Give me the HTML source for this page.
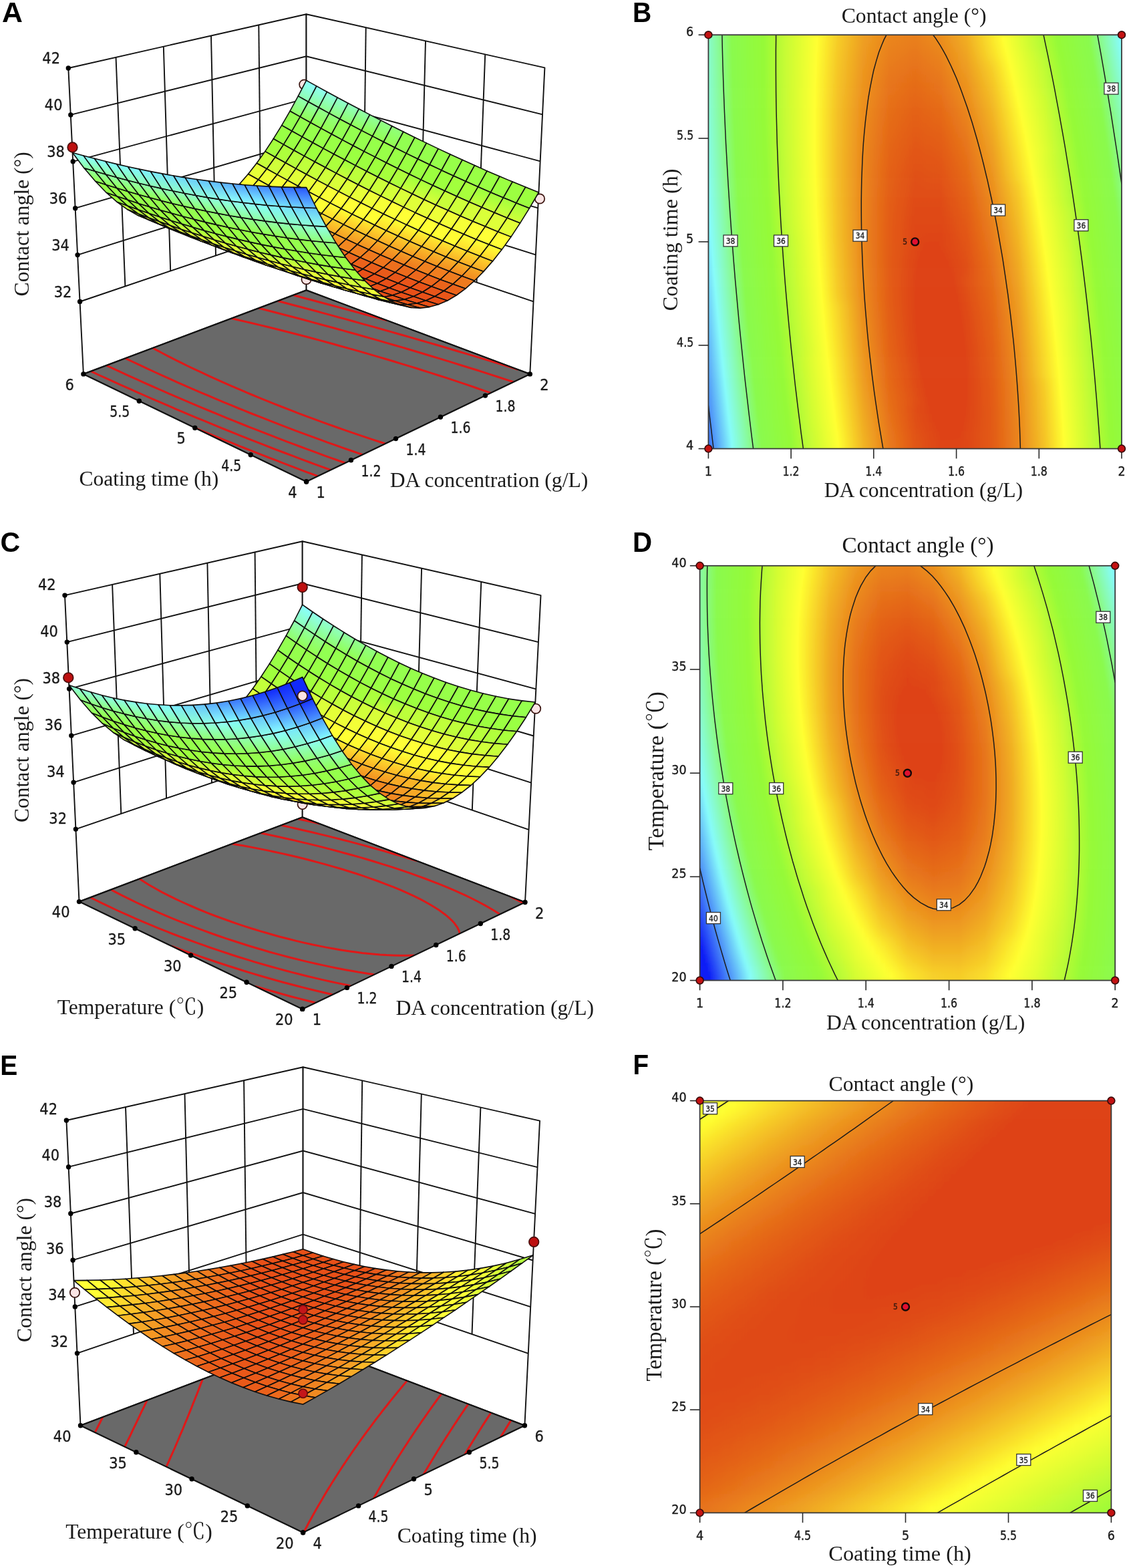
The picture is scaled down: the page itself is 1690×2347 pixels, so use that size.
<!DOCTYPE html>
<html><head><meta charset="utf-8"><title>Contact angle response surfaces</title>
<style>html,body{margin:0;padding:0;background:#fff}svg{display:block}</style></head>
<body>
<svg xmlns="http://www.w3.org/2000/svg" width="1690" height="2347" viewBox="0 0 1690 2347">
<rect width="1690" height="2347" fill="#fff"/>
<defs>
<clipPath id="clipB"><rect x="1060.4" y="52.2" width="618.6" height="619.4"/></clipPath>
<filter id="blB" filterUnits="userSpaceOnUse" x="1020" y="-8" width="699" height="739"><feGaussianBlur stdDeviation="0 7.1"/></filter>
<linearGradient id="gB0"><stop offset="0" stop-color="#88fbcb"/><stop offset="0.0562" stop-color="#8afa4e"/><stop offset="0.1336" stop-color="#96fa37"/><stop offset="0.1875" stop-color="#c7fc34"/><stop offset="0.2632" stop-color="#ffff30"/><stop offset="0.3125" stop-color="#f6cd28"/><stop offset="0.375" stop-color="#ee9f21"/><stop offset="0.4375" stop-color="#ea851d"/><stop offset="0.5" stop-color="#e97f1c"/><stop offset="0.5625" stop-color="#eb8d1e"/><stop offset="0.625" stop-color="#f1ae23"/><stop offset="0.7135" stop-color="#ffff30"/><stop offset="0.8431" stop-color="#96fa37"/><stop offset="0.9205" stop-color="#8afa4e"/><stop offset="0.9961" stop-color="#87fcfa"/><stop offset="1" stop-color="#82f3fa"/></linearGradient>
<linearGradient id="gB1"><stop offset="0" stop-color="#88fbcd"/><stop offset="0.0566" stop-color="#8afa4e"/><stop offset="0.1336" stop-color="#96fa37"/><stop offset="0.1875" stop-color="#c8fc34"/><stop offset="0.262" stop-color="#ffff30"/><stop offset="0.3125" stop-color="#f6cb28"/><stop offset="0.375" stop-color="#ee9d20"/><stop offset="0.4375" stop-color="#e9821c"/><stop offset="0.5" stop-color="#e87b1b"/><stop offset="0.5625" stop-color="#ea881d"/><stop offset="0.625" stop-color="#f0a922"/><stop offset="0.7189" stop-color="#ffff30"/><stop offset="0.8473" stop-color="#96fa37"/><stop offset="0.9244" stop-color="#8afa4e"/><stop offset="0.9997" stop-color="#87fcfa"/><stop offset="1" stop-color="#87fbfa"/></linearGradient>
<linearGradient id="gB2"><stop offset="0" stop-color="#88fbce"/><stop offset="0.057" stop-color="#8afa4e"/><stop offset="0.1337" stop-color="#96fa37"/><stop offset="0.1875" stop-color="#c8fc34"/><stop offset="0.261" stop-color="#ffff30"/><stop offset="0.3125" stop-color="#f6c927"/><stop offset="0.375" stop-color="#ed9a20"/><stop offset="0.4375" stop-color="#e97f1c"/><stop offset="0.5" stop-color="#e7771a"/><stop offset="0.5625" stop-color="#e9831c"/><stop offset="0.625" stop-color="#efa421"/><stop offset="0.7242" stop-color="#ffff30"/><stop offset="0.8125" stop-color="#bbfc35"/><stop offset="0.8515" stop-color="#96fa37"/><stop offset="0.9282" stop-color="#8afa4e"/><stop offset="1" stop-color="#87fcf2"/></linearGradient>
<linearGradient id="gB3"><stop offset="0" stop-color="#88fcd0"/><stop offset="0.0575" stop-color="#8afa4e"/><stop offset="0.1339" stop-color="#96fa37"/><stop offset="0.1875" stop-color="#c8fc34"/><stop offset="0.26" stop-color="#ffff30"/><stop offset="0.3125" stop-color="#f5c827"/><stop offset="0.375" stop-color="#ed9820"/><stop offset="0.4375" stop-color="#e87c1b"/><stop offset="0.5" stop-color="#e7741a"/><stop offset="0.5625" stop-color="#e97f1c"/><stop offset="0.625" stop-color="#ee9f21"/><stop offset="0.6875" stop-color="#f7d229"/><stop offset="0.7294" stop-color="#ffff30"/><stop offset="0.8125" stop-color="#bffc34"/><stop offset="0.8556" stop-color="#96fa37"/><stop offset="0.9319" stop-color="#8afa4e"/><stop offset="1" stop-color="#87fce9"/></linearGradient>
<linearGradient id="gB4"><stop offset="0" stop-color="#88fcd1"/><stop offset="0.0581" stop-color="#8afa4e"/><stop offset="0.1341" stop-color="#96fa37"/><stop offset="0.1875" stop-color="#c8fc34"/><stop offset="0.2592" stop-color="#ffff30"/><stop offset="0.3125" stop-color="#f5c627"/><stop offset="0.375" stop-color="#ed961f"/><stop offset="0.4375" stop-color="#e8791b"/><stop offset="0.5" stop-color="#e67019"/><stop offset="0.5625" stop-color="#e87b1b"/><stop offset="0.625" stop-color="#ed9a20"/><stop offset="0.6875" stop-color="#f6cc28"/><stop offset="0.7344" stop-color="#ffff30"/><stop offset="0.8125" stop-color="#c3fc34"/><stop offset="0.8596" stop-color="#96fa37"/><stop offset="0.9356" stop-color="#8afa4e"/><stop offset="1" stop-color="#87fce1"/></linearGradient>
<linearGradient id="gB5"><stop offset="0" stop-color="#88fcd3"/><stop offset="0.0587" stop-color="#8afa4e"/><stop offset="0.1344" stop-color="#96fa37"/><stop offset="0.1875" stop-color="#c8fc34"/><stop offset="0.2586" stop-color="#ffff30"/><stop offset="0.3125" stop-color="#f5c527"/><stop offset="0.375" stop-color="#ec941f"/><stop offset="0.4375" stop-color="#e7761a"/><stop offset="0.5" stop-color="#e56d19"/><stop offset="0.5625" stop-color="#e7771a"/><stop offset="0.625" stop-color="#ec951f"/><stop offset="0.6875" stop-color="#f5c727"/><stop offset="0.7393" stop-color="#ffff30"/><stop offset="0.8125" stop-color="#c6fc34"/><stop offset="0.8635" stop-color="#96fa37"/><stop offset="0.9392" stop-color="#8afa4e"/><stop offset="1" stop-color="#88fcd8"/></linearGradient>
<linearGradient id="gB6"><stop offset="0" stop-color="#88fcd5"/><stop offset="0.0593" stop-color="#8afa4e"/><stop offset="0.1347" stop-color="#96fa37"/><stop offset="0.1875" stop-color="#c8fc34"/><stop offset="0.258" stop-color="#ffff30"/><stop offset="0.3125" stop-color="#f5c327"/><stop offset="0.375" stop-color="#ec921f"/><stop offset="0.4375" stop-color="#e7741a"/><stop offset="0.5" stop-color="#e56918"/><stop offset="0.5625" stop-color="#e7731a"/><stop offset="0.625" stop-color="#ec901e"/><stop offset="0.6875" stop-color="#f4c126"/><stop offset="0.7441" stop-color="#ffff30"/><stop offset="0.8125" stop-color="#cafc34"/><stop offset="0.8674" stop-color="#96fa37"/><stop offset="0.9428" stop-color="#8afa4e"/><stop offset="1" stop-color="#88fcd0"/></linearGradient>
<linearGradient id="gB7"><stop offset="0" stop-color="#88fcd7"/><stop offset="0.06" stop-color="#8afa4e"/><stop offset="0.1351" stop-color="#96fa37"/><stop offset="0.1875" stop-color="#c8fc34"/><stop offset="0.2576" stop-color="#ffff30"/><stop offset="0.3125" stop-color="#f4c226"/><stop offset="0.375" stop-color="#ec901e"/><stop offset="0.4375" stop-color="#e67119"/><stop offset="0.5" stop-color="#e46618"/><stop offset="0.5625" stop-color="#e66f19"/><stop offset="0.625" stop-color="#eb8c1e"/><stop offset="0.6875" stop-color="#f3bc25"/><stop offset="0.7488" stop-color="#ffff30"/><stop offset="0.8125" stop-color="#cefd33"/><stop offset="0.8712" stop-color="#96fa37"/><stop offset="0.9463" stop-color="#8afa4e"/><stop offset="1" stop-color="#88fbc8"/></linearGradient>
<linearGradient id="gB8"><stop offset="0" stop-color="#88fcda"/><stop offset="0.0608" stop-color="#8afa4e"/><stop offset="0.1356" stop-color="#96fa37"/><stop offset="0.1875" stop-color="#c8fc34"/><stop offset="0.2573" stop-color="#ffff30"/><stop offset="0.3125" stop-color="#f4c126"/><stop offset="0.375" stop-color="#eb8e1e"/><stop offset="0.4375" stop-color="#e66f19"/><stop offset="0.5" stop-color="#e46317"/><stop offset="0.5625" stop-color="#e56b19"/><stop offset="0.625" stop-color="#ea871d"/><stop offset="0.6875" stop-color="#f2b725"/><stop offset="0.7533" stop-color="#ffff30"/><stop offset="0.8125" stop-color="#d1fd33"/><stop offset="0.875" stop-color="#96fa37"/><stop offset="0.9498" stop-color="#8afa4e"/><stop offset="1" stop-color="#88fbc0"/></linearGradient>
<linearGradient id="gB9"><stop offset="0" stop-color="#88fcdc"/><stop offset="0.0616" stop-color="#8afa4e"/><stop offset="0.1362" stop-color="#96fa37"/><stop offset="0.1875" stop-color="#c8fc34"/><stop offset="0.257" stop-color="#ffff30"/><stop offset="0.3125" stop-color="#f4c026"/><stop offset="0.375" stop-color="#eb8d1e"/><stop offset="0.4375" stop-color="#e56d19"/><stop offset="0.5" stop-color="#e36017"/><stop offset="0.5625" stop-color="#e56818"/><stop offset="0.625" stop-color="#e9831c"/><stop offset="0.6875" stop-color="#f2b224"/><stop offset="0.7578" stop-color="#ffff30"/><stop offset="0.8125" stop-color="#d5fd33"/><stop offset="0.8787" stop-color="#96fa37"/><stop offset="0.9532" stop-color="#8afa4e"/><stop offset="1" stop-color="#88fbb8"/></linearGradient>
<linearGradient id="gB10"><stop offset="0" stop-color="#87fcdf"/><stop offset="0.0625" stop-color="#8afa4e"/><stop offset="0.1368" stop-color="#96fa37"/><stop offset="0.1875" stop-color="#c7fc34"/><stop offset="0.2569" stop-color="#ffff30"/><stop offset="0.3125" stop-color="#f4c026"/><stop offset="0.375" stop-color="#eb8b1e"/><stop offset="0.4375" stop-color="#e56b18"/><stop offset="0.5" stop-color="#e35e16"/><stop offset="0.5625" stop-color="#e46517"/><stop offset="0.625" stop-color="#e97f1c"/><stop offset="0.6875" stop-color="#f1ae23"/><stop offset="0.7621" stop-color="#ffff30"/><stop offset="0.8125" stop-color="#d8fd33"/><stop offset="0.8823" stop-color="#96fa37"/><stop offset="0.9566" stop-color="#8afa4e"/><stop offset="1" stop-color="#88fbb0"/></linearGradient>
<linearGradient id="gB11"><stop offset="0" stop-color="#87fce1"/><stop offset="0.0634" stop-color="#8afa4e"/><stop offset="0.1375" stop-color="#96fa37"/><stop offset="0.1875" stop-color="#c7fc34"/><stop offset="0.2569" stop-color="#ffff30"/><stop offset="0.3125" stop-color="#f4bf26"/><stop offset="0.375" stop-color="#eb8a1d"/><stop offset="0.4375" stop-color="#e56918"/><stop offset="0.5" stop-color="#e25b16"/><stop offset="0.5625" stop-color="#e36117"/><stop offset="0.625" stop-color="#e87b1b"/><stop offset="0.6875" stop-color="#f0a922"/><stop offset="0.7663" stop-color="#ffff30"/><stop offset="0.8125" stop-color="#dbfd32"/><stop offset="0.8858" stop-color="#96fa37"/><stop offset="0.9599" stop-color="#8afa4e"/><stop offset="1" stop-color="#88fba9"/></linearGradient>
<linearGradient id="gB12"><stop offset="0" stop-color="#87fce4"/><stop offset="0.0643" stop-color="#8afa4e"/><stop offset="0.1382" stop-color="#96fa37"/><stop offset="0.1875" stop-color="#c6fc34"/><stop offset="0.257" stop-color="#ffff30"/><stop offset="0.3125" stop-color="#f4bf26"/><stop offset="0.375" stop-color="#ea891d"/><stop offset="0.4375" stop-color="#e46718"/><stop offset="0.5" stop-color="#e25916"/><stop offset="0.5625" stop-color="#e35e16"/><stop offset="0.625" stop-color="#e7771a"/><stop offset="0.6875" stop-color="#efa522"/><stop offset="0.7705" stop-color="#ffff30"/><stop offset="0.8125" stop-color="#defd32"/><stop offset="0.8893" stop-color="#96fa37"/><stop offset="0.9632" stop-color="#8afa4e"/><stop offset="1" stop-color="#89fba1"/></linearGradient>
<linearGradient id="gB13"><stop offset="0" stop-color="#87fce7"/><stop offset="0.0654" stop-color="#8afa4e"/><stop offset="0.139" stop-color="#96fa37"/><stop offset="0.1875" stop-color="#c6fc34"/><stop offset="0.2572" stop-color="#ffff30"/><stop offset="0.3125" stop-color="#f4be26"/><stop offset="0.375" stop-color="#ea881d"/><stop offset="0.4375" stop-color="#e46518"/><stop offset="0.5" stop-color="#e25615"/><stop offset="0.5625" stop-color="#e25b16"/><stop offset="0.625" stop-color="#e7741a"/><stop offset="0.6875" stop-color="#eea021"/><stop offset="0.7745" stop-color="#ffff30"/><stop offset="0.8125" stop-color="#e2fe32"/><stop offset="0.8927" stop-color="#96fa37"/><stop offset="0.9664" stop-color="#8afa4e"/><stop offset="1" stop-color="#89fb9a"/></linearGradient>
<linearGradient id="gB14"><stop offset="0" stop-color="#87fcea"/><stop offset="0.0664" stop-color="#8afa4e"/><stop offset="0.1399" stop-color="#96fa37"/><stop offset="0.1875" stop-color="#c5fc34"/><stop offset="0.2575" stop-color="#ffff30"/><stop offset="0.3125" stop-color="#f4be26"/><stop offset="0.375" stop-color="#ea871d"/><stop offset="0.4375" stop-color="#e46417"/><stop offset="0.5" stop-color="#e15415"/><stop offset="0.5625" stop-color="#e25816"/><stop offset="0.625" stop-color="#e67019"/><stop offset="0.6875" stop-color="#ee9c20"/><stop offset="0.7784" stop-color="#ffff30"/><stop offset="0.8961" stop-color="#96fa37"/><stop offset="0.9695" stop-color="#8afa4e"/><stop offset="1" stop-color="#89fb93"/></linearGradient>
<linearGradient id="gB15"><stop offset="0" stop-color="#87fced"/><stop offset="0.0676" stop-color="#8afa4e"/><stop offset="0.1408" stop-color="#96fa37"/><stop offset="0.1875" stop-color="#c4fc34"/><stop offset="0.2579" stop-color="#ffff30"/><stop offset="0.3125" stop-color="#f4be26"/><stop offset="0.375" stop-color="#ea861d"/><stop offset="0.4375" stop-color="#e46217"/><stop offset="0.5" stop-color="#e15215"/><stop offset="0.5625" stop-color="#e15615"/><stop offset="0.625" stop-color="#e56d19"/><stop offset="0.6875" stop-color="#ed9820"/><stop offset="0.7823" stop-color="#ffff30"/><stop offset="0.8994" stop-color="#96fa37"/><stop offset="0.9726" stop-color="#8afa4e"/><stop offset="1" stop-color="#89fb8c"/></linearGradient>
<linearGradient id="gB16"><stop offset="0" stop-color="#87fcf0"/><stop offset="0.0687" stop-color="#8afa4e"/><stop offset="0.1418" stop-color="#96fa37"/><stop offset="0.1875" stop-color="#c4fc34"/><stop offset="0.2584" stop-color="#ffff30"/><stop offset="0.3125" stop-color="#f4be26"/><stop offset="0.375" stop-color="#ea861d"/><stop offset="0.4375" stop-color="#e36117"/><stop offset="0.5" stop-color="#e05014"/><stop offset="0.5625" stop-color="#e15315"/><stop offset="0.625" stop-color="#e56a18"/><stop offset="0.6875" stop-color="#ec941f"/><stop offset="0.786" stop-color="#ffff30"/><stop offset="0.9026" stop-color="#96fa37"/><stop offset="0.9757" stop-color="#8afa4e"/><stop offset="1" stop-color="#89fb85"/></linearGradient>
<linearGradient id="gB17"><stop offset="0" stop-color="#87fcf4"/><stop offset="0.0699" stop-color="#8afa4e"/><stop offset="0.1428" stop-color="#96fa37"/><stop offset="0.1875" stop-color="#c3fc34"/><stop offset="0.259" stop-color="#ffff30"/><stop offset="0.3125" stop-color="#f4be26"/><stop offset="0.375" stop-color="#ea851d"/><stop offset="0.4375" stop-color="#e36017"/><stop offset="0.5" stop-color="#e04e14"/><stop offset="0.5625" stop-color="#e15014"/><stop offset="0.625" stop-color="#e46618"/><stop offset="0.6875" stop-color="#ec901e"/><stop offset="0.75" stop-color="#f6ce28"/><stop offset="0.7896" stop-color="#ffff30"/><stop offset="0.9058" stop-color="#96fa37"/><stop offset="0.9787" stop-color="#8afa4e"/><stop offset="1" stop-color="#89fb7e"/></linearGradient>
<linearGradient id="gB18"><stop offset="0" stop-color="#87fcf7"/><stop offset="0.0712" stop-color="#8afa4e"/><stop offset="0.1439" stop-color="#96fa37"/><stop offset="0.1875" stop-color="#c2fc34"/><stop offset="0.2597" stop-color="#ffff30"/><stop offset="0.3125" stop-color="#f4bf26"/><stop offset="0.375" stop-color="#ea851d"/><stop offset="0.4375" stop-color="#e35f17"/><stop offset="0.5" stop-color="#e04d14"/><stop offset="0.5625" stop-color="#e04e14"/><stop offset="0.625" stop-color="#e46317"/><stop offset="0.6875" stop-color="#eb8c1e"/><stop offset="0.75" stop-color="#f6c927"/><stop offset="0.7932" stop-color="#ffff30"/><stop offset="0.9089" stop-color="#96fa37"/><stop offset="0.9817" stop-color="#8afa4e"/><stop offset="1" stop-color="#89fa77"/></linearGradient>
<linearGradient id="gB19"><stop offset="0" stop-color="#87fbfa"/><stop offset="0.0003" stop-color="#87fcfa"/><stop offset="0.0725" stop-color="#8afa4e"/><stop offset="0.1451" stop-color="#96fa37"/><stop offset="0.1875" stop-color="#c1fc34"/><stop offset="0.2604" stop-color="#ffff30"/><stop offset="0.3125" stop-color="#f4bf26"/><stop offset="0.375" stop-color="#ea851d"/><stop offset="0.4375" stop-color="#e35e16"/><stop offset="0.5" stop-color="#e04b13"/><stop offset="0.5625" stop-color="#e04c14"/><stop offset="0.625" stop-color="#e36117"/><stop offset="0.6875" stop-color="#ea891d"/><stop offset="0.75" stop-color="#f5c527"/><stop offset="0.7967" stop-color="#ffff30"/><stop offset="0.912" stop-color="#96fa37"/><stop offset="0.9846" stop-color="#8afa4e"/><stop offset="1" stop-color="#89fa71"/></linearGradient>
<linearGradient id="gB20"><stop offset="0" stop-color="#85f8fa"/><stop offset="0.0018" stop-color="#87fcfa"/><stop offset="0.0739" stop-color="#8afa4e"/><stop offset="0.1463" stop-color="#96fa37"/><stop offset="0.1875" stop-color="#c0fc34"/><stop offset="0.2613" stop-color="#ffff30"/><stop offset="0.3125" stop-color="#f4c026"/><stop offset="0.375" stop-color="#ea851d"/><stop offset="0.4375" stop-color="#e35d16"/><stop offset="0.5" stop-color="#df4a13"/><stop offset="0.5625" stop-color="#df4a13"/><stop offset="0.625" stop-color="#e35e16"/><stop offset="0.6875" stop-color="#ea861d"/><stop offset="0.75" stop-color="#f4c126"/><stop offset="0.8001" stop-color="#ffff30"/><stop offset="0.875" stop-color="#bffc34"/><stop offset="0.915" stop-color="#96fa37"/><stop offset="0.9874" stop-color="#8afa4e"/><stop offset="1" stop-color="#8afa6a"/></linearGradient>
<linearGradient id="gB21"><stop offset="0" stop-color="#83f4fa"/><stop offset="0.0033" stop-color="#87fcfa"/><stop offset="0.0753" stop-color="#8afa4e"/><stop offset="0.1476" stop-color="#96fa37"/><stop offset="0.1875" stop-color="#bffc34"/><stop offset="0.2622" stop-color="#ffff30"/><stop offset="0.3125" stop-color="#f4c126"/><stop offset="0.375" stop-color="#ea851d"/><stop offset="0.4375" stop-color="#e35d16"/><stop offset="0.5" stop-color="#df4813"/><stop offset="0.5625" stop-color="#df4813"/><stop offset="0.625" stop-color="#e25b16"/><stop offset="0.6875" stop-color="#e9821c"/><stop offset="0.75" stop-color="#f3bd26"/><stop offset="0.8034" stop-color="#ffff30"/><stop offset="0.875" stop-color="#c2fc34"/><stop offset="0.918" stop-color="#96fa37"/><stop offset="0.9903" stop-color="#8afa4e"/><stop offset="1" stop-color="#8afa64"/></linearGradient>
<linearGradient id="gB22"><stop offset="0" stop-color="#81f1fa"/><stop offset="0.0049" stop-color="#87fcfa"/><stop offset="0.0768" stop-color="#8afa4e"/><stop offset="0.149" stop-color="#96fa37"/><stop offset="0.1875" stop-color="#bdfc34"/><stop offset="0.2632" stop-color="#ffff30"/><stop offset="0.3125" stop-color="#f4c126"/><stop offset="0.375" stop-color="#ea851d"/><stop offset="0.4375" stop-color="#e35c16"/><stop offset="0.5" stop-color="#df4713"/><stop offset="0.5625" stop-color="#df4613"/><stop offset="0.625" stop-color="#e25916"/><stop offset="0.6875" stop-color="#e97f1c"/><stop offset="0.75" stop-color="#f3b925"/><stop offset="0.8066" stop-color="#ffff30"/><stop offset="0.875" stop-color="#c5fc34"/><stop offset="0.9208" stop-color="#96fa37"/><stop offset="0.993" stop-color="#8afa4e"/><stop offset="1" stop-color="#8afa5e"/></linearGradient>
<linearGradient id="gB23"><stop offset="0" stop-color="#7fedfa"/><stop offset="0.0065" stop-color="#87fcfa"/><stop offset="0.0783" stop-color="#8afa4e"/><stop offset="0.1504" stop-color="#96fa37"/><stop offset="0.2643" stop-color="#ffff30"/><stop offset="0.3125" stop-color="#f4c226"/><stop offset="0.375" stop-color="#ea851d"/><stop offset="0.4375" stop-color="#e35c16"/><stop offset="0.5" stop-color="#df4613"/><stop offset="0.5625" stop-color="#de4412"/><stop offset="0.625" stop-color="#e25615"/><stop offset="0.6875" stop-color="#e87c1b"/><stop offset="0.75" stop-color="#f2b624"/><stop offset="0.8097" stop-color="#ffff30"/><stop offset="0.875" stop-color="#c7fc34"/><stop offset="0.9237" stop-color="#96fa37"/><stop offset="0.9957" stop-color="#8afa4e"/><stop offset="1" stop-color="#8afa58"/></linearGradient>
<linearGradient id="gB24"><stop offset="0" stop-color="#7de9fa"/><stop offset="0.0081" stop-color="#87fcfa"/><stop offset="0.0799" stop-color="#8afa4e"/><stop offset="0.1518" stop-color="#96fa37"/><stop offset="0.2655" stop-color="#ffff30"/><stop offset="0.3125" stop-color="#f5c327"/><stop offset="0.375" stop-color="#ea861d"/><stop offset="0.4375" stop-color="#e25c16"/><stop offset="0.5241" stop-color="#de4212"/><stop offset="0.5542" stop-color="#de4212"/><stop offset="0.625" stop-color="#e15415"/><stop offset="0.6875" stop-color="#e8791b"/><stop offset="0.75" stop-color="#f2b224"/><stop offset="0.8127" stop-color="#ffff30"/><stop offset="0.875" stop-color="#cafc34"/><stop offset="0.9264" stop-color="#96fa37"/><stop offset="0.9984" stop-color="#8afa4e"/><stop offset="1" stop-color="#8afa52"/></linearGradient>
<linearGradient id="gB25"><stop offset="0" stop-color="#7be5fa"/><stop offset="0.0098" stop-color="#87fcfa"/><stop offset="0.0815" stop-color="#8afa4e"/><stop offset="0.1534" stop-color="#96fa37"/><stop offset="0.2668" stop-color="#ffff30"/><stop offset="0.3125" stop-color="#f5c527"/><stop offset="0.375" stop-color="#ea861d"/><stop offset="0.4375" stop-color="#e25c16"/><stop offset="0.515" stop-color="#de4212"/><stop offset="0.5675" stop-color="#de4212"/><stop offset="0.625" stop-color="#e15215"/><stop offset="0.6875" stop-color="#e7761a"/><stop offset="0.75" stop-color="#f1af23"/><stop offset="0.8157" stop-color="#ffff30"/><stop offset="0.875" stop-color="#cdfd33"/><stop offset="0.9292" stop-color="#96fa37"/><stop offset="1" stop-color="#8afa4e"/></linearGradient>
<linearGradient id="gB26"><stop offset="0" stop-color="#78e1fa"/><stop offset="0.0115" stop-color="#87fcfa"/><stop offset="0.0831" stop-color="#8afa4e"/><stop offset="0.1549" stop-color="#96fa37"/><stop offset="0.2681" stop-color="#ffff30"/><stop offset="0.3125" stop-color="#f5c627"/><stop offset="0.375" stop-color="#ea871d"/><stop offset="0.4375" stop-color="#e25c16"/><stop offset="0.51" stop-color="#de4212"/><stop offset="0.5767" stop-color="#de4212"/><stop offset="0.625" stop-color="#e05014"/><stop offset="0.6875" stop-color="#e7741a"/><stop offset="0.75" stop-color="#f0ab23"/><stop offset="0.8186" stop-color="#ffff30"/><stop offset="0.875" stop-color="#cffd33"/><stop offset="0.9318" stop-color="#96fa37"/><stop offset="1" stop-color="#8bfa4d"/></linearGradient>
<linearGradient id="gB27"><stop offset="0" stop-color="#76ddf9"/><stop offset="0.0132" stop-color="#87fcfa"/><stop offset="0.0848" stop-color="#8afa4e"/><stop offset="0.1566" stop-color="#96fa37"/><stop offset="0.2696" stop-color="#ffff30"/><stop offset="0.3125" stop-color="#f5c827"/><stop offset="0.375" stop-color="#ea881d"/><stop offset="0.4375" stop-color="#e25c16"/><stop offset="0.5069" stop-color="#de4212"/><stop offset="0.5841" stop-color="#de4212"/><stop offset="0.625" stop-color="#e04e14"/><stop offset="0.6875" stop-color="#e6711a"/><stop offset="0.75" stop-color="#f0a822"/><stop offset="0.8214" stop-color="#ffff30"/><stop offset="0.875" stop-color="#d2fd33"/><stop offset="0.9344" stop-color="#96fa37"/><stop offset="1" stop-color="#8bfa4c"/></linearGradient>
<linearGradient id="gB28"><stop offset="0" stop-color="#74d8f9"/><stop offset="0.0151" stop-color="#87fcfa"/><stop offset="0.0866" stop-color="#8afa4e"/><stop offset="0.1582" stop-color="#96fa37"/><stop offset="0.2711" stop-color="#ffff30"/><stop offset="0.3125" stop-color="#f6c927"/><stop offset="0.375" stop-color="#ea891d"/><stop offset="0.4375" stop-color="#e35c16"/><stop offset="0.5049" stop-color="#de4212"/><stop offset="0.5903" stop-color="#de4212"/><stop offset="0.6875" stop-color="#e66f19"/><stop offset="0.75" stop-color="#efa522"/><stop offset="0.8241" stop-color="#ffff30"/><stop offset="0.875" stop-color="#d4fd33"/><stop offset="0.937" stop-color="#96fa37"/><stop offset="1" stop-color="#8cfa4b"/></linearGradient>
<linearGradient id="gB29"><stop offset="0" stop-color="#71d4f9"/><stop offset="0.0169" stop-color="#87fcfa"/><stop offset="0.0884" stop-color="#8afa4e"/><stop offset="0.16" stop-color="#96fa37"/><stop offset="0.2727" stop-color="#ffff30"/><stop offset="0.3125" stop-color="#f6cb28"/><stop offset="0.375" stop-color="#eb8a1d"/><stop offset="0.4375" stop-color="#e35d16"/><stop offset="0.5037" stop-color="#de4212"/><stop offset="0.5957" stop-color="#de4212"/><stop offset="0.6875" stop-color="#e56d19"/><stop offset="0.75" stop-color="#efa221"/><stop offset="0.8268" stop-color="#ffff30"/><stop offset="0.875" stop-color="#d6fd33"/><stop offset="0.9394" stop-color="#96fa37"/><stop offset="1" stop-color="#8cfa4a"/></linearGradient>
<linearGradient id="gB30"><stop offset="0" stop-color="#6fcff9"/><stop offset="0.0188" stop-color="#87fcfa"/><stop offset="0.0902" stop-color="#8afa4e"/><stop offset="0.1618" stop-color="#96fa37"/><stop offset="0.2743" stop-color="#ffff30"/><stop offset="0.3125" stop-color="#f6cd28"/><stop offset="0.375" stop-color="#eb8b1e"/><stop offset="0.4375" stop-color="#e35d16"/><stop offset="0.5032" stop-color="#de4212"/><stop offset="0.5625" stop-color="#de4212"/><stop offset="0.6004" stop-color="#de4212"/><stop offset="0.6875" stop-color="#e56b18"/><stop offset="0.75" stop-color="#ee9f21"/><stop offset="0.8293" stop-color="#ffff30"/><stop offset="0.875" stop-color="#d9fd33"/><stop offset="0.9419" stop-color="#96fa37"/><stop offset="1" stop-color="#8cfa49"/></linearGradient>
<linearGradient id="gB31"><stop offset="0" stop-color="#6ccaf9"/><stop offset="0.0207" stop-color="#87fcfa"/><stop offset="0.0921" stop-color="#8afa4e"/><stop offset="0.1636" stop-color="#96fa37"/><stop offset="0.2761" stop-color="#ffff30"/><stop offset="0.375" stop-color="#eb8d1e"/><stop offset="0.4375" stop-color="#e35e16"/><stop offset="0.5033" stop-color="#de4212"/><stop offset="0.5625" stop-color="#de4212"/><stop offset="0.6046" stop-color="#de4212"/><stop offset="0.6875" stop-color="#e56918"/><stop offset="0.75" stop-color="#ee9d20"/><stop offset="0.8318" stop-color="#ffff30"/><stop offset="0.875" stop-color="#dbfd32"/><stop offset="0.9443" stop-color="#96fa37"/><stop offset="1" stop-color="#8dfa49"/></linearGradient>
<linearGradient id="gB32"><stop offset="0" stop-color="#6ac6f9"/><stop offset="0.0227" stop-color="#87fcfa"/><stop offset="0.0941" stop-color="#8afa4e"/><stop offset="0.1655" stop-color="#96fa37"/><stop offset="0.2779" stop-color="#ffff30"/><stop offset="0.375" stop-color="#eb8e1e"/><stop offset="0.4375" stop-color="#e35f17"/><stop offset="0.5038" stop-color="#de4212"/><stop offset="0.5625" stop-color="#de4212"/><stop offset="0.6083" stop-color="#de4212"/><stop offset="0.6875" stop-color="#e46718"/><stop offset="0.75" stop-color="#ed9a20"/><stop offset="0.8342" stop-color="#ffff30"/><stop offset="0.875" stop-color="#ddfd32"/><stop offset="0.9466" stop-color="#96fa37"/><stop offset="1" stop-color="#8dfa48"/></linearGradient>
<linearGradient id="gB33"><stop offset="0" stop-color="#67c1f9"/><stop offset="0.0247" stop-color="#87fcfa"/><stop offset="0.0961" stop-color="#8afa4e"/><stop offset="0.1675" stop-color="#96fa37"/><stop offset="0.2798" stop-color="#ffff30"/><stop offset="0.375" stop-color="#ec901e"/><stop offset="0.4375" stop-color="#e36017"/><stop offset="0.5048" stop-color="#de4212"/><stop offset="0.5625" stop-color="#de4212"/><stop offset="0.6115" stop-color="#de4212"/><stop offset="0.6875" stop-color="#e46518"/><stop offset="0.75" stop-color="#ed9820"/><stop offset="0.8365" stop-color="#ffff30"/><stop offset="0.875" stop-color="#dffd32"/><stop offset="0.9488" stop-color="#96fa37"/><stop offset="1" stop-color="#8efa47"/></linearGradient>
<linearGradient id="gB34"><stop offset="0" stop-color="#64bcf9"/><stop offset="0.0267" stop-color="#87fcfa"/><stop offset="0.0981" stop-color="#8afa4e"/><stop offset="0.1695" stop-color="#96fa37"/><stop offset="0.2818" stop-color="#ffff30"/><stop offset="0.375" stop-color="#ec921f"/><stop offset="0.4375" stop-color="#e36117"/><stop offset="0.5063" stop-color="#de4212"/><stop offset="0.5625" stop-color="#de4212"/><stop offset="0.6143" stop-color="#de4212"/><stop offset="0.6875" stop-color="#e46417"/><stop offset="0.75" stop-color="#ed961f"/><stop offset="0.8388" stop-color="#ffff30"/><stop offset="0.9511" stop-color="#96fa37"/><stop offset="1" stop-color="#8efa46"/></linearGradient>
<linearGradient id="gB35"><stop offset="0" stop-color="#61b6f9"/><stop offset="0.0288" stop-color="#87fcfa"/><stop offset="0.1002" stop-color="#8afa4e"/><stop offset="0.1716" stop-color="#96fa37"/><stop offset="0.2839" stop-color="#ffff30"/><stop offset="0.375" stop-color="#ec931f"/><stop offset="0.4375" stop-color="#e46217"/><stop offset="0.5081" stop-color="#de4212"/><stop offset="0.5625" stop-color="#de4212"/><stop offset="0.6167" stop-color="#de4212"/><stop offset="0.6875" stop-color="#e46217"/><stop offset="0.75" stop-color="#ec941f"/><stop offset="0.8409" stop-color="#ffff30"/><stop offset="0.9532" stop-color="#96fa37"/><stop offset="1" stop-color="#8efa46"/></linearGradient>
<linearGradient id="gB36"><stop offset="0" stop-color="#5fb1f9"/><stop offset="0.0309" stop-color="#87fcfa"/><stop offset="0.1023" stop-color="#8afa4e"/><stop offset="0.1737" stop-color="#96fa37"/><stop offset="0.286" stop-color="#ffff30"/><stop offset="0.375" stop-color="#ed961f"/><stop offset="0.4375" stop-color="#e46317"/><stop offset="0.5103" stop-color="#de4212"/><stop offset="0.5625" stop-color="#de4212"/><stop offset="0.6187" stop-color="#de4212"/><stop offset="0.6875" stop-color="#e36117"/><stop offset="0.75" stop-color="#ec921f"/><stop offset="0.843" stop-color="#ffff30"/><stop offset="0.9553" stop-color="#96fa37"/><stop offset="1" stop-color="#8ffa45"/></linearGradient>
<linearGradient id="gB37"><stop offset="0" stop-color="#5cacf9"/><stop offset="0.0331" stop-color="#87fcfa"/><stop offset="0.1045" stop-color="#8afa4e"/><stop offset="0.1759" stop-color="#96fa37"/><stop offset="0.25" stop-color="#dffd32"/><stop offset="0.2882" stop-color="#ffff30"/><stop offset="0.375" stop-color="#ed9820"/><stop offset="0.4375" stop-color="#e46518"/><stop offset="0.513" stop-color="#de4212"/><stop offset="0.5625" stop-color="#de4212"/><stop offset="0.6203" stop-color="#de4212"/><stop offset="0.6875" stop-color="#e36017"/><stop offset="0.75" stop-color="#ec901e"/><stop offset="0.8451" stop-color="#ffff30"/><stop offset="0.9574" stop-color="#96fa37"/><stop offset="1" stop-color="#8ffa44"/></linearGradient>
<linearGradient id="gB38"><stop offset="0" stop-color="#59a6f8"/><stop offset="0.0353" stop-color="#87fcfa"/><stop offset="0.1067" stop-color="#8afa4e"/><stop offset="0.1782" stop-color="#96fa37"/><stop offset="0.25" stop-color="#ddfd32"/><stop offset="0.2905" stop-color="#ffff30"/><stop offset="0.375" stop-color="#ed9a20"/><stop offset="0.4375" stop-color="#e46718"/><stop offset="0.516" stop-color="#de4212"/><stop offset="0.5625" stop-color="#de4212"/><stop offset="0.6215" stop-color="#de4212"/><stop offset="0.6875" stop-color="#e35f17"/><stop offset="0.75" stop-color="#eb8e1e"/><stop offset="0.847" stop-color="#ffff30"/><stop offset="0.9593" stop-color="#96fa37"/><stop offset="1" stop-color="#8ffa44"/></linearGradient>
<linearGradient id="gB39"><stop offset="0" stop-color="#56a1f8"/><stop offset="0.0376" stop-color="#87fcfa"/><stop offset="0.109" stop-color="#8afa4e"/><stop offset="0.1805" stop-color="#96fa37"/><stop offset="0.25" stop-color="#dbfd32"/><stop offset="0.2929" stop-color="#ffff30"/><stop offset="0.375" stop-color="#ee9c20"/><stop offset="0.4375" stop-color="#e56818"/><stop offset="0.5195" stop-color="#de4212"/><stop offset="0.5625" stop-color="#de4212"/><stop offset="0.6222" stop-color="#de4212"/><stop offset="0.6875" stop-color="#e35e16"/><stop offset="0.75" stop-color="#eb8d1e"/><stop offset="0.8488" stop-color="#ffff30"/><stop offset="0.9613" stop-color="#96fa37"/><stop offset="1" stop-color="#90fa43"/></linearGradient>
<linearGradient id="gB40"><stop offset="0" stop-color="#529bf8"/><stop offset="0.0398" stop-color="#87fcfa"/><stop offset="0.1113" stop-color="#8afa4e"/><stop offset="0.1828" stop-color="#96fa37"/><stop offset="0.25" stop-color="#d9fd33"/><stop offset="0.2953" stop-color="#ffff30"/><stop offset="0.375" stop-color="#ee9f21"/><stop offset="0.4375" stop-color="#e56a18"/><stop offset="0.5235" stop-color="#de4212"/><stop offset="0.5625" stop-color="#de4212"/><stop offset="0.6225" stop-color="#de4212"/><stop offset="0.6875" stop-color="#e35d16"/><stop offset="0.75" stop-color="#eb8b1e"/><stop offset="0.8125" stop-color="#f6cd28"/><stop offset="0.8506" stop-color="#ffff30"/><stop offset="0.9631" stop-color="#96fa37"/><stop offset="1" stop-color="#90fa42"/></linearGradient>
<linearGradient id="gB41"><stop offset="0" stop-color="#4f95f8"/><stop offset="0.0422" stop-color="#87fcfa"/><stop offset="0.1137" stop-color="#8afa4e"/><stop offset="0.1852" stop-color="#96fa37"/><stop offset="0.25" stop-color="#d7fd33"/><stop offset="0.2979" stop-color="#ffff30"/><stop offset="0.375" stop-color="#efa221"/><stop offset="0.4375" stop-color="#e56c19"/><stop offset="0.528" stop-color="#de4212"/><stop offset="0.6222" stop-color="#de4212"/><stop offset="0.6875" stop-color="#e35c16"/><stop offset="0.75" stop-color="#eb8a1d"/><stop offset="0.8125" stop-color="#f6cb28"/><stop offset="0.8523" stop-color="#ffff30"/><stop offset="0.965" stop-color="#96fa37"/><stop offset="1" stop-color="#90fa42"/></linearGradient>
<linearGradient id="gB42"><stop offset="0" stop-color="#4c8ff8"/><stop offset="0.0446" stop-color="#87fcfa"/><stop offset="0.1161" stop-color="#8afa4e"/><stop offset="0.1877" stop-color="#96fa37"/><stop offset="0.25" stop-color="#d4fd33"/><stop offset="0.3005" stop-color="#ffff30"/><stop offset="0.375" stop-color="#efa522"/><stop offset="0.4375" stop-color="#e66e19"/><stop offset="0.5331" stop-color="#de4212"/><stop offset="0.6214" stop-color="#de4212"/><stop offset="0.6875" stop-color="#e35c16"/><stop offset="0.75" stop-color="#ea891d"/><stop offset="0.8125" stop-color="#f6c927"/><stop offset="0.854" stop-color="#ffff30"/><stop offset="0.9667" stop-color="#96fa37"/><stop offset="1" stop-color="#91fa41"/></linearGradient>
<linearGradient id="gB43"><stop offset="0" stop-color="#4989f8"/><stop offset="0.047" stop-color="#87fcfa"/><stop offset="0.1185" stop-color="#8afa4e"/><stop offset="0.1902" stop-color="#96fa37"/><stop offset="0.25" stop-color="#d2fd33"/><stop offset="0.3032" stop-color="#ffff30"/><stop offset="0.375" stop-color="#f0a822"/><stop offset="0.4375" stop-color="#e67119"/><stop offset="0.5" stop-color="#e04e14"/><stop offset="0.5389" stop-color="#de4212"/><stop offset="0.6197" stop-color="#de4212"/><stop offset="0.6875" stop-color="#e25b16"/><stop offset="0.75" stop-color="#ea881d"/><stop offset="0.8125" stop-color="#f5c827"/><stop offset="0.8555" stop-color="#ffff30"/><stop offset="0.9684" stop-color="#96fa37"/><stop offset="1" stop-color="#91fa41"/></linearGradient>
<linearGradient id="gB44"><stop offset="0" stop-color="#4583f8"/><stop offset="0.0494" stop-color="#87fcfa"/><stop offset="0.121" stop-color="#8afa4e"/><stop offset="0.1928" stop-color="#96fa37"/><stop offset="0.25" stop-color="#d0fd33"/><stop offset="0.3059" stop-color="#ffff30"/><stop offset="0.375" stop-color="#f0ab23"/><stop offset="0.4375" stop-color="#e7731a"/><stop offset="0.5" stop-color="#e05014"/><stop offset="0.5458" stop-color="#de4212"/><stop offset="0.6171" stop-color="#de4212"/><stop offset="0.6875" stop-color="#e25b16"/><stop offset="0.75" stop-color="#ea871d"/><stop offset="0.8125" stop-color="#f5c627"/><stop offset="0.857" stop-color="#ffff30"/><stop offset="0.9701" stop-color="#96fa37"/><stop offset="1" stop-color="#91fa40"/></linearGradient>
<linearGradient id="gB45"><stop offset="0" stop-color="#427cf8"/><stop offset="0.0519" stop-color="#87fcfa"/><stop offset="0.1236" stop-color="#8afa4e"/><stop offset="0.1954" stop-color="#96fa37"/><stop offset="0.25" stop-color="#cdfd33"/><stop offset="0.3088" stop-color="#ffff30"/><stop offset="0.375" stop-color="#f1ae23"/><stop offset="0.4375" stop-color="#e7761a"/><stop offset="0.5" stop-color="#e15114"/><stop offset="0.5541" stop-color="#de4212"/><stop offset="0.613" stop-color="#de4212"/><stop offset="0.6875" stop-color="#e25b16"/><stop offset="0.75" stop-color="#ea861d"/><stop offset="0.8125" stop-color="#f5c527"/><stop offset="0.8583" stop-color="#ffff30"/><stop offset="0.9717" stop-color="#96fa37"/><stop offset="1" stop-color="#92fa40"/></linearGradient>
<linearGradient id="gB46"><stop offset="0" stop-color="#3f76f8"/><stop offset="0.0544" stop-color="#87fcfa"/><stop offset="0.1262" stop-color="#8afa4e"/><stop offset="0.1981" stop-color="#96fa37"/><stop offset="0.25" stop-color="#cafc34"/><stop offset="0.3117" stop-color="#ffff30"/><stop offset="0.375" stop-color="#f1b124"/><stop offset="0.4375" stop-color="#e8791b"/><stop offset="0.5" stop-color="#e15415"/><stop offset="0.5652" stop-color="#de4212"/><stop offset="0.6062" stop-color="#de4212"/><stop offset="0.6875" stop-color="#e25b16"/><stop offset="0.75" stop-color="#ea851d"/><stop offset="0.8125" stop-color="#f5c327"/><stop offset="0.8596" stop-color="#ffff30"/><stop offset="0.9732" stop-color="#96fa37"/><stop offset="1" stop-color="#92fa3f"/></linearGradient>
<linearGradient id="gB47"><stop offset="0" stop-color="#3b6ff7"/><stop offset="0.057" stop-color="#87fcfa"/><stop offset="0.1288" stop-color="#8afa4e"/><stop offset="0.2009" stop-color="#96fa37"/><stop offset="0.25" stop-color="#c8fc34"/><stop offset="0.3147" stop-color="#ffff30"/><stop offset="0.375" stop-color="#f2b524"/><stop offset="0.4375" stop-color="#e87b1b"/><stop offset="0.5" stop-color="#e15615"/><stop offset="0.5625" stop-color="#de4412"/><stop offset="0.625" stop-color="#df4613"/><stop offset="0.6875" stop-color="#e25b16"/><stop offset="0.75" stop-color="#ea851d"/><stop offset="0.8125" stop-color="#f4c226"/><stop offset="0.8609" stop-color="#ffff30"/><stop offset="0.9747" stop-color="#96fa37"/><stop offset="1" stop-color="#92fa3f"/></linearGradient>
<clipPath id="clipD"><rect x="1047.6" y="846.8" width="621.6" height="620.7"/></clipPath>
<filter id="blD" filterUnits="userSpaceOnUse" x="1008" y="787" width="702" height="741"><feGaussianBlur stdDeviation="0 7.1"/></filter>
<linearGradient id="gD0"><stop offset="0" stop-color="#88fba6"/><stop offset="0.0409" stop-color="#8afa4e"/><stop offset="0.1192" stop-color="#96fa37"/><stop offset="0.1875" stop-color="#d3fd33"/><stop offset="0.2503" stop-color="#ffff30"/><stop offset="0.3125" stop-color="#f4c226"/><stop offset="0.375" stop-color="#ed9920"/><stop offset="0.4375" stop-color="#e9821c"/><stop offset="0.5" stop-color="#e97f1c"/><stop offset="0.5625" stop-color="#eb8f1e"/><stop offset="0.625" stop-color="#f2b324"/><stop offset="0.7074" stop-color="#ffff30"/><stop offset="0.75" stop-color="#e2fe32"/><stop offset="0.8384" stop-color="#96fa37"/><stop offset="0.9168" stop-color="#8afa4e"/><stop offset="0.9933" stop-color="#87fcfa"/><stop offset="1" stop-color="#7fedfa"/></linearGradient>
<linearGradient id="gD1"><stop offset="0" stop-color="#88fba6"/><stop offset="0.0404" stop-color="#8afa4e"/><stop offset="0.1181" stop-color="#96fa37"/><stop offset="0.1875" stop-color="#d4fd33"/><stop offset="0.247" stop-color="#ffff30"/><stop offset="0.3125" stop-color="#f4be26"/><stop offset="0.375" stop-color="#ec931f"/><stop offset="0.4375" stop-color="#e87c1b"/><stop offset="0.5" stop-color="#e7781b"/><stop offset="0.5625" stop-color="#ea871d"/><stop offset="0.625" stop-color="#f0aa23"/><stop offset="0.716" stop-color="#ffff30"/><stop offset="0.8449" stop-color="#96fa37"/><stop offset="0.9226" stop-color="#8afa4e"/><stop offset="0.9987" stop-color="#87fcfa"/><stop offset="1" stop-color="#85f9fa"/></linearGradient>
<linearGradient id="gD2"><stop offset="0" stop-color="#88fba6"/><stop offset="0.0401" stop-color="#8afa4e"/><stop offset="0.1172" stop-color="#96fa37"/><stop offset="0.1875" stop-color="#d6fd33"/><stop offset="0.2442" stop-color="#ffff30"/><stop offset="0.3125" stop-color="#f3ba25"/><stop offset="0.375" stop-color="#eb8e1e"/><stop offset="0.4375" stop-color="#e7761a"/><stop offset="0.5" stop-color="#e6711a"/><stop offset="0.5625" stop-color="#e9801c"/><stop offset="0.625" stop-color="#efa221"/><stop offset="0.7241" stop-color="#ffff30"/><stop offset="0.8125" stop-color="#bbfc35"/><stop offset="0.8511" stop-color="#96fa37"/><stop offset="0.9282" stop-color="#8afa4e"/><stop offset="1" stop-color="#87fcf1"/></linearGradient>
<linearGradient id="gD3"><stop offset="0" stop-color="#88fba6"/><stop offset="0.04" stop-color="#8afa4e"/><stop offset="0.1165" stop-color="#96fa37"/><stop offset="0.1875" stop-color="#d7fd33"/><stop offset="0.2418" stop-color="#ffff30"/><stop offset="0.3125" stop-color="#f2b624"/><stop offset="0.375" stop-color="#eb8a1d"/><stop offset="0.4375" stop-color="#e67119"/><stop offset="0.5" stop-color="#e56b19"/><stop offset="0.5625" stop-color="#e8791b"/><stop offset="0.625" stop-color="#ed9a20"/><stop offset="0.6875" stop-color="#f6ce28"/><stop offset="0.7318" stop-color="#ffff30"/><stop offset="0.8125" stop-color="#c0fc34"/><stop offset="0.8571" stop-color="#96fa37"/><stop offset="0.9336" stop-color="#8afa4e"/><stop offset="1" stop-color="#87fce4"/></linearGradient>
<linearGradient id="gD4"><stop offset="0" stop-color="#88fba7"/><stop offset="0.0401" stop-color="#8afa4e"/><stop offset="0.1161" stop-color="#96fa37"/><stop offset="0.1875" stop-color="#d8fd33"/><stop offset="0.2398" stop-color="#ffff30"/><stop offset="0.3125" stop-color="#f2b224"/><stop offset="0.375" stop-color="#ea851d"/><stop offset="0.4375" stop-color="#e56c19"/><stop offset="0.5" stop-color="#e46518"/><stop offset="0.5625" stop-color="#e6721a"/><stop offset="0.625" stop-color="#ec921f"/><stop offset="0.6875" stop-color="#f5c627"/><stop offset="0.7391" stop-color="#ffff30"/><stop offset="0.8125" stop-color="#c6fc34"/><stop offset="0.8628" stop-color="#96fa37"/><stop offset="0.9388" stop-color="#8afa4e"/><stop offset="1" stop-color="#88fcd9"/></linearGradient>
<linearGradient id="gD5"><stop offset="0" stop-color="#88fba8"/><stop offset="0.0404" stop-color="#8afa4e"/><stop offset="0.1159" stop-color="#96fa37"/><stop offset="0.1875" stop-color="#d8fd33"/><stop offset="0.2382" stop-color="#ffff30"/><stop offset="0.3125" stop-color="#f1af23"/><stop offset="0.375" stop-color="#e9821c"/><stop offset="0.4375" stop-color="#e46718"/><stop offset="0.5" stop-color="#e36017"/><stop offset="0.5625" stop-color="#e56c19"/><stop offset="0.625" stop-color="#eb8b1e"/><stop offset="0.6875" stop-color="#f4be26"/><stop offset="0.7461" stop-color="#ffff30"/><stop offset="0.8125" stop-color="#cbfd33"/><stop offset="0.8684" stop-color="#96fa37"/><stop offset="0.9438" stop-color="#8afa4e"/><stop offset="1" stop-color="#88fbcd"/></linearGradient>
<linearGradient id="gD6"><stop offset="0" stop-color="#88fba9"/><stop offset="0.0408" stop-color="#8afa4e"/><stop offset="0.1159" stop-color="#96fa37"/><stop offset="0.1875" stop-color="#d9fd33"/><stop offset="0.2369" stop-color="#ffff30"/><stop offset="0.3125" stop-color="#f1ad23"/><stop offset="0.375" stop-color="#e97e1c"/><stop offset="0.4375" stop-color="#e46317"/><stop offset="0.5" stop-color="#e25b16"/><stop offset="0.5625" stop-color="#e46618"/><stop offset="0.625" stop-color="#ea851d"/><stop offset="0.6875" stop-color="#f2b724"/><stop offset="0.7526" stop-color="#ffff30"/><stop offset="0.8125" stop-color="#d0fd33"/><stop offset="0.8737" stop-color="#96fa37"/><stop offset="0.9487" stop-color="#8afa4e"/><stop offset="1" stop-color="#88fbc2"/></linearGradient>
<linearGradient id="gD7"><stop offset="0" stop-color="#88fbab"/><stop offset="0.0415" stop-color="#8afa4e"/><stop offset="0.1161" stop-color="#96fa37"/><stop offset="0.1875" stop-color="#d9fd33"/><stop offset="0.236" stop-color="#ffff30"/><stop offset="0.3125" stop-color="#f0ab23"/><stop offset="0.375" stop-color="#e87b1b"/><stop offset="0.4375" stop-color="#e35f17"/><stop offset="0.5" stop-color="#e25615"/><stop offset="0.5625" stop-color="#e36117"/><stop offset="0.625" stop-color="#e97e1c"/><stop offset="0.6875" stop-color="#f1af23"/><stop offset="0.7589" stop-color="#ffff30"/><stop offset="0.8125" stop-color="#d5fd33"/><stop offset="0.8788" stop-color="#96fa37"/><stop offset="0.9534" stop-color="#8afa4e"/><stop offset="1" stop-color="#88fbb7"/></linearGradient>
<linearGradient id="gD8"><stop offset="0" stop-color="#88fbad"/><stop offset="0.0423" stop-color="#8afa4e"/><stop offset="0.1165" stop-color="#96fa37"/><stop offset="0.1875" stop-color="#d9fd33"/><stop offset="0.2354" stop-color="#ffff30"/><stop offset="0.3125" stop-color="#f0a922"/><stop offset="0.375" stop-color="#e8791b"/><stop offset="0.4375" stop-color="#e25c16"/><stop offset="0.5" stop-color="#e15215"/><stop offset="0.5625" stop-color="#e25c16"/><stop offset="0.625" stop-color="#e8791b"/><stop offset="0.6875" stop-color="#f0a922"/><stop offset="0.7648" stop-color="#ffff30"/><stop offset="0.8125" stop-color="#d9fd33"/><stop offset="0.8837" stop-color="#96fa37"/><stop offset="0.9579" stop-color="#8afa4e"/><stop offset="1" stop-color="#88fbad"/></linearGradient>
<linearGradient id="gD9"><stop offset="0" stop-color="#88fbb0"/><stop offset="0.0432" stop-color="#8afa4e"/><stop offset="0.1172" stop-color="#96fa37"/><stop offset="0.1875" stop-color="#d9fd33"/><stop offset="0.2351" stop-color="#ffff30"/><stop offset="0.3125" stop-color="#f0a822"/><stop offset="0.375" stop-color="#e7761a"/><stop offset="0.4375" stop-color="#e25916"/><stop offset="0.5" stop-color="#e04e14"/><stop offset="0.5625" stop-color="#e25715"/><stop offset="0.625" stop-color="#e7731a"/><stop offset="0.6875" stop-color="#efa221"/><stop offset="0.7703" stop-color="#ffff30"/><stop offset="0.8125" stop-color="#defd32"/><stop offset="0.8883" stop-color="#96fa37"/><stop offset="0.9623" stop-color="#8afa4e"/><stop offset="1" stop-color="#89fba3"/></linearGradient>
<linearGradient id="gD10"><stop offset="0" stop-color="#88fbb3"/><stop offset="0.0443" stop-color="#8afa4e"/><stop offset="0.118" stop-color="#96fa37"/><stop offset="0.1875" stop-color="#d9fd33"/><stop offset="0.2352" stop-color="#ffff30"/><stop offset="0.3125" stop-color="#f0a722"/><stop offset="0.375" stop-color="#e7751a"/><stop offset="0.4375" stop-color="#e25615"/><stop offset="0.5" stop-color="#e04b13"/><stop offset="0.5625" stop-color="#e15315"/><stop offset="0.625" stop-color="#e66e19"/><stop offset="0.6875" stop-color="#ee9d20"/><stop offset="0.7756" stop-color="#ffff30"/><stop offset="0.8928" stop-color="#96fa37"/><stop offset="0.9665" stop-color="#8afa4e"/><stop offset="1" stop-color="#89fb9a"/></linearGradient>
<linearGradient id="gD11"><stop offset="0" stop-color="#88fbb7"/><stop offset="0.0456" stop-color="#8afa4e"/><stop offset="0.119" stop-color="#96fa37"/><stop offset="0.1875" stop-color="#d8fd33"/><stop offset="0.2355" stop-color="#ffff30"/><stop offset="0.3125" stop-color="#efa622"/><stop offset="0.375" stop-color="#e7731a"/><stop offset="0.4375" stop-color="#e15415"/><stop offset="0.5" stop-color="#df4813"/><stop offset="0.5625" stop-color="#e04f14"/><stop offset="0.625" stop-color="#e56918"/><stop offset="0.6875" stop-color="#ed9720"/><stop offset="0.7806" stop-color="#ffff30"/><stop offset="0.8971" stop-color="#96fa37"/><stop offset="0.9705" stop-color="#8afa4e"/><stop offset="1" stop-color="#89fb90"/></linearGradient>
<linearGradient id="gD12"><stop offset="0" stop-color="#88fbba"/><stop offset="0.0471" stop-color="#8afa4e"/><stop offset="0.1203" stop-color="#96fa37"/><stop offset="0.1875" stop-color="#d7fd33"/><stop offset="0.2362" stop-color="#ffff30"/><stop offset="0.3125" stop-color="#efa622"/><stop offset="0.375" stop-color="#e6721a"/><stop offset="0.4375" stop-color="#e15215"/><stop offset="0.5" stop-color="#df4513"/><stop offset="0.5625" stop-color="#e04c14"/><stop offset="0.625" stop-color="#e46518"/><stop offset="0.6875" stop-color="#ec921f"/><stop offset="0.7853" stop-color="#ffff30"/><stop offset="0.9012" stop-color="#96fa37"/><stop offset="0.9743" stop-color="#8afa4e"/><stop offset="1" stop-color="#89fb88"/></linearGradient>
<linearGradient id="gD13"><stop offset="0" stop-color="#88fbbe"/><stop offset="0.0487" stop-color="#8afa4e"/><stop offset="0.1217" stop-color="#96fa37"/><stop offset="0.1875" stop-color="#d6fd33"/><stop offset="0.2371" stop-color="#ffff30"/><stop offset="0.3125" stop-color="#efa622"/><stop offset="0.375" stop-color="#e6721a"/><stop offset="0.4375" stop-color="#e15114"/><stop offset="0.5" stop-color="#de4312"/><stop offset="0.5625" stop-color="#df4813"/><stop offset="0.625" stop-color="#e36117"/><stop offset="0.6875" stop-color="#eb8d1e"/><stop offset="0.75" stop-color="#f6cd28"/><stop offset="0.7897" stop-color="#ffff30"/><stop offset="0.905" stop-color="#96fa37"/><stop offset="0.978" stop-color="#8afa4e"/><stop offset="1" stop-color="#89fb7f"/></linearGradient>
<linearGradient id="gD14"><stop offset="0" stop-color="#88fbc3"/><stop offset="0.0505" stop-color="#8afa4e"/><stop offset="0.1233" stop-color="#96fa37"/><stop offset="0.1875" stop-color="#d5fd33"/><stop offset="0.2383" stop-color="#ffff30"/><stop offset="0.3125" stop-color="#f0a722"/><stop offset="0.375" stop-color="#e6721a"/><stop offset="0.4375" stop-color="#e05014"/><stop offset="0.4916" stop-color="#de4212"/><stop offset="0.5405" stop-color="#de4212"/><stop offset="0.625" stop-color="#e35e16"/><stop offset="0.6875" stop-color="#ea891d"/><stop offset="0.75" stop-color="#f5c827"/><stop offset="0.7938" stop-color="#ffff30"/><stop offset="0.9087" stop-color="#96fa37"/><stop offset="0.9815" stop-color="#8afa4e"/><stop offset="1" stop-color="#89fa77"/></linearGradient>
<linearGradient id="gD15"><stop offset="0" stop-color="#88fbc8"/><stop offset="0.0525" stop-color="#8afa4e"/><stop offset="0.1251" stop-color="#96fa37"/><stop offset="0.1875" stop-color="#d4fd33"/><stop offset="0.2397" stop-color="#ffff30"/><stop offset="0.3125" stop-color="#f0a822"/><stop offset="0.375" stop-color="#e6721a"/><stop offset="0.4375" stop-color="#e04f14"/><stop offset="0.4832" stop-color="#de4212"/><stop offset="0.5542" stop-color="#de4212"/><stop offset="0.625" stop-color="#e25b16"/><stop offset="0.6875" stop-color="#ea851d"/><stop offset="0.75" stop-color="#f5c326"/><stop offset="0.7976" stop-color="#ffff30"/><stop offset="0.9122" stop-color="#96fa37"/><stop offset="0.9849" stop-color="#8afa4e"/><stop offset="1" stop-color="#89fa70"/></linearGradient>
<linearGradient id="gD16"><stop offset="0" stop-color="#88fbcd"/><stop offset="0.0546" stop-color="#8afa4e"/><stop offset="0.1271" stop-color="#96fa37"/><stop offset="0.1875" stop-color="#d2fd33"/><stop offset="0.2415" stop-color="#ffff30"/><stop offset="0.3125" stop-color="#f0a922"/><stop offset="0.375" stop-color="#e6731a"/><stop offset="0.4375" stop-color="#e04f14"/><stop offset="0.4793" stop-color="#de4212"/><stop offset="0.5634" stop-color="#de4212"/><stop offset="0.625" stop-color="#e25816"/><stop offset="0.6875" stop-color="#e9821c"/><stop offset="0.75" stop-color="#f4bf26"/><stop offset="0.8012" stop-color="#ffff30"/><stop offset="0.875" stop-color="#bffc34"/><stop offset="0.9155" stop-color="#96fa37"/><stop offset="0.9881" stop-color="#8afa4e"/><stop offset="1" stop-color="#8afa69"/></linearGradient>
<linearGradient id="gD17"><stop offset="0" stop-color="#88fcd3"/><stop offset="0.0568" stop-color="#8afa4e"/><stop offset="0.1293" stop-color="#96fa37"/><stop offset="0.1875" stop-color="#d0fd33"/><stop offset="0.2435" stop-color="#ffff30"/><stop offset="0.3125" stop-color="#f0ab23"/><stop offset="0.375" stop-color="#e7741a"/><stop offset="0.4375" stop-color="#e04f14"/><stop offset="0.4778" stop-color="#de4212"/><stop offset="0.5702" stop-color="#de4212"/><stop offset="0.625" stop-color="#e15615"/><stop offset="0.6875" stop-color="#e97f1c"/><stop offset="0.75" stop-color="#f3bb25"/><stop offset="0.8045" stop-color="#ffff30"/><stop offset="0.875" stop-color="#c2fc34"/><stop offset="0.9187" stop-color="#96fa37"/><stop offset="0.9912" stop-color="#8afa4e"/><stop offset="1" stop-color="#8afa62"/></linearGradient>
<linearGradient id="gD18"><stop offset="0" stop-color="#88fcd9"/><stop offset="0.0593" stop-color="#8afa4e"/><stop offset="0.1317" stop-color="#96fa37"/><stop offset="0.1875" stop-color="#cefd33"/><stop offset="0.2458" stop-color="#ffff30"/><stop offset="0.3125" stop-color="#f1ad23"/><stop offset="0.375" stop-color="#e7751a"/><stop offset="0.4375" stop-color="#e05014"/><stop offset="0.4782" stop-color="#de4212"/><stop offset="0.5751" stop-color="#de4212"/><stop offset="0.625" stop-color="#e15415"/><stop offset="0.6875" stop-color="#e87c1b"/><stop offset="0.75" stop-color="#f2b725"/><stop offset="0.8075" stop-color="#ffff30"/><stop offset="0.875" stop-color="#c5fc34"/><stop offset="0.9216" stop-color="#96fa37"/><stop offset="0.994" stop-color="#8afa4e"/><stop offset="1" stop-color="#8afa5b"/></linearGradient>
<linearGradient id="gD19"><stop offset="0" stop-color="#87fcdf"/><stop offset="0.0619" stop-color="#8afa4e"/><stop offset="0.1343" stop-color="#96fa37"/><stop offset="0.1875" stop-color="#cbfd33"/><stop offset="0.2483" stop-color="#ffff30"/><stop offset="0.3125" stop-color="#f1b023"/><stop offset="0.375" stop-color="#e7771a"/><stop offset="0.4375" stop-color="#e15114"/><stop offset="0.4802" stop-color="#de4212"/><stop offset="0.5784" stop-color="#de4212"/><stop offset="0.625" stop-color="#e15315"/><stop offset="0.6875" stop-color="#e87a1b"/><stop offset="0.75" stop-color="#f2b424"/><stop offset="0.8103" stop-color="#ffff30"/><stop offset="0.875" stop-color="#c8fc34"/><stop offset="0.9243" stop-color="#96fa37"/><stop offset="0.9968" stop-color="#8afa4e"/><stop offset="1" stop-color="#8afa55"/></linearGradient>
<linearGradient id="gD20"><stop offset="0" stop-color="#87fce6"/><stop offset="0.0646" stop-color="#8afa4e"/><stop offset="0.1371" stop-color="#96fa37"/><stop offset="0.1875" stop-color="#c9fc34"/><stop offset="0.2511" stop-color="#ffff30"/><stop offset="0.3125" stop-color="#f2b324"/><stop offset="0.375" stop-color="#e8791b"/><stop offset="0.4375" stop-color="#e15215"/><stop offset="0.4837" stop-color="#de4212"/><stop offset="0.5802" stop-color="#de4212"/><stop offset="0.625" stop-color="#e15214"/><stop offset="0.6875" stop-color="#e7781b"/><stop offset="0.75" stop-color="#f1b224"/><stop offset="0.8128" stop-color="#ffff30"/><stop offset="0.875" stop-color="#cafc34"/><stop offset="0.9269" stop-color="#96fa37"/><stop offset="0.9993" stop-color="#8afa4e"/><stop offset="1" stop-color="#8afa4f"/></linearGradient>
<linearGradient id="gD21"><stop offset="0" stop-color="#87fcee"/><stop offset="0.0675" stop-color="#8afa4e"/><stop offset="0.14" stop-color="#96fa37"/><stop offset="0.1875" stop-color="#c6fc34"/><stop offset="0.2542" stop-color="#ffff30"/><stop offset="0.3125" stop-color="#f2b725"/><stop offset="0.375" stop-color="#e87c1b"/><stop offset="0.4375" stop-color="#e15415"/><stop offset="0.4889" stop-color="#de4212"/><stop offset="0.5804" stop-color="#de4212"/><stop offset="0.625" stop-color="#e15114"/><stop offset="0.6875" stop-color="#e7771a"/><stop offset="0.75" stop-color="#f1af23"/><stop offset="0.8151" stop-color="#ffff30"/><stop offset="0.875" stop-color="#ccfd33"/><stop offset="0.9292" stop-color="#96fa37"/><stop offset="1" stop-color="#8afa4d"/></linearGradient>
<linearGradient id="gD22"><stop offset="0" stop-color="#87fcf5"/><stop offset="0.0706" stop-color="#8afa4e"/><stop offset="0.1432" stop-color="#96fa37"/><stop offset="0.1875" stop-color="#c3fc34"/><stop offset="0.2575" stop-color="#ffff30"/><stop offset="0.3125" stop-color="#f3bb25"/><stop offset="0.375" stop-color="#e97f1c"/><stop offset="0.4375" stop-color="#e25615"/><stop offset="0.496" stop-color="#de4212"/><stop offset="0.5786" stop-color="#de4212"/><stop offset="0.625" stop-color="#e15114"/><stop offset="0.6875" stop-color="#e7751a"/><stop offset="0.75" stop-color="#f1ae23"/><stop offset="0.817" stop-color="#ffff30"/><stop offset="0.875" stop-color="#cefd33"/><stop offset="0.9314" stop-color="#96fa37"/><stop offset="1" stop-color="#8bfa4d"/></linearGradient>
<linearGradient id="gD23"><stop offset="0" stop-color="#85f9fa"/><stop offset="0.0013" stop-color="#87fcfa"/><stop offset="0.0738" stop-color="#8afa4e"/><stop offset="0.1465" stop-color="#96fa37"/><stop offset="0.1875" stop-color="#c0fc34"/><stop offset="0.2611" stop-color="#ffff30"/><stop offset="0.3125" stop-color="#f4bf26"/><stop offset="0.375" stop-color="#e9821c"/><stop offset="0.4375" stop-color="#e25916"/><stop offset="0.5056" stop-color="#de4212"/><stop offset="0.5742" stop-color="#de4212"/><stop offset="0.625" stop-color="#e15114"/><stop offset="0.6875" stop-color="#e7751a"/><stop offset="0.75" stop-color="#f1ac23"/><stop offset="0.8187" stop-color="#ffff30"/><stop offset="0.875" stop-color="#d0fd33"/><stop offset="0.9334" stop-color="#96fa37"/><stop offset="1" stop-color="#8bfa4c"/></linearGradient>
<linearGradient id="gD24"><stop offset="0" stop-color="#81f1fa"/><stop offset="0.0045" stop-color="#87fcfa"/><stop offset="0.0772" stop-color="#8afa4e"/><stop offset="0.15" stop-color="#96fa37"/><stop offset="0.1875" stop-color="#bcfc34"/><stop offset="0.265" stop-color="#ffff30"/><stop offset="0.3125" stop-color="#f5c327"/><stop offset="0.375" stop-color="#ea861d"/><stop offset="0.4375" stop-color="#e35c16"/><stop offset="0.5203" stop-color="#de4212"/><stop offset="0.5648" stop-color="#de4212"/><stop offset="0.625" stop-color="#e15214"/><stop offset="0.6875" stop-color="#e7751a"/><stop offset="0.75" stop-color="#f0ab23"/><stop offset="0.8202" stop-color="#ffff30"/><stop offset="0.875" stop-color="#d1fd33"/><stop offset="0.9352" stop-color="#96fa37"/><stop offset="1" stop-color="#8bfa4b"/></linearGradient>
<linearGradient id="gD25"><stop offset="0" stop-color="#7de9fa"/><stop offset="0.008" stop-color="#87fcfa"/><stop offset="0.0807" stop-color="#8afa4e"/><stop offset="0.1537" stop-color="#96fa37"/><stop offset="0.2692" stop-color="#ffff30"/><stop offset="0.3125" stop-color="#f5c927"/><stop offset="0.375" stop-color="#eb8a1d"/><stop offset="0.4375" stop-color="#e35f17"/><stop offset="0.5" stop-color="#df4813"/><stop offset="0.5625" stop-color="#de4412"/><stop offset="0.625" stop-color="#e15315"/><stop offset="0.6875" stop-color="#e7751a"/><stop offset="0.75" stop-color="#f0aa23"/><stop offset="0.8213" stop-color="#ffff30"/><stop offset="0.875" stop-color="#d3fd33"/><stop offset="0.9368" stop-color="#96fa37"/><stop offset="1" stop-color="#8cfa4b"/></linearGradient>
<linearGradient id="gD26"><stop offset="0" stop-color="#78e1fa"/><stop offset="0.0115" stop-color="#87fcfa"/><stop offset="0.0845" stop-color="#8afa4e"/><stop offset="0.1577" stop-color="#96fa37"/><stop offset="0.2736" stop-color="#ffff30"/><stop offset="0.3125" stop-color="#f6ce28"/><stop offset="0.375" stop-color="#eb8f1e"/><stop offset="0.4375" stop-color="#e46317"/><stop offset="0.5" stop-color="#e04b13"/><stop offset="0.5625" stop-color="#df4613"/><stop offset="0.625" stop-color="#e15415"/><stop offset="0.6875" stop-color="#e7751a"/><stop offset="0.75" stop-color="#f0aa23"/><stop offset="0.8222" stop-color="#ffff30"/><stop offset="0.875" stop-color="#d4fd33"/><stop offset="0.9382" stop-color="#96fa37"/><stop offset="1" stop-color="#8cfa4a"/></linearGradient>
<linearGradient id="gD27"><stop offset="0" stop-color="#74d8f9"/><stop offset="0.0152" stop-color="#87fcfa"/><stop offset="0.0883" stop-color="#8afa4e"/><stop offset="0.1618" stop-color="#96fa37"/><stop offset="0.2783" stop-color="#ffff30"/><stop offset="0.375" stop-color="#ec941f"/><stop offset="0.4375" stop-color="#e56818"/><stop offset="0.5" stop-color="#e04e14"/><stop offset="0.5625" stop-color="#df4813"/><stop offset="0.625" stop-color="#e15615"/><stop offset="0.6875" stop-color="#e7761a"/><stop offset="0.75" stop-color="#f0aa23"/><stop offset="0.8228" stop-color="#ffff30"/><stop offset="0.875" stop-color="#d5fd33"/><stop offset="0.9394" stop-color="#96fa37"/><stop offset="1" stop-color="#8cfa4a"/></linearGradient>
<linearGradient id="gD28"><stop offset="0" stop-color="#6fcff9"/><stop offset="0.0191" stop-color="#87fcfa"/><stop offset="0.0924" stop-color="#8afa4e"/><stop offset="0.1661" stop-color="#96fa37"/><stop offset="0.2834" stop-color="#ffff30"/><stop offset="0.375" stop-color="#ed9a20"/><stop offset="0.4375" stop-color="#e56c19"/><stop offset="0.5" stop-color="#e15215"/><stop offset="0.5625" stop-color="#e04b13"/><stop offset="0.625" stop-color="#e25815"/><stop offset="0.6875" stop-color="#e7781b"/><stop offset="0.75" stop-color="#f0ab23"/><stop offset="0.8231" stop-color="#ffff30"/><stop offset="0.875" stop-color="#d5fd33"/><stop offset="0.9404" stop-color="#96fa37"/><stop offset="1" stop-color="#8cfa49"/></linearGradient>
<linearGradient id="gD29"><stop offset="0" stop-color="#6ac6f9"/><stop offset="0.0231" stop-color="#87fcfa"/><stop offset="0.0966" stop-color="#8afa4e"/><stop offset="0.1706" stop-color="#96fa37"/><stop offset="0.25" stop-color="#e1fe32"/><stop offset="0.2887" stop-color="#ffff30"/><stop offset="0.375" stop-color="#ee9f21"/><stop offset="0.4375" stop-color="#e6711a"/><stop offset="0.5" stop-color="#e25615"/><stop offset="0.5625" stop-color="#e04f14"/><stop offset="0.625" stop-color="#e25b16"/><stop offset="0.6875" stop-color="#e8791b"/><stop offset="0.75" stop-color="#f0ac23"/><stop offset="0.8231" stop-color="#ffff30"/><stop offset="0.875" stop-color="#d6fd33"/><stop offset="0.9412" stop-color="#96fa37"/><stop offset="1" stop-color="#8dfa49"/></linearGradient>
<linearGradient id="gD30"><stop offset="0" stop-color="#65bcf9"/><stop offset="0.0272" stop-color="#87fcfa"/><stop offset="0.101" stop-color="#8afa4e"/><stop offset="0.1753" stop-color="#96fa37"/><stop offset="0.25" stop-color="#dcfd32"/><stop offset="0.2943" stop-color="#ffff30"/><stop offset="0.375" stop-color="#efa622"/><stop offset="0.4375" stop-color="#e7771a"/><stop offset="0.5" stop-color="#e25b16"/><stop offset="0.5625" stop-color="#e15315"/><stop offset="0.625" stop-color="#e35e16"/><stop offset="0.6875" stop-color="#e87c1b"/><stop offset="0.75" stop-color="#f1ad23"/><stop offset="0.8228" stop-color="#ffff30"/><stop offset="0.875" stop-color="#d6fd33"/><stop offset="0.9418" stop-color="#96fa37"/><stop offset="1" stop-color="#8dfa49"/></linearGradient>
<linearGradient id="gD31"><stop offset="0" stop-color="#5fb2f9"/><stop offset="0.0315" stop-color="#87fcfa"/><stop offset="0.1055" stop-color="#8afa4e"/><stop offset="0.1802" stop-color="#96fa37"/><stop offset="0.25" stop-color="#d8fd33"/><stop offset="0.3002" stop-color="#ffff30"/><stop offset="0.375" stop-color="#f1ac23"/><stop offset="0.4375" stop-color="#e87d1b"/><stop offset="0.5" stop-color="#e36017"/><stop offset="0.5625" stop-color="#e25715"/><stop offset="0.625" stop-color="#e36117"/><stop offset="0.6875" stop-color="#e97e1c"/><stop offset="0.75" stop-color="#f1af23"/><stop offset="0.8222" stop-color="#ffff30"/><stop offset="0.875" stop-color="#d6fd33"/><stop offset="0.9422" stop-color="#96fa37"/><stop offset="1" stop-color="#8dfa48"/></linearGradient>
<linearGradient id="gD32"><stop offset="0" stop-color="#59a8f8"/><stop offset="0.0359" stop-color="#87fcfa"/><stop offset="0.1102" stop-color="#8afa4e"/><stop offset="0.1853" stop-color="#96fa37"/><stop offset="0.25" stop-color="#d3fd33"/><stop offset="0.3065" stop-color="#ffff30"/><stop offset="0.375" stop-color="#f2b424"/><stop offset="0.4375" stop-color="#e9831c"/><stop offset="0.5" stop-color="#e46618"/><stop offset="0.5625" stop-color="#e25b16"/><stop offset="0.625" stop-color="#e46518"/><stop offset="0.6875" stop-color="#e9811c"/><stop offset="0.75" stop-color="#f1b124"/><stop offset="0.8212" stop-color="#ffff30"/><stop offset="0.875" stop-color="#d5fd33"/><stop offset="0.9424" stop-color="#96fa37"/><stop offset="1" stop-color="#8dfa48"/></linearGradient>
<linearGradient id="gD33"><stop offset="0" stop-color="#549df8"/><stop offset="0.0405" stop-color="#87fcfa"/><stop offset="0.1151" stop-color="#8afa4e"/><stop offset="0.1906" stop-color="#96fa37"/><stop offset="0.25" stop-color="#cefd33"/><stop offset="0.3131" stop-color="#ffff30"/><stop offset="0.375" stop-color="#f3bb25"/><stop offset="0.4375" stop-color="#ea8a1d"/><stop offset="0.5" stop-color="#e56b19"/><stop offset="0.5625" stop-color="#e36117"/><stop offset="0.625" stop-color="#e56918"/><stop offset="0.6875" stop-color="#ea851d"/><stop offset="0.75" stop-color="#f2b424"/><stop offset="0.8199" stop-color="#ffff30"/><stop offset="0.875" stop-color="#d5fd33"/><stop offset="0.9424" stop-color="#96fa37"/><stop offset="1" stop-color="#8dfa48"/></linearGradient>
<linearGradient id="gD34"><stop offset="0" stop-color="#4e92f8"/><stop offset="0.0452" stop-color="#87fcfa"/><stop offset="0.1202" stop-color="#8afa4e"/><stop offset="0.1962" stop-color="#96fa37"/><stop offset="0.25" stop-color="#c9fc34"/><stop offset="0.3201" stop-color="#ffff30"/><stop offset="0.375" stop-color="#f5c326"/><stop offset="0.4375" stop-color="#ec911e"/><stop offset="0.5" stop-color="#e6721a"/><stop offset="0.5625" stop-color="#e46618"/><stop offset="0.625" stop-color="#e66e19"/><stop offset="0.6875" stop-color="#ea881d"/><stop offset="0.75" stop-color="#f2b725"/><stop offset="0.8182" stop-color="#ffff30"/><stop offset="0.875" stop-color="#d4fd33"/><stop offset="0.9421" stop-color="#96fa37"/><stop offset="1" stop-color="#8dfa48"/></linearGradient>
<linearGradient id="gD35"><stop offset="0" stop-color="#4786f8"/><stop offset="0.0501" stop-color="#87fcfa"/><stop offset="0.1254" stop-color="#8afa4e"/><stop offset="0.202" stop-color="#96fa37"/><stop offset="0.25" stop-color="#c3fc34"/><stop offset="0.3275" stop-color="#ffff30"/><stop offset="0.375" stop-color="#f6cb28"/><stop offset="0.4375" stop-color="#ed9820"/><stop offset="0.5" stop-color="#e7781b"/><stop offset="0.5625" stop-color="#e56c19"/><stop offset="0.625" stop-color="#e6731a"/><stop offset="0.6875" stop-color="#eb8d1e"/><stop offset="0.75" stop-color="#f3ba25"/><stop offset="0.8162" stop-color="#ffff30"/><stop offset="0.875" stop-color="#d3fd33"/><stop offset="0.9417" stop-color="#96fa37"/><stop offset="1" stop-color="#8dfa48"/></linearGradient>
<linearGradient id="gD36"><stop offset="0" stop-color="#417af8"/><stop offset="0.0551" stop-color="#87fcfa"/><stop offset="0.1309" stop-color="#8afa4e"/><stop offset="0.208" stop-color="#96fa37"/><stop offset="0.25" stop-color="#befc34"/><stop offset="0.3352" stop-color="#ffff30"/><stop offset="0.375" stop-color="#f7d429"/><stop offset="0.4375" stop-color="#eea021"/><stop offset="0.5" stop-color="#e97f1c"/><stop offset="0.5625" stop-color="#e6721a"/><stop offset="0.625" stop-color="#e7781b"/><stop offset="0.6875" stop-color="#ec911f"/><stop offset="0.75" stop-color="#f4be26"/><stop offset="0.8137" stop-color="#ffff30"/><stop offset="0.875" stop-color="#d2fd33"/><stop offset="0.941" stop-color="#96fa37"/><stop offset="1" stop-color="#8dfa48"/></linearGradient>
<linearGradient id="gD37"><stop offset="0" stop-color="#3a6ef7"/><stop offset="0.0603" stop-color="#87fcfa"/><stop offset="0.1365" stop-color="#8afa4e"/><stop offset="0.2142" stop-color="#96fa37"/><stop offset="0.3434" stop-color="#ffff30"/><stop offset="0.4375" stop-color="#f0a822"/><stop offset="0.5" stop-color="#ea871d"/><stop offset="0.5625" stop-color="#e8791b"/><stop offset="0.625" stop-color="#e87e1b"/><stop offset="0.6875" stop-color="#ed961f"/><stop offset="0.75" stop-color="#f4c226"/><stop offset="0.8109" stop-color="#ffff30"/><stop offset="0.875" stop-color="#d1fd33"/><stop offset="0.94" stop-color="#96fa37"/><stop offset="1" stop-color="#8dfa48"/></linearGradient>
<linearGradient id="gD38"><stop offset="0" stop-color="#3461f7"/><stop offset="0.0657" stop-color="#87fcfa"/><stop offset="0.1423" stop-color="#8afa4e"/><stop offset="0.2207" stop-color="#96fa37"/><stop offset="0.3125" stop-color="#e4fe32"/><stop offset="0.3521" stop-color="#ffff30"/><stop offset="0.4375" stop-color="#f1b124"/><stop offset="0.5" stop-color="#eb8f1e"/><stop offset="0.5625" stop-color="#e9801c"/><stop offset="0.625" stop-color="#ea841c"/><stop offset="0.6875" stop-color="#ee9c20"/><stop offset="0.75" stop-color="#f5c627"/><stop offset="0.8075" stop-color="#ffff30"/><stop offset="0.875" stop-color="#cffd33"/><stop offset="0.9389" stop-color="#96fa37"/><stop offset="1" stop-color="#8dfa49"/></linearGradient>
<linearGradient id="gD39"><stop offset="0" stop-color="#2d55f7"/><stop offset="0.0712" stop-color="#87fcfa"/><stop offset="0.1483" stop-color="#8afa4e"/><stop offset="0.1875" stop-color="#90fa42"/><stop offset="0.2275" stop-color="#96fa37"/><stop offset="0.3125" stop-color="#defd32"/><stop offset="0.3612" stop-color="#ffff30"/><stop offset="0.4375" stop-color="#f3ba25"/><stop offset="0.5" stop-color="#ed971f"/><stop offset="0.5625" stop-color="#ea871d"/><stop offset="0.625" stop-color="#eb8b1e"/><stop offset="0.6875" stop-color="#efa121"/><stop offset="0.75" stop-color="#f6cb28"/><stop offset="0.8037" stop-color="#ffff30"/><stop offset="0.875" stop-color="#cdfd33"/><stop offset="0.9374" stop-color="#96fa37"/><stop offset="1" stop-color="#8dfa49"/></linearGradient>
<linearGradient id="gD40"><stop offset="0" stop-color="#2547f7"/><stop offset="0.0768" stop-color="#87fcfa"/><stop offset="0.1545" stop-color="#8afa4e"/><stop offset="0.2345" stop-color="#96fa37"/><stop offset="0.3125" stop-color="#d8fd33"/><stop offset="0.3709" stop-color="#ffff30"/><stop offset="0.4375" stop-color="#f5c427"/><stop offset="0.5" stop-color="#eea021"/><stop offset="0.5625" stop-color="#eb8f1e"/><stop offset="0.625" stop-color="#ec921f"/><stop offset="0.6875" stop-color="#f0a822"/><stop offset="0.75" stop-color="#f7d129"/><stop offset="0.7993" stop-color="#ffff30"/><stop offset="0.875" stop-color="#cbfd33"/><stop offset="0.9357" stop-color="#96fa37"/><stop offset="1" stop-color="#8dfa49"/></linearGradient>
<linearGradient id="gD41"><stop offset="0" stop-color="#1e3af7"/><stop offset="0.0827" stop-color="#87fcfa"/><stop offset="0.1609" stop-color="#8afa4e"/><stop offset="0.2417" stop-color="#96fa37"/><stop offset="0.3125" stop-color="#d2fd33"/><stop offset="0.3812" stop-color="#ffff30"/><stop offset="0.4375" stop-color="#f6cd28"/><stop offset="0.5" stop-color="#f0a922"/><stop offset="0.5625" stop-color="#ed9720"/><stop offset="0.625" stop-color="#ed9920"/><stop offset="0.6875" stop-color="#f1ae23"/><stop offset="0.75" stop-color="#f8d72a"/><stop offset="0.7943" stop-color="#ffff30"/><stop offset="0.875" stop-color="#c9fc34"/><stop offset="0.9338" stop-color="#96fa37"/><stop offset="1" stop-color="#8cfa49"/></linearGradient>
<linearGradient id="gD42"><stop offset="0" stop-color="#162cf6"/><stop offset="0.0887" stop-color="#87fcfa"/><stop offset="0.1675" stop-color="#8afa4e"/><stop offset="0.2493" stop-color="#96fa37"/><stop offset="0.3125" stop-color="#cbfd33"/><stop offset="0.3922" stop-color="#ffff30"/><stop offset="0.4375" stop-color="#f8d82a"/><stop offset="0.5" stop-color="#f2b224"/><stop offset="0.5625" stop-color="#eea021"/><stop offset="0.625" stop-color="#efa121"/><stop offset="0.6875" stop-color="#f2b524"/><stop offset="0.75" stop-color="#f9dd2b"/><stop offset="0.7886" stop-color="#ffff30"/><stop offset="0.875" stop-color="#c6fc34"/><stop offset="0.9315" stop-color="#96fa37"/><stop offset="1" stop-color="#8cfa4a"/></linearGradient>
<linearGradient id="gD43"><stop offset="0" stop-color="#0f1df6"/><stop offset="0.0948" stop-color="#87fcfa"/><stop offset="0.1743" stop-color="#8afa4e"/><stop offset="0.2571" stop-color="#96fa37"/><stop offset="0.3125" stop-color="#c4fc34"/><stop offset="0.4039" stop-color="#ffff30"/><stop offset="0.5" stop-color="#f3bc25"/><stop offset="0.5625" stop-color="#f0a922"/><stop offset="0.625" stop-color="#f0a922"/><stop offset="0.6875" stop-color="#f3bd25"/><stop offset="0.7822" stop-color="#ffff30"/><stop offset="0.875" stop-color="#c3fc34"/><stop offset="0.929" stop-color="#96fa37"/><stop offset="1" stop-color="#8cfa4a"/></linearGradient>
<linearGradient id="gD44"><stop offset="0" stop-color="#0e1cf6"/><stop offset="0.0052" stop-color="#0e1cf6"/><stop offset="0.0625" stop-color="#59a6f8"/><stop offset="0.1012" stop-color="#87fcfa"/><stop offset="0.1814" stop-color="#8afa4e"/><stop offset="0.2653" stop-color="#96fa37"/><stop offset="0.3125" stop-color="#bdfc34"/><stop offset="0.375" stop-color="#e8fe32"/><stop offset="0.4165" stop-color="#ffff30"/><stop offset="0.5" stop-color="#f5c627"/><stop offset="0.5625" stop-color="#f2b224"/><stop offset="0.625" stop-color="#f2b224"/><stop offset="0.6875" stop-color="#f5c427"/><stop offset="0.7749" stop-color="#ffff30"/><stop offset="0.8125" stop-color="#ebfe31"/><stop offset="0.875" stop-color="#c1fc34"/><stop offset="0.9262" stop-color="#96fa37"/><stop offset="1" stop-color="#8cfa4b"/></linearGradient>
<linearGradient id="gD45"><stop offset="0" stop-color="#0e1cf6"/><stop offset="0.0111" stop-color="#0e1cf6"/><stop offset="0.0625" stop-color="#5198f8"/><stop offset="0.1077" stop-color="#87fcfa"/><stop offset="0.1887" stop-color="#8afa4e"/><stop offset="0.2738" stop-color="#96fa37"/><stop offset="0.3125" stop-color="#b6fc35"/><stop offset="0.375" stop-color="#e2fe32"/><stop offset="0.4301" stop-color="#ffff30"/><stop offset="0.5" stop-color="#f7d129"/><stop offset="0.5625" stop-color="#f3bc25"/><stop offset="0.625" stop-color="#f3bb25"/><stop offset="0.6875" stop-color="#f6cd28"/><stop offset="0.7666" stop-color="#ffff30"/><stop offset="0.8125" stop-color="#e7fe32"/><stop offset="0.875" stop-color="#bdfc34"/><stop offset="0.923" stop-color="#96fa37"/><stop offset="1" stop-color="#8bfa4c"/></linearGradient>
<linearGradient id="gD46"><stop offset="0" stop-color="#0e1cf6"/><stop offset="0.0171" stop-color="#0e1cf6"/><stop offset="0.0625" stop-color="#498af8"/><stop offset="0.1144" stop-color="#87fcfa"/><stop offset="0.1962" stop-color="#8afa4e"/><stop offset="0.2826" stop-color="#96fa37"/><stop offset="0.375" stop-color="#dbfd32"/><stop offset="0.445" stop-color="#ffff30"/><stop offset="0.5" stop-color="#f9dc2a"/><stop offset="0.5625" stop-color="#f5c727"/><stop offset="0.625" stop-color="#f5c427"/><stop offset="0.6875" stop-color="#f8d529"/><stop offset="0.7571" stop-color="#ffff30"/><stop offset="0.8125" stop-color="#e3fe32"/><stop offset="0.875" stop-color="#bafc35"/><stop offset="0.9195" stop-color="#96fa37"/><stop offset="1" stop-color="#8bfa4c"/></linearGradient>
<linearGradient id="gD47"><stop offset="0" stop-color="#0e1cf6"/><stop offset="0.0233" stop-color="#0e1cf6"/><stop offset="0.0625" stop-color="#417bf8"/><stop offset="0.1213" stop-color="#87fcfa"/><stop offset="0.204" stop-color="#8afa4e"/><stop offset="0.25" stop-color="#91fa41"/><stop offset="0.2918" stop-color="#96fa37"/><stop offset="0.375" stop-color="#d3fd33"/><stop offset="0.4615" stop-color="#ffff30"/><stop offset="0.5" stop-color="#fbe82c"/><stop offset="0.5625" stop-color="#f7d129"/><stop offset="0.625" stop-color="#f6ce28"/><stop offset="0.6875" stop-color="#f9de2b"/><stop offset="0.746" stop-color="#ffff30"/><stop offset="0.8125" stop-color="#dffd32"/><stop offset="0.875" stop-color="#b6fc35"/><stop offset="0.9156" stop-color="#96fa37"/><stop offset="1" stop-color="#8bfa4d"/></linearGradient>
<clipPath id="clipF"><rect x="1047.6" y="1647.6" width="615.8" height="616.8"/></clipPath>
<filter id="blF" filterUnits="userSpaceOnUse" x="1008" y="1588" width="696" height="737"><feGaussianBlur stdDeviation="0 6.1"/></filter>
<linearGradient id="gF0"><stop offset="0" stop-color="#edfe31"/><stop offset="0.083" stop-color="#ffff30"/><stop offset="0.1667" stop-color="#fae12b"/><stop offset="0.25" stop-color="#f5c527"/><stop offset="0.3333" stop-color="#f0ab23"/><stop offset="0.4167" stop-color="#ec931f"/><stop offset="0.5" stop-color="#e97e1c"/><stop offset="0.5833" stop-color="#e56b19"/><stop offset="0.6667" stop-color="#e25a16"/><stop offset="0.75" stop-color="#e04b13"/><stop offset="0.8099" stop-color="#de4212"/><stop offset="0.9167" stop-color="#de4212"/><stop offset="1" stop-color="#de4212"/></linearGradient>
<linearGradient id="gF1"><stop offset="0" stop-color="#f3fe31"/><stop offset="0.0556" stop-color="#ffff30"/><stop offset="0.1667" stop-color="#f8d72a"/><stop offset="0.25" stop-color="#f3bc25"/><stop offset="0.3333" stop-color="#efa421"/><stop offset="0.4167" stop-color="#eb8d1e"/><stop offset="0.5" stop-color="#e7781b"/><stop offset="0.5833" stop-color="#e46618"/><stop offset="0.6667" stop-color="#e15615"/><stop offset="0.7904" stop-color="#de4212"/><stop offset="0.9167" stop-color="#de4212"/><stop offset="1" stop-color="#de4212"/></linearGradient>
<linearGradient id="gF2"><stop offset="0" stop-color="#f9ff30"/><stop offset="0.0282" stop-color="#ffff30"/><stop offset="0.0833" stop-color="#fceb2d"/><stop offset="0.1667" stop-color="#f7cf28"/><stop offset="0.25" stop-color="#f2b424"/><stop offset="0.3333" stop-color="#ee9c20"/><stop offset="0.4167" stop-color="#ea861d"/><stop offset="0.5" stop-color="#e7731a"/><stop offset="0.5833" stop-color="#e36117"/><stop offset="0.6667" stop-color="#e15215"/><stop offset="0.771" stop-color="#de4212"/><stop offset="0.8333" stop-color="#de4212"/><stop offset="0.9167" stop-color="#de4212"/><stop offset="1" stop-color="#de4212"/></linearGradient>
<linearGradient id="gF3"><stop offset="0" stop-color="#ffff30"/><stop offset="0.0006" stop-color="#ffff30"/><stop offset="0.0833" stop-color="#fae12b"/><stop offset="0.1667" stop-color="#f5c627"/><stop offset="0.25" stop-color="#f1ac23"/><stop offset="0.3333" stop-color="#ed951f"/><stop offset="0.4167" stop-color="#e9801c"/><stop offset="0.5" stop-color="#e66d19"/><stop offset="0.5833" stop-color="#e35d16"/><stop offset="0.6667" stop-color="#e04e14"/><stop offset="0.7518" stop-color="#de4212"/><stop offset="0.8333" stop-color="#de4212"/><stop offset="0.9167" stop-color="#de4212"/><stop offset="1" stop-color="#de4212"/></linearGradient>
<linearGradient id="gF4"><stop offset="0" stop-color="#fdf52e"/><stop offset="0.0833" stop-color="#f8d82a"/><stop offset="0.1667" stop-color="#f4bd26"/><stop offset="0.25" stop-color="#efa522"/><stop offset="0.3333" stop-color="#eb8f1e"/><stop offset="0.4167" stop-color="#e87a1b"/><stop offset="0.5" stop-color="#e56818"/><stop offset="0.5833" stop-color="#e25916"/><stop offset="0.6667" stop-color="#e04b13"/><stop offset="0.7326" stop-color="#de4212"/><stop offset="0.8333" stop-color="#de4212"/><stop offset="0.9167" stop-color="#de4212"/><stop offset="1" stop-color="#de4212"/></linearGradient>
<linearGradient id="gF5"><stop offset="0" stop-color="#fceb2d"/><stop offset="0.0833" stop-color="#f7cf28"/><stop offset="0.1667" stop-color="#f2b524"/><stop offset="0.25" stop-color="#ee9e21"/><stop offset="0.3333" stop-color="#ea881d"/><stop offset="0.4167" stop-color="#e7751a"/><stop offset="0.5" stop-color="#e46417"/><stop offset="0.5833" stop-color="#e15515"/><stop offset="0.7135" stop-color="#de4212"/><stop offset="0.8333" stop-color="#de4212"/><stop offset="0.9167" stop-color="#de4212"/><stop offset="1" stop-color="#de4212"/></linearGradient>
<linearGradient id="gF6"><stop offset="0" stop-color="#fae22b"/><stop offset="0.0833" stop-color="#f5c727"/><stop offset="0.1667" stop-color="#f1ae23"/><stop offset="0.25" stop-color="#ed971f"/><stop offset="0.3333" stop-color="#e9821c"/><stop offset="0.4167" stop-color="#e67019"/><stop offset="0.5" stop-color="#e35f17"/><stop offset="0.5833" stop-color="#e15114"/><stop offset="0.6945" stop-color="#de4212"/><stop offset="0.75" stop-color="#de4212"/><stop offset="0.8333" stop-color="#de4212"/><stop offset="0.9167" stop-color="#de4212"/><stop offset="1" stop-color="#de4212"/></linearGradient>
<linearGradient id="gF7"><stop offset="0" stop-color="#f8d92a"/><stop offset="0.0833" stop-color="#f4be26"/><stop offset="0.1667" stop-color="#efa622"/><stop offset="0.25" stop-color="#ec901e"/><stop offset="0.3333" stop-color="#e87c1b"/><stop offset="0.4167" stop-color="#e56b18"/><stop offset="0.5" stop-color="#e25b16"/><stop offset="0.5833" stop-color="#e04e14"/><stop offset="0.6757" stop-color="#de4212"/><stop offset="0.75" stop-color="#de4212"/><stop offset="0.8333" stop-color="#de4212"/><stop offset="0.9167" stop-color="#de4212"/><stop offset="1" stop-color="#de4212"/></linearGradient>
<linearGradient id="gF8"><stop offset="0" stop-color="#f7d028"/><stop offset="0.0833" stop-color="#f2b624"/><stop offset="0.1667" stop-color="#ee9f21"/><stop offset="0.25" stop-color="#eb8a1d"/><stop offset="0.3333" stop-color="#e7771a"/><stop offset="0.4167" stop-color="#e46618"/><stop offset="0.5" stop-color="#e25715"/><stop offset="0.5833" stop-color="#e04b13"/><stop offset="0.657" stop-color="#de4212"/><stop offset="0.75" stop-color="#de4212"/><stop offset="0.8333" stop-color="#de4212"/><stop offset="0.9167" stop-color="#de4212"/><stop offset="1" stop-color="#de4212"/></linearGradient>
<linearGradient id="gF9"><stop offset="0" stop-color="#f5c727"/><stop offset="0.0833" stop-color="#f1ae23"/><stop offset="0.1667" stop-color="#ed9820"/><stop offset="0.25" stop-color="#e9841c"/><stop offset="0.3333" stop-color="#e6721a"/><stop offset="0.4167" stop-color="#e46217"/><stop offset="0.5" stop-color="#e15415"/><stop offset="0.5833" stop-color="#df4813"/><stop offset="0.6385" stop-color="#de4212"/><stop offset="0.75" stop-color="#de4212"/><stop offset="0.8333" stop-color="#de4212"/><stop offset="0.9167" stop-color="#de4212"/><stop offset="1" stop-color="#de4212"/></linearGradient>
<linearGradient id="gF10"><stop offset="0" stop-color="#f4bf26"/><stop offset="0.0833" stop-color="#f0a722"/><stop offset="0.1667" stop-color="#ec911f"/><stop offset="0.25" stop-color="#e87e1b"/><stop offset="0.3333" stop-color="#e56d19"/><stop offset="0.4167" stop-color="#e35e16"/><stop offset="0.5" stop-color="#e15114"/><stop offset="0.6202" stop-color="#de4212"/><stop offset="0.75" stop-color="#de4212"/><stop offset="0.8333" stop-color="#de4212"/><stop offset="0.9167" stop-color="#de4212"/><stop offset="1" stop-color="#de4212"/></linearGradient>
<linearGradient id="gF11"><stop offset="0" stop-color="#f2b725"/><stop offset="0.0833" stop-color="#eea021"/><stop offset="0.1667" stop-color="#eb8b1e"/><stop offset="0.25" stop-color="#e7781b"/><stop offset="0.3333" stop-color="#e56818"/><stop offset="0.4167" stop-color="#e25a16"/><stop offset="0.5" stop-color="#e04e14"/><stop offset="0.6021" stop-color="#de4212"/><stop offset="0.6667" stop-color="#de4212"/><stop offset="0.75" stop-color="#de4212"/><stop offset="0.8333" stop-color="#de4212"/><stop offset="0.9167" stop-color="#de4212"/><stop offset="1" stop-color="#de4212"/></linearGradient>
<linearGradient id="gF12"><stop offset="0" stop-color="#f1af23"/><stop offset="0.0833" stop-color="#ed9920"/><stop offset="0.1667" stop-color="#ea851d"/><stop offset="0.25" stop-color="#e7731a"/><stop offset="0.3333" stop-color="#e46417"/><stop offset="0.4167" stop-color="#e25615"/><stop offset="0.5" stop-color="#e04b13"/><stop offset="0.5843" stop-color="#de4212"/><stop offset="0.6667" stop-color="#de4212"/><stop offset="0.75" stop-color="#de4212"/><stop offset="0.8333" stop-color="#de4212"/><stop offset="0.9167" stop-color="#de4212"/><stop offset="1" stop-color="#de4212"/></linearGradient>
<linearGradient id="gF13"><stop offset="0" stop-color="#f0a722"/><stop offset="0.0833" stop-color="#ec921f"/><stop offset="0.1667" stop-color="#e97f1c"/><stop offset="0.25" stop-color="#e66e19"/><stop offset="0.3333" stop-color="#e35f17"/><stop offset="0.4167" stop-color="#e15315"/><stop offset="0.5" stop-color="#df4913"/><stop offset="0.5668" stop-color="#de4212"/><stop offset="0.6667" stop-color="#de4212"/><stop offset="0.75" stop-color="#de4212"/><stop offset="0.8333" stop-color="#de4212"/><stop offset="0.9167" stop-color="#de4212"/><stop offset="1" stop-color="#de4212"/></linearGradient>
<linearGradient id="gF14"><stop offset="0" stop-color="#eea021"/><stop offset="0.0833" stop-color="#eb8c1e"/><stop offset="0.1667" stop-color="#e87a1b"/><stop offset="0.25" stop-color="#e56918"/><stop offset="0.3333" stop-color="#e25c16"/><stop offset="0.4167" stop-color="#e05014"/><stop offset="0.5495" stop-color="#de4212"/><stop offset="0.6667" stop-color="#de4212"/><stop offset="0.75" stop-color="#de4212"/><stop offset="0.8333" stop-color="#de4212"/><stop offset="0.9167" stop-color="#de4212"/><stop offset="1" stop-color="#de4212"/></linearGradient>
<linearGradient id="gF15"><stop offset="0" stop-color="#ed9920"/><stop offset="0.0833" stop-color="#ea861d"/><stop offset="0.1667" stop-color="#e7741a"/><stop offset="0.25" stop-color="#e46518"/><stop offset="0.3333" stop-color="#e25816"/><stop offset="0.4167" stop-color="#e04d14"/><stop offset="0.5327" stop-color="#de4212"/><stop offset="0.5833" stop-color="#de4212"/><stop offset="0.6667" stop-color="#de4212"/><stop offset="0.75" stop-color="#de4212"/><stop offset="0.8333" stop-color="#de4212"/><stop offset="0.9167" stop-color="#de4212"/><stop offset="1" stop-color="#de4212"/></linearGradient>
<linearGradient id="gF16"><stop offset="0" stop-color="#ec931f"/><stop offset="0.0833" stop-color="#e9801c"/><stop offset="0.1667" stop-color="#e66f19"/><stop offset="0.25" stop-color="#e36117"/><stop offset="0.3333" stop-color="#e15515"/><stop offset="0.4167" stop-color="#e04b13"/><stop offset="0.5164" stop-color="#de4212"/><stop offset="0.5833" stop-color="#de4212"/><stop offset="0.6667" stop-color="#de4212"/><stop offset="0.75" stop-color="#de4212"/><stop offset="0.8333" stop-color="#de4212"/><stop offset="0.9167" stop-color="#de4212"/><stop offset="0.9875" stop-color="#de4212"/><stop offset="1" stop-color="#de4312"/></linearGradient>
<linearGradient id="gF17"><stop offset="0" stop-color="#eb8c1e"/><stop offset="0.0833" stop-color="#e87a1b"/><stop offset="0.1667" stop-color="#e56b18"/><stop offset="0.25" stop-color="#e35d16"/><stop offset="0.3333" stop-color="#e15215"/><stop offset="0.4167" stop-color="#df4913"/><stop offset="0.5006" stop-color="#de4212"/><stop offset="0.5833" stop-color="#de4212"/><stop offset="0.6667" stop-color="#de4212"/><stop offset="0.75" stop-color="#de4212"/><stop offset="0.8333" stop-color="#de4212"/><stop offset="0.9387" stop-color="#de4212"/><stop offset="1" stop-color="#df4713"/></linearGradient>
<linearGradient id="gF18"><stop offset="0" stop-color="#ea861d"/><stop offset="0.0833" stop-color="#e7751a"/><stop offset="0.1667" stop-color="#e46618"/><stop offset="0.25" stop-color="#e25a16"/><stop offset="0.3333" stop-color="#e04f14"/><stop offset="0.4167" stop-color="#df4713"/><stop offset="0.4856" stop-color="#de4212"/><stop offset="0.5833" stop-color="#de4212"/><stop offset="0.6667" stop-color="#de4212"/><stop offset="0.75" stop-color="#de4212"/><stop offset="0.8333" stop-color="#de4212"/><stop offset="0.8892" stop-color="#de4212"/><stop offset="1" stop-color="#e04b13"/></linearGradient>
<linearGradient id="gF19"><stop offset="0" stop-color="#e9811c"/><stop offset="0.0833" stop-color="#e67019"/><stop offset="0.1667" stop-color="#e46217"/><stop offset="0.25" stop-color="#e25715"/><stop offset="0.3333" stop-color="#e04d14"/><stop offset="0.4167" stop-color="#df4613"/><stop offset="0.4715" stop-color="#de4212"/><stop offset="0.5833" stop-color="#de4212"/><stop offset="0.6667" stop-color="#de4212"/><stop offset="0.75" stop-color="#de4212"/><stop offset="0.8387" stop-color="#de4212"/><stop offset="0.9167" stop-color="#df4713"/><stop offset="1" stop-color="#e04f14"/></linearGradient>
<linearGradient id="gF20"><stop offset="0" stop-color="#e87b1b"/><stop offset="0.0833" stop-color="#e56c19"/><stop offset="0.1667" stop-color="#e35f17"/><stop offset="0.25" stop-color="#e15415"/><stop offset="0.3333" stop-color="#e04b13"/><stop offset="0.4586" stop-color="#de4212"/><stop offset="0.5833" stop-color="#de4212"/><stop offset="0.6667" stop-color="#de4212"/><stop offset="0.787" stop-color="#de4212"/><stop offset="0.9167" stop-color="#e04b13"/><stop offset="1" stop-color="#e15415"/></linearGradient>
<linearGradient id="gF21"><stop offset="0" stop-color="#e7761a"/><stop offset="0.0833" stop-color="#e56718"/><stop offset="0.1667" stop-color="#e25b16"/><stop offset="0.25" stop-color="#e15114"/><stop offset="0.3333" stop-color="#df4913"/><stop offset="0.4474" stop-color="#de4212"/><stop offset="0.5" stop-color="#de4212"/><stop offset="0.5833" stop-color="#de4212"/><stop offset="0.6667" stop-color="#de4212"/><stop offset="0.7336" stop-color="#de4212"/><stop offset="0.8333" stop-color="#df4813"/><stop offset="0.9167" stop-color="#e05014"/><stop offset="1" stop-color="#e25916"/></linearGradient>
<linearGradient id="gF22"><stop offset="0" stop-color="#e67119"/><stop offset="0.0833" stop-color="#e46317"/><stop offset="0.1667" stop-color="#e25815"/><stop offset="0.25" stop-color="#e04f14"/><stop offset="0.3333" stop-color="#df4813"/><stop offset="0.4389" stop-color="#de4212"/><stop offset="0.5" stop-color="#de4212"/><stop offset="0.5833" stop-color="#de4212"/><stop offset="0.6776" stop-color="#de4212"/><stop offset="0.75" stop-color="#df4613"/><stop offset="0.8333" stop-color="#e04c14"/><stop offset="0.9167" stop-color="#e15415"/><stop offset="1" stop-color="#e35f17"/></linearGradient>
<linearGradient id="gF23"><stop offset="0" stop-color="#e56c19"/><stop offset="0.0833" stop-color="#e36017"/><stop offset="0.1667" stop-color="#e15515"/><stop offset="0.25" stop-color="#e04d14"/><stop offset="0.3333" stop-color="#df4713"/><stop offset="0.4351" stop-color="#de4212"/><stop offset="0.5" stop-color="#de4212"/><stop offset="0.6168" stop-color="#de4212"/><stop offset="0.75" stop-color="#df4913"/><stop offset="0.8333" stop-color="#e05014"/><stop offset="0.9167" stop-color="#e25916"/><stop offset="1" stop-color="#e46417"/></linearGradient>
<linearGradient id="gF24"><stop offset="0" stop-color="#e56818"/><stop offset="0.0833" stop-color="#e35c16"/><stop offset="0.1667" stop-color="#e15315"/><stop offset="0.25" stop-color="#e04b13"/><stop offset="0.3333" stop-color="#df4613"/><stop offset="0.4434" stop-color="#de4212"/><stop offset="0.544" stop-color="#de4212"/><stop offset="0.6667" stop-color="#df4613"/><stop offset="0.75" stop-color="#e04c14"/><stop offset="0.8333" stop-color="#e15415"/><stop offset="0.9167" stop-color="#e35e16"/><stop offset="1" stop-color="#e56a18"/></linearGradient>
<linearGradient id="gF25"><stop offset="0" stop-color="#e46417"/><stop offset="0.0833" stop-color="#e25916"/><stop offset="0.1667" stop-color="#e05014"/><stop offset="0.25" stop-color="#df4a13"/><stop offset="0.3333" stop-color="#df4512"/><stop offset="0.4167" stop-color="#de4312"/><stop offset="0.5" stop-color="#de4312"/><stop offset="0.5833" stop-color="#de4512"/><stop offset="0.6667" stop-color="#df4913"/><stop offset="0.75" stop-color="#e05014"/><stop offset="0.8333" stop-color="#e25816"/><stop offset="0.9167" stop-color="#e46317"/><stop offset="1" stop-color="#e67019"/></linearGradient>
<linearGradient id="gF26"><stop offset="0" stop-color="#e36017"/><stop offset="0.0833" stop-color="#e25615"/><stop offset="0.1667" stop-color="#e04e14"/><stop offset="0.25" stop-color="#df4813"/><stop offset="0.3333" stop-color="#de4512"/><stop offset="0.4167" stop-color="#de4312"/><stop offset="0.5" stop-color="#de4412"/><stop offset="0.5833" stop-color="#df4713"/><stop offset="0.6667" stop-color="#e04c14"/><stop offset="0.75" stop-color="#e15415"/><stop offset="0.8333" stop-color="#e35d16"/><stop offset="0.9167" stop-color="#e56918"/><stop offset="1" stop-color="#e7771a"/></linearGradient>
<linearGradient id="gF27"><stop offset="0" stop-color="#e35d16"/><stop offset="0.0833" stop-color="#e15415"/><stop offset="0.1667" stop-color="#e04c14"/><stop offset="0.25" stop-color="#df4713"/><stop offset="0.3333" stop-color="#de4512"/><stop offset="0.4167" stop-color="#de4412"/><stop offset="0.5" stop-color="#df4613"/><stop offset="0.5833" stop-color="#df4a13"/><stop offset="0.6667" stop-color="#e05014"/><stop offset="0.75" stop-color="#e25815"/><stop offset="0.8333" stop-color="#e46217"/><stop offset="0.9167" stop-color="#e66f19"/><stop offset="1" stop-color="#e87e1b"/></linearGradient>
<linearGradient id="gF28"><stop offset="0" stop-color="#e25a16"/><stop offset="0.0833" stop-color="#e15114"/><stop offset="0.1667" stop-color="#e04b13"/><stop offset="0.25" stop-color="#df4713"/><stop offset="0.3333" stop-color="#df4512"/><stop offset="0.4167" stop-color="#df4513"/><stop offset="0.5" stop-color="#df4813"/><stop offset="0.5833" stop-color="#e04c14"/><stop offset="0.6667" stop-color="#e15315"/><stop offset="0.75" stop-color="#e35c16"/><stop offset="0.8333" stop-color="#e56818"/><stop offset="0.9167" stop-color="#e7751a"/><stop offset="1" stop-color="#ea851d"/></linearGradient>
<linearGradient id="gF29"><stop offset="0" stop-color="#e25715"/><stop offset="0.0833" stop-color="#e04f14"/><stop offset="0.1667" stop-color="#df4a13"/><stop offset="0.25" stop-color="#df4713"/><stop offset="0.3333" stop-color="#df4613"/><stop offset="0.4167" stop-color="#df4713"/><stop offset="0.5" stop-color="#df4a13"/><stop offset="0.5833" stop-color="#e04f14"/><stop offset="0.6667" stop-color="#e25715"/><stop offset="0.75" stop-color="#e36117"/><stop offset="0.8333" stop-color="#e66d19"/><stop offset="0.9167" stop-color="#e87c1b"/><stop offset="1" stop-color="#eb8c1e"/></linearGradient>
<linearGradient id="gF30"><stop offset="0" stop-color="#e15415"/><stop offset="0.0833" stop-color="#e04e14"/><stop offset="0.1667" stop-color="#df4913"/><stop offset="0.25" stop-color="#df4713"/><stop offset="0.3333" stop-color="#df4613"/><stop offset="0.4167" stop-color="#df4813"/><stop offset="0.5" stop-color="#e04d14"/><stop offset="0.5833" stop-color="#e15315"/><stop offset="0.6667" stop-color="#e25b16"/><stop offset="0.75" stop-color="#e46618"/><stop offset="0.8333" stop-color="#e7731a"/><stop offset="0.9167" stop-color="#e9821c"/><stop offset="1" stop-color="#ec941f"/></linearGradient>
<linearGradient id="gF31"><stop offset="0" stop-color="#e15215"/><stop offset="0.0833" stop-color="#e04c14"/><stop offset="0.1667" stop-color="#df4813"/><stop offset="0.25" stop-color="#df4713"/><stop offset="0.3333" stop-color="#df4713"/><stop offset="0.4167" stop-color="#df4a13"/><stop offset="0.5" stop-color="#e04f14"/><stop offset="0.5833" stop-color="#e25715"/><stop offset="0.6667" stop-color="#e36017"/><stop offset="0.75" stop-color="#e56c19"/><stop offset="0.8333" stop-color="#e8791b"/><stop offset="0.9167" stop-color="#ea891d"/><stop offset="1" stop-color="#ee9c20"/></linearGradient>
<linearGradient id="gF32"><stop offset="0" stop-color="#e05014"/><stop offset="0.0833" stop-color="#e04b13"/><stop offset="0.1667" stop-color="#df4813"/><stop offset="0.25" stop-color="#df4713"/><stop offset="0.3333" stop-color="#df4913"/><stop offset="0.4167" stop-color="#e04d14"/><stop offset="0.5" stop-color="#e15215"/><stop offset="0.5833" stop-color="#e25b16"/><stop offset="0.6667" stop-color="#e46518"/><stop offset="0.75" stop-color="#e6711a"/><stop offset="0.8333" stop-color="#e9801c"/><stop offset="0.9167" stop-color="#ec911f"/><stop offset="1" stop-color="#efa422"/></linearGradient>
<linearGradient id="gF33"><stop offset="0" stop-color="#e04e14"/><stop offset="0.0833" stop-color="#df4a13"/><stop offset="0.1667" stop-color="#df4813"/><stop offset="0.25" stop-color="#df4813"/><stop offset="0.3333" stop-color="#e04b13"/><stop offset="0.4167" stop-color="#e04f14"/><stop offset="0.5" stop-color="#e15615"/><stop offset="0.5833" stop-color="#e35f17"/><stop offset="0.6667" stop-color="#e56a18"/><stop offset="0.75" stop-color="#e7771a"/><stop offset="0.8333" stop-color="#ea871d"/><stop offset="0.9167" stop-color="#ed9820"/><stop offset="1" stop-color="#f1ac23"/></linearGradient>
<linearGradient id="gF34"><stop offset="0" stop-color="#e04d14"/><stop offset="0.0833" stop-color="#df4a13"/><stop offset="0.1667" stop-color="#df4813"/><stop offset="0.25" stop-color="#df4913"/><stop offset="0.3333" stop-color="#e04d14"/><stop offset="0.4167" stop-color="#e15215"/><stop offset="0.5" stop-color="#e25a16"/><stop offset="0.5833" stop-color="#e46317"/><stop offset="0.6667" stop-color="#e66f19"/><stop offset="0.75" stop-color="#e87d1b"/><stop offset="0.8333" stop-color="#eb8e1e"/><stop offset="0.9167" stop-color="#eea021"/><stop offset="1" stop-color="#f2b524"/></linearGradient>
<linearGradient id="gF35"><stop offset="0" stop-color="#e04c14"/><stop offset="0.0833" stop-color="#df4913"/><stop offset="0.1667" stop-color="#df4913"/><stop offset="0.25" stop-color="#e04b13"/><stop offset="0.3333" stop-color="#e04f14"/><stop offset="0.4167" stop-color="#e15515"/><stop offset="0.5" stop-color="#e35e16"/><stop offset="0.5833" stop-color="#e56818"/><stop offset="0.6667" stop-color="#e7751a"/><stop offset="0.75" stop-color="#ea841c"/><stop offset="0.8333" stop-color="#ed951f"/><stop offset="0.9167" stop-color="#f0a922"/><stop offset="1" stop-color="#f4be26"/></linearGradient>
<linearGradient id="gF36"><stop offset="0" stop-color="#e04b13"/><stop offset="0.0833" stop-color="#df4913"/><stop offset="0.1667" stop-color="#df4a13"/><stop offset="0.25" stop-color="#e04d14"/><stop offset="0.3333" stop-color="#e15114"/><stop offset="0.4167" stop-color="#e25916"/><stop offset="0.5" stop-color="#e46217"/><stop offset="0.5833" stop-color="#e66d19"/><stop offset="0.6667" stop-color="#e87b1b"/><stop offset="0.75" stop-color="#eb8b1e"/><stop offset="0.8333" stop-color="#ee9d20"/><stop offset="0.9167" stop-color="#f1b124"/><stop offset="1" stop-color="#f5c827"/></linearGradient>
<linearGradient id="gF37"><stop offset="0" stop-color="#df4b13"/><stop offset="0.0833" stop-color="#df4a13"/><stop offset="0.1667" stop-color="#e04b13"/><stop offset="0.25" stop-color="#e04f14"/><stop offset="0.3333" stop-color="#e15415"/><stop offset="0.4167" stop-color="#e35c16"/><stop offset="0.5" stop-color="#e46618"/><stop offset="0.5833" stop-color="#e7731a"/><stop offset="0.6667" stop-color="#e9811c"/><stop offset="0.75" stop-color="#ec921f"/><stop offset="0.8333" stop-color="#efa522"/><stop offset="0.9167" stop-color="#f3ba25"/><stop offset="1" stop-color="#f7d129"/></linearGradient>
<linearGradient id="gF38"><stop offset="0" stop-color="#df4a13"/><stop offset="0.0833" stop-color="#df4a13"/><stop offset="0.1667" stop-color="#e04d14"/><stop offset="0.25" stop-color="#e15114"/><stop offset="0.3333" stop-color="#e25815"/><stop offset="0.4167" stop-color="#e36017"/><stop offset="0.5" stop-color="#e56b19"/><stop offset="0.5833" stop-color="#e8781b"/><stop offset="0.6667" stop-color="#ea881d"/><stop offset="0.75" stop-color="#ed9920"/><stop offset="0.8333" stop-color="#f1ad23"/><stop offset="0.9167" stop-color="#f5c326"/><stop offset="1" stop-color="#f9db2a"/></linearGradient>
<linearGradient id="gF39"><stop offset="0" stop-color="#df4a13"/><stop offset="0.0833" stop-color="#e04b13"/><stop offset="0.1667" stop-color="#e04e14"/><stop offset="0.25" stop-color="#e15415"/><stop offset="0.3333" stop-color="#e25b16"/><stop offset="0.4167" stop-color="#e46517"/><stop offset="0.5" stop-color="#e67019"/><stop offset="0.5833" stop-color="#e97e1c"/><stop offset="0.6667" stop-color="#eb8f1e"/><stop offset="0.75" stop-color="#efa121"/><stop offset="0.8333" stop-color="#f2b624"/><stop offset="0.9167" stop-color="#f6cd28"/><stop offset="1" stop-color="#fbe62c"/></linearGradient>
<linearGradient id="gF40"><stop offset="0" stop-color="#e04b13"/><stop offset="0.0833" stop-color="#e04c14"/><stop offset="0.1667" stop-color="#e05014"/><stop offset="0.25" stop-color="#e25615"/><stop offset="0.3333" stop-color="#e35f17"/><stop offset="0.4167" stop-color="#e56918"/><stop offset="0.5" stop-color="#e7761a"/><stop offset="0.5833" stop-color="#ea851d"/><stop offset="0.6667" stop-color="#ed961f"/><stop offset="0.75" stop-color="#f0a922"/><stop offset="0.8333" stop-color="#f4bf26"/><stop offset="0.9167" stop-color="#f8d62a"/><stop offset="1" stop-color="#fcf02e"/></linearGradient>
<linearGradient id="gF41"><stop offset="0" stop-color="#e04b13"/><stop offset="0.0833" stop-color="#e04e14"/><stop offset="0.1667" stop-color="#e15315"/><stop offset="0.25" stop-color="#e25a16"/><stop offset="0.3333" stop-color="#e46317"/><stop offset="0.4167" stop-color="#e66e19"/><stop offset="0.5" stop-color="#e87c1b"/><stop offset="0.5833" stop-color="#eb8b1e"/><stop offset="0.6667" stop-color="#ee9d20"/><stop offset="0.75" stop-color="#f1b124"/><stop offset="0.8333" stop-color="#f5c827"/><stop offset="0.9167" stop-color="#fae02b"/><stop offset="1" stop-color="#fefb2f"/></linearGradient>
<linearGradient id="gF42"><stop offset="0" stop-color="#e04c14"/><stop offset="0.0833" stop-color="#e05014"/><stop offset="0.1667" stop-color="#e15515"/><stop offset="0.25" stop-color="#e35d16"/><stop offset="0.3333" stop-color="#e46718"/><stop offset="0.4167" stop-color="#e7731a"/><stop offset="0.5" stop-color="#e9821c"/><stop offset="0.5833" stop-color="#ec921f"/><stop offset="0.6667" stop-color="#efa522"/><stop offset="0.75" stop-color="#f3ba25"/><stop offset="0.8333" stop-color="#f7d129"/><stop offset="0.9167" stop-color="#fbea2d"/><stop offset="0.9793" stop-color="#ffff30"/><stop offset="1" stop-color="#fbff30"/></linearGradient>
<linearGradient id="gF43"><stop offset="0" stop-color="#e04d14"/><stop offset="0.0833" stop-color="#e15214"/><stop offset="0.1667" stop-color="#e25816"/><stop offset="0.25" stop-color="#e36117"/><stop offset="0.3333" stop-color="#e56c19"/><stop offset="0.4167" stop-color="#e8791b"/><stop offset="0.5" stop-color="#ea881d"/><stop offset="0.5833" stop-color="#ed9920"/><stop offset="0.6667" stop-color="#f1ad23"/><stop offset="0.75" stop-color="#f4c326"/><stop offset="0.8333" stop-color="#f9db2a"/><stop offset="0.9466" stop-color="#ffff30"/><stop offset="1" stop-color="#f5ff31"/></linearGradient>
<linearGradient id="gF44"><stop offset="0" stop-color="#e04f14"/><stop offset="0.0833" stop-color="#e15415"/><stop offset="0.1667" stop-color="#e25b16"/><stop offset="0.25" stop-color="#e46518"/><stop offset="0.3333" stop-color="#e67119"/><stop offset="0.4167" stop-color="#e97e1c"/><stop offset="0.5" stop-color="#eb8e1e"/><stop offset="0.5833" stop-color="#efa121"/><stop offset="0.6667" stop-color="#f2b524"/><stop offset="0.75" stop-color="#f6cc28"/><stop offset="0.8333" stop-color="#fae52c"/><stop offset="0.914" stop-color="#ffff30"/><stop offset="1" stop-color="#eefe31"/></linearGradient>
<linearGradient id="gF45"><stop offset="0" stop-color="#e15114"/><stop offset="0.0833" stop-color="#e25715"/><stop offset="0.1667" stop-color="#e35f17"/><stop offset="0.25" stop-color="#e56918"/><stop offset="0.3333" stop-color="#e7761a"/><stop offset="0.4167" stop-color="#ea841d"/><stop offset="0.5" stop-color="#ed951f"/><stop offset="0.5833" stop-color="#f0a922"/><stop offset="0.6667" stop-color="#f4be26"/><stop offset="0.75" stop-color="#f8d529"/><stop offset="0.8816" stop-color="#ffff30"/><stop offset="1" stop-color="#e8fe32"/></linearGradient>
<linearGradient id="gF46"><stop offset="0" stop-color="#e15315"/><stop offset="0.0833" stop-color="#e25a16"/><stop offset="0.1667" stop-color="#e46317"/><stop offset="0.25" stop-color="#e66e19"/><stop offset="0.3333" stop-color="#e87b1b"/><stop offset="0.4167" stop-color="#eb8b1e"/><stop offset="0.5" stop-color="#ee9d20"/><stop offset="0.5833" stop-color="#f1b124"/><stop offset="0.6667" stop-color="#f5c727"/><stop offset="0.75" stop-color="#f9df2b"/><stop offset="0.8492" stop-color="#ffff30"/><stop offset="0.9167" stop-color="#f2fe31"/><stop offset="1" stop-color="#e1fe32"/></linearGradient>
<linearGradient id="gF47"><stop offset="0" stop-color="#e15515"/><stop offset="0.0833" stop-color="#e35d16"/><stop offset="0.1667" stop-color="#e46718"/><stop offset="0.25" stop-color="#e6731a"/><stop offset="0.3333" stop-color="#e9811c"/><stop offset="0.4167" stop-color="#ec911f"/><stop offset="0.5" stop-color="#efa422"/><stop offset="0.5833" stop-color="#f3b925"/><stop offset="0.6667" stop-color="#f7d029"/><stop offset="0.75" stop-color="#fbe92d"/><stop offset="0.817" stop-color="#ffff30"/><stop offset="0.9167" stop-color="#ecfe31"/><stop offset="1" stop-color="#dafd32"/></linearGradient>
<linearGradient id="gF48"><stop offset="0" stop-color="#e25815"/><stop offset="0.0833" stop-color="#e36017"/><stop offset="0.1667" stop-color="#e56b19"/><stop offset="0.25" stop-color="#e7781b"/><stop offset="0.3333" stop-color="#ea871d"/><stop offset="0.4167" stop-color="#ed9820"/><stop offset="0.5" stop-color="#f0ac23"/><stop offset="0.5833" stop-color="#f4c126"/><stop offset="0.6667" stop-color="#f8d92a"/><stop offset="0.7849" stop-color="#ffff30"/><stop offset="0.9167" stop-color="#e5fe32"/><stop offset="1" stop-color="#d3fd33"/></linearGradient>
<linearGradient id="gF49"><stop offset="0" stop-color="#e25b16"/><stop offset="0.0833" stop-color="#e46417"/><stop offset="0.1667" stop-color="#e67019"/><stop offset="0.25" stop-color="#e87d1b"/><stop offset="0.3333" stop-color="#eb8d1e"/><stop offset="0.4167" stop-color="#ee9f21"/><stop offset="0.5" stop-color="#f2b424"/><stop offset="0.5833" stop-color="#f6ca28"/><stop offset="0.6667" stop-color="#fae32c"/><stop offset="0.7529" stop-color="#ffff30"/><stop offset="0.8333" stop-color="#effe31"/><stop offset="0.9167" stop-color="#defd32"/><stop offset="1" stop-color="#ccfd33"/></linearGradient>
<linearGradient id="gF50"><stop offset="0" stop-color="#e35e16"/><stop offset="0.0833" stop-color="#e56818"/><stop offset="0.1667" stop-color="#e7751a"/><stop offset="0.25" stop-color="#e9831c"/><stop offset="0.3333" stop-color="#ec941f"/><stop offset="0.4167" stop-color="#f0a722"/><stop offset="0.5" stop-color="#f3bc25"/><stop offset="0.5833" stop-color="#f7d429"/><stop offset="0.6667" stop-color="#fced2d"/><stop offset="0.721" stop-color="#ffff30"/><stop offset="0.8333" stop-color="#e9fe31"/><stop offset="0.9167" stop-color="#d7fd33"/><stop offset="1" stop-color="#c4fc34"/></linearGradient>
<linearGradient id="gF51"><stop offset="0" stop-color="#e36117"/><stop offset="0.0833" stop-color="#e56c19"/><stop offset="0.1667" stop-color="#e87a1b"/><stop offset="0.25" stop-color="#ea891d"/><stop offset="0.3333" stop-color="#ee9b20"/><stop offset="0.4167" stop-color="#f1af23"/><stop offset="0.5" stop-color="#f5c527"/><stop offset="0.5833" stop-color="#f9dd2b"/><stop offset="0.6893" stop-color="#ffff30"/><stop offset="0.75" stop-color="#f3fe31"/><stop offset="0.8333" stop-color="#e2fe32"/><stop offset="0.9167" stop-color="#d0fd33"/><stop offset="1" stop-color="#bdfc34"/></linearGradient>
<linearGradient id="gF52"><stop offset="0" stop-color="#e46518"/><stop offset="0.0833" stop-color="#e67119"/><stop offset="0.1667" stop-color="#e97f1c"/><stop offset="0.25" stop-color="#ec901e"/><stop offset="0.3333" stop-color="#efa221"/><stop offset="0.4167" stop-color="#f2b725"/><stop offset="0.5" stop-color="#f6ce28"/><stop offset="0.5833" stop-color="#fbe72c"/><stop offset="0.6577" stop-color="#ffff30"/><stop offset="0.75" stop-color="#edfe31"/><stop offset="0.8333" stop-color="#dcfd32"/><stop offset="0.9167" stop-color="#c9fc34"/><stop offset="1" stop-color="#b5fb35"/></linearGradient>
<linearGradient id="gF53"><stop offset="0" stop-color="#e56918"/><stop offset="0.0833" stop-color="#e7761a"/><stop offset="0.1667" stop-color="#ea851d"/><stop offset="0.25" stop-color="#ed961f"/><stop offset="0.3333" stop-color="#f0aa22"/><stop offset="0.4167" stop-color="#f4bf26"/><stop offset="0.5" stop-color="#f8d72a"/><stop offset="0.6261" stop-color="#ffff30"/><stop offset="0.75" stop-color="#e7fe32"/><stop offset="0.8333" stop-color="#d5fd33"/><stop offset="0.9167" stop-color="#c1fc34"/><stop offset="1" stop-color="#adfb35"/></linearGradient>
<linearGradient id="gF54"><stop offset="0" stop-color="#e66e19"/><stop offset="0.0833" stop-color="#e87b1b"/><stop offset="0.1667" stop-color="#eb8b1e"/><stop offset="0.25" stop-color="#ee9d20"/><stop offset="0.3333" stop-color="#f1b124"/><stop offset="0.4167" stop-color="#f5c827"/><stop offset="0.5" stop-color="#fae02b"/><stop offset="0.5948" stop-color="#ffff30"/><stop offset="0.6667" stop-color="#f1fe31"/><stop offset="0.75" stop-color="#e0fe32"/><stop offset="0.8333" stop-color="#cdfd33"/><stop offset="0.9167" stop-color="#bafc35"/><stop offset="1" stop-color="#a5fb36"/></linearGradient>
<linearGradient id="gF55"><stop offset="0" stop-color="#e6721a"/><stop offset="0.0833" stop-color="#e9811c"/><stop offset="0.1667" stop-color="#ec921f"/><stop offset="0.25" stop-color="#efa422"/><stop offset="0.3333" stop-color="#f3b925"/><stop offset="0.4167" stop-color="#f7d129"/><stop offset="0.5" stop-color="#fbea2d"/><stop offset="0.5635" stop-color="#ffff30"/><stop offset="0.6667" stop-color="#ebfe31"/><stop offset="0.75" stop-color="#d9fd33"/><stop offset="0.8333" stop-color="#c6fc34"/><stop offset="0.9167" stop-color="#b2fb35"/><stop offset="1" stop-color="#9dfa37"/></linearGradient>
</defs>
<g clip-path="url(#clipB)">
<g filter="url(#blB)">
<rect x="1060.4" y="26.09" width="618.6" height="13.50" fill="url(#gB0)"/>
<rect x="1060.4" y="39.00" width="618.6" height="13.50" fill="url(#gB0)"/>
<rect x="1060.4" y="51.90" width="618.6" height="13.50" fill="url(#gB0)"/>
<rect x="1060.4" y="64.80" width="618.6" height="13.50" fill="url(#gB1)"/>
<rect x="1060.4" y="77.71" width="618.6" height="13.50" fill="url(#gB2)"/>
<rect x="1060.4" y="90.61" width="618.6" height="13.50" fill="url(#gB3)"/>
<rect x="1060.4" y="103.52" width="618.6" height="13.50" fill="url(#gB4)"/>
<rect x="1060.4" y="116.42" width="618.6" height="13.50" fill="url(#gB5)"/>
<rect x="1060.4" y="129.32" width="618.6" height="13.50" fill="url(#gB6)"/>
<rect x="1060.4" y="142.23" width="618.6" height="13.50" fill="url(#gB7)"/>
<rect x="1060.4" y="155.13" width="618.6" height="13.50" fill="url(#gB8)"/>
<rect x="1060.4" y="168.04" width="618.6" height="13.50" fill="url(#gB9)"/>
<rect x="1060.4" y="180.94" width="618.6" height="13.50" fill="url(#gB10)"/>
<rect x="1060.4" y="193.85" width="618.6" height="13.50" fill="url(#gB11)"/>
<rect x="1060.4" y="206.75" width="618.6" height="13.50" fill="url(#gB12)"/>
<rect x="1060.4" y="219.65" width="618.6" height="13.50" fill="url(#gB13)"/>
<rect x="1060.4" y="232.56" width="618.6" height="13.50" fill="url(#gB14)"/>
<rect x="1060.4" y="245.46" width="618.6" height="13.50" fill="url(#gB15)"/>
<rect x="1060.4" y="258.37" width="618.6" height="13.50" fill="url(#gB16)"/>
<rect x="1060.4" y="271.27" width="618.6" height="13.50" fill="url(#gB17)"/>
<rect x="1060.4" y="284.18" width="618.6" height="13.50" fill="url(#gB18)"/>
<rect x="1060.4" y="297.08" width="618.6" height="13.50" fill="url(#gB19)"/>
<rect x="1060.4" y="309.98" width="618.6" height="13.50" fill="url(#gB20)"/>
<rect x="1060.4" y="322.89" width="618.6" height="13.50" fill="url(#gB21)"/>
<rect x="1060.4" y="335.79" width="618.6" height="13.50" fill="url(#gB22)"/>
<rect x="1060.4" y="348.70" width="618.6" height="13.50" fill="url(#gB23)"/>
<rect x="1060.4" y="361.60" width="618.6" height="13.50" fill="url(#gB24)"/>
<rect x="1060.4" y="374.50" width="618.6" height="13.50" fill="url(#gB25)"/>
<rect x="1060.4" y="387.41" width="618.6" height="13.50" fill="url(#gB26)"/>
<rect x="1060.4" y="400.31" width="618.6" height="13.50" fill="url(#gB27)"/>
<rect x="1060.4" y="413.22" width="618.6" height="13.50" fill="url(#gB28)"/>
<rect x="1060.4" y="426.12" width="618.6" height="13.50" fill="url(#gB29)"/>
<rect x="1060.4" y="439.02" width="618.6" height="13.50" fill="url(#gB30)"/>
<rect x="1060.4" y="451.93" width="618.6" height="13.50" fill="url(#gB31)"/>
<rect x="1060.4" y="464.83" width="618.6" height="13.50" fill="url(#gB32)"/>
<rect x="1060.4" y="477.74" width="618.6" height="13.50" fill="url(#gB33)"/>
<rect x="1060.4" y="490.64" width="618.6" height="13.50" fill="url(#gB34)"/>
<rect x="1060.4" y="503.55" width="618.6" height="13.50" fill="url(#gB35)"/>
<rect x="1060.4" y="516.45" width="618.6" height="13.50" fill="url(#gB36)"/>
<rect x="1060.4" y="529.35" width="618.6" height="13.50" fill="url(#gB37)"/>
<rect x="1060.4" y="542.26" width="618.6" height="13.50" fill="url(#gB38)"/>
<rect x="1060.4" y="555.16" width="618.6" height="13.50" fill="url(#gB39)"/>
<rect x="1060.4" y="568.07" width="618.6" height="13.50" fill="url(#gB40)"/>
<rect x="1060.4" y="580.97" width="618.6" height="13.50" fill="url(#gB41)"/>
<rect x="1060.4" y="593.88" width="618.6" height="13.50" fill="url(#gB42)"/>
<rect x="1060.4" y="606.78" width="618.6" height="13.50" fill="url(#gB43)"/>
<rect x="1060.4" y="619.68" width="618.6" height="13.50" fill="url(#gB44)"/>
<rect x="1060.4" y="632.59" width="618.6" height="13.50" fill="url(#gB45)"/>
<rect x="1060.4" y="645.49" width="618.6" height="13.50" fill="url(#gB46)"/>
<rect x="1060.4" y="658.40" width="618.6" height="13.50" fill="url(#gB47)"/>
<rect x="1060.4" y="671.30" width="618.6" height="13.50" fill="url(#gB47)"/>
<rect x="1060.4" y="684.20" width="618.6" height="13.50" fill="url(#gB47)"/>
</g>
<path d="M1321.9 671.6 L1319.3 656.1 L1316.7 640.6 L1315.4 632.9 L1313.1 617.4 L1310.8 601.9 L1308.6 586.4 L1307.6 578.7 L1305.6 563.2 L1303.8 547.7 L1302.0 532.2 L1300.3 516.8 L1299.5 509.0 L1298.0 493.5 L1296.7 478.0 L1295.4 462.6 L1294.2 447.1 L1293.2 431.6 L1292.4 418.6 L1291.8 408.4 L1291.1 392.9 L1290.5 377.4 L1290.0 361.9 L1289.6 346.4 L1289.4 330.9 L1289.3 315.4 L1289.3 300.0 L1289.5 284.5 L1289.8 269.0 L1290.4 253.5 L1291.0 238.0 L1291.9 222.5 L1292.4 214.8 L1293.7 199.3 L1295.2 183.8 L1297.0 168.3 L1299.0 152.9 L1300.1 145.0 L1302.8 129.6 L1305.9 114.1 L1307.8 105.3 L1311.8 90.9 L1315.6 78.3 L1319.7 67.7 L1323.3 59.1 L1327.0 52.2" fill="none" stroke="#1c1c1c" stroke-width="1.5"/>
<path d="M1527.4 671.6 L1526.9 656.1 L1526.4 640.6 L1525.7 625.1 L1524.9 609.7 L1524.3 600.1 L1523.4 586.4 L1522.3 570.9 L1521.1 555.5 L1519.8 540.0 L1518.4 524.5 L1516.9 509.0 L1516.0 501.3 L1514.3 485.8 L1512.5 470.3 L1510.5 454.8 L1508.9 441.8 L1507.4 431.6 L1505.2 416.1 L1502.9 400.6 L1501.2 389.2 L1499.2 377.4 L1496.5 361.9 L1493.8 346.4 L1492.4 338.7 L1489.4 323.2 L1486.3 307.7 L1484.7 300.0 L1481.3 284.5 L1478.0 269.3 L1476.0 261.2 L1472.3 245.8 L1470.2 237.4 L1466.3 222.5 L1462.5 208.5 L1459.8 199.3 L1455.3 183.8 L1452.8 176.1 L1447.8 160.6 L1445.1 152.9 L1439.6 137.4 L1436.6 129.6 L1431.6 116.8 L1427.0 106.4 L1423.6 98.7 L1416.1 83.3 L1411.7 75.4 L1407.2 67.7 L1400.6 57.4 L1396.7 52.2" fill="none" stroke="#1c1c1c" stroke-width="1.5"/>
<path d="M1202.4 671.6 L1200.3 656.1 L1199.2 648.4 L1197.3 632.9 L1195.3 617.4 L1193.4 601.9 L1191.9 589.2 L1190.6 578.7 L1188.9 563.2 L1187.2 547.7 L1185.5 532.2 L1184.1 519.3 L1183.1 509.0 L1181.6 493.5 L1180.1 478.0 L1178.7 462.6 L1177.3 447.1 L1176.4 436.8 L1175.3 423.8 L1174.1 408.4 L1172.9 392.9 L1171.8 377.4 L1170.7 361.9 L1169.7 346.4 L1168.7 330.9 L1168.3 323.2 L1167.4 307.7 L1166.6 292.2 L1165.8 276.7 L1165.1 261.2 L1164.5 245.8 L1163.9 230.3 L1163.3 214.8 L1162.9 199.3 L1162.5 183.8 L1162.1 168.3 L1161.8 152.9 L1161.6 137.4 L1161.5 121.9 L1161.4 106.4 L1161.4 90.9 L1161.4 75.4 L1161.6 59.9 L1161.6 52.2" fill="none" stroke="#1c1c1c" stroke-width="1.5"/>
<path d="M1646.9 671.6 L1645.9 656.1 L1644.8 640.6 L1643.6 625.1 L1642.4 609.7 L1641.2 594.2 L1640.3 584.2 L1639.2 570.9 L1637.8 555.5 L1636.3 540.0 L1634.8 524.5 L1633.3 509.0 L1632.5 501.3 L1630.8 485.8 L1629.1 470.3 L1627.4 454.8 L1625.6 439.3 L1624.7 431.6 L1622.8 416.1 L1620.9 400.6 L1618.9 385.1 L1617.1 371.8 L1615.8 361.9 L1613.7 346.4 L1611.5 330.9 L1609.4 316.3 L1608.1 307.7 L1605.8 292.2 L1603.4 276.7 L1601.7 265.4 L1599.8 253.5 L1597.2 238.0 L1594.7 222.5 L1593.4 214.8 L1590.7 199.3 L1587.9 183.8 L1586.2 174.1 L1583.7 160.6 L1580.8 145.1 L1578.5 132.7 L1576.4 121.9 L1573.3 106.4 L1570.7 93.6 L1568.6 83.2 L1565.3 67.7 L1563.0 56.6 L1562.0 52.2" fill="none" stroke="#1c1c1c" stroke-width="1.5"/>
<path d="M1127.6 671.6 L1125.6 656.1 L1123.7 640.6 L1122.3 629.0 L1120.9 617.4 L1119.1 601.9 L1117.3 586.4 L1115.5 570.9 L1114.5 561.9 L1113.0 547.7 L1111.4 532.2 L1109.8 516.8 L1108.2 501.3 L1106.8 487.1 L1105.9 478.0 L1104.5 462.6 L1103.1 447.1 L1101.7 431.6 L1100.3 416.1 L1099.1 401.1 L1098.4 392.9 L1097.2 377.4 L1096.0 361.9 L1094.8 346.4 L1093.7 330.9 L1092.6 315.4 L1091.6 300.0 L1091.1 292.2 L1090.1 276.7 L1089.2 261.2 L1088.3 245.8 L1087.5 230.3 L1086.6 214.8 L1085.9 199.3 L1085.2 183.8 L1084.5 168.3 L1083.9 152.9 L1083.6 145.1 L1083.0 129.6 L1082.5 114.1 L1082.0 98.7 L1081.6 83.2 L1081.2 67.7 L1080.9 52.2 L1080.9 52.2" fill="none" stroke="#1c1c1c" stroke-width="1.5"/>
<path d="M1679.0 275.7 L1676.9 261.2 L1674.7 245.8 L1672.4 230.3 L1671.2 222.5 L1668.8 207.1 L1666.4 191.6 L1664.0 176.1 L1662.8 168.3 L1660.2 152.9 L1657.7 137.4 L1655.8 126.0 L1653.8 114.1 L1651.1 98.7 L1648.4 83.2 L1647.0 75.4 L1644.2 59.9 L1642.8 52.2" fill="none" stroke="#1c1c1c" stroke-width="1.5"/>
<path d="M1068.1 671.6 L1066.2 656.1 L1064.4 640.6 L1062.5 625.1 L1060.7 609.7 L1060.4 606.8" fill="none" stroke="#1c1c1c" stroke-width="1.5"/>
</g>
<rect x="1060.4" y="52.2" width="618.6" height="619.4" fill="none" stroke="#3a3a3a" stroke-width="1.8"/>
<line x1="1060.4" y1="671.6" x2="1060.4" y2="686.4" stroke="#2a2a2a" stroke-width="1.6"/>
<text transform="translate(1060.4 711.8)" font-family='"DejaVu Sans Condensed","DejaVu Sans","Liberation Sans",sans-serif' font-size="19.5" text-anchor="middle" fill="#1a1a1a" stroke="#1a1a1a" stroke-width="0.35">1</text>
<line x1="1184.1" y1="671.6" x2="1184.1" y2="686.4" stroke="#2a2a2a" stroke-width="1.6"/>
<text transform="translate(1184.1 711.8) scale(0.9 1)" font-family='"DejaVu Sans Condensed","DejaVu Sans","Liberation Sans",sans-serif' font-size="19.5" text-anchor="middle" fill="#1a1a1a" stroke="#1a1a1a" stroke-width="0.35">1.2</text>
<line x1="1307.8" y1="671.6" x2="1307.8" y2="686.4" stroke="#2a2a2a" stroke-width="1.6"/>
<text transform="translate(1307.8 711.8) scale(0.9 1)" font-family='"DejaVu Sans Condensed","DejaVu Sans","Liberation Sans",sans-serif' font-size="19.5" text-anchor="middle" fill="#1a1a1a" stroke="#1a1a1a" stroke-width="0.35">1.4</text>
<line x1="1431.6" y1="671.6" x2="1431.6" y2="686.4" stroke="#2a2a2a" stroke-width="1.6"/>
<text transform="translate(1431.6 711.8) scale(0.9 1)" font-family='"DejaVu Sans Condensed","DejaVu Sans","Liberation Sans",sans-serif' font-size="19.5" text-anchor="middle" fill="#1a1a1a" stroke="#1a1a1a" stroke-width="0.35">1.6</text>
<line x1="1555.3" y1="671.6" x2="1555.3" y2="686.4" stroke="#2a2a2a" stroke-width="1.6"/>
<text transform="translate(1555.3 711.8) scale(0.9 1)" font-family='"DejaVu Sans Condensed","DejaVu Sans","Liberation Sans",sans-serif' font-size="19.5" text-anchor="middle" fill="#1a1a1a" stroke="#1a1a1a" stroke-width="0.35">1.8</text>
<line x1="1679.0" y1="671.6" x2="1679.0" y2="686.4" stroke="#2a2a2a" stroke-width="1.6"/>
<text transform="translate(1679.0 711.8)" font-family='"DejaVu Sans Condensed","DejaVu Sans","Liberation Sans",sans-serif' font-size="19.5" text-anchor="middle" fill="#1a1a1a" stroke="#1a1a1a" stroke-width="0.35">2</text>
<line x1="1045.6" y1="671.6" x2="1060.4" y2="671.6" stroke="#2a2a2a" stroke-width="1.6"/>
<text transform="translate(1038.2 673.3)" font-family='"DejaVu Sans Condensed","DejaVu Sans","Liberation Sans",sans-serif' font-size="19.5" text-anchor="end" fill="#1a1a1a" stroke="#1a1a1a" stroke-width="0.35">4</text>
<line x1="1045.6" y1="516.8" x2="1060.4" y2="516.8" stroke="#2a2a2a" stroke-width="1.6"/>
<text transform="translate(1038.2 518.5) scale(0.9 1)" font-family='"DejaVu Sans Condensed","DejaVu Sans","Liberation Sans",sans-serif' font-size="19.5" text-anchor="end" fill="#1a1a1a" stroke="#1a1a1a" stroke-width="0.35">4.5</text>
<line x1="1045.6" y1="361.9" x2="1060.4" y2="361.9" stroke="#2a2a2a" stroke-width="1.6"/>
<text transform="translate(1038.2 363.6)" font-family='"DejaVu Sans Condensed","DejaVu Sans","Liberation Sans",sans-serif' font-size="19.5" text-anchor="end" fill="#1a1a1a" stroke="#1a1a1a" stroke-width="0.35">5</text>
<line x1="1045.6" y1="207.1" x2="1060.4" y2="207.1" stroke="#2a2a2a" stroke-width="1.6"/>
<text transform="translate(1038.2 208.8) scale(0.9 1)" font-family='"DejaVu Sans Condensed","DejaVu Sans","Liberation Sans",sans-serif' font-size="19.5" text-anchor="end" fill="#1a1a1a" stroke="#1a1a1a" stroke-width="0.35">5.5</text>
<line x1="1045.6" y1="52.2" x2="1060.4" y2="52.2" stroke="#2a2a2a" stroke-width="1.6"/>
<text transform="translate(1038.2 53.9)" font-family='"DejaVu Sans Condensed","DejaVu Sans","Liberation Sans",sans-serif' font-size="19.5" text-anchor="end" fill="#1a1a1a" stroke="#1a1a1a" stroke-width="0.35">6</text>
<rect x="1083.0" y="351.9" width="21" height="17" fill="#fff" stroke="#333" stroke-width="1.3"/>
<text transform="translate(1093.5 365.0) scale(0.95 1)" font-family='"DejaVu Sans Condensed","DejaVu Sans","Liberation Sans",sans-serif' font-size="12.5" text-anchor="middle" fill="#222" stroke="#222" stroke-width="0.35">38</text>
<rect x="1158.5" y="351.9" width="21" height="17" fill="#fff" stroke="#333" stroke-width="1.3"/>
<text transform="translate(1169.0 365.0) scale(0.95 1)" font-family='"DejaVu Sans Condensed","DejaVu Sans","Liberation Sans",sans-serif' font-size="12.5" text-anchor="middle" fill="#222" stroke="#222" stroke-width="0.35">36</text>
<rect x="1277.0" y="344.2" width="21" height="17" fill="#fff" stroke="#333" stroke-width="1.3"/>
<text transform="translate(1287.5 357.3) scale(0.95 1)" font-family='"DejaVu Sans Condensed","DejaVu Sans","Liberation Sans",sans-serif' font-size="12.5" text-anchor="middle" fill="#222" stroke="#222" stroke-width="0.35">34</text>
<rect x="1483.6" y="306.0" width="21" height="17" fill="#fff" stroke="#333" stroke-width="1.3"/>
<text transform="translate(1494.1 319.1) scale(0.95 1)" font-family='"DejaVu Sans Condensed","DejaVu Sans","Liberation Sans",sans-serif' font-size="12.5" text-anchor="middle" fill="#222" stroke="#222" stroke-width="0.35">34</text>
<rect x="1607.9" y="328.7" width="21" height="17" fill="#fff" stroke="#333" stroke-width="1.3"/>
<text transform="translate(1618.4 341.8) scale(0.95 1)" font-family='"DejaVu Sans Condensed","DejaVu Sans","Liberation Sans",sans-serif' font-size="12.5" text-anchor="middle" fill="#222" stroke="#222" stroke-width="0.35">36</text>
<rect x="1652.9" y="124.1" width="21" height="17" fill="#fff" stroke="#333" stroke-width="1.3"/>
<text transform="translate(1663.4 137.2) scale(0.95 1)" font-family='"DejaVu Sans Condensed","DejaVu Sans","Liberation Sans",sans-serif' font-size="12.5" text-anchor="middle" fill="#222" stroke="#222" stroke-width="0.35">38</text>
<circle cx="1060.4" cy="52.2" r="5.4" fill="#c41212" stroke="#3a0a0a" stroke-width="1.7"/>
<circle cx="1679.0" cy="52.2" r="5.4" fill="#c41212" stroke="#3a0a0a" stroke-width="1.7"/>
<circle cx="1060.4" cy="671.6" r="5.4" fill="#c41212" stroke="#3a0a0a" stroke-width="1.7"/>
<circle cx="1679.0" cy="671.6" r="5.4" fill="#c41212" stroke="#3a0a0a" stroke-width="1.7"/>
<circle cx="1369.7" cy="361.9" r="5.5" fill="#e01030" stroke="#150808" stroke-width="2.4"/>
<text transform="translate(1354.7 365.7)" font-family='"DejaVu Sans Condensed","DejaVu Sans","Liberation Sans",sans-serif' font-size="12" text-anchor="middle" fill="#3a1a10" stroke="#3a1a10" stroke-width="0.4">5</text>
<text transform="translate(1368.1 34.3)" font-family='"Liberation Serif","Noto Serif CJK SC",serif' font-size="31.7" text-anchor="middle" fill="#1a1a1a">Contact angle (°)</text>
<text transform="translate(1382.4 744.0)" font-family='"Liberation Serif","Noto Serif CJK SC",serif' font-size="31.7" text-anchor="middle" fill="#1a1a1a">DA concentration (g/L)</text>
<text transform="translate(1014.2 358.8) rotate(-90)" font-family='"Liberation Serif","Noto Serif CJK SC",serif' font-size="32.2" text-anchor="middle" fill="#1a1a1a">Coating time (h)</text>
<g clip-path="url(#clipD)">
<g filter="url(#blD)">
<rect x="1047.6" y="820.64" width="621.6" height="13.53" fill="url(#gD0)"/>
<rect x="1047.6" y="833.57" width="621.6" height="13.53" fill="url(#gD0)"/>
<rect x="1047.6" y="846.50" width="621.6" height="13.53" fill="url(#gD0)"/>
<rect x="1047.6" y="859.43" width="621.6" height="13.53" fill="url(#gD1)"/>
<rect x="1047.6" y="872.36" width="621.6" height="13.53" fill="url(#gD2)"/>
<rect x="1047.6" y="885.29" width="621.6" height="13.53" fill="url(#gD3)"/>
<rect x="1047.6" y="898.23" width="621.6" height="13.53" fill="url(#gD4)"/>
<rect x="1047.6" y="911.16" width="621.6" height="13.53" fill="url(#gD5)"/>
<rect x="1047.6" y="924.09" width="621.6" height="13.53" fill="url(#gD6)"/>
<rect x="1047.6" y="937.02" width="621.6" height="13.53" fill="url(#gD7)"/>
<rect x="1047.6" y="949.95" width="621.6" height="13.53" fill="url(#gD8)"/>
<rect x="1047.6" y="962.88" width="621.6" height="13.53" fill="url(#gD9)"/>
<rect x="1047.6" y="975.81" width="621.6" height="13.53" fill="url(#gD10)"/>
<rect x="1047.6" y="988.74" width="621.6" height="13.53" fill="url(#gD11)"/>
<rect x="1047.6" y="1001.67" width="621.6" height="13.53" fill="url(#gD12)"/>
<rect x="1047.6" y="1014.61" width="621.6" height="13.53" fill="url(#gD13)"/>
<rect x="1047.6" y="1027.54" width="621.6" height="13.53" fill="url(#gD14)"/>
<rect x="1047.6" y="1040.47" width="621.6" height="13.53" fill="url(#gD15)"/>
<rect x="1047.6" y="1053.40" width="621.6" height="13.53" fill="url(#gD16)"/>
<rect x="1047.6" y="1066.33" width="621.6" height="13.53" fill="url(#gD17)"/>
<rect x="1047.6" y="1079.26" width="621.6" height="13.53" fill="url(#gD18)"/>
<rect x="1047.6" y="1092.19" width="621.6" height="13.53" fill="url(#gD19)"/>
<rect x="1047.6" y="1105.12" width="621.6" height="13.53" fill="url(#gD20)"/>
<rect x="1047.6" y="1118.06" width="621.6" height="13.53" fill="url(#gD21)"/>
<rect x="1047.6" y="1130.99" width="621.6" height="13.53" fill="url(#gD22)"/>
<rect x="1047.6" y="1143.92" width="621.6" height="13.53" fill="url(#gD23)"/>
<rect x="1047.6" y="1156.85" width="621.6" height="13.53" fill="url(#gD24)"/>
<rect x="1047.6" y="1169.78" width="621.6" height="13.53" fill="url(#gD25)"/>
<rect x="1047.6" y="1182.71" width="621.6" height="13.53" fill="url(#gD26)"/>
<rect x="1047.6" y="1195.64" width="621.6" height="13.53" fill="url(#gD27)"/>
<rect x="1047.6" y="1208.58" width="621.6" height="13.53" fill="url(#gD28)"/>
<rect x="1047.6" y="1221.51" width="621.6" height="13.53" fill="url(#gD29)"/>
<rect x="1047.6" y="1234.44" width="621.6" height="13.53" fill="url(#gD30)"/>
<rect x="1047.6" y="1247.37" width="621.6" height="13.53" fill="url(#gD31)"/>
<rect x="1047.6" y="1260.30" width="621.6" height="13.53" fill="url(#gD32)"/>
<rect x="1047.6" y="1273.23" width="621.6" height="13.53" fill="url(#gD33)"/>
<rect x="1047.6" y="1286.16" width="621.6" height="13.53" fill="url(#gD34)"/>
<rect x="1047.6" y="1299.09" width="621.6" height="13.53" fill="url(#gD35)"/>
<rect x="1047.6" y="1312.03" width="621.6" height="13.53" fill="url(#gD36)"/>
<rect x="1047.6" y="1324.96" width="621.6" height="13.53" fill="url(#gD37)"/>
<rect x="1047.6" y="1337.89" width="621.6" height="13.53" fill="url(#gD38)"/>
<rect x="1047.6" y="1350.82" width="621.6" height="13.53" fill="url(#gD39)"/>
<rect x="1047.6" y="1363.75" width="621.6" height="13.53" fill="url(#gD40)"/>
<rect x="1047.6" y="1376.68" width="621.6" height="13.53" fill="url(#gD41)"/>
<rect x="1047.6" y="1389.61" width="621.6" height="13.53" fill="url(#gD42)"/>
<rect x="1047.6" y="1402.54" width="621.6" height="13.53" fill="url(#gD43)"/>
<rect x="1047.6" y="1415.48" width="621.6" height="13.53" fill="url(#gD44)"/>
<rect x="1047.6" y="1428.41" width="621.6" height="13.53" fill="url(#gD45)"/>
<rect x="1047.6" y="1441.34" width="621.6" height="13.53" fill="url(#gD46)"/>
<rect x="1047.6" y="1454.27" width="621.6" height="13.53" fill="url(#gD47)"/>
<rect x="1047.6" y="1467.20" width="621.6" height="13.53" fill="url(#gD47)"/>
<rect x="1047.6" y="1480.13" width="621.6" height="13.53" fill="url(#gD47)"/>
</g>
<path d="M1311.0 846.8 L1303.2 854.6 L1296.2 863.7 L1288.5 876.9 L1284.5 885.6 L1280.7 894.8 L1276.1 908.9 L1272.9 920.0 L1270.2 932.1 L1267.4 947.7 L1265.2 962.9 L1264.3 970.9 L1263.1 986.5 L1262.3 1002.0 L1262.0 1017.5 L1262.1 1033.0 L1262.7 1048.5 L1263.6 1064.0 L1264.9 1079.6 L1265.7 1087.3 L1267.7 1102.8 L1270.0 1118.4 L1272.6 1133.9 L1274.1 1141.6 L1277.4 1157.2 L1280.7 1171.6 L1283.0 1180.4 L1287.3 1195.9 L1289.7 1203.7 L1294.7 1219.2 L1297.4 1227.0 L1303.3 1242.5 L1306.5 1250.3 L1311.8 1262.4 L1317.2 1273.5 L1321.1 1281.3 L1327.3 1292.6 L1334.7 1304.6 L1340.0 1312.3 L1345.8 1320.1 L1352.0 1327.8 L1359.1 1335.6 L1367.5 1343.4 L1377.9 1351.1 L1389.5 1357.5 L1397.2 1360.2 L1412.8 1361.9 L1426.3 1358.9 L1436.1 1353.9 L1443.9 1347.7 L1451.6 1339.4 L1459.4 1328.4 L1464.0 1320.1 L1467.8 1312.3 L1473.9 1296.8 L1476.4 1289.0 L1480.7 1273.5 L1482.7 1264.7 L1485.4 1250.3 L1487.6 1234.7 L1489.2 1219.2 L1490.4 1203.7 L1490.7 1195.9 L1491.1 1180.4 L1491.0 1164.9 L1490.5 1149.4 L1490.1 1141.6 L1489.0 1126.1 L1487.5 1110.6 L1485.6 1095.1 L1483.4 1079.6 L1482.1 1071.8 L1479.3 1056.3 L1476.1 1040.8 L1474.3 1033.0 L1470.5 1017.5 L1467.2 1005.3 L1463.9 994.2 L1459.4 980.1 L1456.2 970.9 L1451.6 958.5 L1447.2 947.7 L1443.9 939.6 L1436.8 924.4 L1432.8 916.6 L1428.3 908.2 L1420.6 895.0 L1414.3 885.6 L1408.6 877.8 L1402.5 870.1 L1395.6 862.3 L1387.5 854.6 L1377.7 846.8 L1377.7 846.8" fill="none" stroke="#1c1c1c" stroke-width="1.5"/>
<path d="M1254.2 1467.5 L1249.6 1458.3 L1243.0 1444.2 L1239.4 1436.5 L1234.1 1424.4 L1229.3 1413.2 L1226.1 1405.4 L1220.0 1389.9 L1217.0 1382.2 L1211.3 1366.6 L1208.5 1358.9 L1203.2 1343.4 L1200.7 1335.6 L1195.7 1320.1 L1193.3 1312.3 L1188.8 1296.8 L1186.5 1289.0 L1182.3 1273.5 L1179.7 1263.7 L1176.3 1250.3 L1172.6 1234.7 L1170.8 1227.0 L1167.4 1211.5 L1164.1 1196.2 L1162.6 1188.2 L1159.6 1172.7 L1156.8 1157.2 L1155.5 1149.4 L1153.0 1133.9 L1150.7 1118.4 L1148.6 1103.2 L1147.6 1095.1 L1145.7 1079.6 L1144.1 1064.0 L1142.6 1048.5 L1141.2 1033.0 L1140.7 1025.3 L1139.6 1009.7 L1138.8 994.2 L1138.2 978.7 L1137.7 963.2 L1137.5 947.7 L1137.4 932.1 L1137.6 916.6 L1137.9 901.1 L1138.5 885.6 L1139.4 870.1 L1140.4 854.6 L1141.0 846.8 L1141.0 846.8" fill="none" stroke="#1c1c1c" stroke-width="1.5"/>
<path d="M1593.2 1467.5 L1596.8 1452.0 L1599.3 1440.3 L1601.5 1428.7 L1604.2 1413.2 L1606.5 1397.7 L1607.6 1389.9 L1609.5 1374.4 L1611.1 1358.9 L1612.4 1343.4 L1613.5 1327.8 L1614.4 1312.3 L1614.8 1303.3 L1615.3 1289.0 L1615.6 1273.5 L1615.6 1258.0 L1615.5 1242.5 L1615.2 1227.0 L1614.8 1215.8 L1614.3 1203.7 L1613.5 1188.2 L1612.5 1172.7 L1611.3 1157.2 L1609.9 1141.6 L1608.3 1126.1 L1607.0 1114.4 L1605.6 1102.8 L1603.6 1087.3 L1601.4 1071.8 L1599.3 1057.6 L1597.8 1048.5 L1595.1 1033.0 L1592.3 1017.5 L1590.8 1009.7 L1587.7 994.2 L1584.4 978.7 L1582.6 970.9 L1579.0 955.4 L1576.0 942.8 L1573.2 932.1 L1569.1 916.6 L1567.0 908.9 L1562.5 893.4 L1560.2 885.6 L1555.4 870.1 L1552.7 861.4 L1547.8 846.8 L1547.8 846.8" fill="none" stroke="#1c1c1c" stroke-width="1.5"/>
<path d="M1161.1 1467.5 L1156.4 1454.6 L1152.7 1444.2 L1148.6 1432.4 L1144.8 1420.9 L1140.8 1409.0 L1137.3 1397.7 L1133.1 1384.1 L1130.2 1374.4 L1125.6 1358.9 L1123.4 1351.1 L1119.2 1335.6 L1117.1 1327.8 L1113.1 1312.3 L1109.8 1299.1 L1107.3 1289.0 L1103.7 1273.5 L1101.9 1265.8 L1098.5 1250.3 L1095.2 1234.7 L1093.6 1227.0 L1090.6 1211.5 L1087.6 1195.9 L1086.2 1188.2 L1083.5 1172.7 L1081.0 1157.2 L1078.7 1142.8 L1077.4 1133.9 L1075.1 1118.4 L1073.0 1102.8 L1071.1 1087.3 L1070.1 1079.6 L1068.4 1064.0 L1066.8 1048.5 L1065.3 1033.0 L1064.0 1017.5 L1063.1 1007.1 L1062.2 994.2 L1061.2 978.7 L1060.4 963.2 L1059.7 947.7 L1059.1 932.1 L1058.7 916.6 L1058.5 901.1 L1058.4 885.6 L1058.4 870.1 L1058.6 854.6 L1058.8 846.8" fill="none" stroke="#1c1c1c" stroke-width="1.5"/>
<path d="M1669.2 1021.7 L1667.1 1009.7 L1664.3 994.2 L1661.4 979.3 L1659.7 970.9 L1656.6 955.4 L1653.7 941.8 L1651.5 932.1 L1648.0 916.6 L1645.9 907.8 L1642.3 893.4 L1638.4 877.8 L1636.4 870.1 L1632.2 854.6 L1630.1 846.8 L1630.1 846.8" fill="none" stroke="#1c1c1c" stroke-width="1.5"/>
<path d="M1093.2 1467.5 L1088.3 1452.0 L1085.9 1444.2 L1081.3 1428.7 L1078.7 1419.9 L1074.5 1405.4 L1070.9 1392.5 L1068.1 1382.2 L1064.0 1366.6 L1062.0 1358.9 L1058.1 1343.4 L1055.4 1332.5 L1052.4 1320.1 L1048.8 1304.6 L1047.6 1299.3" fill="none" stroke="#1c1c1c" stroke-width="1.5"/>
</g>
<rect x="1047.6" y="846.8" width="621.6" height="620.7" fill="none" stroke="#3a3a3a" stroke-width="1.8"/>
<line x1="1047.6" y1="1467.5" x2="1047.6" y2="1482.3" stroke="#2a2a2a" stroke-width="1.6"/>
<text transform="translate(1047.6 1507.7)" font-family='"DejaVu Sans Condensed","DejaVu Sans","Liberation Sans",sans-serif' font-size="19.5" text-anchor="middle" fill="#1a1a1a" stroke="#1a1a1a" stroke-width="0.35">1</text>
<line x1="1171.9" y1="1467.5" x2="1171.9" y2="1482.3" stroke="#2a2a2a" stroke-width="1.6"/>
<text transform="translate(1171.9 1507.7) scale(0.9 1)" font-family='"DejaVu Sans Condensed","DejaVu Sans","Liberation Sans",sans-serif' font-size="19.5" text-anchor="middle" fill="#1a1a1a" stroke="#1a1a1a" stroke-width="0.35">1.2</text>
<line x1="1296.2" y1="1467.5" x2="1296.2" y2="1482.3" stroke="#2a2a2a" stroke-width="1.6"/>
<text transform="translate(1296.2 1507.7) scale(0.9 1)" font-family='"DejaVu Sans Condensed","DejaVu Sans","Liberation Sans",sans-serif' font-size="19.5" text-anchor="middle" fill="#1a1a1a" stroke="#1a1a1a" stroke-width="0.35">1.4</text>
<line x1="1420.6" y1="1467.5" x2="1420.6" y2="1482.3" stroke="#2a2a2a" stroke-width="1.6"/>
<text transform="translate(1420.6 1507.7) scale(0.9 1)" font-family='"DejaVu Sans Condensed","DejaVu Sans","Liberation Sans",sans-serif' font-size="19.5" text-anchor="middle" fill="#1a1a1a" stroke="#1a1a1a" stroke-width="0.35">1.6</text>
<line x1="1544.9" y1="1467.5" x2="1544.9" y2="1482.3" stroke="#2a2a2a" stroke-width="1.6"/>
<text transform="translate(1544.9 1507.7) scale(0.9 1)" font-family='"DejaVu Sans Condensed","DejaVu Sans","Liberation Sans",sans-serif' font-size="19.5" text-anchor="middle" fill="#1a1a1a" stroke="#1a1a1a" stroke-width="0.35">1.8</text>
<line x1="1669.2" y1="1467.5" x2="1669.2" y2="1482.3" stroke="#2a2a2a" stroke-width="1.6"/>
<text transform="translate(1669.2 1507.7)" font-family='"DejaVu Sans Condensed","DejaVu Sans","Liberation Sans",sans-serif' font-size="19.5" text-anchor="middle" fill="#1a1a1a" stroke="#1a1a1a" stroke-width="0.35">2</text>
<line x1="1032.8" y1="1467.5" x2="1047.6" y2="1467.5" stroke="#2a2a2a" stroke-width="1.6"/>
<text transform="translate(1027.6 1469.2)" font-family='"DejaVu Sans Condensed","DejaVu Sans","Liberation Sans",sans-serif' font-size="19.5" text-anchor="end" fill="#1a1a1a" stroke="#1a1a1a" stroke-width="0.35">20</text>
<line x1="1032.8" y1="1312.3" x2="1047.6" y2="1312.3" stroke="#2a2a2a" stroke-width="1.6"/>
<text transform="translate(1027.6 1314.0)" font-family='"DejaVu Sans Condensed","DejaVu Sans","Liberation Sans",sans-serif' font-size="19.5" text-anchor="end" fill="#1a1a1a" stroke="#1a1a1a" stroke-width="0.35">25</text>
<line x1="1032.8" y1="1157.2" x2="1047.6" y2="1157.2" stroke="#2a2a2a" stroke-width="1.6"/>
<text transform="translate(1027.6 1158.9)" font-family='"DejaVu Sans Condensed","DejaVu Sans","Liberation Sans",sans-serif' font-size="19.5" text-anchor="end" fill="#1a1a1a" stroke="#1a1a1a" stroke-width="0.35">30</text>
<line x1="1032.8" y1="1002.0" x2="1047.6" y2="1002.0" stroke="#2a2a2a" stroke-width="1.6"/>
<text transform="translate(1027.6 1003.7)" font-family='"DejaVu Sans Condensed","DejaVu Sans","Liberation Sans",sans-serif' font-size="19.5" text-anchor="end" fill="#1a1a1a" stroke="#1a1a1a" stroke-width="0.35">35</text>
<line x1="1032.8" y1="846.8" x2="1047.6" y2="846.8" stroke="#2a2a2a" stroke-width="1.6"/>
<text transform="translate(1027.6 848.5)" font-family='"DejaVu Sans Condensed","DejaVu Sans","Liberation Sans",sans-serif' font-size="19.5" text-anchor="end" fill="#1a1a1a" stroke="#1a1a1a" stroke-width="0.35">40</text>
<rect x="1075.8" y="1171.6" width="21" height="17" fill="#fff" stroke="#333" stroke-width="1.3"/>
<text transform="translate(1086.3 1184.7) scale(0.95 1)" font-family='"DejaVu Sans Condensed","DejaVu Sans","Liberation Sans",sans-serif' font-size="12.5" text-anchor="middle" fill="#222" stroke="#222" stroke-width="0.35">38</text>
<rect x="1151.7" y="1171.6" width="21" height="17" fill="#fff" stroke="#333" stroke-width="1.3"/>
<text transform="translate(1162.2 1184.7) scale(0.95 1)" font-family='"DejaVu Sans Condensed","DejaVu Sans","Liberation Sans",sans-serif' font-size="12.5" text-anchor="middle" fill="#222" stroke="#222" stroke-width="0.35">36</text>
<rect x="1057.4" y="1365.6" width="21" height="17" fill="#fff" stroke="#333" stroke-width="1.3"/>
<text transform="translate(1067.9 1378.7) scale(0.95 1)" font-family='"DejaVu Sans Condensed","DejaVu Sans","Liberation Sans",sans-serif' font-size="12.5" text-anchor="middle" fill="#222" stroke="#222" stroke-width="0.35">40</text>
<rect x="1402.3" y="1345.8" width="21" height="17" fill="#fff" stroke="#333" stroke-width="1.3"/>
<text transform="translate(1412.8 1358.9) scale(0.95 1)" font-family='"DejaVu Sans Condensed","DejaVu Sans","Liberation Sans",sans-serif' font-size="12.5" text-anchor="middle" fill="#222" stroke="#222" stroke-width="0.35">34</text>
<rect x="1599.2" y="1125.2" width="21" height="17" fill="#fff" stroke="#333" stroke-width="1.3"/>
<text transform="translate(1609.7 1138.3) scale(0.95 1)" font-family='"DejaVu Sans Condensed","DejaVu Sans","Liberation Sans",sans-serif' font-size="12.5" text-anchor="middle" fill="#222" stroke="#222" stroke-width="0.35">36</text>
<rect x="1640.8" y="915.2" width="21" height="17" fill="#fff" stroke="#333" stroke-width="1.3"/>
<text transform="translate(1651.3 928.3) scale(0.95 1)" font-family='"DejaVu Sans Condensed","DejaVu Sans","Liberation Sans",sans-serif' font-size="12.5" text-anchor="middle" fill="#222" stroke="#222" stroke-width="0.35">38</text>
<circle cx="1047.6" cy="846.8" r="5.4" fill="#c41212" stroke="#3a0a0a" stroke-width="1.7"/>
<circle cx="1669.2" cy="846.8" r="5.4" fill="#c41212" stroke="#3a0a0a" stroke-width="1.7"/>
<circle cx="1047.6" cy="1467.5" r="5.4" fill="#c41212" stroke="#3a0a0a" stroke-width="1.7"/>
<circle cx="1669.2" cy="1467.5" r="5.4" fill="#c41212" stroke="#3a0a0a" stroke-width="1.7"/>
<circle cx="1358.4" cy="1157.2" r="5.5" fill="#e01030" stroke="#150808" stroke-width="2.4"/>
<text transform="translate(1343.4 1161.0)" font-family='"DejaVu Sans Condensed","DejaVu Sans","Liberation Sans",sans-serif' font-size="12" text-anchor="middle" fill="#3a1a10" stroke="#3a1a10" stroke-width="0.4">5</text>
<text transform="translate(1374.0 827.0)" font-family='"Liberation Serif","Noto Serif CJK SC",serif' font-size="33.2" text-anchor="middle" fill="#1a1a1a">Contact angle (°)</text>
<text transform="translate(1385.7 1541.3)" font-family='"Liberation Serif","Noto Serif CJK SC",serif' font-size="31.7" text-anchor="middle" fill="#1a1a1a">DA concentration (g/L)</text>
<text transform="translate(992.9 1154.1) rotate(-90)" font-family='"Liberation Serif","Noto Serif CJK SC",serif' font-size="34.2" text-anchor="middle" fill="#1a1a1a">Temperature (℃)</text>
<g clip-path="url(#clipF)">
<g filter="url(#blF)">
<rect x="1047.6" y="1625.27" width="615.8" height="11.61" fill="url(#gF0)"/>
<rect x="1047.6" y="1636.29" width="615.8" height="11.61" fill="url(#gF0)"/>
<rect x="1047.6" y="1647.30" width="615.8" height="11.61" fill="url(#gF0)"/>
<rect x="1047.6" y="1658.31" width="615.8" height="11.61" fill="url(#gF1)"/>
<rect x="1047.6" y="1669.33" width="615.8" height="11.61" fill="url(#gF2)"/>
<rect x="1047.6" y="1680.34" width="615.8" height="11.61" fill="url(#gF3)"/>
<rect x="1047.6" y="1691.36" width="615.8" height="11.61" fill="url(#gF4)"/>
<rect x="1047.6" y="1702.37" width="615.8" height="11.61" fill="url(#gF5)"/>
<rect x="1047.6" y="1713.39" width="615.8" height="11.61" fill="url(#gF6)"/>
<rect x="1047.6" y="1724.40" width="615.8" height="11.61" fill="url(#gF7)"/>
<rect x="1047.6" y="1735.41" width="615.8" height="11.61" fill="url(#gF8)"/>
<rect x="1047.6" y="1746.43" width="615.8" height="11.61" fill="url(#gF9)"/>
<rect x="1047.6" y="1757.44" width="615.8" height="11.61" fill="url(#gF10)"/>
<rect x="1047.6" y="1768.46" width="615.8" height="11.61" fill="url(#gF11)"/>
<rect x="1047.6" y="1779.47" width="615.8" height="11.61" fill="url(#gF12)"/>
<rect x="1047.6" y="1790.49" width="615.8" height="11.61" fill="url(#gF13)"/>
<rect x="1047.6" y="1801.50" width="615.8" height="11.61" fill="url(#gF14)"/>
<rect x="1047.6" y="1812.51" width="615.8" height="11.61" fill="url(#gF15)"/>
<rect x="1047.6" y="1823.53" width="615.8" height="11.61" fill="url(#gF16)"/>
<rect x="1047.6" y="1834.54" width="615.8" height="11.61" fill="url(#gF17)"/>
<rect x="1047.6" y="1845.56" width="615.8" height="11.61" fill="url(#gF18)"/>
<rect x="1047.6" y="1856.57" width="615.8" height="11.61" fill="url(#gF19)"/>
<rect x="1047.6" y="1867.59" width="615.8" height="11.61" fill="url(#gF20)"/>
<rect x="1047.6" y="1878.60" width="615.8" height="11.61" fill="url(#gF21)"/>
<rect x="1047.6" y="1889.61" width="615.8" height="11.61" fill="url(#gF22)"/>
<rect x="1047.6" y="1900.63" width="615.8" height="11.61" fill="url(#gF23)"/>
<rect x="1047.6" y="1911.64" width="615.8" height="11.61" fill="url(#gF24)"/>
<rect x="1047.6" y="1922.66" width="615.8" height="11.61" fill="url(#gF25)"/>
<rect x="1047.6" y="1933.67" width="615.8" height="11.61" fill="url(#gF26)"/>
<rect x="1047.6" y="1944.69" width="615.8" height="11.61" fill="url(#gF27)"/>
<rect x="1047.6" y="1955.70" width="615.8" height="11.61" fill="url(#gF28)"/>
<rect x="1047.6" y="1966.71" width="615.8" height="11.61" fill="url(#gF29)"/>
<rect x="1047.6" y="1977.73" width="615.8" height="11.61" fill="url(#gF30)"/>
<rect x="1047.6" y="1988.74" width="615.8" height="11.61" fill="url(#gF31)"/>
<rect x="1047.6" y="1999.76" width="615.8" height="11.61" fill="url(#gF32)"/>
<rect x="1047.6" y="2010.77" width="615.8" height="11.61" fill="url(#gF33)"/>
<rect x="1047.6" y="2021.79" width="615.8" height="11.61" fill="url(#gF34)"/>
<rect x="1047.6" y="2032.80" width="615.8" height="11.61" fill="url(#gF35)"/>
<rect x="1047.6" y="2043.81" width="615.8" height="11.61" fill="url(#gF36)"/>
<rect x="1047.6" y="2054.83" width="615.8" height="11.61" fill="url(#gF37)"/>
<rect x="1047.6" y="2065.84" width="615.8" height="11.61" fill="url(#gF38)"/>
<rect x="1047.6" y="2076.86" width="615.8" height="11.61" fill="url(#gF39)"/>
<rect x="1047.6" y="2087.87" width="615.8" height="11.61" fill="url(#gF40)"/>
<rect x="1047.6" y="2098.89" width="615.8" height="11.61" fill="url(#gF41)"/>
<rect x="1047.6" y="2109.90" width="615.8" height="11.61" fill="url(#gF42)"/>
<rect x="1047.6" y="2120.91" width="615.8" height="11.61" fill="url(#gF43)"/>
<rect x="1047.6" y="2131.93" width="615.8" height="11.61" fill="url(#gF44)"/>
<rect x="1047.6" y="2142.94" width="615.8" height="11.61" fill="url(#gF45)"/>
<rect x="1047.6" y="2153.96" width="615.8" height="11.61" fill="url(#gF46)"/>
<rect x="1047.6" y="2164.97" width="615.8" height="11.61" fill="url(#gF47)"/>
<rect x="1047.6" y="2175.99" width="615.8" height="11.61" fill="url(#gF48)"/>
<rect x="1047.6" y="2187.00" width="615.8" height="11.61" fill="url(#gF49)"/>
<rect x="1047.6" y="2198.01" width="615.8" height="11.61" fill="url(#gF50)"/>
<rect x="1047.6" y="2209.03" width="615.8" height="11.61" fill="url(#gF51)"/>
<rect x="1047.6" y="2220.04" width="615.8" height="11.61" fill="url(#gF52)"/>
<rect x="1047.6" y="2231.06" width="615.8" height="11.61" fill="url(#gF53)"/>
<rect x="1047.6" y="2242.07" width="615.8" height="11.61" fill="url(#gF54)"/>
<rect x="1047.6" y="2253.09" width="615.8" height="11.61" fill="url(#gF55)"/>
<rect x="1047.6" y="2264.10" width="615.8" height="11.61" fill="url(#gF55)"/>
<rect x="1047.6" y="2275.11" width="615.8" height="11.61" fill="url(#gF55)"/>
</g>
<path d="M1114.6 2264.4 L1124.6 2258.5 L1132.3 2254.0 L1140.9 2249.0 L1154.1 2241.3 L1163.1 2236.1 L1170.8 2231.6 L1180.8 2225.8 L1193.9 2218.4 L1201.5 2213.9 L1209.2 2209.5 L1221.2 2202.7 L1232.3 2196.4 L1240.0 2192.1 L1248.5 2187.3 L1262.2 2179.6 L1270.8 2174.8 L1278.5 2170.5 L1289.9 2164.2 L1301.6 2157.6 L1309.3 2153.4 L1317.8 2148.8 L1331.8 2141.0 L1340.1 2136.5 L1347.8 2132.3 L1360.0 2125.6 L1370.9 2119.7 L1378.6 2115.6 L1388.5 2110.2 L1401.7 2103.1 L1409.4 2099.0 L1417.3 2094.8 L1431.8 2087.1 L1440.2 2082.6 L1447.9 2078.5 L1460.9 2071.7 L1471.0 2066.3 L1478.7 2062.3 L1490.2 2056.2 L1501.8 2050.2 L1509.5 2046.2 L1519.8 2040.8 L1532.5 2034.2 L1540.2 2030.2 L1549.6 2025.4 L1563.3 2018.3 L1571.0 2014.4 L1579.7 2010.0 L1594.1 2002.6 L1601.8 1998.6 L1609.9 1994.5 L1624.9 1987.0 L1632.6 1983.0 L1640.4 1979.1 L1655.7 1971.4 L1663.4 1967.6 L1663.4 1967.6" fill="none" stroke="#1c1c1c" stroke-width="1.5"/>
<path d="M1047.6 1846.9 L1057.5 1840.3 L1069.1 1832.6 L1078.4 1826.5 L1086.1 1821.4 L1093.8 1816.2 L1103.8 1809.5 L1115.2 1801.8 L1124.6 1795.5 L1132.3 1790.3 L1140.0 1785.1 L1149.4 1778.7 L1160.7 1771.0 L1170.8 1764.1 L1178.5 1758.8 L1186.2 1753.6 L1194.4 1747.8 L1205.6 1740.1 L1216.7 1732.4 L1224.6 1727.0 L1232.3 1721.6 L1240.0 1716.2 L1250.0 1709.3 L1261.0 1701.6 L1270.8 1694.7 L1278.5 1689.3 L1286.2 1683.8 L1293.9 1678.4 L1304.7 1670.7 L1315.5 1663.0 L1324.7 1656.5 L1332.4 1651.0 L1337.2 1647.6" fill="none" stroke="#1c1c1c" stroke-width="1.5"/>
<path d="M1403.4 2264.4 L1416.9 2256.7 L1424.8 2252.2 L1432.5 2247.8 L1443.9 2241.3 L1455.6 2234.6 L1463.3 2230.3 L1471.1 2225.8 L1484.7 2218.1 L1494.1 2212.9 L1501.8 2208.5 L1512.1 2202.7 L1524.8 2195.6 L1532.5 2191.2 L1540.2 2186.9 L1553.4 2179.6 L1563.3 2174.0 L1571.0 2169.8 L1581.1 2164.2 L1594.1 2157.0 L1601.8 2152.7 L1609.5 2148.5 L1623.0 2141.0 L1632.6 2135.7 L1640.3 2131.5 L1651.0 2125.6 L1663.4 2118.9 L1663.4 2118.9" fill="none" stroke="#1c1c1c" stroke-width="1.5"/>
<path d="M1047.6 1675.5 L1055.3 1670.5 L1066.8 1663.0 L1078.4 1655.5 L1086.1 1650.5 L1090.5 1647.6" fill="none" stroke="#1c1c1c" stroke-width="1.5"/>
<path d="M1601.7 2264.4 L1609.5 2260.0 L1617.2 2255.6 L1628.9 2249.0 L1640.3 2242.5 L1648.0 2238.2 L1656.2 2233.6 L1663.4 2229.5" fill="none" stroke="#1c1c1c" stroke-width="1.5"/>
</g>
<rect x="1047.6" y="1647.6" width="615.8" height="616.8" fill="none" stroke="#3a3a3a" stroke-width="1.8"/>
<line x1="1047.6" y1="2264.4" x2="1047.6" y2="2279.2" stroke="#2a2a2a" stroke-width="1.6"/>
<text transform="translate(1047.6 2304.6)" font-family='"DejaVu Sans Condensed","DejaVu Sans","Liberation Sans",sans-serif' font-size="19.5" text-anchor="middle" fill="#1a1a1a" stroke="#1a1a1a" stroke-width="0.35">4</text>
<line x1="1201.5" y1="2264.4" x2="1201.5" y2="2279.2" stroke="#2a2a2a" stroke-width="1.6"/>
<text transform="translate(1201.5 2304.6) scale(0.9 1)" font-family='"DejaVu Sans Condensed","DejaVu Sans","Liberation Sans",sans-serif' font-size="19.5" text-anchor="middle" fill="#1a1a1a" stroke="#1a1a1a" stroke-width="0.35">4.5</text>
<line x1="1355.5" y1="2264.4" x2="1355.5" y2="2279.2" stroke="#2a2a2a" stroke-width="1.6"/>
<text transform="translate(1355.5 2304.6)" font-family='"DejaVu Sans Condensed","DejaVu Sans","Liberation Sans",sans-serif' font-size="19.5" text-anchor="middle" fill="#1a1a1a" stroke="#1a1a1a" stroke-width="0.35">5</text>
<line x1="1509.5" y1="2264.4" x2="1509.5" y2="2279.2" stroke="#2a2a2a" stroke-width="1.6"/>
<text transform="translate(1509.5 2304.6) scale(0.9 1)" font-family='"DejaVu Sans Condensed","DejaVu Sans","Liberation Sans",sans-serif' font-size="19.5" text-anchor="middle" fill="#1a1a1a" stroke="#1a1a1a" stroke-width="0.35">5.5</text>
<line x1="1663.4" y1="2264.4" x2="1663.4" y2="2279.2" stroke="#2a2a2a" stroke-width="1.6"/>
<text transform="translate(1663.4 2304.6)" font-family='"DejaVu Sans Condensed","DejaVu Sans","Liberation Sans",sans-serif' font-size="19.5" text-anchor="middle" fill="#1a1a1a" stroke="#1a1a1a" stroke-width="0.35">6</text>
<line x1="1032.8" y1="2264.4" x2="1047.6" y2="2264.4" stroke="#2a2a2a" stroke-width="1.6"/>
<text transform="translate(1027.6 2266.1)" font-family='"DejaVu Sans Condensed","DejaVu Sans","Liberation Sans",sans-serif' font-size="19.5" text-anchor="end" fill="#1a1a1a" stroke="#1a1a1a" stroke-width="0.35">20</text>
<line x1="1032.8" y1="2110.2" x2="1047.6" y2="2110.2" stroke="#2a2a2a" stroke-width="1.6"/>
<text transform="translate(1027.6 2111.9)" font-family='"DejaVu Sans Condensed","DejaVu Sans","Liberation Sans",sans-serif' font-size="19.5" text-anchor="end" fill="#1a1a1a" stroke="#1a1a1a" stroke-width="0.35">25</text>
<line x1="1032.8" y1="1956.0" x2="1047.6" y2="1956.0" stroke="#2a2a2a" stroke-width="1.6"/>
<text transform="translate(1027.6 1957.7)" font-family='"DejaVu Sans Condensed","DejaVu Sans","Liberation Sans",sans-serif' font-size="19.5" text-anchor="end" fill="#1a1a1a" stroke="#1a1a1a" stroke-width="0.35">30</text>
<line x1="1032.8" y1="1801.8" x2="1047.6" y2="1801.8" stroke="#2a2a2a" stroke-width="1.6"/>
<text transform="translate(1027.6 1803.5)" font-family='"DejaVu Sans Condensed","DejaVu Sans","Liberation Sans",sans-serif' font-size="19.5" text-anchor="end" fill="#1a1a1a" stroke="#1a1a1a" stroke-width="0.35">35</text>
<line x1="1032.8" y1="1647.6" x2="1047.6" y2="1647.6" stroke="#2a2a2a" stroke-width="1.6"/>
<text transform="translate(1027.6 1649.3)" font-family='"DejaVu Sans Condensed","DejaVu Sans","Liberation Sans",sans-serif' font-size="19.5" text-anchor="end" fill="#1a1a1a" stroke="#1a1a1a" stroke-width="0.35">40</text>
<rect x="1052.5" y="1650.7" width="21" height="17" fill="#fff" stroke="#333" stroke-width="1.3"/>
<text transform="translate(1063.0 1663.8) scale(0.95 1)" font-family='"DejaVu Sans Condensed","DejaVu Sans","Liberation Sans",sans-serif' font-size="12.5" text-anchor="middle" fill="#222" stroke="#222" stroke-width="0.35">35</text>
<rect x="1183.2" y="1730.5" width="21" height="17" fill="#fff" stroke="#333" stroke-width="1.3"/>
<text transform="translate(1193.7 1743.6) scale(0.95 1)" font-family='"DejaVu Sans Condensed","DejaVu Sans","Liberation Sans",sans-serif' font-size="12.5" text-anchor="middle" fill="#222" stroke="#222" stroke-width="0.35">34</text>
<rect x="1374.8" y="2100.6" width="21" height="17" fill="#fff" stroke="#333" stroke-width="1.3"/>
<text transform="translate(1385.3 2113.7) scale(0.95 1)" font-family='"DejaVu Sans Condensed","DejaVu Sans","Liberation Sans",sans-serif' font-size="12.5" text-anchor="middle" fill="#222" stroke="#222" stroke-width="0.35">34</text>
<rect x="1521.8" y="2176.5" width="21" height="17" fill="#fff" stroke="#333" stroke-width="1.3"/>
<text transform="translate(1532.3 2189.6) scale(0.95 1)" font-family='"DejaVu Sans Condensed","DejaVu Sans","Liberation Sans",sans-serif' font-size="12.5" text-anchor="middle" fill="#222" stroke="#222" stroke-width="0.35">35</text>
<rect x="1621.5" y="2230.3" width="21" height="17" fill="#fff" stroke="#333" stroke-width="1.3"/>
<text transform="translate(1632.0 2243.4) scale(0.95 1)" font-family='"DejaVu Sans Condensed","DejaVu Sans","Liberation Sans",sans-serif' font-size="12.5" text-anchor="middle" fill="#222" stroke="#222" stroke-width="0.35">36</text>
<circle cx="1047.6" cy="1647.6" r="5.4" fill="#c41212" stroke="#3a0a0a" stroke-width="1.7"/>
<circle cx="1663.4" cy="1647.6" r="5.4" fill="#c41212" stroke="#3a0a0a" stroke-width="1.7"/>
<circle cx="1047.6" cy="2264.4" r="5.4" fill="#c41212" stroke="#3a0a0a" stroke-width="1.7"/>
<circle cx="1663.4" cy="2264.4" r="5.4" fill="#c41212" stroke="#3a0a0a" stroke-width="1.7"/>
<circle cx="1355.5" cy="1956.0" r="5.5" fill="#e01030" stroke="#150808" stroke-width="2.4"/>
<text transform="translate(1340.5 1959.8)" font-family='"DejaVu Sans Condensed","DejaVu Sans","Liberation Sans",sans-serif' font-size="12" text-anchor="middle" fill="#3a1a10" stroke="#3a1a10" stroke-width="0.4">5</text>
<text transform="translate(1348.9 1633.0)" font-family='"Liberation Serif","Noto Serif CJK SC",serif' font-size="31.7" text-anchor="middle" fill="#1a1a1a">Contact angle (°)</text>
<text transform="translate(1347.1 2336.0)" font-family='"Liberation Serif","Noto Serif CJK SC",serif' font-size="32.3" text-anchor="middle" fill="#1a1a1a">Coating time (h)</text>
<text transform="translate(990.3 1953.5) rotate(-90)" font-family='"Liberation Serif","Noto Serif CJK SC",serif' font-size="32.8" text-anchor="middle" fill="#1a1a1a">Temperature (℃)</text>
<path d="M124.9 559.9 L458.6 434.4 L458.5 21.2 L102.3 102.0 Z" fill="#fff" stroke="#111" stroke-width="1.9" stroke-linejoin="round"/>
<path d="M458.6 434.4 L793.3 559.9 L815.4 101.4 L458.5 21.2 Z" fill="#fff" stroke="#111" stroke-width="1.9" stroke-linejoin="round"/>
<path d="M119.6 451.5 L458.6 336.6 L798.5 451.4" fill="none" stroke="#111" stroke-width="1.9"/>
<path d="M116.1 381.6 L458.6 273.5 L801.9 381.4" fill="none" stroke="#111" stroke-width="1.9"/>
<path d="M112.7 311.7 L458.5 210.5 L805.3 311.4" fill="none" stroke="#111" stroke-width="1.9"/>
<path d="M109.2 241.8 L458.5 147.4 L808.7 241.4" fill="none" stroke="#111" stroke-width="1.9"/>
<path d="M105.8 171.9 L458.5 84.3 L812.0 171.4" fill="none" stroke="#111" stroke-width="1.9"/>
<line x1="187.4" y1="428.6" x2="173.5" y2="85.8" stroke="#111" stroke-width="1.9"/>
<line x1="255.2" y1="405.6" x2="244.8" y2="69.7" stroke="#111" stroke-width="1.9"/>
<line x1="323.0" y1="382.6" x2="316.0" y2="53.5" stroke="#111" stroke-width="1.9"/>
<line x1="390.8" y1="359.6" x2="387.3" y2="37.4" stroke="#111" stroke-width="1.9"/>
<line x1="713.5" y1="422.7" x2="726.2" y2="81.4" stroke="#111" stroke-width="1.9"/>
<line x1="628.6" y1="394.0" x2="637.0" y2="61.3" stroke="#111" stroke-width="1.9"/>
<line x1="543.6" y1="365.3" x2="547.7" y2="41.2" stroke="#111" stroke-width="1.9"/>
<clipPath id="fcA"><path d="M458.6 721.0 L793.3 559.9 L458.6 434.4 L124.9 559.9 Z"/></clipPath>
<path d="M458.6 721.0 L793.3 559.9 L458.6 434.4 L124.9 559.9 Z" fill="#696969" stroke="none"/>
<g clip-path="url(#fcA)">
<path d="M576.9 664.1 L568.7 661.5 L557.6 657.8 L544.9 653.6 L532.3 649.4 L522.8 646.1 L513.5 642.9 L501.1 638.5 L488.7 634.1 L476.4 629.6 L466.4 625.9 L458.1 622.8 L446.1 618.3 L434.1 613.6 L422.1 609.0 L410.3 604.3 L398.5 599.6 L386.8 594.8 L378.7 591.5 L369.4 587.6 L357.9 582.7 L346.6 577.8 L335.3 572.8 L324.1 567.8 L313.0 562.8 L302.0 557.7 L291.1 552.6 L280.3 547.5 L272.6 543.7 L264.4 539.6 L254.0 534.3 L243.8 529.0 L233.7 523.6 L228.7 520.9" fill="none" stroke="#e01818" stroke-width="3"/>
<path d="M734.5 588.2 L722.8 584.1 L711.0 580.0 L699.1 575.9 L689.3 572.6 L681.2 569.9 L669.1 565.9 L656.9 562.0 L644.7 558.1 L632.4 554.2 L624.0 551.5 L613.8 548.4 L601.3 544.6 L588.7 540.8 L576.1 537.0 L569.7 535.1 L556.9 531.4 L544.1 527.6 L531.8 524.1 L524.6 522.1 L511.5 518.5 L498.4 514.8 L491.8 513.0 L478.5 509.4 L465.1 505.8 L458.4 504.0 L444.8 500.5 L431.2 497.0 L424.3 495.2 L410.4 491.8 L401.4 489.5 L389.4 486.6 L375.3 483.2 L368.1 481.6 L353.7 478.3 L346.4 476.6 L346.4 476.6" fill="none" stroke="#e01818" stroke-width="3"/>
<path d="M542.7 680.5 L536.4 678.3 L523.8 674.0 L511.2 669.6 L498.7 665.1 L490.0 662.1 L480.0 658.4 L467.6 653.9 L455.3 649.3 L443.0 644.8 L432.6 640.8 L424.7 637.8 L412.6 633.1 L400.5 628.4 L388.5 623.7 L376.5 619.0 L364.6 614.2 L357.9 611.5 L346.8 606.9 L335.1 602.1 L323.3 597.2 L311.7 592.2 L300.1 587.3 L288.6 582.3 L277.1 577.3 L265.7 572.3 L254.3 567.2 L243.0 562.1 L231.8 557.0 L220.7 551.9 L209.6 546.7 L198.6 541.5 L187.7 536.3 L187.7 536.3" fill="none" stroke="#e01818" stroke-width="3"/>
<path d="M768.6 571.8 L756.7 567.9 L744.8 564.0 L732.8 560.1 L721.3 556.4 L714.7 554.3 L702.5 550.5 L690.3 546.7 L678.1 542.9 L665.8 539.1 L657.7 536.6 L647.2 533.5 L634.8 529.7 L622.3 526.0 L609.8 522.3 L603.5 520.4 L590.8 516.8 L578.1 513.1 L565.4 509.4 L559.0 507.6 L546.2 504.0 L533.3 500.3 L520.4 496.7 L513.9 494.9 L500.8 491.3 L487.7 487.7 L480.3 485.7 L467.9 482.4 L454.7 478.8 L445.2 476.3 L434.7 473.5 L421.2 470.0 L412.5 467.7 L400.9 464.7 L387.3 461.2 L387.3 461.2" fill="none" stroke="#e01818" stroke-width="3"/>
<path d="M516.8 693.0 L504.2 688.5 L496.0 685.6 L485.4 681.8 L472.9 677.2 L460.5 672.6 L448.1 668.0 L441.9 665.7 L429.6 661.1 L417.4 656.4 L405.2 651.7 L393.0 646.9 L380.8 642.2 L374.8 639.8 L362.7 635.0 L350.7 630.2 L338.7 625.3 L326.8 620.4 L314.9 615.5 L303.0 610.6 L297.1 608.1 L285.4 603.2 L273.7 598.2 L262.0 593.1 L250.4 588.1 L238.8 583.0 L227.3 578.0 L215.8 572.9 L204.4 567.7 L193.0 562.6 L181.7 557.4 L170.4 552.2 L159.2 547.0 L159.2 547.0" fill="none" stroke="#e01818" stroke-width="3"/>
<path d="M775.5 553.2 L764.6 549.8 L752.5 546.1 L740.4 542.3 L728.2 538.6 L716.0 534.9 L706.9 532.1 L697.6 529.4 L685.3 525.7 L672.9 522.0 L660.5 518.3 L650.1 515.3 L641.8 512.9 L629.3 509.3 L616.7 505.6 L604.1 502.0 L597.8 500.2 L585.1 496.6 L572.3 493.0 L559.6 489.4 L553.2 487.6 L540.3 484.1 L527.4 480.5 L514.5 476.9 L508.0 475.2 L495.0 471.6 L481.9 468.1 L475.4 466.3 L462.2 462.8 L449.0 459.3 L439.4 456.7 L429.2 454.0 L415.8 450.5 L415.8 450.5" fill="none" stroke="#e01818" stroke-width="3"/>
<path d="M495.0 703.5 L482.4 698.9 L469.9 694.3 L463.7 692.0 L451.2 687.4 L438.8 682.7 L426.5 678.0 L414.5 673.5 L408.0 671.0 L395.7 666.2 L383.5 661.4 L371.3 656.6 L359.2 651.8 L351.4 648.7 L341.0 644.5 L329.0 639.6 L317.0 634.7 L305.0 629.7 L293.1 624.8 L281.2 619.8 L273.1 616.4 L263.4 612.3 L251.6 607.2 L239.9 602.2 L228.1 597.1 L216.5 592.0 L204.8 586.9 L193.2 581.7 L181.7 576.6 L170.2 571.4 L158.7 566.2 L147.3 561.0 L139.6 557.4 L136.0 555.7" fill="none" stroke="#e01818" stroke-width="3"/>
<path d="M579.4 479.7 L568.8 476.8 L556.0 473.3 L543.2 469.7 L536.1 467.8 L523.9 464.5 L511.0 461.0 L498.0 457.5 L491.5 455.7 L478.4 452.2 L465.4 448.7 L457.7 446.7 L445.6 443.5 L439.1 441.8" fill="none" stroke="#e01818" stroke-width="3"/>
<path d="M475.7 712.7 L469.5 710.4 L457.0 705.8 L444.6 701.1 L432.1 696.4 L419.7 691.6 L413.6 689.2 L401.2 684.5 L388.9 679.7 L376.7 674.8 L364.4 670.0 L358.3 667.6 L346.2 662.7 L334.0 657.8 L321.9 652.8 L309.9 647.9 L297.8 642.9 L291.1 640.2 L291.1 640.2" fill="none" stroke="#e01818" stroke-width="3"/>
</g>
<path d="M458.6 721.0 L793.3 559.9 L458.6 434.4 L124.9 559.9 Z" fill="none" stroke="#111" stroke-width="2.2" stroke-linejoin="round"/>
<circle cx="455.3" cy="126.6" r="7.2" fill="#fbe4e4" stroke="#3a1410" stroke-width="1.7"/>
<circle cx="808.0" cy="297.5" r="7.2" fill="#fbe4e4" stroke="#3a1410" stroke-width="1.7"/>
<circle cx="458.6" cy="418.2" r="7.2" fill="#fbe4e4" stroke="#3a1410" stroke-width="1.7"/>
<defs><linearGradient id="qA0" gradientUnits="userSpaceOnUse" x1="459" y1="281" x2="458" y2="311"><stop stop-color="#2a56fd"/><stop offset="1" stop-color="#65c4ff"/></linearGradient><linearGradient id="qA1" gradientUnits="userSpaceOnUse" x1="440" y1="280" x2="439" y2="310"><stop stop-color="#3367fd"/><stop offset="1" stop-color="#6ed4ff"/></linearGradient><linearGradient id="qA2" gradientUnits="userSpaceOnUse" x1="421" y1="280" x2="420" y2="309"><stop stop-color="#3b76fd"/><stop offset="1" stop-color="#76e3ff"/></linearGradient><linearGradient id="qA3" gradientUnits="userSpaceOnUse" x1="403" y1="279" x2="401" y2="308"><stop stop-color="#4385fe"/><stop offset="1" stop-color="#7ef1ff"/></linearGradient><linearGradient id="qA4" gradientUnits="userSpaceOnUse" x1="384" y1="278" x2="382" y2="306"><stop stop-color="#4b94fe"/><stop offset="1" stop-color="#85ffff"/></linearGradient><linearGradient id="qA5" gradientUnits="userSpaceOnUse" x1="366" y1="277" x2="364" y2="304"><stop stop-color="#52a1fe"/><stop offset="1" stop-color="#8cffff"/></linearGradient><linearGradient id="qA6" gradientUnits="userSpaceOnUse" x1="348" y1="275" x2="345" y2="301"><stop stop-color="#59adfe"/><stop offset="1" stop-color="#8efff8"/></linearGradient><linearGradient id="qA7" gradientUnits="userSpaceOnUse" x1="330" y1="273" x2="327" y2="299"><stop stop-color="#5fb9ff"/><stop offset="1" stop-color="#8effec"/></linearGradient><linearGradient id="qA8" gradientUnits="userSpaceOnUse" x1="312" y1="271" x2="309" y2="296"><stop stop-color="#65c4ff"/><stop offset="1" stop-color="#8fffe1"/></linearGradient><linearGradient id="qA9" gradientUnits="userSpaceOnUse" x1="295" y1="269" x2="291" y2="293"><stop stop-color="#6bceff"/><stop offset="1" stop-color="#8fffd7"/></linearGradient><linearGradient id="qA10" gradientUnits="userSpaceOnUse" x1="277" y1="266" x2="273" y2="289"><stop stop-color="#70d8ff"/><stop offset="1" stop-color="#8fffce"/></linearGradient><linearGradient id="qA11" gradientUnits="userSpaceOnUse" x1="260" y1="263" x2="256" y2="286"><stop stop-color="#75e0ff"/><stop offset="1" stop-color="#8fffc5"/></linearGradient><linearGradient id="qA12" gradientUnits="userSpaceOnUse" x1="243" y1="260" x2="238" y2="282"><stop stop-color="#79e8ff"/><stop offset="1" stop-color="#8fffbe"/></linearGradient><linearGradient id="qA13" gradientUnits="userSpaceOnUse" x1="225" y1="257" x2="221" y2="278"><stop stop-color="#7defff"/><stop offset="1" stop-color="#8fffb7"/></linearGradient><linearGradient id="qA14" gradientUnits="userSpaceOnUse" x1="208" y1="253" x2="204" y2="274"><stop stop-color="#80f6ff"/><stop offset="1" stop-color="#8fffb0"/></linearGradient><linearGradient id="qA15" gradientUnits="userSpaceOnUse" x1="191" y1="249" x2="187" y2="269"><stop stop-color="#83fcff"/><stop offset="1" stop-color="#90ffab"/></linearGradient><linearGradient id="qA16" gradientUnits="userSpaceOnUse" x1="175" y1="246" x2="170" y2="265"><stop stop-color="#86ffff"/><stop offset="1" stop-color="#90ffa6"/></linearGradient><linearGradient id="qA17" gradientUnits="userSpaceOnUse" x1="158" y1="242" x2="153" y2="260"><stop stop-color="#89ffff"/><stop offset="1" stop-color="#90ffa2"/></linearGradient><linearGradient id="qA18" gradientUnits="userSpaceOnUse" x1="141" y1="237" x2="137" y2="255"><stop stop-color="#8bffff"/><stop offset="1" stop-color="#90ff9f"/></linearGradient><linearGradient id="qA19" gradientUnits="userSpaceOnUse" x1="125" y1="233" x2="120" y2="250"><stop stop-color="#8cffff"/><stop offset="1" stop-color="#90ff9c"/></linearGradient><linearGradient id="qA20" gradientUnits="userSpaceOnUse" x1="474" y1="311" x2="473" y2="339"><stop stop-color="#65c4ff"/><stop offset="1" stop-color="#8fffe6"/></linearGradient><linearGradient id="qA21" gradientUnits="userSpaceOnUse" x1="455" y1="311" x2="454" y2="337"><stop stop-color="#6ed4ff"/><stop offset="1" stop-color="#8fffd5"/></linearGradient><linearGradient id="qA22" gradientUnits="userSpaceOnUse" x1="436" y1="310" x2="435" y2="336"><stop stop-color="#76e3ff"/><stop offset="1" stop-color="#8fffc6"/></linearGradient><linearGradient id="qA23" gradientUnits="userSpaceOnUse" x1="418" y1="309" x2="416" y2="334"><stop stop-color="#7ef1ff"/><stop offset="1" stop-color="#8fffb7"/></linearGradient><linearGradient id="qA24" gradientUnits="userSpaceOnUse" x1="400" y1="307" x2="397" y2="331"><stop stop-color="#85ffff"/><stop offset="1" stop-color="#90ffaa"/></linearGradient><linearGradient id="qA25" gradientUnits="userSpaceOnUse" x1="382" y1="305" x2="379" y2="329"><stop stop-color="#8cffff"/><stop offset="1" stop-color="#90ff9d"/></linearGradient><linearGradient id="qA26" gradientUnits="userSpaceOnUse" x1="364" y1="303" x2="361" y2="326"><stop stop-color="#8efff8"/><stop offset="1" stop-color="#90ff91"/></linearGradient><linearGradient id="qA27" gradientUnits="userSpaceOnUse" x1="346" y1="301" x2="343" y2="323"><stop stop-color="#8effec"/><stop offset="1" stop-color="#90ff86"/></linearGradient><linearGradient id="qA28" gradientUnits="userSpaceOnUse" x1="328" y1="298" x2="325" y2="320"><stop stop-color="#8fffe1"/><stop offset="1" stop-color="#90ff7c"/></linearGradient><linearGradient id="qA29" gradientUnits="userSpaceOnUse" x1="311" y1="296" x2="307" y2="316"><stop stop-color="#8fffd7"/><stop offset="1" stop-color="#91ff73"/></linearGradient><linearGradient id="qA30" gradientUnits="userSpaceOnUse" x1="293" y1="293" x2="289" y2="312"><stop stop-color="#8fffce"/><stop offset="1" stop-color="#91ff6a"/></linearGradient><linearGradient id="qA31" gradientUnits="userSpaceOnUse" x1="276" y1="289" x2="272" y2="308"><stop stop-color="#8fffc5"/><stop offset="1" stop-color="#91ff63"/></linearGradient><linearGradient id="qA32" gradientUnits="userSpaceOnUse" x1="259" y1="286" x2="255" y2="304"><stop stop-color="#8fffbe"/><stop offset="1" stop-color="#91ff5c"/></linearGradient><linearGradient id="qA33" gradientUnits="userSpaceOnUse" x1="242" y1="282" x2="238" y2="300"><stop stop-color="#8fffb7"/><stop offset="1" stop-color="#91ff56"/></linearGradient><linearGradient id="qA34" gradientUnits="userSpaceOnUse" x1="225" y1="278" x2="221" y2="295"><stop stop-color="#8fffb0"/><stop offset="1" stop-color="#91ff53"/></linearGradient><linearGradient id="qA35" gradientUnits="userSpaceOnUse" x1="208" y1="274" x2="204" y2="291"><stop stop-color="#90ffab"/><stop offset="1" stop-color="#92ff53"/></linearGradient><linearGradient id="qA36" gradientUnits="userSpaceOnUse" x1="191" y1="270" x2="187" y2="286"><stop stop-color="#90ffa6"/><stop offset="1" stop-color="#92ff52"/></linearGradient><linearGradient id="qA37" gradientUnits="userSpaceOnUse" x1="175" y1="266" x2="171" y2="281"><stop stop-color="#90ffa2"/><stop offset="1" stop-color="#92ff52"/></linearGradient><linearGradient id="qA38" gradientUnits="userSpaceOnUse" x1="158" y1="261" x2="154" y2="276"><stop stop-color="#90ff9f"/><stop offset="1" stop-color="#93ff51"/></linearGradient><linearGradient id="qA39" gradientUnits="userSpaceOnUse" x1="142" y1="256" x2="138" y2="270"><stop stop-color="#90ff9c"/><stop offset="1" stop-color="#93ff51"/></linearGradient><linearGradient id="qA40" gradientUnits="userSpaceOnUse" x1="488" y1="339" x2="487" y2="363"><stop stop-color="#8fffe6"/><stop offset="1" stop-color="#90ff83"/></linearGradient><linearGradient id="qA41" gradientUnits="userSpaceOnUse" x1="470" y1="338" x2="468" y2="361"><stop stop-color="#8fffd5"/><stop offset="1" stop-color="#91ff74"/></linearGradient><linearGradient id="qA42" gradientUnits="userSpaceOnUse" x1="451" y1="337" x2="449" y2="359"><stop stop-color="#8fffc6"/><stop offset="1" stop-color="#91ff65"/></linearGradient><linearGradient id="qA43" gradientUnits="userSpaceOnUse" x1="433" y1="335" x2="431" y2="357"><stop stop-color="#8fffb7"/><stop offset="1" stop-color="#91ff58"/></linearGradient><linearGradient id="qA44" gradientUnits="userSpaceOnUse" x1="415" y1="333" x2="412" y2="354"><stop stop-color="#90ffaa"/><stop offset="1" stop-color="#92ff53"/></linearGradient><linearGradient id="qA45" gradientUnits="userSpaceOnUse" x1="397" y1="331" x2="394" y2="351"><stop stop-color="#90ff9d"/><stop offset="1" stop-color="#93ff51"/></linearGradient><linearGradient id="qA46" gradientUnits="userSpaceOnUse" x1="379" y1="328" x2="376" y2="348"><stop stop-color="#90ff91"/><stop offset="1" stop-color="#94ff4f"/></linearGradient><linearGradient id="qA47" gradientUnits="userSpaceOnUse" x1="361" y1="326" x2="358" y2="344"><stop stop-color="#90ff86"/><stop offset="1" stop-color="#95ff4d"/></linearGradient><linearGradient id="qA48" gradientUnits="userSpaceOnUse" x1="344" y1="323" x2="340" y2="340"><stop stop-color="#90ff7c"/><stop offset="1" stop-color="#95ff4c"/></linearGradient><linearGradient id="qA49" gradientUnits="userSpaceOnUse" x1="326" y1="319" x2="323" y2="337"><stop stop-color="#91ff73"/><stop offset="1" stop-color="#96ff4b"/></linearGradient><linearGradient id="qA50" gradientUnits="userSpaceOnUse" x1="503" y1="364" x2="501" y2="384"><stop stop-color="#90ff83"/><stop offset="1" stop-color="#95ff4e"/></linearGradient><linearGradient id="qA51" gradientUnits="userSpaceOnUse" x1="484" y1="362" x2="483" y2="382"><stop stop-color="#91ff74"/><stop offset="1" stop-color="#96ff4b"/></linearGradient><linearGradient id="qA52" gradientUnits="userSpaceOnUse" x1="356" y1="358" x2="354" y2="369"><stop stop-color="#9dff3e"/><stop offset="1" stop-color="#c3ff3b"/></linearGradient><linearGradient id="qA53" gradientUnits="userSpaceOnUse" x1="339" y1="354" x2="337" y2="364"><stop stop-color="#9dff3d"/><stop offset="1" stop-color="#c6ff3a"/></linearGradient><linearGradient id="qA54" gradientUnits="userSpaceOnUse" x1="322" y1="349" x2="320" y2="359"><stop stop-color="#a0ff3d"/><stop offset="1" stop-color="#c9ff3a"/></linearGradient><linearGradient id="qA55" gradientUnits="userSpaceOnUse" x1="305" y1="345" x2="303" y2="354"><stop stop-color="#a3ff3d"/><stop offset="1" stop-color="#ccff3a"/></linearGradient><linearGradient id="qA56" gradientUnits="userSpaceOnUse" x1="289" y1="340" x2="286" y2="348"><stop stop-color="#a6ff3c"/><stop offset="1" stop-color="#ceff3a"/></linearGradient><linearGradient id="qA57" gradientUnits="userSpaceOnUse" x1="272" y1="335" x2="270" y2="343"><stop stop-color="#a8ff3c"/><stop offset="1" stop-color="#cfff3a"/></linearGradient><linearGradient id="qA58" gradientUnits="userSpaceOnUse" x1="256" y1="330" x2="253" y2="337"><stop stop-color="#aaff3c"/><stop offset="1" stop-color="#d0ff3a"/></linearGradient><linearGradient id="qA59" gradientUnits="userSpaceOnUse" x1="239" y1="325" x2="237" y2="331"><stop stop-color="#abff3c"/><stop offset="1" stop-color="#d1ff3a"/></linearGradient><linearGradient id="qA60" gradientUnits="userSpaceOnUse" x1="495" y1="399" x2="493" y2="411"><stop stop-color="#9eff3d"/><stop offset="1" stop-color="#c7ff3a"/></linearGradient><linearGradient id="qA61" gradientUnits="userSpaceOnUse" x1="477" y1="396" x2="475" y2="408"><stop stop-color="#a5ff3d"/><stop offset="1" stop-color="#cdff3a"/></linearGradient><linearGradient id="qA62" gradientUnits="userSpaceOnUse" x1="459" y1="393" x2="457" y2="404"><stop stop-color="#abff3c"/><stop offset="1" stop-color="#d3ff3a"/></linearGradient><linearGradient id="qA63" gradientUnits="userSpaceOnUse" x1="441" y1="389" x2="439" y2="400"><stop stop-color="#b1ff3c"/><stop offset="1" stop-color="#d8ff39"/></linearGradient><linearGradient id="qA64" gradientUnits="userSpaceOnUse" x1="423" y1="386" x2="421" y2="395"><stop stop-color="#b6ff3b"/><stop offset="1" stop-color="#ddff39"/></linearGradient><linearGradient id="qA65" gradientUnits="userSpaceOnUse" x1="406" y1="382" x2="403" y2="391"><stop stop-color="#bbff3b"/><stop offset="1" stop-color="#e1ff39"/></linearGradient><linearGradient id="qA66" gradientUnits="userSpaceOnUse" x1="300" y1="361" x2="301" y2="360"><stop stop-color="#ffd92d"/><stop offset="1" stop-color="#f9b127"/></linearGradient><linearGradient id="qA67" gradientUnits="userSpaceOnUse" x1="284" y1="354" x2="285" y2="354"><stop stop-color="#ffda2d"/><stop offset="1" stop-color="#f9b327"/></linearGradient><linearGradient id="qA68" gradientUnits="userSpaceOnUse" x1="268" y1="348" x2="269" y2="347"><stop stop-color="#ffdc2e"/><stop offset="1" stop-color="#fab628"/></linearGradient><linearGradient id="qA69" gradientUnits="userSpaceOnUse" x1="253" y1="342" x2="253" y2="340"><stop stop-color="#ffde2e"/><stop offset="1" stop-color="#faba28"/></linearGradient><linearGradient id="qA70" gradientUnits="userSpaceOnUse" x1="237" y1="335" x2="238" y2="333"><stop stop-color="#ffe22e"/><stop offset="1" stop-color="#fbbe29"/></linearGradient><linearGradient id="qA71" gradientUnits="userSpaceOnUse" x1="519" y1="432" x2="518" y2="435"><stop stop-color="#ffff35"/><stop offset="1" stop-color="#ffdd2e"/></linearGradient><linearGradient id="qA72" gradientUnits="userSpaceOnUse" x1="501" y1="427" x2="500" y2="430"><stop stop-color="#ffff33"/><stop offset="1" stop-color="#ffd62d"/></linearGradient><linearGradient id="qA73" gradientUnits="userSpaceOnUse" x1="483" y1="423" x2="483" y2="425"><stop stop-color="#fffb32"/><stop offset="1" stop-color="#fed12c"/></linearGradient><linearGradient id="qA74" gradientUnits="userSpaceOnUse" x1="466" y1="418" x2="465" y2="419"><stop stop-color="#fff531"/><stop offset="1" stop-color="#fdcc2b"/></linearGradient><linearGradient id="qA75" gradientUnits="userSpaceOnUse" x1="448" y1="413" x2="448" y2="414"><stop stop-color="#fff031"/><stop offset="1" stop-color="#fdc82a"/></linearGradient><linearGradient id="qA76" gradientUnits="userSpaceOnUse" x1="431" y1="407" x2="431" y2="408"><stop stop-color="#ffec30"/><stop offset="1" stop-color="#fcc52a"/></linearGradient><linearGradient id="qA77" gradientUnits="userSpaceOnUse" x1="414" y1="402" x2="414" y2="402"><stop stop-color="#f9b427"/><stop offset="1" stop-color="#f28e22"/></linearGradient><linearGradient id="qA78" gradientUnits="userSpaceOnUse" x1="397" y1="396" x2="397" y2="396"><stop stop-color="#f9b127"/><stop offset="1" stop-color="#f28d21"/></linearGradient><linearGradient id="qA79" gradientUnits="userSpaceOnUse" x1="380" y1="391" x2="381" y2="390"><stop stop-color="#f8b027"/><stop offset="1" stop-color="#f28c21"/></linearGradient><linearGradient id="qA80" gradientUnits="userSpaceOnUse" x1="364" y1="385" x2="364" y2="383"><stop stop-color="#f8af27"/><stop offset="1" stop-color="#f28d21"/></linearGradient><linearGradient id="qA81" gradientUnits="userSpaceOnUse" x1="347" y1="378" x2="348" y2="377"><stop stop-color="#f8af27"/><stop offset="1" stop-color="#f38e22"/></linearGradient><linearGradient id="qA82" gradientUnits="userSpaceOnUse" x1="331" y1="372" x2="332" y2="370"><stop stop-color="#f8b027"/><stop offset="1" stop-color="#f39022"/></linearGradient><linearGradient id="qA83" gradientUnits="userSpaceOnUse" x1="315" y1="366" x2="316" y2="363"><stop stop-color="#f9b127"/><stop offset="1" stop-color="#f39322"/></linearGradient><linearGradient id="qA84" gradientUnits="userSpaceOnUse" x1="588" y1="452" x2="587" y2="454"><stop stop-color="#fff732"/><stop offset="1" stop-color="#fecf2c"/></linearGradient><linearGradient id="qA85" gradientUnits="userSpaceOnUse" x1="569" y1="448" x2="569" y2="449"><stop stop-color="#ffed30"/><stop offset="1" stop-color="#fcc62a"/></linearGradient><linearGradient id="qA86" gradientUnits="userSpaceOnUse" x1="551" y1="443" x2="551" y2="444"><stop stop-color="#ffe52f"/><stop offset="1" stop-color="#fbbf29"/></linearGradient><linearGradient id="qA87" gradientUnits="userSpaceOnUse" x1="533" y1="439" x2="533" y2="439"><stop stop-color="#ffdd2e"/><stop offset="1" stop-color="#fab928"/></linearGradient><linearGradient id="qA88" gradientUnits="userSpaceOnUse" x1="515" y1="434" x2="515" y2="434"><stop stop-color="#ffd62d"/><stop offset="1" stop-color="#f9b327"/></linearGradient><linearGradient id="qA89" gradientUnits="userSpaceOnUse" x1="497" y1="429" x2="497" y2="428"><stop stop-color="#f59c24"/><stop offset="1" stop-color="#ef7a1e"/></linearGradient><linearGradient id="qA90" gradientUnits="userSpaceOnUse" x1="480" y1="424" x2="480" y2="423"><stop stop-color="#f49723"/><stop offset="1" stop-color="#ee761e"/></linearGradient><linearGradient id="qA91" gradientUnits="userSpaceOnUse" x1="462" y1="418" x2="463" y2="417"><stop stop-color="#f39322"/><stop offset="1" stop-color="#ee741e"/></linearGradient><linearGradient id="qA92" gradientUnits="userSpaceOnUse" x1="602" y1="457" x2="602" y2="457"><stop stop-color="#f59a23"/><stop offset="1" stop-color="#ef7a1f"/></linearGradient><linearGradient id="qA93" gradientUnits="userSpaceOnUse" x1="379" y1="325" x2="386" y2="311"><stop stop-color="#f7aa26"/><stop offset="1" stop-color="#fdc82b"/></linearGradient><linearGradient id="qA94" gradientUnits="userSpaceOnUse" x1="363" y1="317" x2="371" y2="302"><stop stop-color="#f9b528"/><stop offset="1" stop-color="#ffd52c"/></linearGradient><linearGradient id="qA95" gradientUnits="userSpaceOnUse" x1="348" y1="309" x2="356" y2="294"><stop stop-color="#fbc229"/><stop offset="1" stop-color="#ffe22f"/></linearGradient><linearGradient id="qA96" gradientUnits="userSpaceOnUse" x1="505" y1="370" x2="512" y2="355"><stop stop-color="#f08120"/><stop offset="1" stop-color="#f59f24"/></linearGradient><linearGradient id="qA97" gradientUnits="userSpaceOnUse" x1="488" y1="362" x2="496" y2="347"><stop stop-color="#f28921"/><stop offset="1" stop-color="#f7a926"/></linearGradient><linearGradient id="qA98" gradientUnits="userSpaceOnUse" x1="472" y1="354" x2="479" y2="339"><stop stop-color="#f39222"/><stop offset="1" stop-color="#f9b327"/></linearGradient><linearGradient id="qA99" gradientUnits="userSpaceOnUse" x1="456" y1="346" x2="463" y2="331"><stop stop-color="#f59c24"/><stop offset="1" stop-color="#fbbd29"/></linearGradient><linearGradient id="qA100" gradientUnits="userSpaceOnUse" x1="439" y1="338" x2="447" y2="323"><stop stop-color="#f7a625"/><stop offset="1" stop-color="#fdc92b"/></linearGradient><linearGradient id="qA101" gradientUnits="userSpaceOnUse" x1="423" y1="330" x2="431" y2="315"><stop stop-color="#f9b127"/><stop offset="1" stop-color="#ffd52c"/></linearGradient><linearGradient id="qA102" gradientUnits="userSpaceOnUse" x1="407" y1="322" x2="416" y2="306"><stop stop-color="#fbbc29"/><stop offset="1" stop-color="#ffe12e"/></linearGradient><linearGradient id="qA103" gradientUnits="userSpaceOnUse" x1="392" y1="314" x2="400" y2="298"><stop stop-color="#fdc82b"/><stop offset="1" stop-color="#ffee30"/></linearGradient><linearGradient id="qA104" gradientUnits="userSpaceOnUse" x1="376" y1="305" x2="385" y2="290"><stop stop-color="#ffd52c"/><stop offset="1" stop-color="#fffc32"/></linearGradient><linearGradient id="qA105" gradientUnits="userSpaceOnUse" x1="623" y1="404" x2="629" y2="388"><stop stop-color="#ef771e"/><stop offset="1" stop-color="#f49623"/></linearGradient><linearGradient id="qA106" gradientUnits="userSpaceOnUse" x1="605" y1="397" x2="611" y2="381"><stop stop-color="#ef7c1f"/><stop offset="1" stop-color="#f59c24"/></linearGradient><linearGradient id="qA107" gradientUnits="userSpaceOnUse" x1="587" y1="389" x2="594" y2="373"><stop stop-color="#f08120"/><stop offset="1" stop-color="#f6a325"/></linearGradient><linearGradient id="qA108" gradientUnits="userSpaceOnUse" x1="569" y1="382" x2="577" y2="366"><stop stop-color="#f18821"/><stop offset="1" stop-color="#f7aa26"/></linearGradient><linearGradient id="qA109" gradientUnits="userSpaceOnUse" x1="552" y1="374" x2="560" y2="358"><stop stop-color="#f38f22"/><stop offset="1" stop-color="#f9b227"/></linearGradient><linearGradient id="qA110" gradientUnits="userSpaceOnUse" x1="535" y1="366" x2="543" y2="350"><stop stop-color="#f49723"/><stop offset="1" stop-color="#fabb29"/></linearGradient><linearGradient id="qA111" gradientUnits="userSpaceOnUse" x1="518" y1="358" x2="526" y2="342"><stop stop-color="#f69f24"/><stop offset="1" stop-color="#fcc52a"/></linearGradient><linearGradient id="qA112" gradientUnits="userSpaceOnUse" x1="501" y1="350" x2="509" y2="334"><stop stop-color="#f7a926"/><stop offset="1" stop-color="#fed02c"/></linearGradient><linearGradient id="qA113" gradientUnits="userSpaceOnUse" x1="485" y1="342" x2="493" y2="326"><stop stop-color="#f9b327"/><stop offset="1" stop-color="#ffdb2d"/></linearGradient><linearGradient id="qA114" gradientUnits="userSpaceOnUse" x1="468" y1="334" x2="477" y2="317"><stop stop-color="#fbbd29"/><stop offset="1" stop-color="#ffe62f"/></linearGradient><linearGradient id="qA115" gradientUnits="userSpaceOnUse" x1="452" y1="326" x2="461" y2="309"><stop stop-color="#fdc92b"/><stop offset="1" stop-color="#fff331"/></linearGradient><linearGradient id="qA116" gradientUnits="userSpaceOnUse" x1="436" y1="317" x2="445" y2="301"><stop stop-color="#ffd52c"/><stop offset="1" stop-color="#ffff33"/></linearGradient><linearGradient id="qA117" gradientUnits="userSpaceOnUse" x1="710" y1="420" x2="716" y2="404"><stop stop-color="#f18821"/><stop offset="1" stop-color="#f7aa26"/></linearGradient><linearGradient id="qA118" gradientUnits="userSpaceOnUse" x1="691" y1="413" x2="698" y2="397"><stop stop-color="#f28a21"/><stop offset="1" stop-color="#f8ad26"/></linearGradient><linearGradient id="qA119" gradientUnits="userSpaceOnUse" x1="673" y1="406" x2="679" y2="389"><stop stop-color="#f28d21"/><stop offset="1" stop-color="#f9b127"/></linearGradient><linearGradient id="qA120" gradientUnits="userSpaceOnUse" x1="654" y1="399" x2="661" y2="382"><stop stop-color="#f39122"/><stop offset="1" stop-color="#fab728"/></linearGradient><linearGradient id="qA121" gradientUnits="userSpaceOnUse" x1="636" y1="391" x2="643" y2="374"><stop stop-color="#f49623"/><stop offset="1" stop-color="#fbbd29"/></linearGradient><linearGradient id="qA122" gradientUnits="userSpaceOnUse" x1="618" y1="384" x2="625" y2="367"><stop stop-color="#f59c24"/><stop offset="1" stop-color="#fcc42a"/></linearGradient><linearGradient id="qA123" gradientUnits="userSpaceOnUse" x1="600" y1="376" x2="608" y2="359"><stop stop-color="#f6a325"/><stop offset="1" stop-color="#fdcb2b"/></linearGradient><linearGradient id="qA124" gradientUnits="userSpaceOnUse" x1="583" y1="368" x2="590" y2="351"><stop stop-color="#f7aa26"/><stop offset="1" stop-color="#ffd42c"/></linearGradient><linearGradient id="qA125" gradientUnits="userSpaceOnUse" x1="565" y1="360" x2="573" y2="343"><stop stop-color="#f9b227"/><stop offset="1" stop-color="#ffdd2e"/></linearGradient><linearGradient id="qA126" gradientUnits="userSpaceOnUse" x1="548" y1="352" x2="556" y2="335"><stop stop-color="#fabc29"/><stop offset="1" stop-color="#ffe72f"/></linearGradient><linearGradient id="qA127" gradientUnits="userSpaceOnUse" x1="531" y1="344" x2="540" y2="327"><stop stop-color="#fcc52a"/><stop offset="1" stop-color="#fff231"/></linearGradient><linearGradient id="qA128" gradientUnits="userSpaceOnUse" x1="514" y1="336" x2="523" y2="319"><stop stop-color="#fed02c"/><stop offset="1" stop-color="#fffe33"/></linearGradient><linearGradient id="qA129" gradientUnits="userSpaceOnUse" x1="498" y1="328" x2="507" y2="310"><stop stop-color="#ffdb2d"/><stop offset="1" stop-color="#ffff35"/></linearGradient><linearGradient id="qA130" gradientUnits="userSpaceOnUse" x1="724" y1="406" x2="731" y2="388"><stop stop-color="#f7aa26"/><stop offset="1" stop-color="#ffd32c"/></linearGradient><linearGradient id="qA131" gradientUnits="userSpaceOnUse" x1="705" y1="399" x2="712" y2="381"><stop stop-color="#f8ad26"/><stop offset="1" stop-color="#ffd82d"/></linearGradient><linearGradient id="qA132" gradientUnits="userSpaceOnUse" x1="686" y1="392" x2="693" y2="374"><stop stop-color="#f9b127"/><stop offset="1" stop-color="#ffdd2e"/></linearGradient><linearGradient id="qA133" gradientUnits="userSpaceOnUse" x1="668" y1="384" x2="675" y2="366"><stop stop-color="#fab728"/><stop offset="1" stop-color="#ffe32f"/></linearGradient><linearGradient id="qA134" gradientUnits="userSpaceOnUse" x1="649" y1="377" x2="657" y2="358"><stop stop-color="#fbbd29"/><stop offset="1" stop-color="#ffeb30"/></linearGradient><linearGradient id="qA135" gradientUnits="userSpaceOnUse" x1="631" y1="369" x2="639" y2="350"><stop stop-color="#fcc42a"/><stop offset="1" stop-color="#fff331"/></linearGradient><linearGradient id="qA136" gradientUnits="userSpaceOnUse" x1="613" y1="361" x2="622" y2="343"><stop stop-color="#fdcc2b"/><stop offset="1" stop-color="#fffc32"/></linearGradient><linearGradient id="qA137" gradientUnits="userSpaceOnUse" x1="596" y1="353" x2="604" y2="335"><stop stop-color="#ffd42c"/><stop offset="1" stop-color="#ffff34"/></linearGradient><linearGradient id="qA138" gradientUnits="userSpaceOnUse" x1="578" y1="345" x2="587" y2="326"><stop stop-color="#ffdd2e"/><stop offset="1" stop-color="#ffff36"/></linearGradient><linearGradient id="qA139" gradientUnits="userSpaceOnUse" x1="738" y1="391" x2="745" y2="371"><stop stop-color="#ffd32c"/><stop offset="1" stop-color="#ffff34"/></linearGradient><linearGradient id="qA140" gradientUnits="userSpaceOnUse" x1="718" y1="384" x2="726" y2="364"><stop stop-color="#ffd82d"/><stop offset="1" stop-color="#ffff35"/></linearGradient><linearGradient id="qA141" gradientUnits="userSpaceOnUse" x1="699" y1="376" x2="708" y2="356"><stop stop-color="#ffdd2e"/><stop offset="1" stop-color="#ffff36"/></linearGradient><linearGradient id="qA142" gradientUnits="userSpaceOnUse" x1="520" y1="268" x2="531" y2="247"><stop stop-color="#c7ff3a"/><stop offset="1" stop-color="#a1ff3d"/></linearGradient><linearGradient id="qA143" gradientUnits="userSpaceOnUse" x1="653" y1="307" x2="663" y2="285"><stop stop-color="#d6ff39"/><stop offset="1" stop-color="#b0ff3c"/></linearGradient><linearGradient id="qA144" gradientUnits="userSpaceOnUse" x1="635" y1="299" x2="645" y2="276"><stop stop-color="#cfff3a"/><stop offset="1" stop-color="#a9ff3c"/></linearGradient><linearGradient id="qA145" gradientUnits="userSpaceOnUse" x1="617" y1="290" x2="628" y2="268"><stop stop-color="#c8ff3a"/><stop offset="1" stop-color="#a1ff3d"/></linearGradient><linearGradient id="qA146" gradientUnits="userSpaceOnUse" x1="779" y1="334" x2="788" y2="310"><stop stop-color="#d0ff3a"/><stop offset="1" stop-color="#a9ff3c"/></linearGradient><linearGradient id="qA147" gradientUnits="userSpaceOnUse" x1="759" y1="326" x2="769" y2="302"><stop stop-color="#ccff3a"/><stop offset="1" stop-color="#a5ff3d"/></linearGradient><linearGradient id="qA148" gradientUnits="userSpaceOnUse" x1="740" y1="318" x2="750" y2="294"><stop stop-color="#c7ff3a"/><stop offset="1" stop-color="#9fff3d"/></linearGradient><linearGradient id="qA149" gradientUnits="userSpaceOnUse" x1="721" y1="310" x2="731" y2="287"><stop stop-color="#c2ff3b"/><stop offset="1" stop-color="#9dff3e"/></linearGradient><linearGradient id="qA150" gradientUnits="userSpaceOnUse" x1="496" y1="201" x2="509" y2="178"><stop stop-color="#94ff4e"/><stop offset="1" stop-color="#90ff7c"/></linearGradient><linearGradient id="qA151" gradientUnits="userSpaceOnUse" x1="480" y1="192" x2="493" y2="170"><stop stop-color="#93ff51"/><stop offset="1" stop-color="#90ff8d"/></linearGradient><linearGradient id="qA152" gradientUnits="userSpaceOnUse" x1="465" y1="184" x2="477" y2="161"><stop stop-color="#91ff54"/><stop offset="1" stop-color="#90ff9f"/></linearGradient><linearGradient id="qA153" gradientUnits="userSpaceOnUse" x1="449" y1="175" x2="462" y2="153"><stop stop-color="#91ff63"/><stop offset="1" stop-color="#8fffb1"/></linearGradient><linearGradient id="qA154" gradientUnits="userSpaceOnUse" x1="591" y1="221" x2="603" y2="197"><stop stop-color="#94ff4e"/><stop offset="1" stop-color="#90ff7b"/></linearGradient><linearGradient id="qA155" gradientUnits="userSpaceOnUse" x1="574" y1="213" x2="587" y2="188"><stop stop-color="#93ff50"/><stop offset="1" stop-color="#90ff8b"/></linearGradient><linearGradient id="qA156" gradientUnits="userSpaceOnUse" x1="558" y1="204" x2="570" y2="180"><stop stop-color="#92ff53"/><stop offset="1" stop-color="#90ff9b"/></linearGradient><linearGradient id="qA157" gradientUnits="userSpaceOnUse" x1="541" y1="195" x2="554" y2="172"><stop stop-color="#91ff5b"/><stop offset="1" stop-color="#90ffac"/></linearGradient><linearGradient id="qA158" gradientUnits="userSpaceOnUse" x1="525" y1="187" x2="537" y2="163"><stop stop-color="#91ff6b"/><stop offset="1" stop-color="#8fffbd"/></linearGradient><linearGradient id="qA159" gradientUnits="userSpaceOnUse" x1="509" y1="178" x2="521" y2="155"><stop stop-color="#90ff7c"/><stop offset="1" stop-color="#8fffce"/></linearGradient><linearGradient id="qA160" gradientUnits="userSpaceOnUse" x1="493" y1="170" x2="506" y2="146"><stop stop-color="#90ff8d"/><stop offset="1" stop-color="#8fffe0"/></linearGradient><linearGradient id="qA161" gradientUnits="userSpaceOnUse" x1="477" y1="161" x2="490" y2="138"><stop stop-color="#90ff9f"/><stop offset="1" stop-color="#8efff2"/></linearGradient><linearGradient id="qA162" gradientUnits="userSpaceOnUse" x1="462" y1="152" x2="475" y2="129"><stop stop-color="#8fffb1"/><stop offset="1" stop-color="#8cffff"/></linearGradient></defs>
<g stroke="#0d0d0d" stroke-width="1.6" stroke-linejoin="round">
<path d="M461.6 152.5L473.9 128.9L458.5 120.4L446.3 143.9Z" fill="url(#qA162)"/>
<path d="M449.3 174.9L461.6 152.5L446.3 143.9L434 166.3Z" fill="url(#qA153)"/>
<path d="M477.2 161L489.5 137.5L473.9 128.9L461.6 152.5Z" fill="url(#qA161)"/>
<path d="M437 196.2L449.3 174.9L434 166.3L421.7 187.6Z" fill="#93ff50"/>
<path d="M464.8 183.5L477.2 161L461.6 152.5L449.3 174.9Z" fill="url(#qA152)"/>
<path d="M492.8 169.6L505.2 146L489.5 137.5L477.2 161Z" fill="url(#qA160)"/>
<path d="M424.5 216.4L437 196.2L421.7 187.6L409.3 207.7Z" fill="#99ff45"/>
<path d="M452.4 204.9L464.8 183.5L449.3 174.9L437 196.2Z" fill="#94ff4e"/>
<path d="M480.5 192.1L492.8 169.6L477.2 161L464.8 183.5Z" fill="url(#qA151)"/>
<path d="M508.7 178.2L521.1 154.5L505.2 146L492.8 169.6Z" fill="url(#qA159)"/>
<path d="M412 235.2L424.5 216.4L409.3 207.7L396.8 226.6Z" fill="#a4ff3d"/>
<path d="M439.9 225L452.4 204.9L437 196.2L424.5 216.4Z" fill="#9aff43"/>
<path d="M468 213.5L480.5 192.1L464.8 183.5L452.4 204.9Z" fill="#96ff4b"/>
<path d="M496.3 200.8L508.7 178.2L492.8 169.6L480.5 192.1Z" fill="url(#qA150)"/>
<path d="M399.4 252.8L412 235.2L396.8 226.6L384.2 244.2Z" fill="#c7ff3a"/>
<path d="M524.8 186.8L537.3 163L521.1 154.5L508.7 178.2Z" fill="url(#qA158)"/>
<path d="M427.4 243.8L439.9 225L424.5 216.4L412 235.2Z" fill="#adff3c"/>
<path d="M455.5 233.6L468 213.5L452.4 204.9L439.9 225Z" fill="#9cff40"/>
<path d="M483.8 222.1L496.3 200.8L480.5 192.1L468 213.5Z" fill="#97ff49"/>
<path d="M512.3 209.4L524.8 186.8L508.7 178.2L496.3 200.8Z" fill="#92ff52"/>
<path d="M386.7 269L399.4 252.8L384.2 244.2L371.5 260.5Z" fill="#e6ff38"/>
<path d="M414.8 261.4L427.4 243.8L412 235.2L399.4 252.8Z" fill="#d0ff3a"/>
<path d="M541.1 195.4L553.6 171.6L537.3 163L524.8 186.8Z" fill="url(#qA157)"/>
<path d="M442.9 252.4L455.5 233.6L439.9 225L427.4 243.8Z" fill="#b6ff3b"/>
<path d="M471.3 242.2L483.8 222.1L468 213.5L455.5 233.6Z" fill="#9dff3e"/>
<path d="M499.8 230.7L512.3 209.4L496.3 200.8L483.8 222.1Z" fill="#99ff46"/>
<path d="M373.9 283.8L386.7 269L371.5 260.5L358.7 275.3Z" fill="#ffff36"/>
<path d="M402 277.5L414.8 261.4L399.4 252.8L386.7 269Z" fill="#efff38"/>
<path d="M528.5 218L541.1 195.4L524.8 186.8L512.3 209.4Z" fill="#94ff4f"/>
<path d="M430.3 269.9L442.9 252.4L427.4 243.8L414.8 261.4Z" fill="#d9ff39"/>
<path d="M557.6 203.9L570.1 180.1L553.6 171.6L541.1 195.4Z" fill="url(#qA156)"/>
<path d="M458.7 261L471.3 242.2L455.5 233.6L442.9 252.4Z" fill="#bfff3b"/>
<path d="M487.2 250.8L499.8 230.7L483.8 222.1L471.3 242.2Z" fill="#a3ff3d"/>
<path d="M360.9 297L373.9 283.8L358.7 275.3L345.7 288.7Z" fill="#fff531"/>
<path d="M516 239.3L528.5 218L512.3 209.4L499.8 230.7Z" fill="#9aff44"/>
<path d="M389.2 292.2L402 277.5L386.7 269L373.9 283.8Z" fill="#ffff36"/>
<path d="M417.6 286L430.3 269.9L414.8 261.4L402 277.5Z" fill="#f7ff37"/>
<path d="M544.9 226.6L557.6 203.9L541.1 195.4L528.5 218Z" fill="#95ff4d"/>
<path d="M446 278.5L458.7 261L442.9 252.4L430.3 269.9Z" fill="#e1ff39"/>
<path d="M574.2 212.5L586.9 188.7L570.1 180.1L557.6 203.9Z" fill="url(#qA155)"/>
<path d="M474.6 269.6L487.2 250.8L471.3 242.2L458.7 261Z" fill="#c8ff3a"/>
<path d="M347.9 308.7L360.9 297L345.7 288.7L332.6 300.4Z" fill="url(#qA95)"/>
<path d="M503.3 259.4L516 239.3L499.8 230.7L487.2 250.8Z" fill="#acff3c"/>
<path d="M376.3 305.3L389.2 292.2L373.9 283.8L360.9 297Z" fill="url(#qA104)"/>
<path d="M404.7 300.6L417.6 286L402 277.5L389.2 292.2Z" fill="#ffff34"/>
<path d="M532.3 247.9L544.9 226.6L528.5 218L516 239.3Z" fill="#9bff41"/>
<path d="M433.3 294.5L446 278.5L430.3 269.9L417.6 286Z" fill="#ffff37"/>
<path d="M561.6 235.1L574.2 212.5L557.6 203.9L544.9 226.6Z" fill="#96ff4a"/>
<path d="M461.9 287L474.6 269.6L458.7 261L446 278.5Z" fill="#e9ff38"/>
<path d="M334.7 318.7L347.9 308.7L332.6 300.4L319.4 310.6Z" fill="#f9b427"/>
<path d="M591.1 221L603.9 197.2L586.9 188.7L574.2 212.5Z" fill="url(#qA154)"/>
<path d="M490.7 278.1L503.3 259.4L487.2 250.8L474.6 269.6Z" fill="#d0ff3a"/>
<path d="M363.2 316.9L376.3 305.3L360.9 297L347.9 308.7Z" fill="url(#qA94)"/>
<path d="M519.7 268L532.3 247.9L516 239.3L503.3 259.4Z" fill="url(#qA142)"/>
<path d="M391.8 313.6L404.7 300.6L389.2 292.2L376.3 305.3Z" fill="url(#qA103)"/>
<path d="M420.4 309L433.3 294.5L417.6 286L404.7 300.6Z" fill="#fff632"/>
<path d="M548.9 256.5L561.6 235.1L544.9 226.6L532.3 247.9Z" fill="#9cff3f"/>
<path d="M449.1 302.9L461.9 287L446 278.5L433.3 294.5Z" fill="#ffff36"/>
<path d="M578.4 243.7L591.1 221L574.2 212.5L561.6 235.1Z" fill="#98ff48"/>
<path d="M321.3 326.9L334.7 318.7L319.4 310.6L306 319Z" fill="#f59f24"/>
<path d="M477.9 295.4L490.7 278.1L474.6 269.6L461.9 287Z" fill="#f1ff38"/>
<path d="M350 326.7L363.2 316.9L347.9 308.7L334.7 318.7Z" fill="#f7a826"/>
<path d="M608.2 229.6L621 205.7L603.9 197.2L591.1 221Z" fill="#92ff51"/>
<path d="M506.9 286.6L519.7 268L503.3 259.4L490.7 278.1Z" fill="#d9ff39"/>
<path d="M378.8 325L391.8 313.6L376.3 305.3L363.2 316.9Z" fill="url(#qA93)"/>
<path d="M407.5 321.9L420.4 309L404.7 300.6L391.8 313.6Z" fill="url(#qA102)"/>
<path d="M536.2 276.5L548.9 256.5L532.3 247.9L519.7 268Z" fill="#bdff3b"/>
<path d="M436.3 317.3L449.1 302.9L433.3 294.5L420.4 309Z" fill="url(#qA116)"/>
<path d="M565.6 265L578.4 243.7L561.6 235.1L548.9 256.5Z" fill="#9eff3d"/>
<path d="M307.7 333.4L321.3 326.9L306 319L292.4 325.6Z" fill="#f39122"/>
<path d="M465.2 311.3L477.9 295.4L461.9 287L449.1 302.9Z" fill="#ffff35"/>
<path d="M336.7 334.8L350 326.7L334.7 318.7L321.3 326.9Z" fill="#f49423"/>
<path d="M595.4 252.2L608.2 229.6L591.1 221L578.4 243.7Z" fill="#99ff46"/>
<path d="M494.2 303.9L506.9 286.6L490.7 278.1L477.9 295.4Z" fill="#f9ff37"/>
<path d="M365.6 334.8L378.8 325L363.2 316.9L350 326.7Z" fill="#f59d24"/>
<path d="M625.5 238L638.4 214.1L621 205.7L608.2 229.6Z" fill="#94ff4f"/>
<path d="M523.4 295.1L536.2 276.5L519.7 268L506.9 286.6Z" fill="#e0ff39"/>
<path d="M394.4 333.2L407.5 321.9L391.8 313.6L378.8 325Z" fill="#f8ac26"/>
<path d="M423.3 330.1L436.3 317.3L420.4 309L407.5 321.9Z" fill="url(#qA101)"/>
<path d="M552.9 285L565.6 265L548.9 256.5L536.2 276.5Z" fill="#c5ff3a"/>
<path d="M452.3 325.5L465.2 311.3L449.1 302.9L436.3 317.3Z" fill="url(#qA115)"/>
<path d="M294 337.9L307.7 333.4L292.4 325.6L278.7 330.3Z" fill="#f28c21"/>
<path d="M582.6 273.5L595.4 252.2L578.4 243.7L565.6 265Z" fill="#a6ff3c"/>
<path d="M323.2 341.1L336.7 334.8L321.3 326.9L307.7 333.4Z" fill="#f18821"/>
<path d="M481.4 319.6L494.2 303.9L477.9 295.4L465.2 311.3Z" fill="#fffe33"/>
<path d="M352.2 342.7L365.6 334.8L350 326.7L336.7 334.8Z" fill="#f28a21"/>
<path d="M612.7 260.7L625.5 238L608.2 229.6L595.4 252.2Z" fill="#9aff43"/>
<path d="M510.6 312.2L523.4 295.1L506.9 286.6L494.2 303.9Z" fill="#ffff37"/>
<path d="M381.3 342.7L394.4 333.2L378.8 325L365.6 334.8Z" fill="#f39322"/>
<path d="M410.3 341.2L423.3 330.1L407.5 321.9L394.4 333.2Z" fill="#f6a125"/>
<path d="M540.1 303.5L552.9 285L536.2 276.5L523.4 295.1Z" fill="#e8ff38"/>
<path d="M643.1 246.5L656.1 222.6L638.4 214.1L625.5 238Z" fill="#95ff4d"/>
<path d="M439.3 338.2L452.3 325.5L436.3 317.3L423.3 330.1Z" fill="url(#qA100)"/>
<path d="M280.1 340.4L294 337.9L278.7 330.3L264.7 333.1Z" fill="#f38f22"/>
<path d="M569.8 293.4L582.6 273.5L565.6 265L552.9 285Z" fill="#ccff3a"/>
<path d="M309.5 345.4L323.2 341.1L307.7 333.4L294 337.9Z" fill="#f18420"/>
<path d="M468.5 333.8L481.4 319.6L465.2 311.3L452.3 325.5Z" fill="url(#qA114)"/>
<path d="M338.7 348.8L352.2 342.7L336.7 334.8L323.2 341.1Z" fill="#f07f1f"/>
<path d="M599.8 281.9L612.7 260.7L595.4 252.2L582.6 273.5Z" fill="#aeff3c"/>
<path d="M497.8 327.9L510.6 312.2L494.2 303.9L481.4 319.6Z" fill="url(#qA129)"/>
<path d="M367.9 350.5L381.3 342.7L365.6 334.8L352.2 342.7Z" fill="#f08120"/>
<path d="M630.1 269.1L643.1 246.5L625.5 238L612.7 260.7Z" fill="#9bff41"/>
<path d="M397.1 350.6L410.3 341.2L394.4 333.2L381.3 342.7Z" fill="#f28921"/>
<path d="M527.2 320.6L540.1 303.5L523.4 295.1L510.6 312.2Z" fill="#ffff36"/>
<path d="M426.3 349.2L439.3 338.2L423.3 330.1L410.3 341.2Z" fill="#f49723"/>
<path d="M556.9 311.9L569.8 293.4L552.9 285L540.1 303.5Z" fill="#efff38"/>
<path d="M265.9 340.9L280.1 340.4L264.7 333.1L250.4 333.7Z" fill="#f59b24"/>
<path d="M660.9 254.9L674 231L656.1 222.6L643.1 246.5Z" fill="#96ff4b"/>
<path d="M455.5 346.3L468.5 333.8L452.3 325.5L439.3 338.2Z" fill="url(#qA99)"/>
<path d="M295.6 347.8L309.5 345.4L294 337.9L280.1 340.4Z" fill="#f18821"/>
<path d="M586.9 301.8L599.8 281.9L582.6 273.5L569.8 293.4Z" fill="#d4ff39"/>
<path d="M325.1 352.9L338.7 348.8L323.2 341.1L309.5 345.4Z" fill="#ef7c1f"/>
<path d="M484.8 341.9L497.8 327.9L481.4 319.6L468.5 333.8Z" fill="url(#qA113)"/>
<path d="M354.5 356.3L367.9 350.5L352.2 342.7L338.7 348.8Z" fill="#ee771e"/>
<path d="M617.2 290.3L630.1 269.1L612.7 260.7L599.8 281.9Z" fill="url(#qA145)"/>
<path d="M514.3 336.1L527.2 320.6L510.6 312.2L497.8 327.9Z" fill="url(#qA128)"/>
<path d="M383.8 358.2L397.1 350.6L381.3 342.7L367.9 350.5Z" fill="#ef781e"/>
<path d="M413.1 358.4L426.3 349.2L410.3 341.2L397.1 350.6Z" fill="#f0801f"/>
<path d="M544 328.8L556.9 311.9L540.1 303.5L527.2 320.6Z" fill="#ffff35"/>
<path d="M647.8 277.5L660.9 254.9L643.1 246.5L630.1 269.1Z" fill="#9cff3f"/>
<path d="M251.5 339.1L265.9 340.9L250.4 333.7L236 332.2Z" fill="#f9b027"/>
<path d="M442.4 357.1L455.5 346.3L439.3 338.2L426.3 349.2Z" fill="#f28d21"/>
<path d="M281.5 348L295.6 347.8L280.1 340.4L265.9 340.9Z" fill="#f49523"/>
<path d="M574 320.2L586.9 301.8L569.8 293.4L556.9 311.9Z" fill="#f6ff37"/>
<path d="M678.9 263.2L692.1 239.3L674 231L660.9 254.9Z" fill="#97ff49"/>
<path d="M311.2 355L325.1 352.9L309.5 345.4L295.6 347.8Z" fill="#f08220"/>
<path d="M471.9 354.3L484.8 341.9L468.5 333.8L455.5 346.3Z" fill="url(#qA98)"/>
<path d="M340.8 360.3L354.5 356.3L338.7 348.8L325.1 352.9Z" fill="#ee751e"/>
<path d="M604.2 310.1L617.2 290.3L599.8 281.9L586.9 301.8Z" fill="#dbff39"/>
<path d="M501.4 350L514.3 336.1L497.8 327.9L484.8 341.9Z" fill="url(#qA112)"/>
<path d="M370.4 363.8L383.8 358.2L367.9 350.5L354.5 356.3Z" fill="#ed6f1d"/>
<path d="M399.8 365.8L413.1 358.4L397.1 350.6L383.8 358.2Z" fill="#ed701d"/>
<path d="M531.1 344.2L544 328.8L527.2 320.6L514.3 336.1Z" fill="url(#qA127)"/>
<path d="M634.8 298.7L647.8 277.5L630.1 269.1L617.2 290.3Z" fill="url(#qA144)"/>
<path d="M236.8 335.1L251.5 339.1L236 332.2L221.2 328.4Z" fill="url(#qA70)"/>
<path d="M429.3 366.1L442.4 357.1L426.3 349.2L413.1 358.4Z" fill="#ee771e"/>
<path d="M561 337L574 320.2L556.9 311.9L544 328.8Z" fill="#ffff33"/>
<path d="M267.1 346L281.5 348L265.9 340.9L251.5 339.1Z" fill="#f8ac26"/>
<path d="M665.8 285.8L678.9 263.2L660.9 254.9L647.8 277.5Z" fill="#9dff3e"/>
<path d="M458.8 364.9L471.9 354.3L455.5 346.3L442.4 357.1Z" fill="#f18420"/>
<path d="M297.2 355L311.2 355L295.6 347.8L281.5 348Z" fill="#f39022"/>
<path d="M591.2 328.4L604.2 310.1L586.9 301.8L574 320.2Z" fill="#fcff37"/>
<path d="M327 362.1L340.8 360.3L325.1 352.9L311.2 355Z" fill="#ef7c1f"/>
<path d="M488.4 362.2L501.4 350L484.8 341.9L471.9 354.3Z" fill="url(#qA97)"/>
<path d="M697.2 271.5L710.5 247.6L692.1 239.3L678.9 263.2Z" fill="#98ff47"/>
<path d="M356.7 367.5L370.4 363.8L354.5 356.3L340.8 360.3Z" fill="#ed6f1d"/>
<path d="M621.7 318.4L634.8 298.7L617.2 290.3L604.2 310.1Z" fill="#e1ff39"/>
<path d="M518.1 358L531.1 344.2L514.3 336.1L501.4 350Z" fill="url(#qA111)"/>
<path d="M386.4 371.3L399.8 365.8L383.8 358.2L370.4 363.8Z" fill="#ec681c"/>
<path d="M416 373.3L429.3 366.1L413.1 358.4L399.8 365.8Z" fill="#ec681c"/>
<path d="M548.1 352.3L561 337L544 328.8L531.1 344.2Z" fill="url(#qA126)"/>
<path d="M221.9 328.6L236.8 335.1L221.2 328.4L206.2 322.2Z" fill="#fcff37"/>
<path d="M652.6 306.9L665.8 285.8L647.8 277.5L634.8 298.7Z" fill="url(#qA143)"/>
<path d="M252.5 341.7L267.1 346L251.5 339.1L236.8 335.1Z" fill="url(#qA69)"/>
<path d="M445.6 373.8L458.8 364.9L442.4 357.1L429.3 366.1Z" fill="#ed6f1d"/>
<path d="M282.9 352.7L297.2 355L281.5 348L267.1 346Z" fill="#f7a725"/>
<path d="M578.2 345.2L591.2 328.4L574 320.2L561 337Z" fill="url(#qA138)"/>
<path d="M313 361.8L327 362.1L311.2 355L297.2 355Z" fill="#f28b21"/>
<path d="M475.3 372.7L488.4 362.2L471.9 354.3L458.8 364.9Z" fill="#ef7c1f"/>
<path d="M683.9 294L697.2 271.5L678.9 263.2L665.8 285.8Z" fill="#a2ff3d"/>
<path d="M343 369.2L356.7 367.5L340.8 360.3L327 362.1Z" fill="#ee761e"/>
<path d="M608.7 336.6L621.7 318.4L604.2 310.1L591.2 328.4Z" fill="#ffff36"/>
<path d="M505.1 370.1L518.1 358L501.4 350L488.4 362.2Z" fill="url(#qA96)"/>
<path d="M372.8 374.7L386.4 371.3L370.4 363.8L356.7 367.5Z" fill="#ec691c"/>
<path d="M715.7 279.7L729.1 255.9L710.5 247.6L697.2 271.5Z" fill="#99ff45"/>
<path d="M402.6 378.6L416 373.3L399.8 365.8L386.4 371.3Z" fill="#eb621b"/>
<path d="M535 365.9L548.1 352.3L531.1 344.2L518.1 358Z" fill="url(#qA110)"/>
<path d="M639.5 326.6L652.6 306.9L634.8 298.7L621.7 318.4Z" fill="#e7ff38"/>
<path d="M206.6 319.7L221.9 328.6L206.2 322.2L190.8 313.6Z" fill="#e0ff39"/>
<path d="M432.3 380.8L445.6 373.8L429.3 366.1L416 373.3Z" fill="#eb621b"/>
<path d="M237.6 334.9L252.5 341.7L236.8 335.1L221.9 328.6Z" fill="#fdff37"/>
<path d="M565.2 360.3L578.2 345.2L561 337L548.1 352.3Z" fill="url(#qA125)"/>
<path d="M268.3 348.1L282.9 352.7L267.1 346L252.5 341.7Z" fill="url(#qA68)"/>
<path d="M670.7 315.1L683.9 294L665.8 285.8L652.6 306.9Z" fill="#c9ff3a"/>
<path d="M462.1 381.4L475.3 372.7L458.8 364.9L445.6 373.8Z" fill="#ec681c"/>
<path d="M298.8 359.3L313 361.8L297.2 355L282.9 352.7Z" fill="#f6a425"/>
<path d="M329 368.6L343 369.2L327 362.1L313 361.8Z" fill="#f18721"/>
<path d="M595.7 353.2L608.7 336.6L591.2 328.4L578.2 345.2Z" fill="url(#qA137)"/>
<path d="M492 380.4L505.1 370.1L488.4 362.2L475.3 372.7Z" fill="#ee741e"/>
<path d="M702.4 302.2L715.7 279.7L697.2 271.5L683.9 294Z" fill="#a8ff3c"/>
<path d="M359 376.1L372.8 374.7L356.7 367.5L343 369.2Z" fill="#ee721d"/>
<path d="M626.4 344.7L639.5 326.6L621.7 318.4L608.7 336.6Z" fill="#ffff36"/>
<path d="M522 377.8L535 365.9L518.1 358L505.1 370.1Z" fill="#f18720"/>
<path d="M389 381.8L402.6 378.6L386.4 371.3L372.8 374.7Z" fill="#eb641b"/>
<path d="M191 308.1L206.6 319.7L190.8 313.6L175.2 302.3Z" fill="#bfff3b"/>
<path d="M418.9 385.8L432.3 380.8L416 373.3L402.6 378.6Z" fill="#ea5c1a"/>
<path d="M734.5 287.9L748 264L729.1 255.9L715.7 279.7Z" fill="#9aff44"/>
<path d="M552.2 373.8L565.2 360.3L548.1 352.3L535 365.9Z" fill="url(#qA109)"/>
<path d="M222.5 325.7L237.6 334.9L221.9 328.6L206.6 319.7Z" fill="#e1ff39"/>
<path d="M657.5 334.7L670.7 315.1L652.6 306.9L639.5 326.6Z" fill="#edff38"/>
<path d="M253.5 341.1L268.3 348.1L252.5 341.7L237.6 334.9Z" fill="#feff37"/>
<path d="M448.8 388.1L462.1 381.4L445.6 373.8L432.3 380.8Z" fill="#ea5c1a"/>
<path d="M284.3 354.4L298.8 359.3L282.9 352.7L268.3 348.1Z" fill="url(#qA67)"/>
<path d="M582.6 368.2L595.7 353.2L578.2 345.2L565.2 360.3Z" fill="url(#qA124)"/>
<path d="M314.8 365.8L329 368.6L313 361.8L298.8 359.3Z" fill="url(#qA83)"/>
<path d="M478.8 388.8L492 380.4L475.3 372.7L462.1 381.4Z" fill="#eb621b"/>
<path d="M689 323.2L702.4 302.2L683.9 294L670.7 315.1Z" fill="#cfff3a"/>
<path d="M345.1 375.3L359 376.1L343 369.2L329 368.6Z" fill="#f18420"/>
<path d="M613.3 361.2L626.4 344.7L608.7 336.6L595.7 353.2Z" fill="url(#qA136)"/>
<path d="M508.8 387.9L522 377.8L505.1 370.1L492 380.4Z" fill="#ed6e1d"/>
<path d="M375.3 382.9L389 381.8L372.8 374.7L359 376.1Z" fill="#ed6e1d"/>
<path d="M721 310.3L734.5 287.9L715.7 279.7L702.4 302.2Z" fill="url(#qA149)"/>
<path d="M405.4 388.8L418.9 385.8L402.6 378.6L389 381.8Z" fill="#ea601a"/>
<path d="M539.1 385.5L552.2 373.8L535 365.9L522 377.8Z" fill="#f0801f"/>
<path d="M175.1 293.7L191 308.1L175.2 302.3L159.1 288.2Z" fill="#9dff3e"/>
<path d="M644.3 352.7L657.5 334.7L639.5 326.6L626.4 344.7Z" fill="#ffff35"/>
<path d="M207 313.8L222.5 325.7L206.6 319.7L191 308.1Z" fill="#bfff3b"/>
<path d="M435.4 392.9L448.8 388.1L432.3 380.8L418.9 385.8Z" fill="#e95819"/>
<path d="M238.4 331.5L253.5 341.1L237.6 334.9L222.5 325.7Z" fill="#e2ff39"/>
<path d="M569.5 381.5L582.6 368.2L565.2 360.3L552.2 373.8Z" fill="url(#qA108)"/>
<path d="M269.6 347.1L284.3 354.4L268.3 348.1L253.5 341.1Z" fill="#ffff37"/>
<path d="M753.5 295.9L767.2 272.1L748 264L734.5 287.9Z" fill="#9bff42"/>
<path d="M675.7 342.7L689 323.2L670.7 315.1L657.5 334.7Z" fill="#f2ff38"/>
<path d="M465.5 395.3L478.8 388.8L462.1 381.4L448.8 388.1Z" fill="#e95719"/>
<path d="M300.4 360.7L314.8 365.8L298.8 359.3L284.3 354.4Z" fill="url(#qA66)"/>
<path d="M331 372.2L345.1 375.3L329 368.6L314.8 365.8Z" fill="url(#qA82)"/>
<path d="M600.2 376L613.3 361.2L595.7 353.2L582.6 368.2Z" fill="url(#qA123)"/>
<path d="M495.6 396.2L508.8 387.9L492 380.4L478.8 388.8Z" fill="#ea5c1a"/>
<path d="M361.4 381.8L375.3 382.9L359 376.1L345.1 375.3Z" fill="#f08120"/>
<path d="M707.6 331.2L721 310.3L702.4 302.2L689 323.2Z" fill="#d5ff39"/>
<path d="M525.9 395.4L539.1 385.5L522 377.8L508.8 387.9Z" fill="#ec671c"/>
<path d="M391.7 389.6L405.4 388.8L389 381.8L375.3 382.9Z" fill="#ec6b1c"/>
<path d="M631.1 369L644.3 352.7L626.4 344.7L613.3 361.2Z" fill="url(#qA135)"/>
<path d="M158.8 276.5L175.1 293.7L159.1 288.2L142.7 271.3Z" fill="#96ff4a"/>
<path d="M191.2 299.1L207 313.8L191 308.1L175.1 293.7Z" fill="#9dff3f"/>
<path d="M421.9 395.6L435.4 392.9L418.9 385.8L405.4 388.8Z" fill="#ea5c1a"/>
<path d="M740 318.3L753.5 295.9L734.5 287.9L721 310.3Z" fill="url(#qA148)"/>
<path d="M223.1 319.3L238.4 331.5L222.5 325.7L207 313.8Z" fill="#bfff3b"/>
<path d="M556.3 393L569.5 381.5L552.2 373.8L539.1 385.5Z" fill="#ef791e"/>
<path d="M662.5 360.5L675.7 342.7L657.5 334.7L644.3 352.7Z" fill="#ffff34"/>
<path d="M254.6 337.3L269.6 347.1L253.5 341.1L238.4 331.5Z" fill="#e2ff39"/>
<path d="M452.1 399.9L465.5 395.3L448.8 388.1L435.4 392.9Z" fill="#e85419"/>
<path d="M285.7 353.1L300.4 360.7L284.3 354.4L269.6 347.1Z" fill="#ffff37"/>
<path d="M587 389.1L600.2 376L582.6 368.2L569.5 381.5Z" fill="url(#qA107)"/>
<path d="M316.6 366.8L331 372.2L314.8 365.8L300.4 360.7Z" fill="#fff832"/>
<path d="M482.3 402.5L495.6 396.2L478.8 388.8L465.5 395.3Z" fill="#e85218"/>
<path d="M772.9 303.9L786.7 280.1L767.2 272.1L753.5 295.9Z" fill="#9cff41"/>
<path d="M694.2 350.6L707.6 331.2L689 323.2L675.7 342.7Z" fill="#f7ff37"/>
<path d="M347.3 378.5L361.4 381.8L345.1 375.3L331 372.2Z" fill="url(#qA81)"/>
<path d="M617.9 383.7L631.1 369L613.3 361.2L600.2 376Z" fill="url(#qA122)"/>
<path d="M512.7 403.4L525.9 395.4L508.8 387.9L495.6 396.2Z" fill="#e95719"/>
<path d="M377.8 388.2L391.7 389.6L375.3 382.9L361.4 381.8Z" fill="#f07f1f"/>
<path d="M726.4 339.1L740 318.3L721 310.3L707.6 331.2Z" fill="#daff39"/>
<path d="M408.2 396.2L421.9 395.6L405.4 388.8L391.7 389.6Z" fill="#ec691c"/>
<path d="M142.1 256.3L158.8 276.5L142.7 271.3L125.8 251.4Z" fill="url(#qA39)"/>
<path d="M543.1 402.7L556.3 393L539.1 385.5L525.9 395.4Z" fill="#eb621b"/>
<path d="M175 281.6L191.2 299.1L175.1 293.7L158.8 276.5Z" fill="#96ff4b"/>
<path d="M649.2 376.8L662.5 360.5L644.3 352.7L631.1 369Z" fill="url(#qA134)"/>
<path d="M207.3 304.4L223.1 319.3L207 313.8L191.2 299.1Z" fill="#9dff3f"/>
<path d="M438.6 402.3L452.1 399.9L435.4 392.9L421.9 395.6Z" fill="#e95919"/>
<path d="M239.3 324.7L254.6 337.3L238.4 331.5L223.1 319.3Z" fill="url(#qA59)"/>
<path d="M270.8 342.9L285.7 353.1L269.6 347.1L254.6 337.3Z" fill="#e1ff39"/>
<path d="M573.8 400.5L587 389.1L569.5 381.5L556.3 393Z" fill="#ee741d"/>
<path d="M759.2 326.2L772.9 303.9L753.5 295.9L740 318.3Z" fill="url(#qA147)"/>
<path d="M468.9 406.7L482.3 402.5L465.5 395.3L452.1 399.9Z" fill="#e85118"/>
<path d="M302 358.8L316.6 366.8L300.4 360.7L285.7 353.1Z" fill="#ffff37"/>
<path d="M680.9 368.3L694.2 350.6L675.7 342.7L662.5 360.5Z" fill="#fffc33"/>
<path d="M333 372.7L347.3 378.5L331 372.2L316.6 366.8Z" fill="#fff832"/>
<path d="M604.7 396.6L617.9 383.7L600.2 376L587 389.1Z" fill="url(#qA106)"/>
<path d="M499.3 409.4L512.7 403.4L495.6 396.2L482.3 402.5Z" fill="#e85018"/>
<path d="M363.7 384.6L377.8 388.2L361.4 381.8L347.3 378.5Z" fill="url(#qA80)"/>
<path d="M792.5 311.7L806.4 288L786.7 280.1L772.9 303.9Z" fill="#9cff3f"/>
<path d="M712.9 358.4L726.4 339.1L707.6 331.2L694.2 350.6Z" fill="#fcff37"/>
<path d="M394.4 394.5L408.2 396.2L391.7 389.6L377.8 388.2Z" fill="#f07e1f"/>
<path d="M529.9 410.5L543.1 402.7L525.9 395.4L512.7 403.4Z" fill="#e85318"/>
<path d="M635.9 391.3L649.2 376.8L631.1 369L617.9 383.7Z" fill="url(#qA121)"/>
<path d="M124.9 232.9L142.1 256.3L125.8 251.4L108.5 228.4Z" fill="url(#qA19)"/>
<path d="M158.4 261L175 281.6L158.8 276.5L142.1 256.3Z" fill="url(#qA38)"/>
<path d="M424.9 402.6L438.6 402.3L421.9 395.6L408.2 396.2Z" fill="#ec671c"/>
<path d="M191.3 286.5L207.3 304.4L191.2 299.1L175 281.6Z" fill="#96ff4b"/>
<path d="M223.7 309.4L239.3 324.7L223.1 319.3L207.3 304.4Z" fill="#9cff3f"/>
<path d="M560.6 409.9L573.8 400.5L556.3 393L543.1 402.7Z" fill="#ea5e1a"/>
<path d="M745.5 346.9L759.2 326.2L740 318.3L726.4 339.1Z" fill="#deff39"/>
<path d="M255.6 330L270.8 342.9L254.6 337.3L239.3 324.7Z" fill="url(#qA58)"/>
<path d="M667.5 384.4L680.9 368.3L662.5 360.5L649.2 376.8Z" fill="url(#qA133)"/>
<path d="M455.4 408.9L468.9 406.7L452.1 399.9L438.6 402.3Z" fill="#e95719"/>
<path d="M287.2 348.3L302 358.8L285.7 353.1L270.8 342.9Z" fill="#e0ff39"/>
<path d="M591.5 407.8L604.7 396.6L587 389.1L573.8 400.5Z" fill="#ed6f1d"/>
<path d="M318.4 364.5L333 372.7L316.6 366.8L302 358.8Z" fill="#ffff37"/>
<path d="M485.9 413.5L499.3 409.4L482.3 402.5L468.9 406.7Z" fill="#e85018"/>
<path d="M778.6 333.9L792.5 311.7L772.9 303.9L759.2 326.2Z" fill="url(#qA146)"/>
<path d="M699.5 376L712.9 358.4L694.2 350.6L680.9 368.3Z" fill="url(#qA141)"/>
<path d="M349.5 378.5L363.7 384.6L347.3 378.5L333 372.7Z" fill="#fff832"/>
<path d="M516.6 416.3L529.9 410.5L512.7 403.4L499.3 409.4Z" fill="#e85018"/>
<path d="M622.7 404L635.9 391.3L617.9 383.7L604.7 396.6Z" fill="url(#qA105)"/>
<path d="M380.3 390.5L394.4 394.5L377.8 388.2L363.7 384.6Z" fill="url(#qA79)"/>
<path d="M411.1 400.7L424.9 402.6L408.2 396.2L394.4 394.5Z" fill="#f07e1f"/>
<path d="M731.9 366L745.5 346.9L726.4 339.1L712.9 358.4Z" fill="#ffff37"/>
<path d="M141.4 237.3L158.4 261L142.1 256.3L124.9 232.9Z" fill="url(#qA18)"/>
<path d="M547.3 417.5L560.6 409.9L543.1 402.7L529.9 410.5Z" fill="#e85018"/>
<path d="M174.8 265.6L191.3 286.5L175 281.6L158.4 261Z" fill="url(#qA37)"/>
<path d="M654.2 398.7L667.5 384.4L649.2 376.8L635.9 391.3Z" fill="url(#qA120)"/>
<path d="M207.7 291.2L223.7 309.4L207.3 304.4L191.3 286.5Z" fill="#96ff4b"/>
<path d="M441.8 408.9L455.4 408.9L438.6 402.3L424.9 402.6Z" fill="#ec671b"/>
<path d="M240.1 314.4L255.6 330L239.3 324.7L223.7 309.4Z" fill="#9cff3f"/>
<path d="M272.1 335.1L287.2 348.3L270.8 342.9L255.6 330Z" fill="url(#qA57)"/>
<path d="M578.2 417L591.5 407.8L573.8 400.5L560.6 409.9Z" fill="#e95a1a"/>
<path d="M472.4 415.4L485.9 413.5L468.9 406.7L455.4 408.9Z" fill="#e95619"/>
<path d="M764.9 354.6L778.6 333.9L759.2 326.2L745.5 346.9Z" fill="#e2ff39"/>
<path d="M303.7 353.6L318.4 364.5L302 358.8L287.2 348.3Z" fill="#dfff39"/>
<path d="M686.1 391.9L699.5 376L680.9 368.3L667.5 384.4Z" fill="url(#qA132)"/>
<path d="M335 369.9L349.5 378.5L333 372.7L318.4 364.5Z" fill="#feff37"/>
<path d="M609.4 414.9L622.7 404L604.7 396.6L591.5 407.8Z" fill="#ec6b1c"/>
<path d="M503.1 420L516.6 416.3L499.3 409.4L485.9 413.5Z" fill="#e85018"/>
<path d="M366.1 384.1L380.3 390.5L363.7 384.6L349.5 378.5Z" fill="#fffa32"/>
<path d="M718.4 383.5L731.9 366L712.9 358.4L699.5 376Z" fill="url(#qA140)"/>
<path d="M397.1 396.4L411.1 400.7L394.4 394.5L380.3 390.5Z" fill="url(#qA78)"/>
<path d="M533.9 423L547.3 417.5L529.9 410.5L516.6 416.3Z" fill="#e85018"/>
<path d="M640.8 411.3L654.2 398.7L635.9 391.3L622.7 404Z" fill="#f08120"/>
<path d="M158 241.5L174.8 265.6L158.4 261L141.4 237.3Z" fill="url(#qA17)"/>
<path d="M428 406.6L441.8 408.9L424.9 402.6L411.1 400.7Z" fill="#f07f1f"/>
<path d="M191.4 270L207.7 291.2L191.3 286.5L174.8 265.6Z" fill="url(#qA36)"/>
<path d="M224.2 295.8L240.1 314.4L223.7 309.4L207.7 291.2Z" fill="#95ff4c"/>
<path d="M564.9 424.3L578.2 417L560.6 409.9L547.3 417.5Z" fill="#e85018"/>
<path d="M751.2 373.6L764.9 354.6L745.5 346.9L731.9 366Z" fill="#ffff36"/>
<path d="M256.6 319.1L272.1 335.1L255.6 330L240.1 314.4Z" fill="#9cff40"/>
<path d="M458.8 415L472.4 415.4L455.4 408.9L441.8 408.9Z" fill="#ec671c"/>
<path d="M672.6 406L686.1 391.9L667.5 384.4L654.2 398.7Z" fill="url(#qA119)"/>
<path d="M288.6 340.1L303.7 353.6L287.2 348.3L272.1 335.1Z" fill="url(#qA56)"/>
<path d="M596.1 423.9L609.4 414.9L591.5 407.8L578.2 417Z" fill="#e95719"/>
<path d="M320.3 358.7L335 369.9L318.4 364.5L303.7 353.6Z" fill="#deff39"/>
<path d="M489.6 421.6L503.1 420L485.9 413.5L472.4 415.4Z" fill="#e95619"/>
<path d="M351.7 375.2L366.1 384.1L349.5 378.5L335 369.9Z" fill="#fcff37"/>
<path d="M704.8 399.2L718.4 383.5L699.5 376L686.1 391.9Z" fill="url(#qA131)"/>
<path d="M520.5 426.5L533.9 423L516.6 416.3L503.1 420Z" fill="#e85018"/>
<path d="M627.5 422L640.8 411.3L622.7 404L609.4 414.9Z" fill="#ec681c"/>
<path d="M382.9 389.6L397.1 396.4L380.3 390.5L366.1 384.1Z" fill="#fffc33"/>
<path d="M414 402L428 406.6L411.1 400.7L397.1 396.4Z" fill="url(#qA77)"/>
<path d="M551.5 429.6L564.9 424.3L547.3 417.5L533.9 423Z" fill="#e85018"/>
<path d="M737.5 390.9L751.2 373.6L731.9 366L718.4 383.5Z" fill="url(#qA139)"/>
<path d="M174.7 245.6L191.4 270L174.8 265.6L158 241.5Z" fill="url(#qA16)"/>
<path d="M208 274.2L224.2 295.8L207.7 291.2L191.4 270Z" fill="url(#qA35)"/>
<path d="M659.2 418.4L672.6 406L654.2 398.7L640.8 411.3Z" fill="#f07e1f"/>
<path d="M445 412.5L458.8 415L441.8 408.9L428 406.6Z" fill="#f0801f"/>
<path d="M240.9 300.2L256.6 319.1L240.1 314.4L224.2 295.8Z" fill="#95ff4d"/>
<path d="M273.3 323.7L288.6 340.1L272.1 335.1L256.6 319.1Z" fill="#9cff41"/>
<path d="M582.7 431L596.1 423.9L578.2 417L564.9 424.3Z" fill="#e85018"/>
<path d="M476 421L489.6 421.6L472.4 415.4L458.8 415Z" fill="#ec681c"/>
<path d="M305.4 344.9L320.3 358.7L303.7 353.6L288.6 340.1Z" fill="url(#qA55)"/>
<path d="M691.4 413.2L704.8 399.2L686.1 391.9L672.6 406Z" fill="url(#qA118)"/>
<path d="M337.1 363.7L351.7 375.2L335 369.9L320.3 358.7Z" fill="#dcff39"/>
<path d="M614.1 430.7L627.5 422L609.4 414.9L596.1 423.9Z" fill="#e95519"/>
<path d="M507 427.8L520.5 426.5L503.1 420L489.6 421.6Z" fill="#e95619"/>
<path d="M368.6 380.4L382.9 389.6L366.1 384.1L351.7 375.2Z" fill="#faff37"/>
<path d="M723.9 406.4L737.5 390.9L718.4 383.5L704.8 399.2Z" fill="url(#qA130)"/>
<path d="M399.9 394.9L414 402L397.1 396.4L382.9 389.6Z" fill="#ffff33"/>
<path d="M538.1 432.7L551.5 429.6L533.9 423L520.5 426.5Z" fill="#e85018"/>
<path d="M645.8 428.8L659.2 418.4L640.8 411.3L627.5 422Z" fill="#eb651b"/>
<path d="M431.1 407.5L445 412.5L428 406.6L414 402Z" fill="url(#qA76)"/>
<path d="M191.5 249.5L208 274.2L191.4 270L174.7 245.6Z" fill="url(#qA15)"/>
<path d="M224.8 278.3L240.9 300.2L224.2 295.8L208 274.2Z" fill="url(#qA34)"/>
<path d="M569.3 435.9L582.7 431L564.9 424.3L551.5 429.6Z" fill="#e85018"/>
<path d="M257.7 304.5L273.3 323.7L256.6 319.1L240.9 300.2Z" fill="#95ff4d"/>
<path d="M462.2 418.1L476 421L458.8 415L445 412.5Z" fill="url(#qA91)"/>
<path d="M677.9 425.3L691.4 413.2L672.6 406L659.2 418.4Z" fill="#ef7c1f"/>
<path d="M290.1 328.1L305.4 344.9L288.6 340.1L273.3 323.7Z" fill="#9bff41"/>
<path d="M322.2 349.5L337.1 363.7L320.3 358.7L305.4 344.9Z" fill="url(#qA54)"/>
<path d="M600.7 437.5L614.1 430.7L596.1 423.9L582.7 431Z" fill="#e85018"/>
<path d="M493.4 426.8L507 427.8L489.6 421.6L476 421Z" fill="#ec6a1c"/>
<path d="M354 368.5L368.6 380.4L351.7 375.2L337.1 363.7Z" fill="#d9ff39"/>
<path d="M710.3 420.2L723.9 406.4L704.8 399.2L691.4 413.2Z" fill="url(#qA117)"/>
<path d="M524.6 433.7L538.1 432.7L520.5 426.5L507 427.8Z" fill="#e95819"/>
<path d="M385.6 385.3L399.9 394.9L382.9 389.6L368.6 380.4Z" fill="#f8ff37"/>
<path d="M632.4 437.3L645.8 428.8L627.5 422L614.1 430.7Z" fill="#e85419"/>
<path d="M417 400.1L431.1 407.5L414 402L399.9 394.9Z" fill="#ffff34"/>
<path d="M555.9 438.8L569.3 435.9L551.5 429.6L538.1 432.7Z" fill="#e85018"/>
<path d="M208.4 253.1L224.8 278.3L208 274.2L191.5 249.5Z" fill="url(#qA14)"/>
<path d="M664.4 435.5L677.9 425.3L659.2 418.4L645.8 428.8Z" fill="#eb641b"/>
<path d="M448.3 412.8L462.2 418.1L445 412.5L431.1 407.5Z" fill="url(#qA75)"/>
<path d="M241.7 282.1L257.7 304.5L240.9 300.2L224.8 278.3Z" fill="url(#qA33)"/>
<path d="M274.6 308.5L290.1 328.1L273.3 323.7L257.7 304.5Z" fill="#94ff4e"/>
<path d="M587.3 442.1L600.7 437.5L582.7 431L569.3 435.9Z" fill="#e85018"/>
<path d="M479.6 423.6L493.4 426.8L476 421L462.2 418.1Z" fill="url(#qA90)"/>
<path d="M307.1 332.4L322.2 349.5L305.4 344.9L290.1 328.1Z" fill="#9bff42"/>
<path d="M696.7 432.1L710.3 420.2L691.4 413.2L677.9 425.3Z" fill="#ef7a1e"/>
<path d="M339.2 353.9L354 368.5L337.1 363.7L322.2 349.5Z" fill="url(#qA53)"/>
<path d="M510.9 432.4L524.6 433.7L507 427.8L493.4 426.8Z" fill="#ed6c1c"/>
<path d="M619 443.8L632.4 437.3L614.1 430.7L600.7 437.5Z" fill="#e85018"/>
<path d="M371.1 373.1L385.6 385.3L368.6 380.4L354 368.5Z" fill="#d6ff39"/>
<path d="M402.8 390.1L417 400.1L399.9 394.9L385.6 385.3Z" fill="#f5ff37"/>
<path d="M542.3 439.5L555.9 438.8L538.1 432.7L524.6 433.7Z" fill="#e95a1a"/>
<path d="M650.9 443.7L664.4 435.5L645.8 428.8L632.4 437.3Z" fill="#e85519"/>
<path d="M434.3 405L448.3 412.8L431.1 407.5L417 400.1Z" fill="#ffff34"/>
<path d="M225.4 256.6L241.7 282.1L224.8 278.3L208.4 253.1Z" fill="url(#qA13)"/>
<path d="M573.8 444.7L587.3 442.1L569.3 435.9L555.9 438.8Z" fill="#e85018"/>
<path d="M258.7 285.8L274.6 308.5L257.7 304.5L241.7 282.1Z" fill="url(#qA32)"/>
<path d="M465.8 417.9L479.6 423.6L462.2 418.1L448.3 412.8Z" fill="url(#qA74)"/>
<path d="M291.6 312.4L307.1 332.4L290.1 328.1L274.6 308.5Z" fill="#94ff4f"/>
<path d="M683.2 442L696.7 432.1L677.9 425.3L664.4 435.5Z" fill="#eb641b"/>
<path d="M324.1 336.4L339.2 353.9L322.2 349.5L307.1 332.4Z" fill="#9aff43"/>
<path d="M605.5 448.2L619 443.8L600.7 437.5L587.3 442.1Z" fill="#e85018"/>
<path d="M497.2 428.8L510.9 432.4L493.4 426.8L479.6 423.6Z" fill="url(#qA89)"/>
<path d="M356.3 358.1L371.1 373.1L354 368.5L339.2 353.9Z" fill="url(#qA52)"/>
<path d="M528.7 437.8L542.3 439.5L524.6 433.7L510.9 432.4Z" fill="#ed701d"/>
<path d="M388.3 377.5L402.8 390.1L385.6 385.3L371.1 373.1Z" fill="#d3ff3a"/>
<path d="M637.4 449.9L650.9 443.7L632.4 437.3L619 443.8Z" fill="#e85018"/>
<path d="M420.1 394.7L434.3 405L417 400.1L402.8 390.1Z" fill="#f2ff38"/>
<path d="M560.3 445L573.8 444.7L555.9 438.8L542.3 439.5Z" fill="#ea5e1a"/>
<path d="M451.7 409.7L465.8 417.9L448.3 412.8L434.3 405Z" fill="#ffff35"/>
<path d="M669.7 450L683.2 442L664.4 435.5L650.9 443.7Z" fill="#e95619"/>
<path d="M242.6 259.9L258.7 285.8L241.7 282.1L225.4 256.6Z" fill="url(#qA12)"/>
<path d="M275.9 289.3L291.6 312.4L274.6 308.5L258.7 285.8Z" fill="url(#qA31)"/>
<path d="M592 450.4L605.5 448.2L587.3 442.1L573.8 444.7Z" fill="#e85218"/>
<path d="M483.3 422.8L497.2 428.8L479.6 423.6L465.8 417.9Z" fill="url(#qA73)"/>
<path d="M308.8 316L324.1 336.4L307.1 332.4L291.6 312.4Z" fill="#93ff50"/>
<path d="M341.4 340.2L356.3 358.1L339.2 353.9L324.1 336.4Z" fill="#9aff44"/>
<path d="M514.9 433.9L528.7 437.8L510.9 432.4L497.2 428.8Z" fill="url(#qA88)"/>
<path d="M623.9 454L637.4 449.9L619 443.8L605.5 448.2Z" fill="#e85018"/>
<path d="M373.6 362.1L388.3 377.5L371.1 373.1L356.3 358.1Z" fill="#abff3c"/>
<path d="M405.7 381.6L420.1 394.7L402.8 390.1L388.3 377.5Z" fill="url(#qA65)"/>
<path d="M546.6 443.1L560.3 445L542.3 439.5L528.7 437.8Z" fill="#ee751e"/>
<path d="M656.1 455.8L669.7 450L650.9 443.7L637.4 449.9Z" fill="#e85018"/>
<path d="M437.6 399L451.7 409.7L434.3 405L420.1 394.7Z" fill="#eeff38"/>
<path d="M578.4 450.4L592 450.4L573.8 444.7L560.3 445Z" fill="#eb621b"/>
<path d="M259.8 263L275.9 289.3L258.7 285.8L242.6 259.9Z" fill="url(#qA11)"/>
<path d="M469.3 414.3L483.3 422.8L465.8 417.9L451.7 409.7Z" fill="#ffff36"/>
<path d="M293.2 292.5L308.8 316L291.6 312.4L275.9 289.3Z" fill="url(#qA30)"/>
<path d="M326.1 319.4L341.4 340.2L324.1 336.4L308.8 316Z" fill="url(#qA49)"/>
<path d="M610.4 455.9L623.9 454L605.5 448.2L592 450.4Z" fill="#e95619"/>
<path d="M501.1 427.5L514.9 433.9L497.2 428.8L483.3 422.8Z" fill="url(#qA72)"/>
<path d="M358.7 343.8L373.6 362.1L356.3 358.1L341.4 340.2Z" fill="#99ff46"/>
<path d="M391 365.9L405.7 381.6L388.3 377.5L373.6 362.1Z" fill="#a6ff3c"/>
<path d="M532.9 438.7L546.6 443.1L528.7 437.8L514.9 433.9Z" fill="url(#qA87)"/>
<path d="M642.5 459.6L656.1 455.8L637.4 449.9L623.9 454Z" fill="#e85118"/>
<path d="M423.2 385.6L437.6 399L420.1 394.7L405.7 381.6Z" fill="url(#qA64)"/>
<path d="M564.7 448.1L578.4 450.4L560.3 445L546.6 443.1Z" fill="#ef7b1f"/>
<path d="M455.2 403.2L469.3 414.3L451.7 409.7L437.6 399Z" fill="#eaff38"/>
<path d="M277.2 265.9L293.2 292.5L275.9 289.3L259.8 263Z" fill="url(#qA10)"/>
<path d="M596.7 455.5L610.4 455.9L592 450.4L578.4 450.4Z" fill="#ec681c"/>
<path d="M310.6 295.6L326.1 319.4L308.8 316L293.2 292.5Z" fill="url(#qA29)"/>
<path d="M487.1 418.6L501.1 427.5L483.3 422.8L469.3 414.3Z" fill="#ffff36"/>
<path d="M343.6 322.7L358.7 343.8L341.4 340.2L326.1 319.4Z" fill="url(#qA48)"/>
<path d="M519 432L532.9 438.7L514.9 433.9L501.1 427.5Z" fill="url(#qA71)"/>
<path d="M376.2 347.2L391 365.9L373.6 362.1L358.7 343.8Z" fill="#98ff47"/>
<path d="M628.9 461.1L642.5 459.6L623.9 454L610.4 455.9Z" fill="#ea5b1a"/>
<path d="M408.6 369.4L423.2 385.6L405.7 381.6L391 365.9Z" fill="#a1ff3d"/>
<path d="M551 443.4L564.7 448.1L546.6 443.1L532.9 438.7Z" fill="url(#qA86)"/>
<path d="M440.9 389.3L455.2 403.2L437.6 399L423.2 385.6Z" fill="url(#qA63)"/>
<path d="M583.1 452.8L596.7 455.5L578.4 450.4L564.7 448.1Z" fill="#f08120"/>
<path d="M473 407.1L487.1 418.6L469.3 414.3L455.2 403.2Z" fill="#e5ff38"/>
<path d="M294.7 268.5L310.6 295.6L293.2 292.5L277.2 265.9Z" fill="url(#qA9)"/>
<path d="M328.1 298.4L343.6 322.7L326.1 319.4L310.6 295.6Z" fill="url(#qA28)"/>
<path d="M505.1 422.6L519 432L501.1 427.5L487.1 418.6Z" fill="#ffff37"/>
<path d="M615.3 460.4L628.9 461.1L610.4 455.9L596.7 455.5Z" fill="#ed6e1d"/>
<path d="M361.1 325.6L376.2 347.2L358.7 343.8L343.6 322.7Z" fill="url(#qA47)"/>
<path d="M393.9 350.4L408.6 369.4L391 365.9L376.2 347.2Z" fill="#97ff48"/>
<path d="M537.2 436.2L551 443.4L532.9 438.7L519 432Z" fill="#fffb32"/>
<path d="M426.4 372.8L440.9 389.3L423.2 385.6L408.6 369.4Z" fill="#9dff3e"/>
<path d="M569.3 447.7L583.1 452.8L564.7 448.1L551 443.4Z" fill="url(#qA85)"/>
<path d="M458.7 392.8L473 407.1L455.2 403.2L440.9 389.3Z" fill="url(#qA62)"/>
<path d="M601.6 457.3L615.3 460.4L596.7 455.5L583.1 452.8Z" fill="url(#qA92)"/>
<path d="M312.4 270.9L328.1 298.4L310.6 295.6L294.7 268.5Z" fill="url(#qA8)"/>
<path d="M491 410.7L505.1 422.6L487.1 418.6L473 407.1Z" fill="#dfff39"/>
<path d="M345.8 301L361.1 325.6L343.6 322.7L328.1 298.4Z" fill="url(#qA27)"/>
<path d="M523.2 426.5L537.2 436.2L519 432L505.1 422.6Z" fill="#fbff37"/>
<path d="M378.9 328.4L393.9 350.4L376.2 347.2L361.1 325.6Z" fill="url(#qA46)"/>
<path d="M411.7 353.3L426.4 372.8L408.6 369.4L393.9 350.4Z" fill="#97ff4a"/>
<path d="M555.5 440.2L569.3 447.7L551 443.4L537.2 436.2Z" fill="#ffff34"/>
<path d="M444.3 375.8L458.7 392.8L440.9 389.3L426.4 372.8Z" fill="#9cff3f"/>
<path d="M587.8 451.9L601.6 457.3L583.1 452.8L569.3 447.7Z" fill="url(#qA84)"/>
<path d="M476.7 396.1L491 410.7L473 407.1L458.7 392.8Z" fill="url(#qA61)"/>
<path d="M330.2 273.1L345.8 301L328.1 298.4L312.4 270.9Z" fill="url(#qA7)"/>
<path d="M509.1 414.1L523.2 426.5L505.1 422.6L491 410.7Z" fill="#d9ff39"/>
<path d="M363.6 303.3L378.9 328.4L361.1 325.6L345.8 301Z" fill="url(#qA26)"/>
<path d="M396.7 330.9L411.7 353.3L393.9 350.4L378.9 328.4Z" fill="url(#qA45)"/>
<path d="M541.5 430L555.5 440.2L537.2 436.2L523.2 426.5Z" fill="#f5ff37"/>
<path d="M429.6 356L444.3 375.8L426.4 372.8L411.7 353.3Z" fill="#96ff4c"/>
<path d="M574 443.9L587.8 451.9L569.3 447.7L555.5 440.2Z" fill="#ffff35"/>
<path d="M462.3 378.7L476.7 396.1L458.7 392.8L444.3 375.8Z" fill="#9bff41"/>
<path d="M494.9 399.1L509.1 414.1L491 410.7L476.7 396.1Z" fill="url(#qA60)"/>
<path d="M348.1 275L363.6 303.3L345.8 301L330.2 273.1Z" fill="url(#qA6)"/>
<path d="M527.5 417.3L541.5 430L523.2 426.5L509.1 414.1Z" fill="#d3ff3a"/>
<path d="M381.6 305.4L396.7 330.9L378.9 328.4L363.6 303.3Z" fill="url(#qA25)"/>
<path d="M414.8 333.1L429.6 356L411.7 353.3L396.7 330.9Z" fill="url(#qA44)"/>
<path d="M560 433.3L574 443.9L555.5 440.2L541.5 430Z" fill="#eeff38"/>
<path d="M447.7 358.4L462.3 378.7L444.3 375.8L429.6 356Z" fill="#95ff4e"/>
<path d="M480.6 381.2L494.9 399.1L476.7 396.1L462.3 378.7Z" fill="#9aff43"/>
<path d="M513.3 401.8L527.5 417.3L509.1 414.1L494.9 399.1Z" fill="#acff3c"/>
<path d="M366.1 276.7L381.6 305.4L363.6 303.3L348.1 275Z" fill="url(#qA5)"/>
<path d="M399.7 307.2L414.8 333.1L396.7 330.9L381.6 305.4Z" fill="url(#qA24)"/>
<path d="M546 420.1L560 433.3L541.5 430L527.5 417.3Z" fill="#ccff3a"/>
<path d="M432.9 335.1L447.7 358.4L429.6 356L414.8 333.1Z" fill="url(#qA43)"/>
<path d="M466 360.5L480.6 381.2L462.3 378.7L447.7 358.4Z" fill="#93ff50"/>
<path d="M498.9 383.5L513.3 401.8L494.9 399.1L480.6 381.2Z" fill="#99ff45"/>
<path d="M531.8 404.2L546 420.1L527.5 417.3L513.3 401.8Z" fill="#a4ff3d"/>
<path d="M384.3 278L399.7 307.2L381.6 305.4L366.1 276.7Z" fill="url(#qA4)"/>
<path d="M417.9 308.7L432.9 335.1L414.8 333.1L399.7 307.2Z" fill="url(#qA23)"/>
<path d="M451.3 336.7L466 360.5L447.7 358.4L432.9 335.1Z" fill="url(#qA42)"/>
<path d="M484.4 362.3L498.9 383.5L480.6 381.2L466 360.5Z" fill="url(#qA51)"/>
<path d="M517.5 385.5L531.8 404.2L513.3 401.8L498.9 383.5Z" fill="#98ff47"/>
<path d="M402.7 279.1L417.9 308.7L399.7 307.2L384.3 278Z" fill="url(#qA3)"/>
<path d="M436.3 309.9L451.3 336.7L432.9 335.1L417.9 308.7Z" fill="url(#qA22)"/>
<path d="M469.8 338.1L484.4 362.3L466 360.5L451.3 336.7Z" fill="url(#qA41)"/>
<path d="M503.1 363.8L517.5 385.5L498.9 383.5L484.4 362.3Z" fill="url(#qA50)"/>
<path d="M421.2 279.9L436.3 309.9L417.9 308.7L402.7 279.1Z" fill="url(#qA2)"/>
<path d="M454.9 310.8L469.8 338.1L451.3 336.7L436.3 309.9Z" fill="url(#qA21)"/>
<path d="M488.4 339.2L503.1 363.8L484.4 362.3L469.8 338.1Z" fill="url(#qA40)"/>
<path d="M439.8 280.4L454.9 310.8L436.3 309.9L421.2 279.9Z" fill="url(#qA1)"/>
<path d="M473.6 311.5L488.4 339.2L469.8 338.1L454.9 310.8Z" fill="url(#qA20)"/>
<path d="M458.6 280.6L473.6 311.5L454.9 310.8L439.8 280.4Z" fill="url(#qA0)"/>
</g>
<circle cx="108.5" cy="220.5" r="7.3" fill="#bd1010" stroke="#4a0c0a" stroke-width="1.7"/>
<circle cx="119.6" cy="451.5" r="3.7" fill="#000"/>
<text transform="translate(107.3 444.7)" font-family='"DejaVu Sans Condensed","DejaVu Sans","Liberation Sans",sans-serif' font-size="23.3" text-anchor="end" fill="#1a1a1a" stroke="#1a1a1a" stroke-width="0.35">32</text>
<circle cx="116.1" cy="381.6" r="3.7" fill="#000"/>
<text transform="translate(103.8 374.8)" font-family='"DejaVu Sans Condensed","DejaVu Sans","Liberation Sans",sans-serif' font-size="23.3" text-anchor="end" fill="#1a1a1a" stroke="#1a1a1a" stroke-width="0.35">34</text>
<circle cx="112.7" cy="311.7" r="3.7" fill="#000"/>
<text transform="translate(100.4 304.9)" font-family='"DejaVu Sans Condensed","DejaVu Sans","Liberation Sans",sans-serif' font-size="23.3" text-anchor="end" fill="#1a1a1a" stroke="#1a1a1a" stroke-width="0.35">36</text>
<circle cx="109.2" cy="241.8" r="3.7" fill="#000"/>
<text transform="translate(96.9 235.0)" font-family='"DejaVu Sans Condensed","DejaVu Sans","Liberation Sans",sans-serif' font-size="23.3" text-anchor="end" fill="#1a1a1a" stroke="#1a1a1a" stroke-width="0.35">38</text>
<circle cx="105.8" cy="171.9" r="3.7" fill="#000"/>
<text transform="translate(93.5 165.1)" font-family='"DejaVu Sans Condensed","DejaVu Sans","Liberation Sans",sans-serif' font-size="23.3" text-anchor="end" fill="#1a1a1a" stroke="#1a1a1a" stroke-width="0.35">40</text>
<circle cx="102.3" cy="102.0" r="3.7" fill="#000"/>
<text transform="translate(90.0 95.2)" font-family='"DejaVu Sans Condensed","DejaVu Sans","Liberation Sans",sans-serif' font-size="23.3" text-anchor="end" fill="#1a1a1a" stroke="#1a1a1a" stroke-width="0.35">42</text>
<circle cx="124.9" cy="559.9" r="3.7" fill="#000"/>
<text transform="translate(110.9 583.7)" font-family='"DejaVu Sans Condensed","DejaVu Sans","Liberation Sans",sans-serif' font-size="23.3" text-anchor="end" fill="#1a1a1a" stroke="#1a1a1a" stroke-width="0.35">6</text>
<circle cx="208.3" cy="600.2" r="3.7" fill="#000"/>
<text transform="translate(194.3 624.0) scale(0.9 1)" font-family='"DejaVu Sans Condensed","DejaVu Sans","Liberation Sans",sans-serif' font-size="23.3" text-anchor="end" fill="#1a1a1a" stroke="#1a1a1a" stroke-width="0.35">5.5</text>
<circle cx="291.8" cy="640.5" r="3.7" fill="#000"/>
<text transform="translate(277.8 664.2)" font-family='"DejaVu Sans Condensed","DejaVu Sans","Liberation Sans",sans-serif' font-size="23.3" text-anchor="end" fill="#1a1a1a" stroke="#1a1a1a" stroke-width="0.35">5</text>
<circle cx="375.2" cy="680.7" r="3.7" fill="#000"/>
<text transform="translate(361.2 704.5) scale(0.9 1)" font-family='"DejaVu Sans Condensed","DejaVu Sans","Liberation Sans",sans-serif' font-size="23.3" text-anchor="end" fill="#1a1a1a" stroke="#1a1a1a" stroke-width="0.35">4.5</text>
<circle cx="458.6" cy="721.0" r="3.7" fill="#000"/>
<text transform="translate(444.6 744.8)" font-family='"DejaVu Sans Condensed","DejaVu Sans","Liberation Sans",sans-serif' font-size="23.3" text-anchor="end" fill="#1a1a1a" stroke="#1a1a1a" stroke-width="0.35">4</text>
<circle cx="458.6" cy="721.0" r="3.7" fill="#000"/>
<text transform="translate(473.6 745.0)" font-family='"DejaVu Sans Condensed","DejaVu Sans","Liberation Sans",sans-serif' font-size="23.3" text-anchor="start" fill="#1a1a1a" stroke="#1a1a1a" stroke-width="0.35">1</text>
<circle cx="525.5" cy="688.8" r="3.7" fill="#000"/>
<text transform="translate(540.5 712.8) scale(0.9 1)" font-family='"DejaVu Sans Condensed","DejaVu Sans","Liberation Sans",sans-serif' font-size="23.3" text-anchor="start" fill="#1a1a1a" stroke="#1a1a1a" stroke-width="0.35">1.2</text>
<circle cx="592.5" cy="656.6" r="3.7" fill="#000"/>
<text transform="translate(607.5 680.6) scale(0.9 1)" font-family='"DejaVu Sans Condensed","DejaVu Sans","Liberation Sans",sans-serif' font-size="23.3" text-anchor="start" fill="#1a1a1a" stroke="#1a1a1a" stroke-width="0.35">1.4</text>
<circle cx="659.4" cy="624.3" r="3.7" fill="#000"/>
<text transform="translate(674.4 648.3) scale(0.9 1)" font-family='"DejaVu Sans Condensed","DejaVu Sans","Liberation Sans",sans-serif' font-size="23.3" text-anchor="start" fill="#1a1a1a" stroke="#1a1a1a" stroke-width="0.35">1.6</text>
<circle cx="726.4" cy="592.1" r="3.7" fill="#000"/>
<text transform="translate(741.4 616.1) scale(0.9 1)" font-family='"DejaVu Sans Condensed","DejaVu Sans","Liberation Sans",sans-serif' font-size="23.3" text-anchor="start" fill="#1a1a1a" stroke="#1a1a1a" stroke-width="0.35">1.8</text>
<circle cx="793.3" cy="559.9" r="3.7" fill="#000"/>
<text transform="translate(808.3 583.9)" font-family='"DejaVu Sans Condensed","DejaVu Sans","Liberation Sans",sans-serif' font-size="23.3" text-anchor="start" fill="#1a1a1a" stroke="#1a1a1a" stroke-width="0.35">2</text>
<text transform="translate(222.8 726.9)" font-family='"Liberation Serif","Noto Serif CJK SC",serif' font-size="31.6" text-anchor="middle" fill="#1a1a1a">Coating time (h)</text>
<text transform="translate(732.0 728.9)" font-family='"Liberation Serif","Noto Serif CJK SC",serif' font-size="31.6" text-anchor="middle" fill="#1a1a1a">DA concentration (g/L)</text>
<text transform="translate(43.2 335.3) rotate(-90)" font-family='"Liberation Serif","Noto Serif CJK SC",serif' font-size="31.6" text-anchor="middle" fill="#1a1a1a">Contact angle (°)</text>
<path d="M118.5 1349.6 L452.7 1223.2 L452.7 810.3 L97.0 891.1 Z" fill="#fff" stroke="#111" stroke-width="1.9" stroke-linejoin="round"/>
<path d="M452.7 1223.2 L786.0 1350.5 L809.5 891.1 L452.7 810.3 Z" fill="#fff" stroke="#111" stroke-width="1.9" stroke-linejoin="round"/>
<path d="M113.4 1241.1 L452.7 1125.5 L791.6 1241.8" fill="none" stroke="#111" stroke-width="1.9"/>
<path d="M110.1 1171.1 L452.7 1062.5 L795.1 1171.6" fill="none" stroke="#111" stroke-width="1.9"/>
<path d="M106.8 1101.1 L452.7 999.4 L798.7 1101.5" fill="none" stroke="#111" stroke-width="1.9"/>
<path d="M103.6 1031.1 L452.7 936.4 L802.3 1031.4" fill="none" stroke="#111" stroke-width="1.9"/>
<path d="M100.3 961.1 L452.7 873.3 L805.9 961.2" fill="none" stroke="#111" stroke-width="1.9"/>
<line x1="181.3" y1="1218.0" x2="168.1" y2="874.9" stroke="#111" stroke-width="1.9"/>
<line x1="249.1" y1="1194.9" x2="239.3" y2="858.8" stroke="#111" stroke-width="1.9"/>
<line x1="317.0" y1="1171.7" x2="310.4" y2="842.6" stroke="#111" stroke-width="1.9"/>
<line x1="384.8" y1="1148.6" x2="381.6" y2="826.5" stroke="#111" stroke-width="1.9"/>
<line x1="706.8" y1="1212.7" x2="720.3" y2="870.9" stroke="#111" stroke-width="1.9"/>
<line x1="622.1" y1="1183.6" x2="631.1" y2="850.7" stroke="#111" stroke-width="1.9"/>
<line x1="537.4" y1="1154.6" x2="541.9" y2="830.5" stroke="#111" stroke-width="1.9"/>
<clipPath id="fcC"><path d="M452.7 1510.4 L786.0 1350.5 L452.7 1223.2 L118.5 1349.6 Z"/></clipPath>
<path d="M452.7 1510.4 L786.0 1350.5 L452.7 1223.2 L118.5 1349.6 Z" fill="#696969" stroke="none"/>
<g clip-path="url(#fcC)">
<path d="M620.6 1429.9 L609.2 1430.3 L598.5 1430.3 L588.4 1430.0 L578.6 1429.6 L569.1 1429.0 L555.4 1427.8 L542.3 1426.4 L533.8 1425.3 L523.9 1424.0 L508.9 1421.7 L500.9 1420.3 L487.5 1417.9 L477.6 1415.9 L467.1 1413.8 L455.1 1411.1 L444.5 1408.6 L433.3 1405.8 L419.3 1402.2 L412.1 1400.2 L398.4 1396.3 L390.0 1393.9 L378.2 1390.3 L365.1 1386.1 L353.2 1382.1 L345.9 1379.5 L333.4 1375.0 L321.1 1370.5 L309.1 1365.8 L297.3 1361.0 L285.7 1356.0 L274.4 1351.0 L263.4 1345.9 L252.7 1340.6 L242.3 1335.3 L232.3 1329.8 L222.6 1324.2 L213.5 1318.6 L208.8 1315.4 L208.8 1315.4" fill="none" stroke="#e01818" stroke-width="3"/>
<path d="M688.1 1397.5 L687.0 1393.0 L684.6 1388.0 L680.0 1381.6 L676.9 1378.2 L671.1 1372.8 L666.1 1368.7 L658.0 1362.8 L653.7 1360.0 L644.7 1354.5 L635.4 1349.2 L630.5 1346.7 L620.5 1341.7 L610.2 1336.9 L599.6 1332.2 L588.6 1327.7 L577.4 1323.3 L566.0 1319.0 L554.3 1314.8 L542.3 1310.7 L532.8 1307.5 L523.9 1304.7 L511.3 1300.8 L498.5 1297.1 L488.2 1294.1 L478.8 1291.6 L465.4 1288.0 L455.8 1285.5 L444.8 1282.8 L430.7 1279.5 L423.6 1277.9 L409.0 1274.7 L401.7 1273.1 L386.6 1270.1 L379.0 1268.6 L363.9 1265.8 L355.4 1264.4 L347.4 1263.0" fill="none" stroke="#e01818" stroke-width="3"/>
<path d="M560.4 1458.7 L552.1 1457.5 L536.2 1455.0 L528.0 1453.5 L517.5 1451.7 L504.5 1449.2 L496.8 1447.6 L481.7 1444.4 L474.2 1442.8 L459.4 1439.4 L452.1 1437.6 L437.6 1434.0 L429.7 1432.0 L416.3 1428.4 L402.8 1424.7 L395.5 1422.5 L381.8 1418.5 L372.6 1415.7 L361.7 1412.3 L348.5 1408.0 L337.3 1404.3 L328.9 1401.5 L316.2 1397.0 L303.6 1392.4 L291.4 1387.9 L284.9 1385.4 L272.8 1380.6 L260.8 1375.8 L248.9 1370.9 L237.2 1365.9 L225.8 1360.8 L214.5 1355.7 L203.4 1350.5 L192.5 1345.2 L181.8 1339.8 L171.3 1334.3 L166.1 1331.6" fill="none" stroke="#e01818" stroke-width="3"/>
<path d="M748.3 1368.6 L739.6 1363.0 L731.5 1358.2 L726.0 1355.1 L716.4 1350.0 L706.6 1345.0 L696.6 1340.2 L691.0 1337.6 L681.1 1333.2 L670.5 1328.6 L659.6 1324.2 L648.6 1319.8 L637.3 1315.5 L625.9 1311.3 L614.3 1307.2 L603.9 1303.6 L596.6 1301.2 L584.5 1297.2 L572.3 1293.4 L559.9 1289.5 L547.4 1285.8 L541.1 1283.9 L528.2 1280.3 L515.2 1276.7 L505.3 1274.0 L495.4 1271.4 L482.0 1267.9 L472.9 1265.6 L461.5 1262.9 L447.7 1259.6 L440.6 1257.9 L426.4 1254.7 L419.0 1253.0 L404.8 1250.0 L395.6 1248.0 L390.0 1246.9" fill="none" stroke="#e01818" stroke-width="3"/>
<path d="M525.3 1475.6 L517.6 1474.0 L503.5 1471.1 L494.8 1469.2 L482.0 1466.4 L472.5 1464.1 L459.3 1461.0 L450.5 1458.8 L436.1 1455.1 L429.0 1453.3 L414.9 1449.4 L407.8 1447.5 L393.9 1443.5 L380.4 1439.6 L373.4 1437.4 L359.8 1433.2 L348.7 1429.7 L339.8 1426.8 L326.7 1422.4 L313.6 1418.0 L307.2 1415.7 L294.4 1411.2 L281.7 1406.5 L269.1 1401.8 L262.9 1399.5 L250.6 1394.7 L238.4 1389.8 L226.4 1384.9 L214.5 1379.9 L202.7 1374.8 L191.1 1369.7 L185.3 1367.2 L173.9 1362.0 L162.7 1356.7 L151.6 1351.4 L140.7 1346.0 L135.3 1343.3 L135.3 1343.3" fill="none" stroke="#e01818" stroke-width="3"/>
<path d="M783.4 1351.8 L773.7 1346.8 L763.8 1342.0 L763.5 1341.9" fill="none" stroke="#e01818" stroke-width="3"/>
<path d="M624.6 1288.9 L612.8 1285.2 L600.5 1281.4 L588.1 1277.7 L575.6 1274.0 L569.2 1272.2 L556.5 1268.7 L543.6 1265.1 L530.5 1261.6 L524.0 1259.9 L510.7 1256.5 L497.3 1253.1 L490.5 1251.4 L476.9 1248.1 L466.2 1245.5 L456.2 1243.2 L442.2 1240.0 L435.1 1238.4 L420.9 1235.2 L420.9 1235.2" fill="none" stroke="#e01818" stroke-width="3"/>
<path d="M498.0 1488.7 L490.5 1487.0 L475.7 1483.5 L468.4 1481.7 L453.8 1478.1 L446.6 1476.3 L432.2 1472.5 L423.6 1470.2 L411.0 1466.7 L397.0 1462.7 L390.1 1460.7 L376.3 1456.6 L367.6 1454.0 L355.9 1450.3 L342.4 1446.0 L335.6 1443.8 L322.5 1439.5 L309.3 1435.0 L299.4 1431.6 L289.8 1428.2 L277.0 1423.6 L264.3 1418.9 L256.3 1415.9 L256.3 1415.9" fill="none" stroke="#e01818" stroke-width="3"/>
<path d="M478.8 1233.2 L467.1 1230.4 L453.1 1227.3 L446.1 1225.7 L446.1 1225.7" fill="none" stroke="#e01818" stroke-width="3"/>
<path d="M472.3 1501.0 L459.8 1497.8 L450.5 1495.4 L436.2 1491.7 L429.0 1489.7 L414.9 1485.8 L407.8 1483.8 L393.9 1479.8 L381.6 1476.2 L381.6 1476.2" fill="none" stroke="#e01818" stroke-width="3"/>
</g>
<path d="M452.7 1510.4 L786.0 1350.5 L452.7 1223.2 L118.5 1349.6 Z" fill="none" stroke="#111" stroke-width="2.2" stroke-linejoin="round"/>
<circle cx="802.1" cy="1060.7" r="7.2" fill="#fbe4e4" stroke="#3a1410" stroke-width="1.7"/>
<circle cx="452.7" cy="1204.1" r="7.2" fill="#fbe4e4" stroke="#3a1410" stroke-width="1.7"/>
<defs><linearGradient id="qC0" gradientUnits="userSpaceOnUse" x1="434" y1="1022" x2="447" y2="1054"><stop stop-color="#1129fc"/><stop offset="1" stop-color="#2f5ffd"/></linearGradient><linearGradient id="qC1" gradientUnits="userSpaceOnUse" x1="415" y1="1029" x2="426" y2="1062"><stop stop-color="#1129fc"/><stop offset="1" stop-color="#4284fe"/></linearGradient><linearGradient id="qC2" gradientUnits="userSpaceOnUse" x1="397" y1="1036" x2="406" y2="1068"><stop stop-color="#1b3afc"/><stop offset="1" stop-color="#55a5fe"/></linearGradient><linearGradient id="qC3" gradientUnits="userSpaceOnUse" x1="378" y1="1041" x2="386" y2="1073"><stop stop-color="#2c5afd"/><stop offset="1" stop-color="#66c5ff"/></linearGradient><linearGradient id="qC4" gradientUnits="userSpaceOnUse" x1="360" y1="1046" x2="367" y2="1077"><stop stop-color="#3c78fd"/><stop offset="1" stop-color="#75e2ff"/></linearGradient><linearGradient id="qC5" gradientUnits="userSpaceOnUse" x1="342" y1="1049" x2="347" y2="1080"><stop stop-color="#4b94fe"/><stop offset="1" stop-color="#83fcff"/></linearGradient><linearGradient id="qC6" gradientUnits="userSpaceOnUse" x1="324" y1="1052" x2="328" y2="1082"><stop stop-color="#59acfe"/><stop offset="1" stop-color="#8efffb"/></linearGradient><linearGradient id="qC7" gradientUnits="userSpaceOnUse" x1="307" y1="1054" x2="309" y2="1083"><stop stop-color="#65c3ff"/><stop offset="1" stop-color="#8fffe4"/></linearGradient><linearGradient id="qC8" gradientUnits="userSpaceOnUse" x1="289" y1="1055" x2="290" y2="1083"><stop stop-color="#70d8ff"/><stop offset="1" stop-color="#8fffcf"/></linearGradient><linearGradient id="qC9" gradientUnits="userSpaceOnUse" x1="272" y1="1056" x2="271" y2="1083"><stop stop-color="#7aeaff"/><stop offset="1" stop-color="#8fffbd"/></linearGradient><linearGradient id="qC10" gradientUnits="userSpaceOnUse" x1="254" y1="1056" x2="253" y2="1081"><stop stop-color="#82faff"/><stop offset="1" stop-color="#90ffad"/></linearGradient><linearGradient id="qC11" gradientUnits="userSpaceOnUse" x1="237" y1="1055" x2="235" y2="1079"><stop stop-color="#8affff"/><stop offset="1" stop-color="#90ff9f"/></linearGradient><linearGradient id="qC12" gradientUnits="userSpaceOnUse" x1="220" y1="1053" x2="217" y2="1076"><stop stop-color="#8efffc"/><stop offset="1" stop-color="#90ff94"/></linearGradient><linearGradient id="qC13" gradientUnits="userSpaceOnUse" x1="203" y1="1051" x2="199" y2="1072"><stop stop-color="#8efff2"/><stop offset="1" stop-color="#90ff8a"/></linearGradient><linearGradient id="qC14" gradientUnits="userSpaceOnUse" x1="186" y1="1048" x2="182" y2="1068"><stop stop-color="#8effe9"/><stop offset="1" stop-color="#90ff83"/></linearGradient><linearGradient id="qC15" gradientUnits="userSpaceOnUse" x1="169" y1="1045" x2="165" y2="1064"><stop stop-color="#8fffe3"/><stop offset="1" stop-color="#90ff7e"/></linearGradient><linearGradient id="qC16" gradientUnits="userSpaceOnUse" x1="153" y1="1041" x2="148" y2="1058"><stop stop-color="#8fffdf"/><stop offset="1" stop-color="#90ff7b"/></linearGradient><linearGradient id="qC17" gradientUnits="userSpaceOnUse" x1="136" y1="1036" x2="131" y2="1052"><stop stop-color="#8fffdd"/><stop offset="1" stop-color="#90ff7a"/></linearGradient><linearGradient id="qC18" gradientUnits="userSpaceOnUse" x1="120" y1="1031" x2="115" y2="1046"><stop stop-color="#8fffdd"/><stop offset="1" stop-color="#90ff7b"/></linearGradient><linearGradient id="qC19" gradientUnits="userSpaceOnUse" x1="468" y1="1046" x2="480" y2="1076"><stop stop-color="#1a38fc"/><stop offset="1" stop-color="#509dfe"/></linearGradient><linearGradient id="qC20" gradientUnits="userSpaceOnUse" x1="449" y1="1054" x2="460" y2="1084"><stop stop-color="#2f5ffd"/><stop offset="1" stop-color="#65c4ff"/></linearGradient><linearGradient id="qC21" gradientUnits="userSpaceOnUse" x1="430" y1="1060" x2="440" y2="1090"><stop stop-color="#4384fe"/><stop offset="1" stop-color="#78e7ff"/></linearGradient><linearGradient id="qC22" gradientUnits="userSpaceOnUse" x1="412" y1="1066" x2="420" y2="1095"><stop stop-color="#55a6fe"/><stop offset="1" stop-color="#8affff"/></linearGradient><linearGradient id="qC23" gradientUnits="userSpaceOnUse" x1="394" y1="1071" x2="400" y2="1100"><stop stop-color="#66c5ff"/><stop offset="1" stop-color="#8effe8"/></linearGradient><linearGradient id="qC24" gradientUnits="userSpaceOnUse" x1="376" y1="1075" x2="380" y2="1103"><stop stop-color="#75e2ff"/><stop offset="1" stop-color="#8fffca"/></linearGradient><linearGradient id="qC25" gradientUnits="userSpaceOnUse" x1="358" y1="1078" x2="361" y2="1105"><stop stop-color="#84fcff"/><stop offset="1" stop-color="#90ffaf"/></linearGradient><linearGradient id="qC26" gradientUnits="userSpaceOnUse" x1="340" y1="1080" x2="342" y2="1107"><stop stop-color="#8efffb"/><stop offset="1" stop-color="#90ff96"/></linearGradient><linearGradient id="qC27" gradientUnits="userSpaceOnUse" x1="322" y1="1082" x2="323" y2="1107"><stop stop-color="#8fffe4"/><stop offset="1" stop-color="#90ff80"/></linearGradient><linearGradient id="qC28" gradientUnits="userSpaceOnUse" x1="305" y1="1083" x2="305" y2="1107"><stop stop-color="#8fffcf"/><stop offset="1" stop-color="#91ff6d"/></linearGradient><linearGradient id="qC29" gradientUnits="userSpaceOnUse" x1="287" y1="1083" x2="286" y2="1106"><stop stop-color="#8fffbd"/><stop offset="1" stop-color="#91ff5b"/></linearGradient><linearGradient id="qC30" gradientUnits="userSpaceOnUse" x1="270" y1="1082" x2="268" y2="1104"><stop stop-color="#90ffad"/><stop offset="1" stop-color="#92ff53"/></linearGradient><linearGradient id="qC31" gradientUnits="userSpaceOnUse" x1="253" y1="1081" x2="251" y2="1101"><stop stop-color="#90ff9f"/><stop offset="1" stop-color="#93ff51"/></linearGradient><linearGradient id="qC32" gradientUnits="userSpaceOnUse" x1="236" y1="1079" x2="233" y2="1098"><stop stop-color="#90ff93"/><stop offset="1" stop-color="#94ff4f"/></linearGradient><linearGradient id="qC33" gradientUnits="userSpaceOnUse" x1="219" y1="1076" x2="216" y2="1094"><stop stop-color="#90ff8a"/><stop offset="1" stop-color="#94ff4e"/></linearGradient><linearGradient id="qC34" gradientUnits="userSpaceOnUse" x1="203" y1="1073" x2="199" y2="1089"><stop stop-color="#90ff83"/><stop offset="1" stop-color="#95ff4d"/></linearGradient><linearGradient id="qC35" gradientUnits="userSpaceOnUse" x1="186" y1="1069" x2="182" y2="1084"><stop stop-color="#90ff7e"/><stop offset="1" stop-color="#95ff4c"/></linearGradient><linearGradient id="qC36" gradientUnits="userSpaceOnUse" x1="169" y1="1064" x2="165" y2="1078"><stop stop-color="#90ff7b"/><stop offset="1" stop-color="#95ff4c"/></linearGradient><linearGradient id="qC37" gradientUnits="userSpaceOnUse" x1="153" y1="1059" x2="149" y2="1072"><stop stop-color="#90ff7a"/><stop offset="1" stop-color="#95ff4c"/></linearGradient><linearGradient id="qC38" gradientUnits="userSpaceOnUse" x1="137" y1="1054" x2="132" y2="1066"><stop stop-color="#90ff7b"/><stop offset="1" stop-color="#95ff4c"/></linearGradient><linearGradient id="qC39" gradientUnits="userSpaceOnUse" x1="483" y1="1075" x2="493" y2="1102"><stop stop-color="#509dfe"/><stop offset="1" stop-color="#83faff"/></linearGradient><linearGradient id="qC40" gradientUnits="userSpaceOnUse" x1="464" y1="1082" x2="473" y2="1109"><stop stop-color="#65c4ff"/><stop offset="1" stop-color="#8effef"/></linearGradient><linearGradient id="qC41" gradientUnits="userSpaceOnUse" x1="445" y1="1088" x2="453" y2="1115"><stop stop-color="#78e7ff"/><stop offset="1" stop-color="#8fffca"/></linearGradient><linearGradient id="qC42" gradientUnits="userSpaceOnUse" x1="427" y1="1094" x2="433" y2="1120"><stop stop-color="#8affff"/><stop offset="1" stop-color="#90ffa9"/></linearGradient><linearGradient id="qC43" gradientUnits="userSpaceOnUse" x1="409" y1="1098" x2="414" y2="1124"><stop stop-color="#8effe8"/><stop offset="1" stop-color="#90ff89"/></linearGradient><linearGradient id="qC44" gradientUnits="userSpaceOnUse" x1="391" y1="1101" x2="394" y2="1126"><stop stop-color="#8fffca"/><stop offset="1" stop-color="#91ff6d"/></linearGradient><linearGradient id="qC45" gradientUnits="userSpaceOnUse" x1="373" y1="1104" x2="375" y2="1128"><stop stop-color="#90ffaf"/><stop offset="1" stop-color="#91ff54"/></linearGradient><linearGradient id="qC46" gradientUnits="userSpaceOnUse" x1="355" y1="1106" x2="356" y2="1129"><stop stop-color="#90ff96"/><stop offset="1" stop-color="#93ff50"/></linearGradient><linearGradient id="qC47" gradientUnits="userSpaceOnUse" x1="338" y1="1107" x2="338" y2="1128"><stop stop-color="#90ff80"/><stop offset="1" stop-color="#95ff4d"/></linearGradient><linearGradient id="qC48" gradientUnits="userSpaceOnUse" x1="320" y1="1107" x2="320" y2="1127"><stop stop-color="#91ff6c"/><stop offset="1" stop-color="#97ff4a"/></linearGradient><linearGradient id="qC49" gradientUnits="userSpaceOnUse" x1="497" y1="1101" x2="506" y2="1126"><stop stop-color="#83faff"/><stop offset="1" stop-color="#8fffbd"/></linearGradient><linearGradient id="qC50" gradientUnits="userSpaceOnUse" x1="479" y1="1107" x2="486" y2="1132"><stop stop-color="#8effef"/><stop offset="1" stop-color="#90ff96"/></linearGradient><linearGradient id="qC51" gradientUnits="userSpaceOnUse" x1="460" y1="1113" x2="466" y2="1137"><stop stop-color="#8fffca"/><stop offset="1" stop-color="#91ff73"/></linearGradient><linearGradient id="qC52" gradientUnits="userSpaceOnUse" x1="442" y1="1118" x2="447" y2="1141"><stop stop-color="#90ffa8"/><stop offset="1" stop-color="#91ff54"/></linearGradient><linearGradient id="qC53" gradientUnits="userSpaceOnUse" x1="424" y1="1122" x2="427" y2="1144"><stop stop-color="#90ff89"/><stop offset="1" stop-color="#94ff4f"/></linearGradient><linearGradient id="qC54" gradientUnits="userSpaceOnUse" x1="512" y1="1124" x2="519" y2="1146"><stop stop-color="#8fffbd"/><stop offset="1" stop-color="#91ff6c"/></linearGradient><linearGradient id="qC55" gradientUnits="userSpaceOnUse" x1="493" y1="1130" x2="499" y2="1152"><stop stop-color="#90ff96"/><stop offset="1" stop-color="#92ff52"/></linearGradient><linearGradient id="qC56" gradientUnits="userSpaceOnUse" x1="475" y1="1135" x2="479" y2="1156"><stop stop-color="#91ff73"/><stop offset="1" stop-color="#95ff4d"/></linearGradient><linearGradient id="qC57" gradientUnits="userSpaceOnUse" x1="350" y1="1146" x2="349" y2="1160"><stop stop-color="#9dff3e"/><stop offset="1" stop-color="#c5ff3a"/></linearGradient><linearGradient id="qC58" gradientUnits="userSpaceOnUse" x1="333" y1="1145" x2="332" y2="1157"><stop stop-color="#a4ff3d"/><stop offset="1" stop-color="#cdff3a"/></linearGradient><linearGradient id="qC59" gradientUnits="userSpaceOnUse" x1="316" y1="1142" x2="314" y2="1154"><stop stop-color="#abff3c"/><stop offset="1" stop-color="#d3ff3a"/></linearGradient><linearGradient id="qC60" gradientUnits="userSpaceOnUse" x1="300" y1="1139" x2="297" y2="1150"><stop stop-color="#b2ff3c"/><stop offset="1" stop-color="#d9ff39"/></linearGradient><linearGradient id="qC61" gradientUnits="userSpaceOnUse" x1="283" y1="1136" x2="281" y2="1145"><stop stop-color="#b6ff3b"/><stop offset="1" stop-color="#ddff39"/></linearGradient><linearGradient id="qC62" gradientUnits="userSpaceOnUse" x1="266" y1="1132" x2="264" y2="1140"><stop stop-color="#baff3b"/><stop offset="1" stop-color="#e0ff39"/></linearGradient><linearGradient id="qC63" gradientUnits="userSpaceOnUse" x1="417" y1="1163" x2="417" y2="1177"><stop stop-color="#a4ff3d"/><stop offset="1" stop-color="#caff3a"/></linearGradient><linearGradient id="qC64" gradientUnits="userSpaceOnUse" x1="400" y1="1163" x2="399" y2="1176"><stop stop-color="#b0ff3c"/><stop offset="1" stop-color="#d6ff39"/></linearGradient><linearGradient id="qC65" gradientUnits="userSpaceOnUse" x1="232" y1="1130" x2="232" y2="1130"><stop stop-color="#fff732"/><stop offset="1" stop-color="#fdcc2b"/></linearGradient><linearGradient id="qC66" gradientUnits="userSpaceOnUse" x1="216" y1="1123" x2="217" y2="1122"><stop stop-color="#fffe33"/><stop offset="1" stop-color="#ffd52c"/></linearGradient><linearGradient id="qC67" gradientUnits="userSpaceOnUse" x1="377" y1="1181" x2="376" y2="1184"><stop stop-color="#ffff35"/><stop offset="1" stop-color="#ffdd2e"/></linearGradient><linearGradient id="qC68" gradientUnits="userSpaceOnUse" x1="360" y1="1177" x2="359" y2="1180"><stop stop-color="#ffff33"/><stop offset="1" stop-color="#ffd52d"/></linearGradient><linearGradient id="qC69" gradientUnits="userSpaceOnUse" x1="344" y1="1173" x2="343" y2="1175"><stop stop-color="#fffa32"/><stop offset="1" stop-color="#fed02c"/></linearGradient><linearGradient id="qC70" gradientUnits="userSpaceOnUse" x1="327" y1="1168" x2="327" y2="1169"><stop stop-color="#fff632"/><stop offset="1" stop-color="#fecd2b"/></linearGradient><linearGradient id="qC71" gradientUnits="userSpaceOnUse" x1="311" y1="1163" x2="311" y2="1163"><stop stop-color="#fff431"/><stop offset="1" stop-color="#fdcc2b"/></linearGradient><linearGradient id="qC72" gradientUnits="userSpaceOnUse" x1="295" y1="1157" x2="295" y2="1156"><stop stop-color="#fbbf29"/><stop offset="1" stop-color="#f49923"/></linearGradient><linearGradient id="qC73" gradientUnits="userSpaceOnUse" x1="279" y1="1151" x2="279" y2="1149"><stop stop-color="#fbc129"/><stop offset="1" stop-color="#f59d24"/></linearGradient><linearGradient id="qC74" gradientUnits="userSpaceOnUse" x1="263" y1="1144" x2="264" y2="1142"><stop stop-color="#fcc62a"/><stop offset="1" stop-color="#f6a225"/></linearGradient><linearGradient id="qC75" gradientUnits="userSpaceOnUse" x1="247" y1="1137" x2="248" y2="1134"><stop stop-color="#fdcc2b"/><stop offset="1" stop-color="#f7aa26"/></linearGradient><linearGradient id="qC76" gradientUnits="userSpaceOnUse" x1="231" y1="1129" x2="233" y2="1126"><stop stop-color="#ffd52c"/><stop offset="1" stop-color="#f9b427"/></linearGradient><linearGradient id="qC77" gradientUnits="userSpaceOnUse" x1="442" y1="1196" x2="442" y2="1200"><stop stop-color="#ffff34"/><stop offset="1" stop-color="#ffdb2d"/></linearGradient><linearGradient id="qC78" gradientUnits="userSpaceOnUse" x1="425" y1="1194" x2="425" y2="1197"><stop stop-color="#fff431"/><stop offset="1" stop-color="#fecd2b"/></linearGradient><linearGradient id="qC79" gradientUnits="userSpaceOnUse" x1="408" y1="1191" x2="408" y2="1193"><stop stop-color="#ffe72f"/><stop offset="1" stop-color="#fcc22a"/></linearGradient><linearGradient id="qC80" gradientUnits="userSpaceOnUse" x1="391" y1="1188" x2="391" y2="1189"><stop stop-color="#ffdd2e"/><stop offset="1" stop-color="#fab928"/></linearGradient><linearGradient id="qC81" gradientUnits="userSpaceOnUse" x1="374" y1="1184" x2="374" y2="1184"><stop stop-color="#ffd52d"/><stop offset="1" stop-color="#f9b327"/></linearGradient><linearGradient id="qC82" gradientUnits="userSpaceOnUse" x1="358" y1="1179" x2="358" y2="1178"><stop stop-color="#f59b24"/><stop offset="1" stop-color="#ef7a1e"/></linearGradient><linearGradient id="qC83" gradientUnits="userSpaceOnUse" x1="341" y1="1174" x2="342" y2="1172"><stop stop-color="#f49823"/><stop offset="1" stop-color="#ef791e"/></linearGradient><linearGradient id="qC84" gradientUnits="userSpaceOnUse" x1="474" y1="1203" x2="473" y2="1206"><stop stop-color="#ffec30"/><stop offset="1" stop-color="#fdcb2b"/></linearGradient><linearGradient id="qC85" gradientUnits="userSpaceOnUse" x1="456" y1="1201" x2="456" y2="1203"><stop stop-color="#ffdb2d"/><stop offset="1" stop-color="#fabc29"/></linearGradient><linearGradient id="qC86" gradientUnits="userSpaceOnUse" x1="373" y1="1118" x2="382" y2="1104"><stop stop-color="#f6a024"/><stop offset="1" stop-color="#fbbf29"/></linearGradient><linearGradient id="qC87" gradientUnits="userSpaceOnUse" x1="357" y1="1108" x2="366" y2="1094"><stop stop-color="#f9b127"/><stop offset="1" stop-color="#fed22c"/></linearGradient><linearGradient id="qC88" gradientUnits="userSpaceOnUse" x1="342" y1="1099" x2="352" y2="1084"><stop stop-color="#fcc52a"/><stop offset="1" stop-color="#ffe62f"/></linearGradient><linearGradient id="qC89" gradientUnits="userSpaceOnUse" x1="482" y1="1156" x2="489" y2="1141"><stop stop-color="#ef791e"/><stop offset="1" stop-color="#f49823"/></linearGradient><linearGradient id="qC90" gradientUnits="userSpaceOnUse" x1="466" y1="1149" x2="473" y2="1134"><stop stop-color="#f0801f"/><stop offset="1" stop-color="#f6a024"/></linearGradient><linearGradient id="qC91" gradientUnits="userSpaceOnUse" x1="449" y1="1141" x2="457" y2="1126"><stop stop-color="#f28821"/><stop offset="1" stop-color="#f7aa26"/></linearGradient><linearGradient id="qC92" gradientUnits="userSpaceOnUse" x1="433" y1="1133" x2="441" y2="1118"><stop stop-color="#f39322"/><stop offset="1" stop-color="#f9b628"/></linearGradient><linearGradient id="qC93" gradientUnits="userSpaceOnUse" x1="417" y1="1124" x2="426" y2="1109"><stop stop-color="#f6a024"/><stop offset="1" stop-color="#fcc42a"/></linearGradient><linearGradient id="qC94" gradientUnits="userSpaceOnUse" x1="402" y1="1116" x2="411" y2="1100"><stop stop-color="#f8af27"/><stop offset="1" stop-color="#ffd42c"/></linearGradient><linearGradient id="qC95" gradientUnits="userSpaceOnUse" x1="386" y1="1106" x2="395" y2="1091"><stop stop-color="#fbbf29"/><stop offset="1" stop-color="#ffe62f"/></linearGradient><linearGradient id="qC96" gradientUnits="userSpaceOnUse" x1="370" y1="1097" x2="380" y2="1081"><stop stop-color="#fed22c"/><stop offset="1" stop-color="#fff932"/></linearGradient><linearGradient id="qC97" gradientUnits="userSpaceOnUse" x1="581" y1="1173" x2="585" y2="1158"><stop stop-color="#f49523"/><stop offset="1" stop-color="#f9b427"/></linearGradient><linearGradient id="qC98" gradientUnits="userSpaceOnUse" x1="563" y1="1168" x2="568" y2="1153"><stop stop-color="#f39122"/><stop offset="1" stop-color="#f9b127"/></linearGradient><linearGradient id="qC99" gradientUnits="userSpaceOnUse" x1="546" y1="1163" x2="551" y2="1147"><stop stop-color="#f38f22"/><stop offset="1" stop-color="#f9b127"/></linearGradient><linearGradient id="qC100" gradientUnits="userSpaceOnUse" x1="529" y1="1157" x2="535" y2="1141"><stop stop-color="#f39022"/><stop offset="1" stop-color="#f9b327"/></linearGradient><linearGradient id="qC101" gradientUnits="userSpaceOnUse" x1="512" y1="1151" x2="519" y2="1135"><stop stop-color="#f39322"/><stop offset="1" stop-color="#fab728"/></linearGradient><linearGradient id="qC102" gradientUnits="userSpaceOnUse" x1="495" y1="1144" x2="503" y2="1128"><stop stop-color="#f49823"/><stop offset="1" stop-color="#fbbe29"/></linearGradient><linearGradient id="qC103" gradientUnits="userSpaceOnUse" x1="479" y1="1136" x2="487" y2="1120"><stop stop-color="#f6a024"/><stop offset="1" stop-color="#fcc72a"/></linearGradient><linearGradient id="qC104" gradientUnits="userSpaceOnUse" x1="462" y1="1129" x2="471" y2="1112"><stop stop-color="#f7aa26"/><stop offset="1" stop-color="#fed22c"/></linearGradient><linearGradient id="qC105" gradientUnits="userSpaceOnUse" x1="446" y1="1120" x2="455" y2="1104"><stop stop-color="#f9b628"/><stop offset="1" stop-color="#ffdf2e"/></linearGradient><linearGradient id="qC106" gradientUnits="userSpaceOnUse" x1="430" y1="1112" x2="440" y2="1095"><stop stop-color="#fcc42a"/><stop offset="1" stop-color="#ffef30"/></linearGradient><linearGradient id="qC107" gradientUnits="userSpaceOnUse" x1="414" y1="1102" x2="424" y2="1086"><stop stop-color="#ffd42c"/><stop offset="1" stop-color="#ffff33"/></linearGradient><linearGradient id="qC108" gradientUnits="userSpaceOnUse" x1="648" y1="1171" x2="651" y2="1156"><stop stop-color="#fece2b"/><stop offset="1" stop-color="#fff031"/></linearGradient><linearGradient id="qC109" gradientUnits="userSpaceOnUse" x1="630" y1="1168" x2="633" y2="1153"><stop stop-color="#fcc32a"/><stop offset="1" stop-color="#ffe62f"/></linearGradient><linearGradient id="qC110" gradientUnits="userSpaceOnUse" x1="612" y1="1165" x2="616" y2="1148"><stop stop-color="#faba28"/><stop offset="1" stop-color="#ffdf2e"/></linearGradient><linearGradient id="qC111" gradientUnits="userSpaceOnUse" x1="594" y1="1160" x2="599" y2="1144"><stop stop-color="#f9b427"/><stop offset="1" stop-color="#ffdb2d"/></linearGradient><linearGradient id="qC112" gradientUnits="userSpaceOnUse" x1="576" y1="1156" x2="582" y2="1139"><stop stop-color="#f9b127"/><stop offset="1" stop-color="#ffd92d"/></linearGradient><linearGradient id="qC113" gradientUnits="userSpaceOnUse" x1="559" y1="1150" x2="565" y2="1133"><stop stop-color="#f9b127"/><stop offset="1" stop-color="#ffda2d"/></linearGradient><linearGradient id="qC114" gradientUnits="userSpaceOnUse" x1="542" y1="1144" x2="549" y2="1126"><stop stop-color="#f9b327"/><stop offset="1" stop-color="#ffdd2e"/></linearGradient><linearGradient id="qC115" gradientUnits="userSpaceOnUse" x1="525" y1="1137" x2="532" y2="1120"><stop stop-color="#fab728"/><stop offset="1" stop-color="#ffe32f"/></linearGradient><linearGradient id="qC116" gradientUnits="userSpaceOnUse" x1="508" y1="1130" x2="516" y2="1112"><stop stop-color="#fbbe29"/><stop offset="1" stop-color="#ffeb30"/></linearGradient><linearGradient id="qC117" gradientUnits="userSpaceOnUse" x1="492" y1="1122" x2="500" y2="1105"><stop stop-color="#fcc72a"/><stop offset="1" stop-color="#fff531"/></linearGradient><linearGradient id="qC118" gradientUnits="userSpaceOnUse" x1="475" y1="1114" x2="485" y2="1097"><stop stop-color="#fed22c"/><stop offset="1" stop-color="#ffff33"/></linearGradient><linearGradient id="qC119" gradientUnits="userSpaceOnUse" x1="607" y1="1146" x2="612" y2="1128"><stop stop-color="#ffda2d"/><stop offset="1" stop-color="#ffff34"/></linearGradient><linearGradient id="qC120" gradientUnits="userSpaceOnUse" x1="589" y1="1141" x2="596" y2="1122"><stop stop-color="#ffd92d"/><stop offset="1" stop-color="#ffff34"/></linearGradient><linearGradient id="qC121" gradientUnits="userSpaceOnUse" x1="572" y1="1135" x2="579" y2="1117"><stop stop-color="#ffda2d"/><stop offset="1" stop-color="#ffff35"/></linearGradient><linearGradient id="qC122" gradientUnits="userSpaceOnUse" x1="555" y1="1129" x2="562" y2="1110"><stop stop-color="#ffdd2e"/><stop offset="1" stop-color="#ffff35"/></linearGradient><linearGradient id="qC123" gradientUnits="userSpaceOnUse" x1="594" y1="1075" x2="603" y2="1052"><stop stop-color="#cbff3a"/><stop offset="1" stop-color="#a4ff3d"/></linearGradient><linearGradient id="qC124" gradientUnits="userSpaceOnUse" x1="576" y1="1067" x2="587" y2="1045"><stop stop-color="#c5ff3a"/><stop offset="1" stop-color="#9fff3d"/></linearGradient><linearGradient id="qC125" gradientUnits="userSpaceOnUse" x1="475" y1="983" x2="489" y2="962"><stop stop-color="#94ff4f"/><stop offset="1" stop-color="#90ff83"/></linearGradient><linearGradient id="qC126" gradientUnits="userSpaceOnUse" x1="459" y1="973" x2="473" y2="952"><stop stop-color="#92ff53"/><stop offset="1" stop-color="#90ff9c"/></linearGradient><linearGradient id="qC127" gradientUnits="userSpaceOnUse" x1="443" y1="962" x2="458" y2="941"><stop stop-color="#91ff68"/><stop offset="1" stop-color="#8fffb6"/></linearGradient><linearGradient id="qC128" gradientUnits="userSpaceOnUse" x1="551" y1="999" x2="564" y2="975"><stop stop-color="#94ff4f"/><stop offset="1" stop-color="#90ff80"/></linearGradient><linearGradient id="qC129" gradientUnits="userSpaceOnUse" x1="535" y1="990" x2="549" y2="966"><stop stop-color="#93ff51"/><stop offset="1" stop-color="#90ff93"/></linearGradient><linearGradient id="qC130" gradientUnits="userSpaceOnUse" x1="519" y1="980" x2="533" y2="957"><stop stop-color="#91ff57"/><stop offset="1" stop-color="#90ffa7"/></linearGradient><linearGradient id="qC131" gradientUnits="userSpaceOnUse" x1="503" y1="971" x2="517" y2="948"><stop stop-color="#91ff6d"/><stop offset="1" stop-color="#8fffbe"/></linearGradient><linearGradient id="qC132" gradientUnits="userSpaceOnUse" x1="487" y1="961" x2="502" y2="938"><stop stop-color="#90ff84"/><stop offset="1" stop-color="#8fffd5"/></linearGradient><linearGradient id="qC133" gradientUnits="userSpaceOnUse" x1="471" y1="950" x2="486" y2="928"><stop stop-color="#90ff9c"/><stop offset="1" stop-color="#8effee"/></linearGradient><linearGradient id="qC134" gradientUnits="userSpaceOnUse" x1="456" y1="940" x2="471" y2="918"><stop stop-color="#8fffb6"/><stop offset="1" stop-color="#89ffff"/></linearGradient></defs>
<g stroke="#0d0d0d" stroke-width="1.6" stroke-linejoin="round">
<path d="M455.8 939.7L468.1 916L452.7 905.2L440.5 929Z" fill="url(#qC134)"/>
<path d="M443.5 962.4L455.8 939.7L440.5 929L428.2 951.6Z" fill="url(#qC127)"/>
<path d="M471.3 950.2L483.6 926.5L468.1 916L455.8 939.7Z" fill="url(#qC133)"/>
<path d="M431.1 984L443.5 962.4L428.2 951.6L415.8 973.2Z" fill="#93ff51"/>
<path d="M458.9 972.9L471.3 950.2L455.8 939.7L443.5 962.4Z" fill="url(#qC126)"/>
<path d="M486.9 960.5L499.3 936.7L483.6 926.5L471.3 950.2Z" fill="url(#qC132)"/>
<path d="M418.6 1004.4L431.1 984L415.8 973.2L403.4 993.6Z" fill="#98ff46"/>
<path d="M446.5 994.5L458.9 972.9L443.5 962.4L431.1 984Z" fill="#95ff4d"/>
<path d="M474.5 983.2L486.9 960.5L471.3 950.2L458.9 972.9Z" fill="url(#qC125)"/>
<path d="M502.8 970.5L515.2 946.7L499.3 936.7L486.9 960.5Z" fill="url(#qC131)"/>
<path d="M406.1 1023.5L418.6 1004.4L403.4 993.6L390.9 1012.8Z" fill="#a0ff3d"/>
<path d="M434 1014.8L446.5 994.5L431.1 984L418.6 1004.4Z" fill="#9aff43"/>
<path d="M462.1 1004.7L474.5 983.2L458.9 972.9L446.5 994.5Z" fill="#97ff4a"/>
<path d="M490.3 993.2L502.8 970.5L486.9 960.5L474.5 983.2Z" fill="#92ff52"/>
<path d="M393.5 1041.4L406.1 1023.5L390.9 1012.8L378.3 1030.8Z" fill="#c3ff3b"/>
<path d="M518.8 980.3L531.3 956.5L515.2 946.7L502.8 970.5Z" fill="url(#qC130)"/>
<path d="M421.5 1033.9L434 1014.8L418.6 1004.4L406.1 1023.5Z" fill="#aeff3c"/>
<path d="M449.6 1025L462.1 1004.7L446.5 994.5L434 1014.8Z" fill="#9cff3f"/>
<path d="M477.9 1014.7L490.3 993.2L474.5 983.2L462.1 1004.7Z" fill="#98ff46"/>
<path d="M506.3 1002.9L518.8 980.3L502.8 970.5L490.3 993.2Z" fill="#94ff4e"/>
<path d="M380.8 1057.9L393.5 1041.4L378.3 1030.8L365.6 1047.4Z" fill="#e3ff39"/>
<path d="M408.9 1051.7L421.5 1033.9L406.1 1023.5L393.5 1041.4Z" fill="#d1ff3a"/>
<path d="M535 989.7L547.6 965.9L531.3 956.5L518.8 980.3Z" fill="url(#qC129)"/>
<path d="M437 1044.1L449.6 1025L434 1014.8L421.5 1033.9Z" fill="#bbff3b"/>
<path d="M465.3 1035L477.9 1014.7L462.1 1004.7L449.6 1025Z" fill="#a2ff3d"/>
<path d="M493.8 1024.4L506.3 1002.9L490.3 993.2L477.9 1014.7Z" fill="#9aff43"/>
<path d="M368 1073L380.8 1057.9L365.6 1047.4L352.8 1062.6Z" fill="#ffff37"/>
<path d="M396.1 1068.2L408.9 1051.7L393.5 1041.4L380.8 1057.9Z" fill="#f0ff38"/>
<path d="M522.5 1012.3L535 989.7L518.8 980.3L506.3 1002.9Z" fill="#96ff4b"/>
<path d="M424.4 1061.8L437 1044.1L421.5 1033.9L408.9 1051.7Z" fill="#ddff39"/>
<path d="M551.5 998.8L564.1 975L547.6 965.9L535 989.7Z" fill="url(#qC128)"/>
<path d="M452.7 1053.9L465.3 1035L449.6 1025L437 1044.1Z" fill="#c7ff3a"/>
<path d="M481.2 1044.6L493.8 1024.4L477.9 1014.7L465.3 1035Z" fill="#aeff3c"/>
<path d="M355 1086.6L368 1073L352.8 1062.6L339.8 1076.4Z" fill="#fffa32"/>
<path d="M509.9 1033.7L522.5 1012.3L506.3 1002.9L493.8 1024.4Z" fill="#9cff40"/>
<path d="M383.3 1083.1L396.1 1068.2L380.8 1057.9L368 1073Z" fill="#ffff36"/>
<path d="M411.6 1078.1L424.4 1061.8L408.9 1051.7L396.1 1068.2Z" fill="#fcff37"/>
<path d="M538.8 1021.4L551.5 998.8L535 989.7L522.5 1012.3Z" fill="#97ff49"/>
<path d="M440 1071.5L452.7 1053.9L437 1044.1L424.4 1061.8Z" fill="#e9ff38"/>
<path d="M568.1 1007.5L580.8 983.8L564.1 975L551.5 998.8Z" fill="#92ff52"/>
<path d="M468.6 1063.4L481.2 1044.6L465.3 1035L452.7 1053.9Z" fill="#d2ff3a"/>
<path d="M342 1098.7L355 1086.6L339.8 1076.4L326.7 1088.6Z" fill="url(#qC88)"/>
<path d="M497.3 1053.8L509.9 1033.7L493.8 1024.4L481.2 1044.6Z" fill="#b8ff3b"/>
<path d="M370.4 1096.6L383.3 1083.1L368 1073L355 1086.6Z" fill="url(#qC96)"/>
<path d="M398.8 1092.9L411.6 1078.1L396.1 1068.2L383.3 1083.1Z" fill="#fffb32"/>
<path d="M526.2 1042.7L538.8 1021.4L522.5 1012.3L509.9 1033.7Z" fill="#9dff3e"/>
<path d="M427.3 1087.7L440 1071.5L424.4 1061.8L411.6 1078.1Z" fill="#ffff36"/>
<path d="M555.4 1030L568.1 1007.5L551.5 998.8L538.8 1021.4Z" fill="#99ff46"/>
<path d="M455.9 1080.9L468.6 1063.4L452.7 1053.9L440 1071.5Z" fill="#f3ff37"/>
<path d="M328.7 1109.1L342 1098.7L326.7 1088.6L313.5 1099.1Z" fill="#fab728"/>
<path d="M584.9 1015.9L597.7 992.2L580.8 983.8L568.1 1007.5Z" fill="#93ff50"/>
<path d="M484.6 1072.6L497.3 1053.8L481.2 1044.6L468.6 1063.4Z" fill="#dcff39"/>
<path d="M357.3 1108.5L370.4 1096.6L355 1086.6L342 1098.7Z" fill="url(#qC87)"/>
<path d="M513.5 1062.7L526.2 1042.7L509.9 1033.7L497.3 1053.8Z" fill="#c2ff3b"/>
<path d="M385.9 1106.3L398.8 1092.9L383.3 1083.1L370.4 1096.6Z" fill="url(#qC95)"/>
<path d="M414.5 1102.4L427.3 1087.7L411.6 1078.1L398.8 1092.9Z" fill="url(#qC107)"/>
<path d="M542.7 1051.3L555.4 1030L538.8 1021.4L526.2 1042.7Z" fill="#a4ff3d"/>
<path d="M443.1 1097L455.9 1080.9L440 1071.5L427.3 1087.7Z" fill="#ffff34"/>
<path d="M572.2 1038.3L584.9 1015.9L568.1 1007.5L555.4 1030Z" fill="#9aff44"/>
<path d="M315.4 1117.8L328.7 1109.1L313.5 1099.1L300.1 1108Z" fill="#f6a024"/>
<path d="M471.9 1090L484.6 1072.6L468.6 1063.4L455.9 1080.9Z" fill="#fcff37"/>
<path d="M344.1 1118.7L357.3 1108.5L342 1098.7L328.7 1109.1Z" fill="#f6a425"/>
<path d="M602 1023.8L614.8 1000.2L597.7 992.2L584.9 1015.9Z" fill="#95ff4e"/>
<path d="M500.8 1081.4L513.5 1062.7L497.3 1053.8L484.6 1072.6Z" fill="#e5ff38"/>
<path d="M372.8 1118L385.9 1106.3L370.4 1096.6L357.3 1108.5Z" fill="url(#qC86)"/>
<path d="M401.5 1115.5L414.5 1102.4L398.8 1092.9L385.9 1106.3Z" fill="url(#qC94)"/>
<path d="M530 1071.2L542.7 1051.3L526.2 1042.7L513.5 1062.7Z" fill="#caff3a"/>
<path d="M430.3 1111.5L443.1 1097L427.3 1087.7L414.5 1102.4Z" fill="url(#qC106)"/>
<path d="M559.4 1059.5L572.2 1038.3L555.4 1030L542.7 1051.3Z" fill="#acff3c"/>
<path d="M301.8 1124.6L315.4 1117.8L300.1 1108L286.5 1115.1Z" fill="#f39122"/>
<path d="M459.1 1105.9L471.9 1090L455.9 1080.9L443.1 1097Z" fill="#fff732"/>
<path d="M330.8 1127.2L344.1 1118.7L328.7 1109.1L315.4 1117.8Z" fill="#f38f22"/>
<path d="M589.2 1046.2L602 1023.8L584.9 1015.9L572.2 1038.3Z" fill="#9bff42"/>
<path d="M488.1 1098.6L500.8 1081.4L484.6 1072.6L471.9 1090Z" fill="#ffff36"/>
<path d="M359.7 1128L372.8 1118L357.3 1108.5L344.1 1118.7Z" fill="#f39322"/>
<path d="M619.3 1031.3L632.2 1007.7L614.8 1000.2L602 1023.8Z" fill="#96ff4c"/>
<path d="M517.3 1089.8L530 1071.2L513.5 1062.7L500.8 1081.4Z" fill="#edff38"/>
<path d="M388.5 1127.1L401.5 1115.5L385.9 1106.3L372.8 1118Z" fill="#f59f24"/>
<path d="M417.3 1124.5L430.3 1111.5L414.5 1102.4L401.5 1115.5Z" fill="url(#qC93)"/>
<path d="M546.7 1079.3L559.4 1059.5L542.7 1051.3L530 1071.2Z" fill="#d1ff3a"/>
<path d="M446.2 1120.2L459.1 1105.9L443.1 1097L430.3 1111.5Z" fill="url(#qC105)"/>
<path d="M288.1 1129.6L301.8 1124.6L286.5 1115.1L272.8 1120.3Z" fill="#f28a21"/>
<path d="M576.4 1067.3L589.2 1046.2L572.2 1038.3L559.4 1059.5Z" fill="url(#qC124)"/>
<path d="M317.3 1133.8L330.8 1127.2L315.4 1117.8L301.8 1124.6Z" fill="#f08120"/>
<path d="M475.3 1114.4L488.1 1098.6L471.9 1090L459.1 1105.9Z" fill="url(#qC118)"/>
<path d="M346.3 1136.2L359.7 1128L344.1 1118.7L330.8 1127.2Z" fill="#f07f1f"/>
<path d="M606.4 1053.6L619.3 1031.3L602 1023.8L589.2 1046.2Z" fill="#9cff41"/>
<path d="M504.5 1106.8L517.3 1089.8L500.8 1081.4L488.1 1098.6Z" fill="#ffff35"/>
<path d="M375.3 1136.9L388.5 1127.1L372.8 1118L359.7 1128Z" fill="#f18420"/>
<path d="M404.3 1135.8L417.3 1124.5L401.5 1115.5L388.5 1127.1Z" fill="#f39122"/>
<path d="M533.9 1097.7L546.7 1079.3L530 1071.2L517.3 1089.8Z" fill="#f3ff37"/>
<path d="M636.9 1038.4L649.9 1014.8L632.2 1007.7L619.3 1031.3Z" fill="#96ff4a"/>
<path d="M433.3 1133L446.2 1120.2L430.3 1111.5L417.3 1124.5Z" fill="url(#qC92)"/>
<path d="M274.2 1132.6L288.1 1129.6L272.8 1120.3L258.8 1123.6Z" fill="#f28b21"/>
<path d="M563.5 1087L576.4 1067.3L559.4 1059.5L546.7 1079.3Z" fill="#d8ff39"/>
<path d="M303.6 1138.6L317.3 1133.8L301.8 1124.6L288.1 1129.6Z" fill="#ef7b1f"/>
<path d="M462.4 1128.5L475.3 1114.4L459.1 1105.9L446.2 1120.2Z" fill="url(#qC104)"/>
<path d="M332.8 1142.6L346.3 1136.2L330.8 1127.2L317.3 1133.8Z" fill="#ee731d"/>
<path d="M593.5 1074.6L606.4 1053.6L589.2 1046.2L576.4 1067.3Z" fill="url(#qC123)"/>
<path d="M491.6 1122.4L504.5 1106.8L488.1 1098.6L475.3 1114.4Z" fill="url(#qC117)"/>
<path d="M362 1144.9L375.3 1136.9L359.7 1128L346.3 1136.2Z" fill="#ee721d"/>
<path d="M623.9 1060.6L636.9 1038.4L619.3 1031.3L606.4 1053.6Z" fill="#9cff3f"/>
<path d="M391.1 1145.4L404.3 1135.8L388.5 1127.1L375.3 1136.9Z" fill="#ef781e"/>
<path d="M521 1114.7L533.9 1097.7L517.3 1089.8L504.5 1106.8Z" fill="#ffff34"/>
<path d="M420.2 1144.1L433.3 1133L417.3 1124.5L404.3 1135.8Z" fill="#f18420"/>
<path d="M550.7 1105.2L563.5 1087L546.7 1079.3L533.9 1097.7Z" fill="#f9ff37"/>
<path d="M260 1133.6L274.2 1132.6L258.8 1123.6L244.6 1124.8Z" fill="#f49523"/>
<path d="M654.7 1044.9L667.8 1021.4L649.9 1014.8L636.9 1038.4Z" fill="#97ff49"/>
<path d="M449.4 1141.1L462.4 1128.5L446.2 1120.2L433.3 1133Z" fill="url(#qC91)"/>
<path d="M289.7 1141.3L303.6 1138.6L288.1 1129.6L274.2 1132.6Z" fill="#f07e1f"/>
<path d="M580.6 1094.2L593.5 1074.6L576.4 1067.3L563.5 1087Z" fill="#dcff39"/>
<path d="M319.2 1147.1L332.8 1142.6L317.3 1133.8L303.6 1138.6Z" fill="#ed6f1d"/>
<path d="M478.7 1136.4L491.6 1122.4L475.3 1114.4L462.4 1128.5Z" fill="url(#qC103)"/>
<path d="M348.6 1151L362 1144.9L346.3 1136.2L332.8 1142.6Z" fill="#ec671c"/>
<path d="M610.9 1081.4L623.9 1060.6L606.4 1053.6L593.5 1074.6Z" fill="#bcff3b"/>
<path d="M508.2 1130.1L521 1114.7L504.5 1106.8L491.6 1122.4Z" fill="url(#qC116)"/>
<path d="M377.8 1153.1L391.1 1145.4L375.3 1136.9L362 1144.9Z" fill="#ec661b"/>
<path d="M407.1 1153.4L420.2 1144.1L404.3 1135.8L391.1 1145.4Z" fill="#ed6d1c"/>
<path d="M537.8 1122L550.7 1105.2L533.9 1097.7L521 1114.7Z" fill="#fffb32"/>
<path d="M641.6 1067L654.7 1044.9L636.9 1038.4L623.9 1060.6Z" fill="#9dff3e"/>
<path d="M245.7 1132.3L260 1133.6L244.6 1124.8L230.1 1123.9Z" fill="#f7a826"/>
<path d="M436.4 1152L449.4 1141.1L433.3 1133L420.2 1144.1Z" fill="#ef7a1f"/>
<path d="M275.6 1142L289.7 1141.3L274.2 1132.6L260 1133.6Z" fill="#f28921"/>
<path d="M567.7 1112.3L580.6 1094.2L563.5 1087L550.7 1105.2Z" fill="#fdff37"/>
<path d="M672.7 1050.9L685.9 1027.5L667.8 1021.4L654.7 1044.9Z" fill="#97ff49"/>
<path d="M305.4 1149.6L319.2 1147.1L303.6 1138.6L289.7 1141.3Z" fill="#ee731d"/>
<path d="M465.7 1148.8L478.7 1136.4L462.4 1128.5L449.4 1141.1Z" fill="url(#qC90)"/>
<path d="M334.9 1155.2L348.6 1151L332.8 1142.6L319.2 1147.1Z" fill="#eb641b"/>
<path d="M597.9 1100.9L610.9 1081.4L593.5 1074.6L580.6 1094.2Z" fill="#e0ff39"/>
<path d="M495.2 1143.9L508.2 1130.1L491.6 1122.4L478.7 1136.4Z" fill="url(#qC102)"/>
<path d="M364.4 1159L377.8 1153.1L362 1144.9L348.6 1151Z" fill="#ea5d1a"/>
<path d="M393.8 1161L407.1 1153.4L391.1 1145.4L377.8 1153.1Z" fill="#ea5d1a"/>
<path d="M524.9 1137.2L537.8 1122L521 1114.7L508.2 1130.1Z" fill="url(#qC115)"/>
<path d="M628.5 1087.7L641.6 1067L623.9 1060.6L610.9 1081.4Z" fill="#bfff3b"/>
<path d="M231 1128.8L245.7 1132.3L230.1 1123.9L215.4 1120.7Z" fill="url(#qC76)"/>
<path d="M423.2 1161.1L436.4 1152L420.2 1144.1L407.1 1153.4Z" fill="#eb641b"/>
<path d="M554.8 1128.9L567.7 1112.3L550.7 1105.2L537.8 1122Z" fill="url(#qC122)"/>
<path d="M261.3 1140.4L275.6 1142L260 1133.6L245.7 1132.3Z" fill="#f59d24"/>
<path d="M659.6 1072.9L672.7 1050.9L654.7 1044.9L641.6 1067Z" fill="#9dff3e"/>
<path d="M452.7 1159.4L465.7 1148.8L449.4 1141.1L436.4 1152Z" fill="#ee721d"/>
<path d="M291.3 1149.9L305.4 1149.6L289.7 1141.3L275.6 1142Z" fill="#f07f1f"/>
<path d="M585 1118.8L597.9 1100.9L580.6 1094.2L567.7 1112.3Z" fill="#ffff37"/>
<path d="M321.1 1157.4L334.9 1155.2L319.2 1147.1L305.4 1149.6Z" fill="#ec691c"/>
<path d="M482.2 1156L495.2 1143.9L478.7 1136.4L465.7 1148.8Z" fill="url(#qC89)"/>
<path d="M691.1 1056.4L704.4 1033.1L685.9 1027.5L672.7 1050.9Z" fill="#97ff48"/>
<path d="M350.8 1162.9L364.4 1159L348.6 1151L334.9 1155.2Z" fill="#ea5b1a"/>
<path d="M615.5 1107L628.5 1087.7L610.9 1081.4L597.9 1100.9Z" fill="#e2ff39"/>
<path d="M511.9 1150.8L524.9 1137.2L508.2 1130.1L495.2 1143.9Z" fill="url(#qC101)"/>
<path d="M380.4 1166.6L393.8 1161L377.8 1153.1L364.4 1159Z" fill="#e85519"/>
<path d="M409.9 1168.3L423.2 1161.1L407.1 1153.4L393.8 1161Z" fill="#e95619"/>
<path d="M541.8 1143.9L554.8 1128.9L537.8 1122L524.9 1137.2Z" fill="url(#qC114)"/>
<path d="M216.1 1122.9L231 1128.8L215.4 1120.7L200.4 1115.1Z" fill="url(#qC66)"/>
<path d="M646.4 1093.5L659.6 1072.9L641.6 1067L628.5 1087.7Z" fill="#c0ff3b"/>
<path d="M246.7 1136.6L261.3 1140.4L245.7 1132.3L231 1128.8Z" fill="url(#qC75)"/>
<path d="M439.5 1168.2L452.7 1159.4L436.4 1152L423.2 1161.1Z" fill="#ea5e1a"/>
<path d="M277.1 1148.1L291.3 1149.9L275.6 1142L261.3 1140.4Z" fill="#f49423"/>
<path d="M572 1135.2L585 1118.8L567.7 1112.3L554.8 1128.9Z" fill="url(#qC121)"/>
<path d="M307.1 1157.4L321.1 1157.4L305.4 1149.6L291.3 1149.9Z" fill="#ef771e"/>
<path d="M469.1 1166.4L482.2 1156L465.7 1148.8L452.7 1159.4Z" fill="#ed6d1c"/>
<path d="M677.8 1078.2L691.1 1056.4L672.7 1050.9L659.6 1072.9Z" fill="#9dff3e"/>
<path d="M337 1164.8L350.8 1162.9L334.9 1155.2L321.1 1157.4Z" fill="#eb621b"/>
<path d="M602.5 1124.8L615.5 1107L597.9 1100.9L585 1118.8Z" fill="#ffff37"/>
<path d="M498.9 1162.7L511.9 1150.8L495.2 1143.9L482.2 1156Z" fill="#f18320"/>
<path d="M366.8 1170.2L380.4 1166.6L364.4 1159L350.8 1162.9Z" fill="#e85519"/>
<path d="M709.7 1061.2L723.1 1038L704.4 1033.1L691.1 1056.4Z" fill="#97ff48"/>
<path d="M396.5 1173.6L409.9 1168.3L393.8 1161L380.4 1166.6Z" fill="#e85018"/>
<path d="M528.8 1157.2L541.8 1143.9L524.9 1137.2L511.9 1150.8Z" fill="url(#qC100)"/>
<path d="M633.3 1112.6L646.4 1093.5L628.5 1087.7L615.5 1107Z" fill="#e3ff39"/>
<path d="M200.9 1114.6L216.1 1122.9L200.4 1115.1L185.1 1107.1Z" fill="#eaff38"/>
<path d="M426.2 1175.2L439.5 1168.2L423.2 1161.1L409.9 1168.3Z" fill="#e85018"/>
<path d="M231.9 1130.3L246.7 1136.6L231 1128.8L216.1 1122.9Z" fill="url(#qC65)"/>
<path d="M559 1150L572 1135.2L554.8 1128.9L541.8 1143.9Z" fill="url(#qC113)"/>
<path d="M262.6 1143.9L277.1 1148.1L261.3 1140.4L246.7 1136.6Z" fill="url(#qC74)"/>
<path d="M664.6 1098.7L677.8 1078.2L659.6 1072.9L646.4 1093.5Z" fill="#c0ff3b"/>
<path d="M456 1174.9L469.1 1166.4L452.7 1159.4L439.5 1168.2Z" fill="#e95919"/>
<path d="M292.9 1155.3L307.1 1157.4L291.3 1149.9L277.1 1148.1Z" fill="#f28e22"/>
<path d="M323.1 1164.5L337 1164.8L321.1 1157.4L307.1 1157.4Z" fill="#ed711d"/>
<path d="M589.4 1141L602.5 1124.8L585 1118.8L572 1135.2Z" fill="url(#qC120)"/>
<path d="M485.8 1172.8L498.9 1162.7L482.2 1156L469.1 1166.4Z" fill="#ec691c"/>
<path d="M696.3 1082.9L709.7 1061.2L691.1 1056.4L677.8 1078.2Z" fill="#9dff3e"/>
<path d="M353.1 1171.7L366.8 1170.2L350.8 1162.9L337 1164.8Z" fill="#ea5d1a"/>
<path d="M620.2 1130.2L633.3 1112.6L615.5 1107L602.5 1124.8Z" fill="#ffff37"/>
<path d="M515.8 1168.8L528.8 1157.2L511.9 1150.8L498.9 1162.7Z" fill="#f0811f"/>
<path d="M383 1177L396.5 1173.6L380.4 1166.6L366.8 1170.2Z" fill="#e85018"/>
<path d="M185.4 1103.6L200.9 1114.6L185.1 1107.1L169.5 1096.4Z" fill="#cbff3a"/>
<path d="M412.8 1180.2L426.2 1175.2L409.9 1168.3L396.5 1173.6Z" fill="#e85018"/>
<path d="M728.6 1065.4L742.2 1042.3L723.1 1038L709.7 1061.2Z" fill="#97ff49"/>
<path d="M545.9 1163.1L559 1150L541.8 1143.9L528.8 1157.2Z" fill="url(#qC99)"/>
<path d="M216.8 1121.6L231.9 1130.3L216.1 1122.9L200.9 1114.6Z" fill="#eeff38"/>
<path d="M651.4 1117.6L664.6 1098.7L646.4 1093.5L633.3 1112.6Z" fill="#e2ff39"/>
<path d="M247.8 1137.3L262.6 1143.9L246.7 1136.6L231.9 1130.3Z" fill="#ffff36"/>
<path d="M442.7 1181.6L456 1174.9L439.5 1168.2L426.2 1175.2Z" fill="#e85018"/>
<path d="M278.5 1150.7L292.9 1155.3L277.1 1148.1L262.6 1143.9Z" fill="url(#qC73)"/>
<path d="M576.3 1155.5L589.4 1141L572 1135.2L559 1150Z" fill="url(#qC112)"/>
<path d="M308.9 1162L323.1 1164.5L307.1 1157.4L292.9 1155.3Z" fill="#f28a21"/>
<path d="M472.6 1181.1L485.8 1172.8L469.1 1166.4L456 1174.9Z" fill="#e95719"/>
<path d="M683 1103.2L696.3 1082.9L677.8 1078.2L664.6 1098.7Z" fill="#bfff3b"/>
<path d="M339.2 1171.1L353.1 1171.7L337 1164.8L323.1 1164.5Z" fill="#ed6e1d"/>
<path d="M607.1 1146.2L620.2 1130.2L602.5 1124.8L589.4 1141Z" fill="url(#qC119)"/>
<path d="M502.6 1178.7L515.8 1168.8L498.9 1162.7L485.8 1172.8Z" fill="#ec681c"/>
<path d="M369.3 1178.2L383 1177L366.8 1170.2L353.1 1171.7Z" fill="#e95a1a"/>
<path d="M715.1 1087L728.6 1065.4L709.7 1061.2L696.3 1082.9Z" fill="#9dff3f"/>
<path d="M399.3 1183.2L412.8 1180.2L396.5 1173.6L383 1177Z" fill="#e85018"/>
<path d="M532.8 1174.5L545.9 1163.1L528.8 1157.2L515.8 1168.8Z" fill="#f08120"/>
<path d="M169.5 1089.9L185.4 1103.6L169.5 1096.4L153.6 1083.1Z" fill="#a6ff3c"/>
<path d="M638.2 1135L651.4 1117.6L633.3 1112.6L620.2 1130.2Z" fill="#ffff37"/>
<path d="M201.4 1110.3L216.8 1121.6L200.9 1114.6L185.4 1103.6Z" fill="#ceff3a"/>
<path d="M429.3 1186.3L442.7 1181.6L426.2 1175.2L412.8 1180.2Z" fill="#e85018"/>
<path d="M232.8 1128.2L247.8 1137.3L231.9 1130.3L216.8 1121.6Z" fill="#f0ff38"/>
<path d="M563.2 1168.4L576.3 1155.5L559 1150L545.9 1163.1Z" fill="url(#qC98)"/>
<path d="M263.8 1143.8L278.5 1150.7L262.6 1143.9L247.8 1137.3Z" fill="#ffff35"/>
<path d="M747.9 1068.9L761.5 1046L742.2 1042.3L728.6 1065.4Z" fill="#97ff4a"/>
<path d="M669.7 1122L683 1103.2L664.6 1098.7L651.4 1117.6Z" fill="#e0ff39"/>
<path d="M459.3 1187.4L472.6 1181.1L456 1174.9L442.7 1181.6Z" fill="#e85018"/>
<path d="M294.6 1157.1L308.9 1162L292.9 1155.3L278.5 1150.7Z" fill="url(#qC72)"/>
<path d="M325.1 1168.2L339.2 1171.1L323.1 1164.5L308.9 1162Z" fill="#f18721"/>
<path d="M593.9 1160.5L607.1 1146.2L589.4 1141L576.3 1155.5Z" fill="url(#qC111)"/>
<path d="M489.4 1186.7L502.6 1178.7L485.8 1172.8L472.6 1181.1Z" fill="#e95819"/>
<path d="M355.4 1177.2L369.3 1178.2L353.1 1171.7L339.2 1171.1Z" fill="#ed6c1c"/>
<path d="M701.7 1107.1L715.1 1087L696.3 1082.9L683 1103.2Z" fill="#bcff3b"/>
<path d="M519.7 1184L532.8 1174.5L515.8 1168.8L502.6 1178.7Z" fill="#ec6a1c"/>
<path d="M385.6 1184.1L399.3 1183.2L383 1177L369.3 1178.2Z" fill="#e95919"/>
<path d="M625 1150.7L638.2 1135L620.2 1130.2L607.1 1146.2Z" fill="#fff431"/>
<path d="M153.3 1073.3L169.5 1089.9L153.6 1083.1L137.2 1066.9Z" fill="#99ff46"/>
<path d="M185.6 1096.1L201.4 1110.3L185.4 1103.6L169.5 1089.9Z" fill="#a8ff3c"/>
<path d="M415.8 1188.9L429.3 1186.3L412.8 1180.2L399.3 1183.2Z" fill="#e85018"/>
<path d="M734.3 1090.3L747.9 1068.9L728.6 1065.4L715.1 1087Z" fill="#9cff40"/>
<path d="M217.5 1116.5L232.8 1128.2L216.8 1121.6L201.4 1110.3Z" fill="#cfff3a"/>
<path d="M550.1 1179.5L563.2 1168.4L545.9 1163.1L532.8 1174.5Z" fill="#f18320"/>
<path d="M656.4 1139.1L669.7 1122L651.4 1117.6L638.2 1135Z" fill="#fdff37"/>
<path d="M248.9 1134.3L263.8 1143.8L247.8 1137.3L232.8 1128.2Z" fill="#f1ff38"/>
<path d="M445.9 1191.8L459.3 1187.4L442.7 1181.6L429.3 1186.3Z" fill="#e85018"/>
<path d="M280 1149.8L294.6 1157.1L278.5 1150.7L263.8 1143.8Z" fill="#ffff35"/>
<path d="M580.8 1173.1L593.9 1160.5L576.3 1155.5L563.2 1168.4Z" fill="url(#qC97)"/>
<path d="M310.8 1162.9L325.1 1168.2L308.9 1162L294.6 1157.1Z" fill="url(#qC71)"/>
<path d="M476.1 1192.7L489.4 1186.7L472.6 1181.1L459.3 1187.4Z" fill="#e85018"/>
<path d="M767.4 1071.7L781.3 1048.9L761.5 1046L747.9 1068.9Z" fill="#96ff4b"/>
<path d="M688.3 1125.6L701.7 1107.1L683 1103.2L669.7 1122Z" fill="#dcff39"/>
<path d="M341.4 1173.9L355.4 1177.2L339.2 1171.1L325.1 1168.2Z" fill="url(#qC83)"/>
<path d="M611.8 1164.8L625 1150.7L607.1 1146.2L593.9 1160.5Z" fill="url(#qC110)"/>
<path d="M506.5 1191.7L519.7 1184L502.6 1178.7L489.4 1186.7Z" fill="#ea5b1a"/>
<path d="M371.8 1182.7L385.6 1184.1L369.3 1178.2L355.4 1177.2Z" fill="#ed6d1c"/>
<path d="M720.7 1110.3L734.3 1090.3L715.1 1087L701.7 1107.1Z" fill="#b7ff3b"/>
<path d="M402.1 1189.4L415.8 1188.9L399.3 1183.2L385.6 1184.1Z" fill="#ea5b1a"/>
<path d="M136.7 1053.7L153.3 1073.3L137.2 1066.9L120.5 1047.7Z" fill="url(#qC38)"/>
<path d="M536.9 1188.7L550.1 1179.5L532.8 1174.5L519.7 1184Z" fill="#ed6e1d"/>
<path d="M169.5 1079.2L185.6 1096.1L169.5 1089.9L153.3 1073.3Z" fill="#99ff46"/>
<path d="M643.1 1154.6L656.4 1139.1L638.2 1135L625 1150.7Z" fill="#fffa32"/>
<path d="M201.8 1102L217.5 1116.5L201.4 1110.3L185.6 1096.1Z" fill="#a9ff3c"/>
<path d="M432.4 1194.1L445.9 1191.8L429.3 1186.3L415.8 1188.9Z" fill="#e85118"/>
<path d="M233.6 1122.2L248.9 1134.3L232.8 1128.2L217.5 1116.5Z" fill="#d0ff3a"/>
<path d="M265.1 1139.9L280 1149.8L263.8 1143.8L248.9 1134.3Z" fill="#f2ff38"/>
<path d="M567.6 1183.9L580.8 1173.1L563.2 1168.4L550.1 1179.5Z" fill="#f28921"/>
<path d="M753.7 1093L767.4 1071.7L747.9 1068.9L734.3 1090.3Z" fill="#9bff41"/>
<path d="M462.8 1196.7L476.1 1192.7L459.3 1187.4L445.9 1191.8Z" fill="#e85018"/>
<path d="M296.2 1155.2L310.8 1162.9L294.6 1157.1L280 1149.8Z" fill="#ffff35"/>
<path d="M674.9 1142.6L688.3 1125.6L669.7 1122L656.4 1139.1Z" fill="#f9ff37"/>
<path d="M327.1 1168.3L341.4 1173.9L325.1 1168.2L310.8 1162.9Z" fill="url(#qC70)"/>
<path d="M598.6 1177.1L611.8 1164.8L593.9 1160.5L580.8 1173.1Z" fill="#f7aa26"/>
<path d="M493.2 1197.4L506.5 1191.7L489.4 1186.7L476.1 1192.7Z" fill="#e85419"/>
<path d="M357.8 1179.1L371.8 1182.7L355.4 1177.2L341.4 1173.9Z" fill="url(#qC82)"/>
<path d="M787.4 1073.7L801.3 1051L781.3 1048.9L767.4 1071.7Z" fill="#95ff4d"/>
<path d="M707.2 1128.6L720.7 1110.3L701.7 1107.1L688.3 1125.6Z" fill="#d7ff39"/>
<path d="M388.3 1187.7L402.1 1189.4L385.6 1184.1L371.8 1182.7Z" fill="#ed701d"/>
<path d="M523.7 1196.1L536.9 1188.7L519.7 1184L506.5 1191.7Z" fill="#eb601b"/>
<path d="M629.9 1168.4L643.1 1154.6L625 1150.7L611.8 1164.8Z" fill="url(#qC109)"/>
<path d="M119.7 1031L136.7 1053.7L120.5 1047.7L103.3 1025.4Z" fill="url(#qC18)"/>
<path d="M153.1 1059.2L169.5 1079.2L153.3 1073.3L136.7 1053.7Z" fill="url(#qC37)"/>
<path d="M418.8 1194.2L432.4 1194.1L415.8 1188.9L402.1 1189.4Z" fill="#ea5f1a"/>
<path d="M185.8 1084.6L201.8 1102L185.6 1096.1L169.5 1079.2Z" fill="#99ff46"/>
<path d="M218.1 1107.2L233.6 1122.2L217.5 1116.5L201.8 1102Z" fill="#a9ff3c"/>
<path d="M554.4 1192.8L567.6 1183.9L550.1 1179.5L536.9 1188.7Z" fill="#ee751e"/>
<path d="M740 1112.7L753.7 1093L734.3 1090.3L720.7 1110.3Z" fill="#b1ff3c"/>
<path d="M249.9 1127.3L265.1 1139.9L248.9 1134.3L233.6 1122.2Z" fill="#cfff3a"/>
<path d="M661.6 1157.8L674.9 1142.6L656.4 1139.1L643.1 1154.6Z" fill="#ffff34"/>
<path d="M449.3 1198.7L462.8 1196.7L445.9 1191.8L432.4 1194.1Z" fill="#e95619"/>
<path d="M281.4 1144.9L296.2 1155.2L280 1149.8L265.1 1139.9Z" fill="#f0ff38"/>
<path d="M585.4 1187.6L598.6 1177.1L580.8 1173.1L567.6 1183.9Z" fill="#f39022"/>
<path d="M312.6 1160.1L327.1 1168.3L310.8 1162.9L296.2 1155.2Z" fill="#ffff35"/>
<path d="M479.8 1201.1L493.2 1197.4L476.1 1192.7L462.8 1196.7Z" fill="#e85419"/>
<path d="M773.5 1094.8L787.4 1073.7L767.4 1071.7L753.7 1093Z" fill="#9aff43"/>
<path d="M693.7 1145.3L707.2 1128.6L688.3 1125.6L674.9 1142.6Z" fill="#f3ff37"/>
<path d="M343.6 1173L357.8 1179.1L341.4 1173.9L327.1 1168.3Z" fill="url(#qC69)"/>
<path d="M510.4 1201.4L523.7 1196.1L506.5 1191.7L493.2 1197.4Z" fill="#ea5b1a"/>
<path d="M616.6 1180.5L629.9 1168.4L611.8 1164.8L598.6 1177.1Z" fill="#f9b427"/>
<path d="M374.4 1183.7L388.3 1187.7L371.8 1182.7L357.8 1179.1Z" fill="url(#qC81)"/>
<path d="M405 1192.1L418.8 1194.2L402.1 1189.4L388.3 1187.7Z" fill="#ee761e"/>
<path d="M726.4 1130.8L740 1112.7L720.7 1110.3L707.2 1128.6Z" fill="#d0ff3a"/>
<path d="M136.2 1036.1L153.1 1059.2L136.7 1053.7L119.7 1031Z" fill="url(#qC17)"/>
<path d="M541.1 1199.8L554.4 1192.8L536.9 1188.7L523.7 1196.1Z" fill="#ec691c"/>
<path d="M169.5 1064.2L185.8 1084.6L169.5 1079.2L153.1 1059.2Z" fill="url(#qC36)"/>
<path d="M648.2 1171.4L661.6 1157.8L643.1 1154.6L629.9 1168.4Z" fill="url(#qC108)"/>
<path d="M202.2 1089.5L218.1 1107.2L201.8 1102L185.8 1084.6Z" fill="#99ff46"/>
<path d="M435.6 1198.4L449.3 1198.7L432.4 1194.1L418.8 1194.2Z" fill="#eb651b"/>
<path d="M234.5 1112L249.9 1127.3L233.6 1122.2L218.1 1107.2Z" fill="#a7ff3c"/>
<path d="M266.4 1132L281.4 1144.9L265.1 1139.9L249.9 1127.3Z" fill="url(#qC62)"/>
<path d="M572.1 1196.2L585.4 1187.6L567.6 1183.9L554.4 1192.8Z" fill="#f07e1f"/>
<path d="M466.3 1202.6L479.8 1201.1L462.8 1196.7L449.3 1198.7Z" fill="#ea5d1a"/>
<path d="M759.7 1114.3L773.5 1094.8L753.7 1093L740 1112.7Z" fill="#a9ff3c"/>
<path d="M297.9 1149.4L312.6 1160.1L296.2 1155.2L281.4 1144.9Z" fill="#eeff38"/>
<path d="M680.3 1160.3L693.7 1145.3L674.9 1142.6L661.6 1157.8Z" fill="#ffff36"/>
<path d="M329.1 1164.5L343.6 1173L327.1 1168.3L312.6 1160.1Z" fill="#ffff36"/>
<path d="M603.3 1190.6L616.6 1180.5L598.6 1177.1L585.4 1187.6Z" fill="#f59b24"/>
<path d="M497 1204.7L510.4 1201.4L493.2 1197.4L479.8 1201.1Z" fill="#ea5d1a"/>
<path d="M360.2 1177.2L374.4 1183.7L357.8 1179.1L343.6 1173Z" fill="url(#qC68)"/>
<path d="M712.8 1147.3L726.4 1130.8L707.2 1128.6L693.7 1145.3Z" fill="#ebff38"/>
<path d="M391.1 1187.7L405 1192.1L388.3 1187.7L374.4 1183.7Z" fill="url(#qC80)"/>
<path d="M527.8 1204.8L541.1 1199.8L523.7 1196.1L510.4 1201.4Z" fill="#eb641b"/>
<path d="M634.9 1183.1L648.2 1171.4L629.9 1168.4L616.6 1180.5Z" fill="#fbc029"/>
<path d="M152.7 1040.7L169.5 1064.2L153.1 1059.2L136.2 1036.1Z" fill="url(#qC16)"/>
<path d="M421.9 1195.9L435.6 1198.4L418.8 1194.2L405 1192.1Z" fill="#f07e1f"/>
<path d="M186 1068.6L202.2 1089.5L185.8 1084.6L169.5 1064.2Z" fill="url(#qC35)"/>
<path d="M218.7 1093.8L234.5 1112L218.1 1107.2L202.2 1089.5Z" fill="#98ff46"/>
<path d="M558.8 1202.9L572.1 1196.2L554.4 1192.8L541.1 1199.8Z" fill="#ee741d"/>
<path d="M745.9 1132.2L759.7 1114.3L740 1112.7L726.4 1130.8Z" fill="#c7ff3a"/>
<path d="M251 1116.2L266.4 1132L249.9 1127.3L234.5 1112Z" fill="#a5ff3d"/>
<path d="M452.7 1201.9L466.3 1202.6L449.3 1198.7L435.6 1198.4Z" fill="#ed6e1d"/>
<path d="M666.9 1173.5L680.3 1160.3L661.6 1157.8L648.2 1171.4Z" fill="#ffec30"/>
<path d="M282.9 1136L297.9 1149.4L281.4 1144.9L266.4 1132Z" fill="url(#qC61)"/>
<path d="M590 1198.9L603.3 1190.6L585.4 1187.6L572.1 1196.2Z" fill="#f28a21"/>
<path d="M314.5 1153.3L329.1 1164.5L312.6 1160.1L297.9 1149.4Z" fill="#eaff38"/>
<path d="M483.5 1205.9L497 1204.7L479.8 1201.1L466.3 1202.6Z" fill="#ec671c"/>
<path d="M345.8 1168.2L360.2 1177.2L343.6 1173L329.1 1164.5Z" fill="#ffff36"/>
<path d="M699.3 1162L712.8 1147.3L693.7 1145.3L680.3 1160.3Z" fill="#ffff36"/>
<path d="M514.4 1207.7L527.8 1204.8L510.4 1201.4L497 1204.7Z" fill="#ec681c"/>
<path d="M621.6 1192.9L634.9 1183.1L616.6 1180.5L603.3 1190.6Z" fill="#f7a926"/>
<path d="M377 1180.8L391.1 1187.7L374.4 1183.7L360.2 1177.2Z" fill="url(#qC67)"/>
<path d="M408 1191L421.9 1195.9L405 1192.1L391.1 1187.7Z" fill="url(#qC79)"/>
<path d="M545.4 1207.5L558.8 1202.9L541.1 1199.8L527.8 1204.8Z" fill="#ed711d"/>
<path d="M732.3 1148.4L745.9 1132.2L726.4 1130.8L712.8 1147.3Z" fill="#e2ff39"/>
<path d="M169.4 1044.7L186 1068.6L169.5 1064.2L152.7 1040.7Z" fill="url(#qC15)"/>
<path d="M202.6 1072.5L218.7 1093.8L202.2 1089.5L186 1068.6Z" fill="url(#qC34)"/>
<path d="M653.5 1185L666.9 1173.5L648.2 1171.4L634.9 1183.1Z" fill="#fecf2c"/>
<path d="M438.9 1199L452.7 1201.9L435.6 1198.4L421.9 1195.9Z" fill="#fbbd29"/>
<path d="M235.3 1097.5L251 1116.2L234.5 1112L218.7 1093.8Z" fill="#98ff47"/>
<path d="M267.6 1119.8L282.9 1136L266.4 1132L251 1116.2Z" fill="#a1ff3d"/>
<path d="M576.7 1205.2L590 1198.9L572.1 1196.2L558.8 1202.9Z" fill="#f08120"/>
<path d="M469.9 1204.8L483.5 1205.9L466.3 1202.6L452.7 1201.9Z" fill="#ef7a1e"/>
<path d="M299.6 1139.5L314.5 1153.3L297.9 1149.4L282.9 1136Z" fill="url(#qC60)"/>
<path d="M685.8 1174.9L699.3 1162L680.3 1160.3L666.9 1173.5Z" fill="#fffd33"/>
<path d="M331.2 1156.6L345.8 1168.2L329.1 1164.5L314.5 1153.3Z" fill="#e5ff38"/>
<path d="M608.2 1200.9L621.6 1192.9L603.3 1190.6L590 1198.9Z" fill="#f59a23"/>
<path d="M500.9 1208.5L514.4 1207.7L497 1204.7L483.5 1205.9Z" fill="#ee741e"/>
<path d="M362.6 1171.4L377 1180.8L360.2 1177.2L345.8 1168.2Z" fill="#ffff37"/>
<path d="M718.6 1162.8L732.3 1148.4L712.8 1147.3L699.3 1162Z" fill="#f8ff37"/>
<path d="M393.9 1183.7L408 1191L391.1 1187.7L377 1180.8Z" fill="#fffe33"/>
<path d="M532 1210L545.4 1207.5L527.8 1204.8L514.4 1207.7Z" fill="#ee761e"/>
<path d="M640.1 1194.5L653.5 1185L634.9 1183.1L621.6 1192.9Z" fill="#fab928"/>
<path d="M425 1193.7L438.9 1199L421.9 1195.9L408 1191Z" fill="url(#qC78)"/>
<path d="M186.1 1048.1L202.6 1072.5L186 1068.6L169.4 1044.7Z" fill="url(#qC14)"/>
<path d="M219.4 1075.8L235.3 1097.5L218.7 1093.8L202.6 1072.5Z" fill="url(#qC33)"/>
<path d="M563.3 1209.5L576.7 1205.2L558.8 1202.9L545.4 1207.5Z" fill="#f0801f"/>
<path d="M252.1 1100.7L267.6 1119.8L251 1116.2L235.3 1097.5Z" fill="#97ff48"/>
<path d="M456.1 1201.5L469.9 1204.8L452.7 1201.9L438.9 1199Z" fill="url(#qC85)"/>
<path d="M672.3 1186L685.8 1174.9L666.9 1173.5L653.5 1185Z" fill="#ffe12e"/>
<path d="M284.4 1122.8L299.6 1139.5L282.9 1136L267.6 1119.8Z" fill="#9dff3d"/>
<path d="M316.4 1142.3L331.2 1156.6L314.5 1153.3L299.6 1139.5Z" fill="url(#qC59)"/>
<path d="M594.8 1206.8L608.2 1200.9L590 1198.9L576.7 1205.2Z" fill="#f39222"/>
<path d="M487.3 1207L500.9 1208.5L483.5 1205.9L469.9 1204.8Z" fill="#f28821"/>
<path d="M348.1 1159.3L362.6 1171.4L345.8 1168.2L331.2 1156.6Z" fill="#dfff39"/>
<path d="M705 1175.5L718.6 1162.8L699.3 1162L685.8 1174.9Z" fill="#ffff36"/>
<path d="M518.5 1210.4L532 1210L514.4 1207.7L500.9 1208.5Z" fill="#f18420"/>
<path d="M379.6 1173.8L393.9 1183.7L377 1180.8L362.6 1171.4Z" fill="#f9ff37"/>
<path d="M626.6 1202L640.1 1194.5L621.6 1192.9L608.2 1200.9Z" fill="#f8ac26"/>
<path d="M411 1185.9L425 1193.7L408 1191L393.9 1183.7Z" fill="#ffff35"/>
<path d="M549.8 1211.6L563.3 1209.5L545.4 1207.5L532 1210Z" fill="#f18720"/>
<path d="M203 1050.9L219.4 1075.8L202.6 1072.5L186.1 1048.1Z" fill="url(#qC13)"/>
<path d="M658.8 1195.2L672.3 1186L653.5 1185L640.1 1194.5Z" fill="#fecd2b"/>
<path d="M442.3 1195.7L456.1 1201.5L438.9 1199L425 1193.7Z" fill="url(#qC77)"/>
<path d="M236.2 1078.5L252.1 1100.7L235.3 1097.5L219.4 1075.8Z" fill="url(#qC32)"/>
<path d="M268.9 1103.2L284.4 1122.8L267.6 1119.8L252.1 1100.7Z" fill="#97ff4a"/>
<path d="M581.4 1210.6L594.8 1206.8L576.7 1205.2L563.3 1209.5Z" fill="#f39222"/>
<path d="M473.5 1203.2L487.3 1207L469.9 1204.8L456.1 1201.5Z" fill="url(#qC84)"/>
<path d="M301.3 1125.2L316.4 1142.3L299.6 1139.5L284.4 1122.8Z" fill="#9cff3f"/>
<path d="M691.4 1186.2L705 1175.5L685.8 1174.9L672.3 1186Z" fill="#fff732"/>
<path d="M333.3 1144.5L348.1 1159.3L331.2 1156.6L316.4 1142.3Z" fill="url(#qC58)"/>
<path d="M504.9 1208.4L518.5 1210.4L500.9 1208.5L487.3 1207Z" fill="#fece2b"/>
<path d="M613.2 1207.6L626.6 1202L608.2 1200.9L594.8 1206.8Z" fill="#f7a625"/>
<path d="M365.1 1161.3L379.6 1173.8L362.6 1171.4L348.1 1159.3Z" fill="#d7ff39"/>
<path d="M396.7 1175.6L411 1185.9L393.9 1183.7L379.6 1173.8Z" fill="#f1ff38"/>
<path d="M536.3 1211.5L549.8 1211.6L532 1210L518.5 1210.4Z" fill="#f49623"/>
<path d="M645.3 1202.4L658.8 1195.2L640.1 1194.5L626.6 1202Z" fill="#fbc129"/>
<path d="M428.2 1187.5L442.3 1195.7L425 1193.7L411 1185.9Z" fill="#ffff36"/>
<path d="M220 1053.2L236.2 1078.5L219.4 1075.8L203 1050.9Z" fill="url(#qC12)"/>
<path d="M567.9 1212.3L581.4 1210.6L563.3 1209.5L549.8 1211.6Z" fill="#f59b24"/>
<path d="M253.2 1080.6L268.9 1103.2L252.1 1100.7L236.2 1078.5Z" fill="url(#qC31)"/>
<path d="M459.7 1197L473.5 1203.2L456.1 1201.5L442.3 1195.7Z" fill="#ffff33"/>
<path d="M285.9 1105.1L301.3 1125.2L284.4 1122.8L268.9 1103.2Z" fill="#95ff4c"/>
<path d="M677.9 1195L691.4 1186.2L672.3 1186L658.8 1195.2Z" fill="#ffe42f"/>
<path d="M318.3 1126.9L333.3 1144.5L316.4 1142.3L301.3 1125.2Z" fill="#9bff41"/>
<path d="M599.7 1211L613.2 1207.6L594.8 1206.8L581.4 1210.6Z" fill="#f7a825"/>
<path d="M491.1 1204.2L504.9 1208.4L487.3 1207L473.5 1203.2Z" fill="#ffed30"/>
<path d="M350.4 1146L365.1 1161.3L348.1 1159.3L333.3 1144.5Z" fill="url(#qC57)"/>
<path d="M522.7 1209.1L536.3 1211.5L518.5 1210.4L504.9 1208.4Z" fill="#ffe22f"/>
<path d="M382.3 1162.6L396.7 1175.6L379.6 1173.8L365.1 1161.3Z" fill="#ceff3a"/>
<path d="M631.8 1207.5L645.3 1202.4L626.6 1202L613.2 1207.6Z" fill="#fbbc29"/>
<path d="M414 1176.6L428.2 1187.5L411 1185.9L396.7 1175.6Z" fill="#e7ff38"/>
<path d="M554.3 1211.8L567.9 1212.3L549.8 1211.6L536.3 1211.5Z" fill="#ffe02e"/>
<path d="M445.7 1188.3L459.7 1197L442.3 1195.7L428.2 1187.5Z" fill="#faff37"/>
<path d="M664.3 1201.8L677.9 1195L658.8 1195.2L645.3 1202.4Z" fill="#ffd92d"/>
<path d="M237 1054.8L253.2 1080.6L236.2 1078.5L220 1053.2Z" fill="url(#qC11)"/>
<path d="M270.2 1082L285.9 1105.1L268.9 1103.2L253.2 1080.6Z" fill="url(#qC30)"/>
<path d="M586.2 1212.3L599.7 1211L581.4 1210.6L567.9 1212.3Z" fill="#f9b227"/>
<path d="M477.3 1197.5L491.1 1204.2L473.5 1203.2L459.7 1197Z" fill="#ffff36"/>
<path d="M303 1106.4L318.3 1126.9L301.3 1125.2L285.9 1105.1Z" fill="#94ff4e"/>
<path d="M335.5 1127.9L350.4 1146L333.3 1144.5L318.3 1126.9Z" fill="#9aff44"/>
<path d="M508.9 1204.4L522.7 1209.1L504.9 1208.4L491.1 1204.2Z" fill="#ffff33"/>
<path d="M618.3 1210.5L631.8 1207.5L613.2 1207.6L599.7 1211Z" fill="#fbc029"/>
<path d="M367.7 1146.8L382.3 1162.6L365.1 1161.3L350.4 1146Z" fill="#a7ff3c"/>
<path d="M399.6 1163.2L414 1176.6L396.7 1175.6L382.3 1162.6Z" fill="url(#qC64)"/>
<path d="M540.7 1209L554.3 1211.8L536.3 1211.5L522.7 1209.1Z" fill="#fff932"/>
<path d="M650.8 1206.5L664.3 1201.8L645.3 1202.4L631.8 1207.5Z" fill="#ffd72d"/>
<path d="M431.5 1177L445.7 1188.3L428.2 1187.5L414 1176.6Z" fill="#dcff39"/>
<path d="M572.6 1211.3L586.2 1212.3L567.9 1212.3L554.3 1211.8Z" fill="#fff932"/>
<path d="M254.2 1055.7L270.2 1082L253.2 1080.6L237 1054.8Z" fill="url(#qC10)"/>
<path d="M463.3 1188.3L477.3 1197.5L459.7 1197L445.7 1188.3Z" fill="#eeff38"/>
<path d="M287.4 1082.7L303 1106.4L285.9 1105.1L270.2 1082Z" fill="url(#qC29)"/>
<path d="M320.3 1106.9L335.5 1127.9L318.3 1126.9L303 1106.4Z" fill="url(#qC48)"/>
<path d="M604.8 1211.3L618.3 1210.5L599.7 1211L586.2 1212.3Z" fill="#fdcb2b"/>
<path d="M495.1 1197.2L508.9 1204.4L491.1 1204.2L477.3 1197.5Z" fill="#fcff37"/>
<path d="M352.8 1128.2L367.7 1146.8L350.4 1146L335.5 1127.9Z" fill="#98ff46"/>
<path d="M385.1 1146.9L399.6 1163.2L382.3 1162.6L367.7 1146.8Z" fill="#9dff3e"/>
<path d="M527 1203.8L540.7 1209L522.7 1209.1L508.9 1204.4Z" fill="#ffff36"/>
<path d="M637.2 1209.1L650.8 1206.5L631.8 1207.5L618.3 1210.5Z" fill="#ffdc2e"/>
<path d="M417.2 1163L431.5 1177L414 1176.6L399.6 1163.2Z" fill="url(#qC63)"/>
<path d="M559 1208L572.6 1211.3L554.3 1211.8L540.7 1209Z" fill="#ffff36"/>
<path d="M449.2 1176.5L463.3 1188.3L445.7 1188.3L431.5 1177Z" fill="#cfff3a"/>
<path d="M271.5 1055.9L287.4 1082.7L270.2 1082L254.2 1055.7Z" fill="url(#qC9)"/>
<path d="M591.1 1209.9L604.8 1211.3L586.2 1212.3L572.6 1211.3Z" fill="#ffff36"/>
<path d="M304.8 1082.7L320.3 1106.9L303 1106.4L287.4 1082.7Z" fill="url(#qC28)"/>
<path d="M481.1 1187.5L495.1 1197.2L477.3 1197.5L463.3 1188.3Z" fill="#e1ff39"/>
<path d="M337.6 1106.7L352.8 1128.2L335.5 1127.9L320.3 1106.9Z" fill="url(#qC47)"/>
<path d="M513.1 1196.1L527 1203.8L508.9 1204.4L495.1 1197.2Z" fill="#eeff38"/>
<path d="M370.2 1127.8L385.1 1146.9L367.7 1146.8L352.8 1128.2Z" fill="#97ff4a"/>
<path d="M623.6 1209.5L637.2 1209.1L618.3 1210.5L604.8 1211.3Z" fill="#ffff36"/>
<path d="M402.6 1146.2L417.2 1163L399.6 1163.2L385.1 1146.9Z" fill="#9bff41"/>
<path d="M545.2 1202.3L559 1208L540.7 1209L527 1203.8Z" fill="#f6ff37"/>
<path d="M434.9 1162L449.2 1176.5L431.5 1177L417.2 1163Z" fill="#aaff3c"/>
<path d="M577.5 1206.1L591.1 1209.9L572.6 1211.3L559 1208Z" fill="#f9ff37"/>
<path d="M467 1175.2L481.1 1187.5L463.3 1188.3L449.2 1176.5Z" fill="#c0ff3b"/>
<path d="M289 1055.4L304.8 1082.7L287.4 1082.7L271.5 1055.9Z" fill="url(#qC8)"/>
<path d="M322.2 1082L337.6 1106.7L320.3 1106.9L304.8 1082.7Z" fill="url(#qC27)"/>
<path d="M499.2 1185.9L513.1 1196.1L495.1 1197.2L481.1 1187.5Z" fill="#d2ff3a"/>
<path d="M609.9 1207.6L623.6 1209.5L604.8 1211.3L591.1 1209.9Z" fill="#f8ff37"/>
<path d="M355.2 1105.7L370.2 1127.8L352.8 1128.2L337.6 1106.7Z" fill="url(#qC46)"/>
<path d="M387.9 1126.5L402.6 1146.2L385.1 1146.9L370.2 1127.8Z" fill="#95ff4d"/>
<path d="M531.4 1194.1L545.2 1202.3L527 1203.8L513.1 1196.1Z" fill="#deff39"/>
<path d="M420.4 1144.7L434.9 1162L417.2 1163L402.6 1146.2Z" fill="#99ff45"/>
<path d="M563.7 1199.9L577.5 1206.1L559 1208L545.2 1202.3Z" fill="#e5ff38"/>
<path d="M452.7 1160.2L467 1175.2L449.2 1176.5L434.9 1162Z" fill="#9dff3e"/>
<path d="M596.2 1203.3L609.9 1207.6L591.1 1209.9L577.5 1206.1Z" fill="#e8ff38"/>
<path d="M306.6 1054.1L322.2 1082L304.8 1082.7L289 1055.4Z" fill="url(#qC7)"/>
<path d="M485.1 1173L499.2 1185.9L481.1 1187.5L467 1175.2Z" fill="#b0ff3c"/>
<path d="M339.9 1080.5L355.2 1105.7L337.6 1106.7L322.2 1082Z" fill="url(#qC26)"/>
<path d="M517.4 1183.4L531.4 1194.1L513.1 1196.1L499.2 1185.9Z" fill="#c1ff3b"/>
<path d="M372.9 1103.9L387.9 1126.5L370.2 1127.8L355.2 1105.7Z" fill="url(#qC45)"/>
<path d="M405.7 1124.5L420.4 1144.7L402.6 1146.2L387.9 1126.5Z" fill="#93ff51"/>
<path d="M549.8 1191.2L563.7 1199.9L545.2 1202.3L531.4 1194.1Z" fill="#ccff3a"/>
<path d="M438.3 1142.3L452.7 1160.2L434.9 1162L420.4 1144.7Z" fill="#97ff49"/>
<path d="M582.4 1196.6L596.2 1203.3L577.5 1206.1L563.7 1199.9Z" fill="#d3ff3a"/>
<path d="M470.8 1157.5L485.1 1173L467 1175.2L452.7 1160.2Z" fill="#9bff42"/>
<path d="M324.3 1052.1L339.9 1080.5L322.2 1082L306.6 1054.1Z" fill="url(#qC6)"/>
<path d="M503.3 1170L517.4 1183.4L499.2 1185.9L485.1 1173Z" fill="#9fff3d"/>
<path d="M357.6 1078.2L372.9 1103.9L355.2 1105.7L339.9 1080.5Z" fill="url(#qC25)"/>
<path d="M390.7 1101.3L405.7 1124.5L387.9 1126.5L372.9 1103.9Z" fill="url(#qC44)"/>
<path d="M535.9 1180L549.8 1191.2L531.4 1194.1L517.4 1183.4Z" fill="#aeff3c"/>
<path d="M423.6 1121.6L438.3 1142.3L420.4 1144.7L405.7 1124.5Z" fill="url(#qC53)"/>
<path d="M568.5 1187.4L582.4 1196.6L563.7 1199.9L549.8 1191.2Z" fill="#b9ff3b"/>
<path d="M456.4 1139.1L470.8 1157.5L452.7 1160.2L438.3 1142.3Z" fill="#95ff4d"/>
<path d="M489.1 1153.9L503.3 1170L485.1 1173L470.8 1157.5Z" fill="#98ff47"/>
<path d="M342.1 1049.3L357.6 1078.2L339.9 1080.5L324.3 1052.1Z" fill="url(#qC5)"/>
<path d="M521.8 1166L535.9 1180L517.4 1183.4L503.3 1170Z" fill="#9bff42"/>
<path d="M375.6 1075.1L390.7 1101.3L372.9 1103.9L357.6 1078.2Z" fill="url(#qC24)"/>
<path d="M408.8 1097.9L423.6 1121.6L405.7 1124.5L390.7 1101.3Z" fill="url(#qC43)"/>
<path d="M554.6 1175.6L568.5 1187.4L549.8 1191.2L535.9 1180Z" fill="#9dff3e"/>
<path d="M441.8 1117.8L456.4 1139.1L438.3 1142.3L423.6 1121.6Z" fill="url(#qC52)"/>
<path d="M474.7 1135L489.1 1153.9L470.8 1157.5L456.4 1139.1Z" fill="url(#qC56)"/>
<path d="M507.6 1149.4L521.8 1166L503.3 1170L489.1 1153.9Z" fill="#95ff4c"/>
<path d="M360.1 1045.6L375.6 1075.1L357.6 1078.2L342.1 1049.3Z" fill="url(#qC4)"/>
<path d="M393.7 1071.1L408.8 1097.9L390.7 1101.3L375.6 1075.1Z" fill="url(#qC23)"/>
<path d="M540.5 1161.1L554.6 1175.6L535.9 1180L521.8 1166Z" fill="#98ff47"/>
<path d="M427 1093.5L441.8 1117.8L423.6 1121.6L408.8 1097.9Z" fill="url(#qC42)"/>
<path d="M460.1 1113.1L474.7 1135L456.4 1139.1L441.8 1117.8Z" fill="url(#qC51)"/>
<path d="M493.2 1129.9L507.6 1149.4L489.1 1153.9L474.7 1135Z" fill="url(#qC55)"/>
<path d="M526.3 1143.9L540.5 1161.1L521.8 1166L507.6 1149.4Z" fill="#92ff52"/>
<path d="M378.3 1041L393.7 1071.1L375.6 1075.1L360.1 1045.6Z" fill="url(#qC3)"/>
<path d="M411.9 1066.2L427 1093.5L408.8 1097.9L393.7 1071.1Z" fill="url(#qC22)"/>
<path d="M445.3 1088.3L460.1 1113.1L441.8 1117.8L427 1093.5Z" fill="url(#qC41)"/>
<path d="M478.7 1107.5L493.2 1129.9L474.7 1135L460.1 1113.1Z" fill="url(#qC50)"/>
<path d="M511.9 1123.8L526.3 1143.9L507.6 1149.4L493.2 1129.9Z" fill="url(#qC54)"/>
<path d="M396.6 1035.6L411.9 1066.2L393.7 1071.1L378.3 1041Z" fill="url(#qC2)"/>
<path d="M430.4 1060.3L445.3 1088.3L427 1093.5L411.9 1066.2Z" fill="url(#qC21)"/>
<path d="M463.9 1082.1L478.7 1107.5L460.1 1113.1L445.3 1088.3Z" fill="url(#qC40)"/>
<path d="M497.4 1100.8L511.9 1123.8L493.2 1129.9L478.7 1107.5Z" fill="url(#qC49)"/>
<path d="M415.1 1029.2L430.4 1060.3L411.9 1066.2L396.6 1035.6Z" fill="url(#qC1)"/>
<path d="M449 1053.5L463.9 1082.1L445.3 1088.3L430.4 1060.3Z" fill="url(#qC20)"/>
<path d="M482.7 1074.8L497.4 1100.8L478.7 1107.5L463.9 1082.1Z" fill="url(#qC39)"/>
<path d="M433.8 1021.8L449 1053.5L430.4 1060.3L415.1 1029.2Z" fill="url(#qC0)"/>
<path d="M467.8 1045.7L482.7 1074.8L463.9 1082.1L449 1053.5Z" fill="url(#qC19)"/>
<path d="M452.7 1013.4L467.8 1045.7L449 1053.5L433.8 1021.8Z" fill="#1129fc"/>
</g>
<circle cx="102.3" cy="1014.3" r="7.3" fill="#bd1010" stroke="#4a0c0a" stroke-width="1.7"/>
<circle cx="452.7" cy="879.1" r="7.3" fill="#bd1010" stroke="#4a0c0a" stroke-width="1.7"/>
<circle cx="452.7" cy="1041.6" r="7.2" fill="#fbe3e3" stroke="#3a1410" stroke-width="1.7"/>
<circle cx="113.4" cy="1241.1" r="3.7" fill="#000"/>
<text transform="translate(100.0 1233.1)" font-family='"DejaVu Sans Condensed","DejaVu Sans","Liberation Sans",sans-serif' font-size="23.3" text-anchor="end" fill="#1a1a1a" stroke="#1a1a1a" stroke-width="0.35">32</text>
<circle cx="110.1" cy="1171.1" r="3.7" fill="#000"/>
<text transform="translate(96.7 1163.1)" font-family='"DejaVu Sans Condensed","DejaVu Sans","Liberation Sans",sans-serif' font-size="23.3" text-anchor="end" fill="#1a1a1a" stroke="#1a1a1a" stroke-width="0.35">34</text>
<circle cx="106.8" cy="1101.1" r="3.7" fill="#000"/>
<text transform="translate(93.4 1093.1)" font-family='"DejaVu Sans Condensed","DejaVu Sans","Liberation Sans",sans-serif' font-size="23.3" text-anchor="end" fill="#1a1a1a" stroke="#1a1a1a" stroke-width="0.35">36</text>
<circle cx="103.6" cy="1031.1" r="3.7" fill="#000"/>
<text transform="translate(90.2 1023.1)" font-family='"DejaVu Sans Condensed","DejaVu Sans","Liberation Sans",sans-serif' font-size="23.3" text-anchor="end" fill="#1a1a1a" stroke="#1a1a1a" stroke-width="0.35">38</text>
<circle cx="100.3" cy="961.1" r="3.7" fill="#000"/>
<text transform="translate(86.9 953.1)" font-family='"DejaVu Sans Condensed","DejaVu Sans","Liberation Sans",sans-serif' font-size="23.3" text-anchor="end" fill="#1a1a1a" stroke="#1a1a1a" stroke-width="0.35">40</text>
<circle cx="97.0" cy="891.1" r="3.7" fill="#000"/>
<text transform="translate(83.6 883.1)" font-family='"DejaVu Sans Condensed","DejaVu Sans","Liberation Sans",sans-serif' font-size="23.3" text-anchor="end" fill="#1a1a1a" stroke="#1a1a1a" stroke-width="0.35">42</text>
<circle cx="118.5" cy="1349.6" r="3.7" fill="#000"/>
<text transform="translate(104.5 1373.4)" font-family='"DejaVu Sans Condensed","DejaVu Sans","Liberation Sans",sans-serif' font-size="23.3" text-anchor="end" fill="#1a1a1a" stroke="#1a1a1a" stroke-width="0.35">40</text>
<circle cx="202.1" cy="1389.8" r="3.7" fill="#000"/>
<text transform="translate(188.1 1413.6)" font-family='"DejaVu Sans Condensed","DejaVu Sans","Liberation Sans",sans-serif' font-size="23.3" text-anchor="end" fill="#1a1a1a" stroke="#1a1a1a" stroke-width="0.35">35</text>
<circle cx="285.6" cy="1430.0" r="3.7" fill="#000"/>
<text transform="translate(271.6 1453.8)" font-family='"DejaVu Sans Condensed","DejaVu Sans","Liberation Sans",sans-serif' font-size="23.3" text-anchor="end" fill="#1a1a1a" stroke="#1a1a1a" stroke-width="0.35">30</text>
<circle cx="369.1" cy="1470.2" r="3.7" fill="#000"/>
<text transform="translate(355.1 1494.0)" font-family='"DejaVu Sans Condensed","DejaVu Sans","Liberation Sans",sans-serif' font-size="23.3" text-anchor="end" fill="#1a1a1a" stroke="#1a1a1a" stroke-width="0.35">25</text>
<circle cx="452.7" cy="1510.4" r="3.7" fill="#000"/>
<text transform="translate(438.7 1534.2)" font-family='"DejaVu Sans Condensed","DejaVu Sans","Liberation Sans",sans-serif' font-size="23.3" text-anchor="end" fill="#1a1a1a" stroke="#1a1a1a" stroke-width="0.35">20</text>
<circle cx="452.7" cy="1510.4" r="3.7" fill="#000"/>
<text transform="translate(467.7 1534.4)" font-family='"DejaVu Sans Condensed","DejaVu Sans","Liberation Sans",sans-serif' font-size="23.3" text-anchor="start" fill="#1a1a1a" stroke="#1a1a1a" stroke-width="0.35">1</text>
<circle cx="519.4" cy="1478.4" r="3.7" fill="#000"/>
<text transform="translate(534.4 1502.4) scale(0.9 1)" font-family='"DejaVu Sans Condensed","DejaVu Sans","Liberation Sans",sans-serif' font-size="23.3" text-anchor="start" fill="#1a1a1a" stroke="#1a1a1a" stroke-width="0.35">1.2</text>
<circle cx="586.0" cy="1446.4" r="3.7" fill="#000"/>
<text transform="translate(601.0 1470.4) scale(0.9 1)" font-family='"DejaVu Sans Condensed","DejaVu Sans","Liberation Sans",sans-serif' font-size="23.3" text-anchor="start" fill="#1a1a1a" stroke="#1a1a1a" stroke-width="0.35">1.4</text>
<circle cx="652.7" cy="1414.5" r="3.7" fill="#000"/>
<text transform="translate(667.7 1438.5) scale(0.9 1)" font-family='"DejaVu Sans Condensed","DejaVu Sans","Liberation Sans",sans-serif' font-size="23.3" text-anchor="start" fill="#1a1a1a" stroke="#1a1a1a" stroke-width="0.35">1.6</text>
<circle cx="719.3" cy="1382.5" r="3.7" fill="#000"/>
<text transform="translate(734.3 1406.5) scale(0.9 1)" font-family='"DejaVu Sans Condensed","DejaVu Sans","Liberation Sans",sans-serif' font-size="23.3" text-anchor="start" fill="#1a1a1a" stroke="#1a1a1a" stroke-width="0.35">1.8</text>
<circle cx="786.0" cy="1350.5" r="3.7" fill="#000"/>
<text transform="translate(801.0 1374.5)" font-family='"DejaVu Sans Condensed","DejaVu Sans","Liberation Sans",sans-serif' font-size="23.3" text-anchor="start" fill="#1a1a1a" stroke="#1a1a1a" stroke-width="0.35">2</text>
<text transform="translate(195.5 1517.7)" font-family='"Liberation Serif","Noto Serif CJK SC",serif' font-size="31.6" text-anchor="middle" fill="#1a1a1a">Temperature (℃)</text>
<text transform="translate(740.7 1518.6)" font-family='"Liberation Serif","Noto Serif CJK SC",serif' font-size="31.6" text-anchor="middle" fill="#1a1a1a">DA concentration (g/L)</text>
<text transform="translate(42.6 1123.0) rotate(-90)" font-family='"Liberation Serif","Noto Serif CJK SC",serif' font-size="31.6" text-anchor="middle" fill="#1a1a1a">Contact angle (°)</text>
<path d="M120.5 2133.7 L453.6 2007.4 L453.6 1597.3 L99.4 1677.0 Z" fill="#fff" stroke="#111" stroke-width="1.9" stroke-linejoin="round"/>
<path d="M453.6 2007.4 L785.4 2133.7 L808.0 1677.6 L453.6 1597.3 Z" fill="#fff" stroke="#111" stroke-width="1.9" stroke-linejoin="round"/>
<path d="M115.5 2025.6 L453.6 1910.4 L790.7 2025.8" fill="none" stroke="#111" stroke-width="1.9"/>
<path d="M112.3 1955.9 L453.6 1847.7 L794.2 1956.1" fill="none" stroke="#111" stroke-width="1.9"/>
<path d="M109.1 1886.2 L453.6 1785.1 L797.6 1886.5" fill="none" stroke="#111" stroke-width="1.9"/>
<path d="M105.8 1816.5 L453.6 1722.5 L801.1 1816.9" fill="none" stroke="#111" stroke-width="1.9"/>
<path d="M102.6 1746.7 L453.6 1659.9 L804.5 1747.2" fill="none" stroke="#111" stroke-width="1.9"/>
<line x1="200.0" y1="1996.8" x2="188.0" y2="1657.1" stroke="#111" stroke-width="1.9"/>
<line x1="284.6" y1="1968.0" x2="276.5" y2="1637.2" stroke="#111" stroke-width="1.9"/>
<line x1="369.1" y1="1939.2" x2="365.1" y2="1617.2" stroke="#111" stroke-width="1.9"/>
<line x1="706.5" y1="1996.9" x2="719.4" y2="1657.5" stroke="#111" stroke-width="1.9"/>
<line x1="622.2" y1="1968.1" x2="630.8" y2="1637.4" stroke="#111" stroke-width="1.9"/>
<line x1="537.9" y1="1939.2" x2="542.2" y2="1617.4" stroke="#111" stroke-width="1.9"/>
<clipPath id="fcE"><path d="M453.6 2293.9 L785.4 2133.7 L453.6 2007.4 L120.5 2133.7 Z"/></clipPath>
<path d="M453.6 2293.9 L785.4 2133.7 L453.6 2007.4 L120.5 2133.7 Z" fill="#696969" stroke="none"/>
<g clip-path="url(#fcE)">
<path d="M454.8 2293.3 L458.6 2286.2 L461.0 2281.5 L463.3 2277.3 L466.3 2271.9 L470.2 2264.8 L472.5 2260.7 L474.9 2256.6 L478.4 2250.4 L482.0 2244.4 L484.4 2240.3 L486.9 2236.1 L491.2 2228.9 L494.1 2224.3 L496.5 2220.3 L500.1 2214.6 L504.0 2208.5 L506.5 2204.6 L509.3 2200.3 L514.0 2193.2 L516.7 2189.2 L519.2 2185.3 L523.6 2178.9 L527.0 2173.9 L529.6 2170.2 L533.5 2164.6 L537.5 2159.0 L540.2 2155.2 L543.7 2150.4 L548.2 2144.2 L550.9 2140.5 L554.2 2136.1 L559.0 2129.6 L561.7 2126.0 L564.9 2121.9 L570.0 2115.3 L572.7 2111.7 L575.9 2107.8 L581.1 2101.2 L583.8 2097.7 L587.1 2093.6 L592.3 2087.2 L595.1 2083.8 L598.6 2079.6 L603.6 2073.5 L606.5 2070.1 L609.3 2066.7" fill="none" stroke="#e01818" stroke-width="3"/>
<path d="M249.0 2195.5 L250.8 2191.4 L252.7 2187.3 L254.8 2182.4 L257.5 2176.4 L259.9 2171.0 L261.7 2167.0 L263.4 2162.9 L265.3 2158.5 L267.8 2152.6 L270.2 2146.8 L272.0 2142.8 L273.7 2138.8 L275.3 2134.7 L277.4 2129.6 L279.8 2124.0 L281.9 2118.8 L283.5 2114.9 L285.1 2110.9 L286.7 2107.0 L288.7 2101.8 L290.9 2096.3 L292.9 2091.3 L294.5 2087.4 L296.0 2083.5 L297.5 2079.6 L299.3 2074.9 L301.3 2069.6 L303.3 2064.4 L303.3 2064.4" fill="none" stroke="#e01818" stroke-width="3"/>
<path d="M559.2 2242.9 L563.3 2235.8 L566.0 2231.0 L568.3 2227.0 L571.5 2221.6 L575.4 2214.9 L577.8 2210.9 L580.2 2206.9 L584.1 2200.5 L587.4 2195.0 L589.9 2191.1 L592.7 2186.5 L597.1 2179.5 L599.6 2175.5 L602.1 2171.6 L606.0 2165.5 L609.6 2160.1 L612.0 2156.3 L615.1 2151.6 L619.6 2144.9 L622.1 2141.1 L624.7 2137.4 L629.1 2130.9 L632.3 2126.2 L634.9 2122.6 L638.7 2117.1 L642.6 2111.5 L645.2 2107.9 L648.4 2103.4 L653.0 2097.0 L655.6 2093.4 L658.3 2089.8 L660.9 2086.3" fill="none" stroke="#e01818" stroke-width="3"/>
<path d="M186.7 2165.5 L189.4 2159.9 L192.4 2153.9 L194.4 2149.8 L196.3 2145.9 L198.1 2141.9 L200.9 2136.1 L203.7 2130.3 L205.6 2126.4 L207.5 2122.5 L209.3 2118.7 L212.0 2112.9 L214.7 2107.3 L216.6 2103.3 L218.4 2099.5 L220.0 2096.0" fill="none" stroke="#e01818" stroke-width="3"/>
<path d="M634.1 2206.7 L637.3 2201.3 L639.7 2197.3 L642.4 2192.7 L646.6 2185.8 L649.2 2181.4 L651.6 2177.5 L655.1 2171.8 L658.9 2165.8 L661.3 2161.9 L663.7 2158.0 L668.1 2151.1 L671.1 2146.5 L673.5 2142.7 L677.0 2137.4 L680.9 2131.3 L683.4 2127.6 L686.0 2123.7 L690.5 2116.9 L693.4 2112.6 L695.9 2108.9 L699.7 2103.4 L701.0 2101.6" fill="none" stroke="#e01818" stroke-width="3"/>
<path d="M142.2 2144.1 L144.9 2138.7 L147.9 2132.8 L150.0 2128.7 L151.9 2124.9 L153.9 2121.1 L153.9 2121.1" fill="none" stroke="#e01818" stroke-width="3"/>
<path d="M695.7 2177.0 L698.6 2172.2 L701.0 2168.3 L704.1 2163.2 L708.2 2156.5 L710.6 2152.6 L713.0 2148.8 L716.9 2142.5 L720.3 2137.2 L722.7 2133.4 L725.6 2128.9 L730.0 2122.1 L732.5 2118.3 L735.0 2114.5 L735.0 2114.5" fill="none" stroke="#e01818" stroke-width="3"/>
<path d="M749.3 2151.1 L753.0 2145.2 L755.4 2141.3 L757.8 2137.4 L762.0 2130.6 L765.0 2125.9 L765.0 2125.9" fill="none" stroke="#e01818" stroke-width="3"/>
</g>
<path d="M453.6 2293.9 L785.4 2133.7 L453.6 2007.4 L120.5 2133.7 Z" fill="none" stroke="#111" stroke-width="2.2" stroke-linejoin="round"/>
<circle cx="112.0" cy="1934.8" r="7.2" fill="#fbe4e4" stroke="#3a1410" stroke-width="1.7"/>
<g stroke="#0d0d0d" stroke-width="1.6" stroke-linejoin="round">
<path d="M453.6 1879.3L468.5 1875.1L453.6 1869.8L438.7 1873.7Z" fill="#e85018"/>
<path d="M438.5 1883.4L453.6 1879.3L438.7 1873.7L423.6 1877.4Z" fill="#e85018"/>
<path d="M468.6 1884.5L483.5 1880L468.5 1875.1L453.6 1879.3Z" fill="#e85018"/>
<path d="M453.5 1889L468.6 1884.5L453.6 1879.3L438.5 1883.4Z" fill="#e85018"/>
<path d="M423.2 1887.4L438.5 1883.4L423.6 1877.4L408.3 1881.1Z" fill="#e85018"/>
<path d="M483.9 1889.4L498.8 1884.5L483.5 1880L468.6 1884.5Z" fill="#e85018"/>
<path d="M438.3 1893.3L453.5 1889L438.5 1883.4L423.2 1887.4Z" fill="#e85018"/>
<path d="M468.8 1894.2L483.9 1889.4L468.6 1884.5L453.5 1889Z" fill="#e85018"/>
<path d="M407.7 1891.3L423.2 1887.4L408.3 1881.1L392.8 1884.6Z" fill="#e85018"/>
<path d="M499.3 1893.9L514.2 1888.7L498.8 1884.5L483.9 1889.4Z" fill="#e85018"/>
<path d="M453.5 1898.9L468.8 1894.2L453.5 1889L438.3 1893.3Z" fill="#e85018"/>
<path d="M422.8 1897.6L438.3 1893.3L423.2 1887.4L407.7 1891.3Z" fill="#e85018"/>
<path d="M484.2 1899.1L499.3 1893.9L483.9 1889.4L468.8 1894.2Z" fill="#e85018"/>
<path d="M392 1895L407.7 1891.3L392.8 1884.6L377.1 1888Z" fill="#e85018"/>
<path d="M515 1898L529.9 1892.4L514.2 1888.7L499.3 1893.9Z" fill="#e85018"/>
<path d="M438 1903.6L453.5 1898.9L438.3 1893.3L422.8 1897.6Z" fill="#e85018"/>
<path d="M468.9 1904.2L484.2 1899.1L468.8 1894.2L453.5 1898.9Z" fill="#e85018"/>
<path d="M407.1 1901.7L422.8 1897.6L407.7 1891.3L392 1895Z" fill="#e85018"/>
<path d="M499.9 1903.5L515 1898L499.3 1893.9L484.2 1899.1Z" fill="#e85018"/>
<path d="M376.1 1898.7L392 1895L377.1 1888L361.1 1891.3Z" fill="#e95719"/>
<path d="M530.8 1901.7L545.8 1895.7L529.9 1892.4L515 1898Z" fill="#e85018"/>
<path d="M453.5 1909.2L468.9 1904.2L453.5 1898.9L438 1903.6Z" fill="#e85018"/>
<path d="M422.4 1908.1L438 1903.6L422.8 1897.6L407.1 1901.7Z" fill="#e85018"/>
<path d="M484.6 1909L499.9 1903.5L484.2 1899.1L468.9 1904.2Z" fill="#e85018"/>
<path d="M391.2 1905.7L407.1 1901.7L392 1895L376.1 1898.7Z" fill="#e85018"/>
<path d="M515.7 1907.6L530.8 1901.7L515 1898L499.9 1903.5Z" fill="#e85018"/>
<path d="M360 1902.2L376.1 1898.7L361.1 1891.3L344.9 1894.4Z" fill="#ea5f1a"/>
<path d="M546.9 1904.9L561.9 1898.6L545.8 1895.7L530.8 1901.7Z" fill="#e85018"/>
<path d="M437.8 1914L453.5 1909.2L438 1903.6L422.4 1908.1Z" fill="#e85018"/>
<path d="M469.1 1914.4L484.6 1909L468.9 1904.2L453.5 1909.2Z" fill="#e85018"/>
<path d="M406.5 1912.5L422.4 1908.1L407.1 1901.7L391.2 1905.7Z" fill="#e85018"/>
<path d="M500.4 1913.4L515.7 1907.6L499.9 1903.5L484.6 1909Z" fill="#e85018"/>
<path d="M375.1 1909.6L391.2 1905.7L376.1 1898.7L360 1902.2Z" fill="#e95619"/>
<path d="M531.8 1911.2L546.9 1904.9L530.8 1901.7L515.7 1907.6Z" fill="#e85018"/>
<path d="M343.6 1905.5L360 1902.2L344.9 1894.4L328.5 1897.3Z" fill="#ec671c"/>
<path d="M563.3 1907.6L578.3 1900.9L561.9 1898.6L546.9 1904.9Z" fill="#e95a1a"/>
<path d="M453.5 1919.6L469.1 1914.4L453.5 1909.2L437.8 1914Z" fill="#e85018"/>
<path d="M422 1918.8L437.8 1914L422.4 1908.1L406.5 1912.5Z" fill="#e85018"/>
<path d="M484.9 1919.1L500.4 1913.4L484.6 1909L469.1 1914.4Z" fill="#e85018"/>
<path d="M390.5 1916.8L406.5 1912.5L391.2 1905.7L375.1 1909.6Z" fill="#e85018"/>
<path d="M516.5 1917.4L531.8 1911.2L515.7 1907.6L500.4 1913.4Z" fill="#e85018"/>
<path d="M358.8 1913.4L375.1 1909.6L360 1902.2L343.6 1905.5Z" fill="#ea5e1a"/>
<path d="M548.1 1914.3L563.3 1907.6L546.9 1904.9L531.8 1911.2Z" fill="#e95619"/>
<path d="M327 1908.7L343.6 1905.5L328.5 1897.3L311.9 1900.1Z" fill="#ed711d"/>
<path d="M579.9 1909.8L595 1902.8L578.3 1900.9L563.3 1907.6Z" fill="#ec671c"/>
<path d="M437.6 1924.8L453.5 1919.6L437.8 1914L422 1918.8Z" fill="#e85018"/>
<path d="M469.3 1924.8L484.9 1919.1L469.1 1914.4L453.5 1919.6Z" fill="#e85018"/>
<path d="M405.9 1923.5L422 1918.8L406.5 1912.5L390.5 1916.8Z" fill="#e85018"/>
<path d="M501 1923.5L516.5 1917.4L500.4 1913.4L484.9 1919.1Z" fill="#e85018"/>
<path d="M374.2 1920.9L390.5 1916.8L375.1 1909.6L358.8 1913.4Z" fill="#e95619"/>
<path d="M532.7 1920.9L548.1 1914.3L531.8 1911.2L516.5 1917.4Z" fill="#e85318"/>
<path d="M342.3 1917L358.8 1913.4L343.6 1905.5L327 1908.7Z" fill="#eb661b"/>
<path d="M564.6 1916.9L579.9 1909.8L563.3 1907.6L548.1 1914.3Z" fill="#eb621b"/>
<path d="M310.2 1911.8L327 1908.7L311.9 1900.1L295 1902.8Z" fill="#ef7c1f"/>
<path d="M596.7 1911.5L611.9 1904.1L595 1902.8L579.9 1909.8Z" fill="#ee771e"/>
<path d="M453.4 1930.4L469.3 1924.8L453.5 1919.6L437.6 1924.8Z" fill="#e85018"/>
<path d="M421.6 1929.9L437.6 1924.8L422 1918.8L405.9 1923.5Z" fill="#e85018"/>
<path d="M485.3 1929.5L501 1923.5L484.9 1919.1L469.3 1924.8Z" fill="#e85018"/>
<path d="M389.7 1928L405.9 1923.5L390.5 1916.8L374.2 1920.9Z" fill="#e85018"/>
<path d="M517.2 1927.4L532.7 1920.9L516.5 1917.4L501 1923.5Z" fill="#e85018"/>
<path d="M357.7 1924.9L374.2 1920.9L358.8 1913.4L342.3 1917Z" fill="#ea5d1a"/>
<path d="M549.2 1923.8L564.6 1916.9L548.1 1914.3L532.7 1920.9Z" fill="#ea5d1a"/>
<path d="M325.5 1920.4L342.3 1917L327 1908.7L310.2 1911.8Z" fill="#ed6f1d"/>
<path d="M581.4 1918.9L596.7 1911.5L579.9 1909.8L564.6 1916.9Z" fill="#ed701d"/>
<path d="M293.1 1914.6L310.2 1911.8L295 1902.8L277.8 1905.2Z" fill="#f18720"/>
<path d="M613.8 1912.6L629.1 1904.8L611.9 1904.1L596.7 1911.5Z" fill="#f28921"/>
<path d="M437.4 1935.8L453.4 1930.4L437.6 1924.8L421.6 1929.9Z" fill="#e85018"/>
<path d="M469.5 1935.5L485.3 1929.5L469.3 1924.8L453.4 1930.4Z" fill="#e85018"/>
<path d="M405.4 1934.8L421.6 1929.9L405.9 1923.5L389.7 1928Z" fill="#e85018"/>
<path d="M501.5 1933.8L517.2 1927.4L501 1923.5L485.3 1929.5Z" fill="#e85018"/>
<path d="M373.2 1932.5L389.7 1928L374.2 1920.9L357.7 1924.9Z" fill="#e95519"/>
<path d="M533.7 1930.7L549.2 1923.8L532.7 1920.9L517.2 1927.4Z" fill="#e95919"/>
<path d="M340.9 1928.8L357.7 1924.9L342.3 1917L325.5 1920.4Z" fill="#eb641b"/>
<path d="M565.9 1926.3L581.4 1918.9L564.6 1916.9L549.2 1923.8Z" fill="#ec6a1c"/>
<path d="M308.5 1923.7L325.5 1920.4L310.2 1911.8L293.1 1914.6Z" fill="#ef791e"/>
<path d="M598.4 1920.5L613.8 1912.6L596.7 1911.5L581.4 1918.9Z" fill="#f08120"/>
<path d="M275.7 1917.3L293.1 1914.6L277.8 1905.2L260.4 1907.4Z" fill="#f39322"/>
<path d="M631.2 1913.1L646.5 1904.9L629.1 1904.8L613.8 1912.6Z" fill="#f59d24"/>
<path d="M453.4 1941.3L469.5 1935.5L453.4 1930.4L437.4 1935.8Z" fill="#e85018"/>
<path d="M421.2 1941.2L437.4 1935.8L421.6 1929.9L405.4 1934.8Z" fill="#e85018"/>
<path d="M485.7 1940.1L501.5 1933.8L485.3 1929.5L469.5 1935.5Z" fill="#e85018"/>
<path d="M388.9 1939.6L405.4 1934.8L389.7 1928L373.2 1932.5Z" fill="#e85018"/>
<path d="M517.9 1937.6L533.7 1930.7L517.2 1927.4L501.5 1933.8Z" fill="#e95519"/>
<path d="M356.5 1936.7L373.2 1932.5L357.7 1924.9L340.9 1928.8Z" fill="#ea5c1a"/>
<path d="M550.3 1933.6L565.9 1926.3L549.2 1923.8L533.7 1930.7Z" fill="#eb651b"/>
<path d="M324 1932.5L340.9 1928.8L325.5 1920.4L308.5 1923.7Z" fill="#ed6d1d"/>
<path d="M582.9 1928.2L598.4 1920.5L581.4 1918.9L565.9 1926.3Z" fill="#ef791e"/>
<path d="M291.2 1926.8L308.5 1923.7L293.1 1914.6L275.7 1917.3Z" fill="#f18420"/>
<path d="M615.7 1921.4L631.2 1913.1L613.8 1912.6L598.4 1920.5Z" fill="#f49423"/>
<path d="M258.1 1919.8L275.7 1917.3L260.4 1907.4L242.7 1909.5Z" fill="#f6a124"/>
<path d="M648.9 1913L664.3 1904.3L646.5 1904.9L631.2 1913.1Z" fill="#f9b528"/>
<path d="M437.2 1947.1L453.4 1941.3L437.4 1935.8L421.2 1941.2Z" fill="#e85018"/>
<path d="M469.6 1946.4L485.7 1940.1L469.5 1935.5L453.4 1941.3Z" fill="#e85018"/>
<path d="M404.8 1946.4L421.2 1941.2L405.4 1934.8L388.9 1939.6Z" fill="#e85018"/>
<path d="M502.1 1944.3L517.9 1937.6L501.5 1933.8L485.7 1940.1Z" fill="#e85218"/>
<path d="M372.3 1944.3L388.9 1939.6L373.2 1932.5L356.5 1936.7Z" fill="#e95519"/>
<path d="M534.6 1940.8L550.3 1933.6L533.7 1930.7L517.9 1937.6Z" fill="#ea601a"/>
<path d="M339.6 1940.8L356.5 1936.7L340.9 1928.8L324 1932.5Z" fill="#eb631b"/>
<path d="M567.3 1935.9L582.9 1928.2L565.9 1926.3L550.3 1933.6Z" fill="#ee731d"/>
<path d="M306.8 1936L324 1932.5L308.5 1923.7L291.2 1926.8Z" fill="#ee771e"/>
<path d="M600.2 1929.5L615.7 1921.4L598.4 1920.5L582.9 1928.2Z" fill="#f28b21"/>
<path d="M273.7 1929.7L291.2 1926.8L275.7 1917.3L258.1 1919.8Z" fill="#f39022"/>
<path d="M633.3 1921.6L648.9 1913L631.2 1913.1L615.7 1921.4Z" fill="#f7aa26"/>
<path d="M240.2 1922L258.1 1919.8L242.7 1909.5L224.7 1911.3Z" fill="#f8af27"/>
<path d="M666.8 1912.2L682.3 1903.1L664.3 1904.3L648.9 1913Z" fill="#fecf2c"/>
<path d="M453.4 1952.5L469.6 1946.4L453.4 1941.3L437.2 1947.1Z" fill="#e85018"/>
<path d="M420.8 1952.7L437.2 1947.1L421.2 1941.2L404.8 1946.4Z" fill="#e85018"/>
<path d="M486 1951L502.1 1944.3L485.7 1940.1L469.6 1946.4Z" fill="#e85018"/>
<path d="M388.2 1951.5L404.8 1946.4L388.9 1939.6L372.3 1944.3Z" fill="#e85018"/>
<path d="M518.7 1948L534.6 1940.8L517.9 1937.6L502.1 1944.3Z" fill="#ea5b1a"/>
<path d="M355.4 1948.8L372.3 1944.3L356.5 1936.7L339.6 1940.8Z" fill="#ea5b1a"/>
<path d="M551.5 1943.5L567.3 1935.9L550.3 1933.6L534.6 1940.8Z" fill="#ed6c1c"/>
<path d="M322.5 1944.8L339.6 1940.8L324 1932.5L306.8 1936Z" fill="#ec6b1c"/>
<path d="M584.4 1937.6L600.2 1929.5L582.9 1928.2L567.3 1935.9Z" fill="#f18320"/>
<path d="M289.3 1939.3L306.8 1936L291.2 1926.8L273.7 1929.7Z" fill="#f08220"/>
<path d="M617.6 1930.2L633.3 1921.6L615.7 1921.4L600.2 1929.5Z" fill="#f6a024"/>
<path d="M255.9 1932.4L273.7 1929.7L258.1 1919.8L240.2 1922Z" fill="#f59d24"/>
<path d="M651.2 1921.2L666.8 1912.2L648.9 1913L633.3 1921.6Z" fill="#fcc32a"/>
<path d="M222.1 1924L240.2 1922L224.7 1911.3L206.4 1912.8Z" fill="#fbbf29"/>
<path d="M685.1 1910.7L700.7 1901.1L682.3 1903.1L666.8 1912.2Z" fill="#ffec30"/>
<path d="M437 1958.6L453.4 1952.5L437.2 1947.1L420.8 1952.7Z" fill="#e85018"/>
<path d="M469.8 1957.5L486 1951L469.6 1946.4L453.4 1952.5Z" fill="#e85018"/>
<path d="M404.2 1958.2L420.8 1952.7L404.8 1946.4L388.2 1951.5Z" fill="#e85018"/>
<path d="M502.6 1955L518.7 1948L502.1 1944.3L486 1951Z" fill="#e95819"/>
<path d="M371.4 1956.4L388.2 1951.5L372.3 1944.3L355.4 1948.8Z" fill="#e85519"/>
<path d="M535.5 1951.1L551.5 1943.5L534.6 1940.8L518.7 1948Z" fill="#ec671c"/>
<path d="M338.4 1953.2L355.4 1948.8L339.6 1940.8L322.5 1944.8Z" fill="#eb621b"/>
<path d="M568.6 1945.7L584.4 1937.6L567.3 1935.9L551.5 1943.5Z" fill="#ef7c1f"/>
<path d="M305.1 1948.6L322.5 1944.8L306.8 1936L289.3 1939.3Z" fill="#ee751e"/>
<path d="M601.9 1938.7L617.6 1930.2L600.2 1929.5L584.4 1937.6Z" fill="#f49623"/>
<path d="M271.7 1942.5L289.3 1939.3L273.7 1929.7L255.9 1932.4Z" fill="#f28d21"/>
<path d="M635.4 1930.2L651.2 1921.2L633.3 1921.6L617.6 1930.2Z" fill="#fab728"/>
<path d="M237.8 1934.9L255.9 1932.4L240.2 1922L222.1 1924Z" fill="#f8ac26"/>
<path d="M669.3 1920.1L685.1 1910.7L666.8 1912.2L651.2 1921.2Z" fill="#ffdf2e"/>
<path d="M203.6 1925.8L222.1 1924L206.4 1912.8L187.9 1914.2Z" fill="#fed02c"/>
<path d="M703.7 1908.4L719.5 1898.4L700.7 1901.1L685.1 1910.7Z" fill="#ffff35"/>
<path d="M453.4 1964L469.8 1957.5L453.4 1952.5L437 1958.6Z" fill="#e85018"/>
<path d="M420.5 1964.5L437 1958.6L420.8 1952.7L404.2 1958.2Z" fill="#e85018"/>
<path d="M486.4 1962L502.6 1955L486 1951L469.8 1957.5Z" fill="#e95519"/>
<path d="M387.5 1963.6L404.2 1958.2L388.2 1951.5L371.4 1956.4Z" fill="#e85018"/>
<path d="M519.4 1958.6L535.5 1951.1L518.7 1948L502.6 1955Z" fill="#eb621b"/>
<path d="M354.3 1961.2L371.4 1956.4L355.4 1948.8L338.4 1953.2Z" fill="#e95a1a"/>
<path d="M552.6 1953.6L568.6 1945.7L551.5 1943.5L535.5 1951.1Z" fill="#ee751e"/>
<path d="M321.1 1957.4L338.4 1953.2L322.5 1944.8L305.1 1948.6Z" fill="#ec6a1c"/>
<path d="M585.9 1947.2L601.9 1938.7L584.4 1937.6L568.6 1945.7Z" fill="#f28d21"/>
<path d="M287.5 1952.2L305.1 1948.6L289.3 1939.3L271.7 1942.5Z" fill="#f07f1f"/>
<path d="M619.5 1939.2L635.4 1930.2L617.6 1930.2L601.9 1938.7Z" fill="#f8ac26"/>
<path d="M253.7 1945.4L271.7 1942.5L255.9 1932.4L237.8 1934.9Z" fill="#f59a23"/>
<path d="M653.5 1929.6L669.3 1920.1L651.2 1921.2L635.4 1930.2Z" fill="#fed12c"/>
<path d="M219.5 1937.2L237.8 1934.9L222.1 1924L203.6 1925.8Z" fill="#fabb28"/>
<path d="M687.8 1918.3L703.7 1908.4L685.1 1910.7L669.3 1920.1Z" fill="#fffd33"/>
<path d="M184.9 1927.4L203.6 1925.8L187.9 1914.2L169 1915.2Z" fill="#ffe22e"/>
<path d="M722.6 1905.3L738.5 1894.9L719.5 1898.4L703.7 1908.4Z" fill="#faff37"/>
<path d="M436.8 1970.3L453.4 1964L437 1958.6L420.5 1964.5Z" fill="#e85018"/>
<path d="M470 1968.9L486.4 1962L469.8 1957.5L453.4 1964Z" fill="#e85318"/>
<path d="M403.7 1970.3L420.5 1964.5L404.2 1958.2L387.5 1963.6Z" fill="#e85018"/>
<path d="M503.1 1965.9L519.4 1958.6L502.6 1955L486.4 1962Z" fill="#ea5e1a"/>
<path d="M370.5 1968.8L387.5 1963.6L371.4 1956.4L354.3 1961.2Z" fill="#e85519"/>
<path d="M536.4 1961.5L552.6 1953.6L535.5 1951.1L519.4 1958.6Z" fill="#ed6e1d"/>
<path d="M337.1 1965.9L354.3 1961.2L338.4 1953.2L321.1 1957.4Z" fill="#eb611b"/>
<path d="M569.9 1955.6L585.9 1947.2L568.6 1945.7L552.6 1953.6Z" fill="#f18520"/>
<path d="M303.5 1961.5L321.1 1957.4L305.1 1948.6L287.5 1952.2Z" fill="#ee721d"/>
<path d="M603.5 1948L619.5 1939.2L601.9 1938.7L585.9 1947.2Z" fill="#f6a225"/>
<path d="M269.7 1955.6L287.5 1952.2L271.7 1942.5L253.7 1945.4Z" fill="#f28a21"/>
<path d="M637.5 1938.9L653.5 1929.6L635.4 1930.2L619.5 1939.2Z" fill="#fcc52a"/>
<path d="M235.5 1948.2L253.7 1945.4L237.8 1934.9L219.5 1937.2Z" fill="#f7a826"/>
<path d="M671.8 1928.1L687.8 1918.3L669.3 1920.1L653.5 1929.6Z" fill="#ffef30"/>
<path d="M200.9 1939.2L219.5 1937.2L203.6 1925.8L184.9 1927.4Z" fill="#fdcb2b"/>
<path d="M706.6 1915.6L722.6 1905.3L703.7 1908.4L687.8 1918.3Z" fill="#ffff36"/>
<path d="M165.9 1928.6L184.9 1927.4L169 1915.2L149.8 1916Z" fill="#fff531"/>
<path d="M741.9 1901.3L758 1890.5L738.5 1894.9L722.6 1905.3Z" fill="#e4ff38"/>
<path d="M453.4 1975.6L470 1968.9L453.4 1964L436.8 1970.3Z" fill="#e85118"/>
<path d="M420.1 1976.6L436.8 1970.3L420.5 1964.5L403.7 1970.3Z" fill="#e85018"/>
<path d="M486.7 1973.2L503.1 1965.9L486.4 1962L470 1968.9Z" fill="#e95a1a"/>
<path d="M386.7 1976L403.7 1970.3L387.5 1963.6L370.5 1968.8Z" fill="#e85118"/>
<path d="M520.1 1969.3L536.4 1961.5L519.4 1958.6L503.1 1965.9Z" fill="#ec691c"/>
<path d="M353.3 1973.9L370.5 1968.8L354.3 1961.2L337.1 1965.9Z" fill="#e95a19"/>
<path d="M553.7 1963.9L569.9 1955.6L552.6 1953.6L536.4 1961.5Z" fill="#f07d1f"/>
<path d="M319.6 1970.4L337.1 1965.9L321.1 1957.4L303.5 1961.5Z" fill="#ec681c"/>
<path d="M587.4 1956.9L603.5 1948L585.9 1947.2L569.9 1955.6Z" fill="#f49823"/>
<path d="M285.7 1965.3L303.5 1961.5L287.5 1952.2L269.7 1955.6Z" fill="#ef7c1f"/>
<path d="M621.4 1948.2L637.5 1938.9L619.5 1939.2L603.5 1948Z" fill="#fab928"/>
<path d="M251.6 1958.8L269.7 1955.6L253.7 1945.4L235.5 1948.2Z" fill="#f49623"/>
<path d="M655.8 1938L671.8 1928.1L653.5 1929.6L637.5 1938.9Z" fill="#ffe12e"/>
<path d="M217 1950.7L235.5 1948.2L219.5 1937.2L200.9 1939.2Z" fill="#fab628"/>
<path d="M690.5 1925.9L706.6 1915.6L687.8 1918.3L671.8 1928.1Z" fill="#ffff35"/>
<path d="M182 1940.9L200.9 1939.2L184.9 1927.4L165.9 1928.6Z" fill="#ffdd2e"/>
<path d="M725.8 1912.2L741.9 1901.3L722.6 1905.3L706.6 1915.6Z" fill="#eeff38"/>
<path d="M146.5 1929.6L165.9 1928.6L149.8 1916L130.3 1916.4Z" fill="#ffff35"/>
<path d="M761.6 1896.5L777.8 1885.1L758 1890.5L741.9 1901.3Z" fill="#cdff3a"/>
<path d="M436.7 1982.3L453.4 1975.6L436.8 1970.3L420.1 1976.6Z" fill="#e85018"/>
<path d="M470.2 1980.4L486.7 1973.2L470 1968.9L453.4 1975.6Z" fill="#e95719"/>
<path d="M403.2 1982.7L420.1 1976.6L403.7 1970.3L386.7 1976Z" fill="#e85018"/>
<path d="M503.7 1977L520.1 1969.3L503.1 1965.9L486.7 1973.2Z" fill="#eb641b"/>
<path d="M369.6 1981.5L386.7 1976L370.5 1968.8L353.3 1973.9Z" fill="#e85519"/>
<path d="M537.3 1972.1L553.7 1963.9L536.4 1961.5L520.1 1969.3Z" fill="#ee761e"/>
<path d="M335.9 1978.9L353.3 1973.9L337.1 1965.9L319.6 1970.4Z" fill="#ea5f1a"/>
<path d="M571.1 1965.6L587.4 1956.9L569.9 1955.6L553.7 1963.9Z" fill="#f38f22"/>
<path d="M301.9 1974.7L319.6 1970.4L303.5 1961.5L285.7 1965.3Z" fill="#ed701d"/>
<path d="M605.2 1957.5L621.4 1948.2L603.5 1948L587.4 1956.9Z" fill="#f8ae26"/>
<path d="M267.7 1969L285.7 1965.3L269.7 1955.6L251.6 1958.8Z" fill="#f18720"/>
<path d="M639.6 1947.7L655.8 1938L637.5 1938.9L621.4 1948.2Z" fill="#ffd32c"/>
<path d="M233.2 1961.8L251.6 1958.8L235.5 1948.2L217 1950.7Z" fill="#f6a425"/>
<path d="M674.3 1936.2L690.5 1925.9L671.8 1928.1L655.8 1938Z" fill="#ffff33"/>
<path d="M198.3 1952.9L217 1950.7L200.9 1939.2L182 1940.9Z" fill="#fcc62a"/>
<path d="M709.5 1922.9L725.8 1912.2L706.6 1915.6L690.5 1925.9Z" fill="#f8ff37"/>
<path d="M162.8 1942.4L182 1940.9L165.9 1928.6L146.5 1929.6Z" fill="#fff031"/>
<path d="M745.3 1907.8L761.6 1896.5L741.9 1901.3L725.8 1912.2Z" fill="#d8ff39"/>
<path d="M126.9 1930.3L146.5 1929.6L130.3 1916.4L110.5 1916.6Z" fill="#ffff36"/>
<path d="M781.6 1890.7L798 1878.8L777.8 1885.1L761.6 1896.5Z" fill="#b4ff3c"/>
<path d="M453.4 1987.5L470.2 1980.4L453.4 1975.6L436.7 1982.3Z" fill="#e85519"/>
<path d="M419.7 1988.8L436.7 1982.3L420.1 1976.6L403.2 1982.7Z" fill="#e85018"/>
<path d="M487.1 1984.7L503.7 1977L486.7 1973.2L470.2 1980.4Z" fill="#ea5f1a"/>
<path d="M386 1988.6L403.2 1982.7L386.7 1976L369.6 1981.5Z" fill="#e85218"/>
<path d="M520.8 1980.3L537.3 1972.1L520.1 1969.3L503.7 1977Z" fill="#ed701d"/>
<path d="M352.2 1986.9L369.6 1981.5L353.3 1973.9L335.9 1978.9Z" fill="#e95919"/>
<path d="M554.7 1974.3L571.1 1965.6L553.7 1963.9L537.3 1972.1Z" fill="#f18620"/>
<path d="M318.2 1983.6L335.9 1978.9L319.6 1970.4L301.9 1974.7Z" fill="#ec661b"/>
<path d="M588.9 1966.7L605.2 1957.5L587.4 1956.9L571.1 1965.6Z" fill="#f6a325"/>
<path d="M284 1978.8L301.9 1974.7L285.7 1965.3L267.7 1969Z" fill="#ef791e"/>
<path d="M623.3 1957.4L639.6 1947.7L621.4 1948.2L605.2 1957.5Z" fill="#fcc62a"/>
<path d="M249.5 1972.5L267.7 1969L251.6 1958.8L233.2 1961.8Z" fill="#f39322"/>
<path d="M658 1946.4L674.3 1936.2L655.8 1938L639.6 1947.7Z" fill="#fff031"/>
<path d="M214.6 1964.5L233.2 1961.8L217 1950.7L198.3 1952.9Z" fill="#f9b227"/>
<path d="M693.2 1933.7L709.5 1922.9L690.5 1925.9L674.3 1936.2Z" fill="#ffff37"/>
<path d="M179.2 1954.9L198.3 1952.9L182 1940.9L162.8 1942.4Z" fill="#ffd82d"/>
<path d="M728.9 1919.1L745.3 1907.8L725.8 1912.2L709.5 1922.9Z" fill="#e3ff39"/>
<path d="M143.3 1943.6L162.8 1942.4L146.5 1929.6L126.9 1930.3Z" fill="#ffff34"/>
<path d="M765.1 1902.5L781.6 1890.7L761.6 1896.5L745.3 1907.8Z" fill="#c0ff3b"/>
<path d="M436.5 1994.5L453.4 1987.5L436.7 1982.3L419.7 1988.8Z" fill="#e85319"/>
<path d="M470.3 1992.2L487.1 1984.7L470.2 1980.4L453.4 1987.5Z" fill="#ea5c1a"/>
<path d="M402.6 1995.2L419.7 1988.8L403.2 1982.7L386 1988.6Z" fill="#e85118"/>
<path d="M504.2 1988.3L520.8 1980.3L503.7 1977L487.1 1984.7Z" fill="#ec6a1c"/>
<path d="M368.7 1994.4L386 1988.6L369.6 1981.5L352.2 1986.9Z" fill="#e85519"/>
<path d="M538.2 1982.9L554.7 1974.3L537.3 1972.1L520.8 1980.3Z" fill="#f07e1f"/>
<path d="M334.7 1992.1L352.2 1986.9L335.9 1978.9L318.2 1983.6Z" fill="#ea5e1a"/>
<path d="M572.4 1975.8L588.9 1966.7L571.1 1965.6L554.7 1974.3Z" fill="#f49923"/>
<path d="M300.4 1988.2L318.2 1983.6L301.9 1974.7L284 1978.8Z" fill="#ed6e1d"/>
<path d="M606.8 1967L623.3 1957.4L605.2 1957.5L588.9 1966.7Z" fill="#faba28"/>
<path d="M265.8 1982.7L284 1978.8L267.7 1969L249.5 1972.5Z" fill="#f18420"/>
<path d="M641.6 1956.6L658 1946.4L639.6 1947.7L623.3 1957.4Z" fill="#ffe22f"/>
<path d="M230.9 1975.7L249.5 1972.5L233.2 1961.8L214.6 1964.5Z" fill="#f69f24"/>
<path d="M676.8 1944.4L693.2 1933.7L674.3 1936.2L658 1946.4Z" fill="#ffff36"/>
<path d="M195.6 1967L214.6 1964.5L198.3 1952.9L179.2 1954.9Z" fill="#fbc129"/>
<path d="M712.4 1930.3L728.9 1919.1L709.5 1922.9L693.2 1933.7Z" fill="#edff38"/>
<path d="M159.9 1956.6L179.2 1954.9L162.8 1942.4L143.3 1943.6Z" fill="#ffea30"/>
<path d="M748.6 1914.3L765.1 1902.5L745.3 1907.8L728.9 1919.1Z" fill="#ccff3a"/>
<path d="M453.4 1999.6L470.3 1992.2L453.4 1987.5L436.5 1994.5Z" fill="#e95919"/>
<path d="M419.4 2001.3L436.5 1994.5L419.7 1988.8L402.6 1995.2Z" fill="#e85318"/>
<path d="M487.4 1996.3L504.2 1988.3L487.1 1984.7L470.3 1992.2Z" fill="#eb651b"/>
<path d="M385.4 2001.5L402.6 1995.2L386 1988.6L368.7 1994.4Z" fill="#e85318"/>
<path d="M521.6 1991.4L538.2 1982.9L520.8 1980.3L504.2 1988.3Z" fill="#ef771e"/>
<path d="M351.2 2000.1L368.7 1994.4L352.2 1986.9L334.7 1992.1Z" fill="#e95919"/>
<path d="M555.8 1984.8L572.4 1975.8L554.7 1974.3L538.2 1982.9Z" fill="#f39022"/>
<path d="M316.9 1997.1L334.7 1992.1L318.2 1983.6L300.4 1988.2Z" fill="#eb651b"/>
<path d="M590.3 1976.6L606.8 1967L588.9 1966.7L572.4 1975.8Z" fill="#f8af27"/>
<path d="M282.3 1992.6L300.4 1988.2L284 1978.8L265.8 1982.7Z" fill="#ee771e"/>
<path d="M625.1 1966.7L641.6 1956.6L623.3 1957.4L606.8 1967Z" fill="#ffd42c"/>
<path d="M247.4 1986.4L265.8 1982.7L249.5 1972.5L230.9 1975.7Z" fill="#f38f22"/>
<path d="M660.2 1955L676.8 1944.4L658 1946.4L641.6 1956.6Z" fill="#ffff33"/>
<path d="M212.2 1978.7L230.9 1975.7L214.6 1964.5L195.6 1967Z" fill="#f8ad26"/>
<path d="M695.8 1941.4L712.4 1930.3L693.2 1933.7L676.8 1944.4Z" fill="#f7ff37"/>
<path d="M176.4 1969.2L195.6 1967L179.2 1954.9L159.9 1956.6Z" fill="#fed22c"/>
<path d="M731.9 1926L748.6 1914.3L728.9 1919.1L712.4 1930.3Z" fill="#d7ff39"/>
<path d="M436.3 2006.9L453.4 1999.6L436.5 1994.5L419.4 2001.3Z" fill="#e95719"/>
<path d="M470.5 2004.1L487.4 1996.3L470.3 1992.2L453.4 1999.6Z" fill="#eb601b"/>
<path d="M402.1 2008.1L419.4 2001.3L402.6 1995.2L385.4 2001.5Z" fill="#e85318"/>
<path d="M504.7 1999.8L521.6 1991.4L504.2 1988.3L487.4 1996.3Z" fill="#ed711d"/>
<path d="M367.9 2007.6L385.4 2001.5L368.7 1994.4L351.2 2000.1Z" fill="#e95519"/>
<path d="M539.1 1993.8L555.8 1984.8L538.2 1982.9L521.6 1991.4Z" fill="#f18720"/>
<path d="M333.5 2005.6L351.2 2000.1L334.7 1992.1L316.9 1997.1Z" fill="#ea5d1a"/>
<path d="M573.6 1986.1L590.3 1976.6L572.4 1975.8L555.8 1984.8Z" fill="#f6a425"/>
<path d="M298.9 2002L316.9 1997.1L300.4 1988.2L282.3 1992.6Z" fill="#ed6c1c"/>
<path d="M608.5 1976.7L625.1 1966.7L606.8 1967L590.3 1976.6Z" fill="#fcc72a"/>
<path d="M264 1996.8L282.3 1992.6L265.8 1982.7L247.4 1986.4Z" fill="#f0801f"/>
<path d="M643.6 1965.5L660.2 1955L641.6 1956.6L625.1 1966.7Z" fill="#fff131"/>
<path d="M228.7 1989.9L247.4 1986.4L230.9 1975.7L212.2 1978.7Z" fill="#f59b24"/>
<path d="M679.2 1952.5L695.8 1941.4L676.8 1944.4L660.2 1955Z" fill="#ffff37"/>
<path d="M193.1 1981.4L212.2 1978.7L195.6 1967L176.4 1969.2Z" fill="#fbbc29"/>
<path d="M715.2 1937.6L731.9 1926L712.4 1930.3L695.8 1941.4Z" fill="#e2ff39"/>
<path d="M453.4 2011.9L470.5 2004.1L453.4 1999.6L436.3 2006.9Z" fill="#ea5d1a"/>
<path d="M419.1 2014.1L436.3 2006.9L419.4 2001.3L402.1 2008.1Z" fill="#e95519"/>
<path d="M487.8 2008.1L504.7 1999.8L487.4 1996.3L470.5 2004.1Z" fill="#ec6b1c"/>
<path d="M384.7 2014.6L402.1 2008.1L385.4 2001.5L367.9 2007.6Z" fill="#e85419"/>
<path d="M522.2 2002.6L539.1 1993.8L521.6 1991.4L504.7 1999.8Z" fill="#f07f1f"/>
<path d="M350.2 2013.6L367.9 2007.6L351.2 2000.1L333.5 2005.6Z" fill="#e95819"/>
<path d="M556.9 1995.5L573.6 1986.1L555.8 1984.8L539.1 1993.8Z" fill="#f49a23"/>
<path d="M315.5 2010.9L333.5 2005.6L316.9 1997.1L298.9 2002Z" fill="#eb631b"/>
<path d="M591.7 1986.6L608.5 1976.7L590.3 1976.6L573.6 1986.1Z" fill="#fabb28"/>
<path d="M280.6 2006.7L298.9 2002L282.3 1992.6L264 1996.8Z" fill="#ee741e"/>
<path d="M626.9 1976L643.6 1965.5L625.1 1966.7L608.5 1976.7Z" fill="#ffe22f"/>
<path d="M245.4 2000.8L264 1996.8L247.4 1986.4L228.7 1989.9Z" fill="#f28b21"/>
<path d="M662.4 1963.6L679.2 1952.5L660.2 1955L643.6 1965.5Z" fill="#ffff36"/>
<path d="M209.8 1993.2L228.7 1989.9L212.2 1978.7L193.1 1981.4Z" fill="#f7a926"/>
<path d="M698.4 1949.2L715.2 1937.6L695.8 1941.4L679.2 1952.5Z" fill="#edff38"/>
<path d="M436.2 2019.5L453.4 2011.9L436.3 2006.9L419.1 2014.1Z" fill="#e95a1a"/>
<path d="M470.7 2016.3L487.8 2008.1L470.5 2004.1L453.4 2011.9Z" fill="#eb661b"/>
<path d="M401.7 2021.1L419.1 2014.1L402.1 2008.1L384.7 2014.6Z" fill="#e85519"/>
<path d="M505.3 2011.4L522.2 2002.6L504.7 1999.8L487.8 2008.1Z" fill="#ef781e"/>
<path d="M367.1 2021L384.7 2014.6L367.9 2007.6L350.2 2013.6Z" fill="#e95519"/>
<path d="M540 2004.8L556.9 1995.5L539.1 1993.8L522.2 2002.6Z" fill="#f39022"/>
<path d="M332.3 2019.4L350.2 2013.6L333.5 2005.6L315.5 2010.9Z" fill="#ea5c1a"/>
<path d="M574.9 1996.5L591.7 1986.6L573.6 1986.1L556.9 1995.5Z" fill="#f8af27"/>
<path d="M297.4 2016.1L315.5 2010.9L298.9 2002L280.6 2006.7Z" fill="#ec6a1c"/>
<path d="M610 1986.4L626.9 1976L608.5 1976.7L591.7 1986.6Z" fill="#ffd42c"/>
<path d="M262.2 2011.1L280.6 2006.7L264 1996.8L245.4 2000.8Z" fill="#f07d1f"/>
<path d="M645.6 1974.5L662.4 1963.6L643.6 1965.5L626.9 1976Z" fill="#ffff33"/>
<path d="M226.6 2004.5L245.4 2000.8L228.7 1989.9L209.8 1993.2Z" fill="#f49723"/>
<path d="M681.5 1960.8L698.4 1949.2L679.2 1952.5L662.4 1963.6Z" fill="#f7ff37"/>
<path d="M453.4 2024.3L470.7 2016.3L453.4 2011.9L436.2 2019.5Z" fill="#eb611b"/>
<path d="M418.8 2027L436.2 2019.5L419.1 2014.1L401.7 2021.1Z" fill="#e95819"/>
<path d="M488.1 2020L505.3 2011.4L487.8 2008.1L470.7 2016.3Z" fill="#ed711d"/>
<path d="M384.1 2028L401.7 2021.1L384.7 2014.6L367.1 2021Z" fill="#e95519"/>
<path d="M522.9 2014L540 2004.8L522.2 2002.6L505.3 2011.4Z" fill="#f18720"/>
<path d="M349.2 2027.3L367.1 2021L350.2 2013.6L332.3 2019.4Z" fill="#e95819"/>
<path d="M557.9 2006.3L574.9 1996.5L556.9 1995.5L540 2004.8Z" fill="#f6a425"/>
<path d="M314.3 2025L332.3 2019.4L315.5 2010.9L297.4 2016.1Z" fill="#eb621b"/>
<path d="M593.1 1996.8L610 1986.4L591.7 1986.6L574.9 1996.5Z" fill="#fcc72a"/>
<path d="M279 2021L297.4 2016.1L280.6 2006.7L262.2 2011.1Z" fill="#ed711d"/>
<path d="M628.6 1985.4L645.6 1974.5L626.9 1976L610 1986.4Z" fill="#fff131"/>
<path d="M243.5 2015.4L262.2 2011.1L245.4 2000.8L226.6 2004.5Z" fill="#f18721"/>
<path d="M664.5 1972.2L681.5 1960.8L662.4 1963.6L645.6 1974.5Z" fill="#ffff37"/>
<path d="M436 2032.3L453.4 2024.3L436.2 2019.5L418.8 2027Z" fill="#ea5e1a"/>
<path d="M470.9 2028.5L488.1 2020L470.7 2016.3L453.4 2024.3Z" fill="#ec6b1c"/>
<path d="M401.2 2034.3L418.8 2027L401.7 2021.1L384.1 2028Z" fill="#e95719"/>
<path d="M505.8 2023.1L522.9 2014L505.3 2011.4L488.1 2020Z" fill="#f07f1f"/>
<path d="M366.3 2034.7L384.1 2028L367.1 2021L349.2 2027.3Z" fill="#e95619"/>
<path d="M540.8 2015.9L557.9 2006.3L540 2004.8L522.9 2014Z" fill="#f49923"/>
<path d="M331.2 2033.4L349.2 2027.3L332.3 2019.4L314.3 2025Z" fill="#ea5c1a"/>
<path d="M576.1 2007L593.1 1996.8L574.9 1996.5L557.9 2006.3Z" fill="#faba28"/>
<path d="M296 2030.4L314.3 2025L297.4 2016.1L279 2021Z" fill="#ec681c"/>
<path d="M611.6 1996.3L628.6 1985.4L610 1986.4L593.1 1996.8Z" fill="#ffe22f"/>
<path d="M260.4 2025.8L279 2021L262.2 2011.1L243.5 2015.4Z" fill="#ef7a1e"/>
<path d="M647.5 1983.6L664.5 1972.2L645.6 1974.5L628.6 1985.4Z" fill="#ffff36"/>
<path d="M453.5 2036.9L470.9 2028.5L453.4 2024.3L436 2032.3Z" fill="#ec661b"/>
<path d="M418.5 2040.1L436 2032.3L418.8 2027L401.2 2034.3Z" fill="#ea5b1a"/>
<path d="M488.5 2032.1L505.8 2023.1L488.1 2020L470.9 2028.5Z" fill="#ef771e"/>
<path d="M383.4 2041.5L401.2 2034.3L384.1 2028L366.3 2034.7Z" fill="#e95619"/>
<path d="M523.6 2025.5L540.8 2015.9L522.9 2014L505.8 2023.1Z" fill="#f39022"/>
<path d="M348.3 2041.2L366.3 2034.7L349.2 2027.3L331.2 2033.4Z" fill="#e95819"/>
<path d="M558.9 2017.2L576.1 2007L557.9 2006.3L540.8 2015.9Z" fill="#f8ae27"/>
<path d="M313 2039.3L331.2 2033.4L314.3 2025L296 2030.4Z" fill="#ea601a"/>
<path d="M594.5 2007L611.6 1996.3L593.1 1996.8L576.1 2007Z" fill="#ffd42c"/>
<path d="M277.5 2035.6L296 2030.4L279 2021L260.4 2025.8Z" fill="#ed6f1d"/>
<path d="M630.3 1994.9L647.5 1983.6L628.6 1985.4L611.6 1996.3Z" fill="#ffff33"/>
<path d="M435.9 2045.2L453.5 2036.9L436 2032.3L418.5 2040.1Z" fill="#eb621b"/>
<path d="M471 2041L488.5 2032.1L470.9 2028.5L453.5 2036.9Z" fill="#ed711d"/>
<path d="M400.7 2047.7L418.5 2040.1L401.2 2034.3L383.4 2041.5Z" fill="#e95919"/>
<path d="M506.3 2035L523.6 2025.5L505.8 2023.1L488.5 2032.1Z" fill="#f18720"/>
<path d="M365.5 2048.5L383.4 2041.5L366.3 2034.7L348.3 2041.2Z" fill="#e95719"/>
<path d="M541.6 2027.2L558.9 2017.2L540.8 2015.9L523.6 2025.5Z" fill="#f6a325"/>
<path d="M330.1 2047.6L348.3 2041.2L331.2 2033.4L313 2039.3Z" fill="#ea5b1a"/>
<path d="M577.2 2017.6L594.5 2007L576.1 2007L558.9 2017.2Z" fill="#fcc62a"/>
<path d="M294.6 2045L313 2039.3L296 2030.4L277.5 2035.6Z" fill="#eb661b"/>
<path d="M613.1 2006.1L630.3 1994.9L611.6 1996.3L594.5 2007Z" fill="#fff031"/>
<path d="M453.5 2049.7L471 2041L453.5 2036.9L435.9 2045.2Z" fill="#ec6b1c"/>
<path d="M418.2 2053.3L435.9 2045.2L418.5 2040.1L400.7 2047.7Z" fill="#ea5e1a"/>
<path d="M488.8 2044.3L506.3 2035L488.5 2032.1L471 2041Z" fill="#f07e1f"/>
<path d="M382.8 2055.2L400.7 2047.7L383.4 2041.5L365.5 2048.5Z" fill="#e95819"/>
<path d="M524.3 2037.1L541.6 2027.2L523.6 2025.5L506.3 2035Z" fill="#f49823"/>
<path d="M347.4 2055.4L365.5 2048.5L348.3 2041.2L330.1 2047.6Z" fill="#e95819"/>
<path d="M559.9 2028.1L577.2 2017.6L558.9 2017.2L541.6 2027.2Z" fill="#fab928"/>
<path d="M311.8 2053.8L330.1 2047.6L313 2039.3L294.6 2045Z" fill="#ea5f1a"/>
<path d="M595.8 2017.2L613.1 2006.1L594.5 2007L577.2 2017.6Z" fill="#ffe12e"/>
<path d="M435.8 2058.3L453.5 2049.7L435.9 2045.2L418.2 2053.3Z" fill="#eb661b"/>
<path d="M471.2 2053.5L488.8 2044.3L471 2041L453.5 2049.7Z" fill="#ee771e"/>
<path d="M400.3 2061.3L418.2 2053.3L400.7 2047.7L382.8 2055.2Z" fill="#ea5c1a"/>
<path d="M506.8 2047L524.3 2037.1L506.3 2035L488.8 2044.3Z" fill="#f38e22"/>
<path d="M364.8 2062.6L382.8 2055.2L365.5 2048.5L347.4 2055.4Z" fill="#e95819"/>
<path d="M542.5 2038.5L559.9 2028.1L541.6 2027.2L524.3 2037.1Z" fill="#f8ad26"/>
<path d="M329.1 2062.1L347.4 2055.4L330.1 2047.6L311.8 2053.8Z" fill="#e95a1a"/>
<path d="M578.4 2028.3L595.8 2017.2L577.2 2017.6L559.9 2028.1Z" fill="#fed22c"/>
<path d="M453.5 2062.6L471.2 2053.5L453.5 2049.7L435.8 2058.3Z" fill="#ed701d"/>
<path d="M417.9 2066.8L435.8 2058.3L418.2 2053.3L400.3 2061.3Z" fill="#eb621b"/>
<path d="M489.1 2056.6L506.8 2047L488.8 2044.3L471.2 2053.5Z" fill="#f18520"/>
<path d="M382.3 2069.1L400.3 2061.3L382.8 2055.2L364.8 2062.6Z" fill="#e95a1a"/>
<path d="M524.9 2048.8L542.5 2038.5L524.3 2037.1L506.8 2047Z" fill="#f6a125"/>
<path d="M346.5 2069.8L364.8 2062.6L347.4 2055.4L329.1 2062.1Z" fill="#e95819"/>
<path d="M560.9 2039.2L578.4 2028.3L559.9 2028.1L542.5 2038.5Z" fill="#fcc42a"/>
<path d="M435.6 2071.5L453.5 2062.6L435.8 2058.3L417.9 2066.8Z" fill="#ec6a1c"/>
<path d="M471.4 2066.2L489.1 2056.6L471.2 2053.5L453.5 2062.6Z" fill="#f07d1f"/>
<path d="M399.9 2075.1L417.9 2066.8L400.3 2061.3L382.3 2069.1Z" fill="#ea5e1a"/>
<path d="M507.2 2059L524.9 2048.8L506.8 2047L489.1 2056.6Z" fill="#f49723"/>
<path d="M364.1 2076.8L382.3 2069.1L364.8 2062.6L346.5 2069.8Z" fill="#e95919"/>
<path d="M543.2 2050L560.9 2039.2L542.5 2038.5L524.9 2048.8Z" fill="#fab728"/>
<path d="M453.5 2075.6L471.4 2066.2L453.5 2062.6L435.6 2071.5Z" fill="#ee761e"/>
<path d="M417.6 2080.3L435.6 2071.5L417.9 2066.8L399.9 2075.1Z" fill="#eb651b"/>
<path d="M489.5 2069.1L507.2 2059L489.1 2056.6L471.4 2066.2Z" fill="#f28d21"/>
<path d="M381.7 2083.2L399.9 2075.1L382.3 2069.1L364.1 2076.8Z" fill="#ea5c1a"/>
<path d="M525.5 2060.6L543.2 2050L524.9 2048.8L507.2 2059Z" fill="#f8ab26"/>
<path d="M435.5 2084.9L453.5 2075.6L435.6 2071.5L417.6 2080.3Z" fill="#ed6f1d"/>
<path d="M471.6 2079L489.5 2069.1L471.4 2066.2L453.5 2075.6Z" fill="#f18420"/>
<path d="M399.5 2089L417.6 2080.3L399.9 2075.1L381.7 2083.2Z" fill="#eb611b"/>
<path d="M507.7 2071.2L525.5 2060.6L507.2 2059L489.5 2069.1Z" fill="#f59f24"/>
<path d="M453.6 2088.8L471.6 2079L453.5 2075.6L435.5 2084.9Z" fill="#ef7b1f"/>
<path d="M417.4 2094L435.5 2084.9L417.6 2080.3L399.5 2089Z" fill="#ec691c"/>
<path d="M489.8 2081.6L507.7 2071.2L489.5 2069.1L471.6 2079Z" fill="#f49423"/>
<path d="M435.4 2098.4L453.6 2088.8L435.5 2084.9L417.4 2094Z" fill="#ee741e"/>
<path d="M471.7 2091.9L489.8 2081.6L471.6 2079L453.6 2088.8Z" fill="#f28a21"/>
<path d="M453.6 2102L471.7 2091.9L453.6 2088.8L435.4 2098.4Z" fill="#f08120"/>
</g>
<circle cx="799.2" cy="1858.9" r="7.3" fill="#bd1010" stroke="#4a0c0a" stroke-width="1.7"/>
<circle cx="453.6" cy="2085.7" r="6.6" fill="#c4161a" stroke="#6a0c0c" stroke-width="1.8"/>
<circle cx="453.6" cy="1960.2" r="6.6" fill="#c4161a" stroke="#6a0c0c" stroke-width="1.8"/>
<circle cx="453.6" cy="1975.5" r="6.6" fill="#c4161a" stroke="#6a0c0c" stroke-width="1.8"/>
<circle cx="115.5" cy="2025.6" r="3.7" fill="#000"/>
<text transform="translate(102.1 2016.1)" font-family='"DejaVu Sans Condensed","DejaVu Sans","Liberation Sans",sans-serif' font-size="23.3" text-anchor="end" fill="#1a1a1a" stroke="#1a1a1a" stroke-width="0.35">32</text>
<circle cx="112.3" cy="1955.9" r="3.7" fill="#000"/>
<text transform="translate(98.9 1946.4)" font-family='"DejaVu Sans Condensed","DejaVu Sans","Liberation Sans",sans-serif' font-size="23.3" text-anchor="end" fill="#1a1a1a" stroke="#1a1a1a" stroke-width="0.35">34</text>
<circle cx="109.1" cy="1886.2" r="3.7" fill="#000"/>
<text transform="translate(95.7 1876.7)" font-family='"DejaVu Sans Condensed","DejaVu Sans","Liberation Sans",sans-serif' font-size="23.3" text-anchor="end" fill="#1a1a1a" stroke="#1a1a1a" stroke-width="0.35">36</text>
<circle cx="105.8" cy="1816.5" r="3.7" fill="#000"/>
<text transform="translate(92.4 1807.0)" font-family='"DejaVu Sans Condensed","DejaVu Sans","Liberation Sans",sans-serif' font-size="23.3" text-anchor="end" fill="#1a1a1a" stroke="#1a1a1a" stroke-width="0.35">38</text>
<circle cx="102.6" cy="1746.7" r="3.7" fill="#000"/>
<text transform="translate(89.2 1737.2)" font-family='"DejaVu Sans Condensed","DejaVu Sans","Liberation Sans",sans-serif' font-size="23.3" text-anchor="end" fill="#1a1a1a" stroke="#1a1a1a" stroke-width="0.35">40</text>
<circle cx="99.4" cy="1677.0" r="3.7" fill="#000"/>
<text transform="translate(86.0 1667.5)" font-family='"DejaVu Sans Condensed","DejaVu Sans","Liberation Sans",sans-serif' font-size="23.3" text-anchor="end" fill="#1a1a1a" stroke="#1a1a1a" stroke-width="0.35">42</text>
<circle cx="120.5" cy="2133.7" r="3.7" fill="#000"/>
<text transform="translate(106.5 2157.5)" font-family='"DejaVu Sans Condensed","DejaVu Sans","Liberation Sans",sans-serif' font-size="23.3" text-anchor="end" fill="#1a1a1a" stroke="#1a1a1a" stroke-width="0.35">40</text>
<circle cx="203.8" cy="2173.8" r="3.7" fill="#000"/>
<text transform="translate(189.8 2197.6)" font-family='"DejaVu Sans Condensed","DejaVu Sans","Liberation Sans",sans-serif' font-size="23.3" text-anchor="end" fill="#1a1a1a" stroke="#1a1a1a" stroke-width="0.35">35</text>
<circle cx="287.1" cy="2213.8" r="3.7" fill="#000"/>
<text transform="translate(273.1 2237.6)" font-family='"DejaVu Sans Condensed","DejaVu Sans","Liberation Sans",sans-serif' font-size="23.3" text-anchor="end" fill="#1a1a1a" stroke="#1a1a1a" stroke-width="0.35">30</text>
<circle cx="370.3" cy="2253.9" r="3.7" fill="#000"/>
<text transform="translate(356.3 2277.7)" font-family='"DejaVu Sans Condensed","DejaVu Sans","Liberation Sans",sans-serif' font-size="23.3" text-anchor="end" fill="#1a1a1a" stroke="#1a1a1a" stroke-width="0.35">25</text>
<circle cx="453.6" cy="2293.9" r="3.7" fill="#000"/>
<text transform="translate(439.6 2317.7)" font-family='"DejaVu Sans Condensed","DejaVu Sans","Liberation Sans",sans-serif' font-size="23.3" text-anchor="end" fill="#1a1a1a" stroke="#1a1a1a" stroke-width="0.35">20</text>
<circle cx="453.6" cy="2293.9" r="3.7" fill="#000"/>
<text transform="translate(468.6 2317.9)" font-family='"DejaVu Sans Condensed","DejaVu Sans","Liberation Sans",sans-serif' font-size="23.3" text-anchor="start" fill="#1a1a1a" stroke="#1a1a1a" stroke-width="0.35">4</text>
<circle cx="536.6" cy="2253.9" r="3.7" fill="#000"/>
<text transform="translate(551.6 2277.9) scale(0.9 1)" font-family='"DejaVu Sans Condensed","DejaVu Sans","Liberation Sans",sans-serif' font-size="23.3" text-anchor="start" fill="#1a1a1a" stroke="#1a1a1a" stroke-width="0.35">4.5</text>
<circle cx="619.5" cy="2213.8" r="3.7" fill="#000"/>
<text transform="translate(634.5 2237.8)" font-family='"DejaVu Sans Condensed","DejaVu Sans","Liberation Sans",sans-serif' font-size="23.3" text-anchor="start" fill="#1a1a1a" stroke="#1a1a1a" stroke-width="0.35">5</text>
<circle cx="702.4" cy="2173.8" r="3.7" fill="#000"/>
<text transform="translate(717.4 2197.8) scale(0.9 1)" font-family='"DejaVu Sans Condensed","DejaVu Sans","Liberation Sans",sans-serif' font-size="23.3" text-anchor="start" fill="#1a1a1a" stroke="#1a1a1a" stroke-width="0.35">5.5</text>
<circle cx="785.4" cy="2133.7" r="3.7" fill="#000"/>
<text transform="translate(800.4 2157.7)" font-family='"DejaVu Sans Condensed","DejaVu Sans","Liberation Sans",sans-serif' font-size="23.3" text-anchor="start" fill="#1a1a1a" stroke="#1a1a1a" stroke-width="0.35">6</text>
<text transform="translate(208.0 2303.3)" font-family='"Liberation Serif","Noto Serif CJK SC",serif' font-size="31.6" text-anchor="middle" fill="#1a1a1a">Temperature (℃)</text>
<text transform="translate(699.2 2309.1)" font-family='"Liberation Serif","Noto Serif CJK SC",serif' font-size="31.6" text-anchor="middle" fill="#1a1a1a">Coating time (h)</text>
<text transform="translate(46.9 1901.0) rotate(-90)" font-family='"Liberation Serif","Noto Serif CJK SC",serif' font-size="31.6" text-anchor="middle" fill="#1a1a1a">Contact angle (°)</text>
<text transform="translate(3.0 33.3) scale(1.02 1)" font-family='"Liberation Sans","Noto Sans CJK SC",sans-serif' font-size="42.0" text-anchor="start" fill="#000" font-weight="bold">A</text>
<text transform="translate(947.0 33.0) scale(0.93 1)" font-family='"Liberation Sans","Noto Sans CJK SC",sans-serif' font-size="42.0" text-anchor="start" fill="#000" font-weight="bold">B</text>
<text transform="translate(0.4 826.4) scale(0.98 1)" font-family='"Liberation Sans","Noto Sans CJK SC",sans-serif' font-size="42.0" text-anchor="start" fill="#000" font-weight="bold">C</text>
<text transform="translate(947.0 826.0) scale(0.96 1)" font-family='"Liberation Sans","Noto Sans CJK SC",sans-serif' font-size="42.0" text-anchor="start" fill="#000" font-weight="bold">D</text>
<text transform="translate(0.2 1608.7) scale(0.93 1)" font-family='"Liberation Sans","Noto Sans CJK SC",sans-serif' font-size="42.0" text-anchor="start" fill="#000" font-weight="bold">E</text>
<text transform="translate(947.5 1608.4) scale(0.92 1)" font-family='"Liberation Sans","Noto Sans CJK SC",sans-serif' font-size="42.0" text-anchor="start" fill="#000" font-weight="bold">F</text>
</svg>
</body></html>
